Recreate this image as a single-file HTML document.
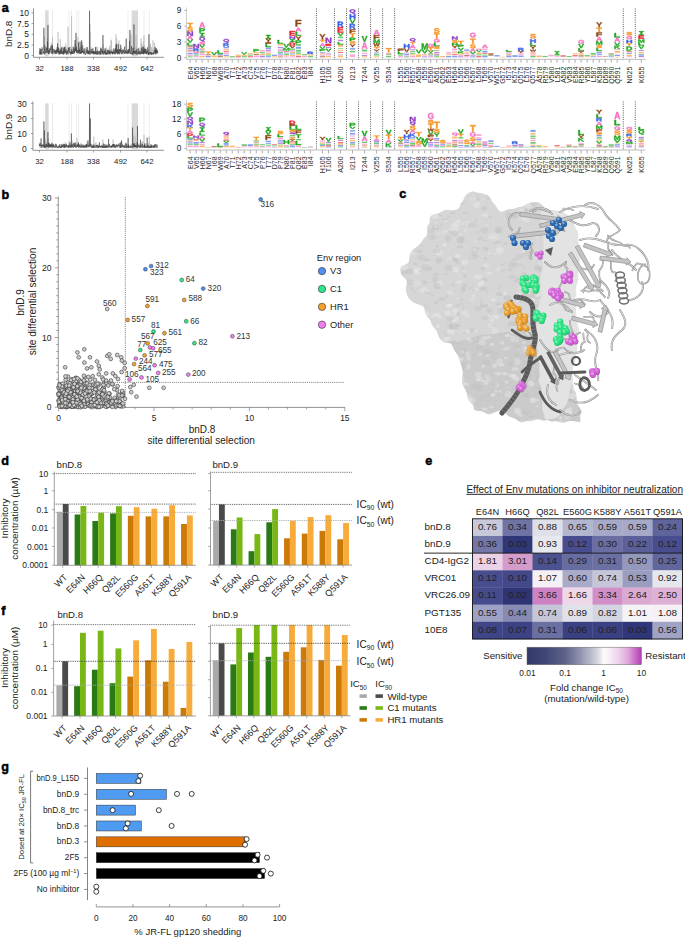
<!DOCTYPE html>
<html><head><meta charset="utf-8"><style>
html,body{margin:0;padding:0;background:#fff;}
body{width:685px;height:937px;overflow:hidden;}
svg{display:block;font-family:"Liberation Sans", sans-serif;}
use{stroke-width:0.45px;}
</style></head><body>
<svg width="685" height="937" viewBox="0 0 685 937" fill="#222">
<defs><path id="gA" d="M79 100 70 74H31L21 100H0L37 0H63L100 100ZM50 15 50 17Q49 20 48 23Q47 26 35 59H65L55 30L52 20Z" vector-effect="non-scaling-stroke"/>
<path id="gC" d="M53 84Q73 84 81 66L100 72Q94 86 82 93Q70 100 53 100Q28 100 14 87Q0 73 0 50Q0 26 13 13Q27 0 52 0Q71 0 82 7Q94 14 99 27L79 32Q77 25 70 20Q62 16 53 16Q38 16 30 25Q22 33 22 50Q22 66 30 75Q38 84 53 84Z" vector-effect="non-scaling-stroke"/>
<path id="gD" d="M100 49Q100 65 93 76Q86 88 74 94Q61 100 45 100H0V0H41Q69 0 84 13Q100 25 100 49ZM76 49Q76 33 67 25Q58 16 40 16H23V84H43Q59 84 67 75Q76 65 76 49Z" vector-effect="non-scaling-stroke"/>
<path id="gE" d="M0 100V0H96V16H26V41H91V57H26V84H100V100Z" vector-effect="non-scaling-stroke"/>
<path id="gF" d="M28 16V47H98V63H28V100H0V0H100V16Z" vector-effect="non-scaling-stroke"/>
<path id="gG" d="M52 84Q61 84 68 82Q76 79 80 76V62H56V47H100V83Q92 91 79 96Q66 100 52 100Q27 100 13 87Q0 74 0 50Q0 26 13 13Q27 0 52 0Q88 0 98 25L78 31Q75 24 68 20Q61 16 52 16Q37 16 29 25Q21 33 21 50Q21 66 30 75Q38 84 52 84Z" vector-effect="non-scaling-stroke"/>
<path id="gH" d="M75 100V57H25V100H0V0H25V40H75V0H100V100Z" vector-effect="non-scaling-stroke"/>
<path id="gI" d="M0 0H100V17H68V83H100V100H0V83H32V17H0Z" vector-effect="non-scaling-stroke"/>
<path id="gK" d="M74 100 35 54 22 64V100H0V0H22V45L70 0H96L51 42L100 100Z" vector-effect="non-scaling-stroke"/>
<path id="gL" d="M0 100V0H28V84H100V100Z" vector-effect="non-scaling-stroke"/>
<path id="gM" d="M82 100V39Q82 37 82 35Q82 33 82 18Q77 37 75 44L57 100H43L25 44L17 18Q18 34 18 39V100H0V0H28L45 56L47 61L50 75L54 59L73 0H100V100Z" vector-effect="non-scaling-stroke"/>
<path id="gN" d="M71 100 20 23Q22 34 22 41V100H0V0H28L80 78Q78 67 78 58V0H100V100Z" vector-effect="non-scaling-stroke"/>
<path id="gP" d="M100 32Q100 41 95 49Q89 56 79 61Q69 65 56 65H25V100H0V0H55Q76 0 88 8Q100 17 100 32ZM74 32Q74 16 52 16H25V49H52Q63 49 69 44Q74 40 74 32Z" vector-effect="non-scaling-stroke"/>
<path id="gQ" d="M100 39Q100 55 90 65Q81 75 63 78Q66 83 70 86Q74 88 82 88Q86 88 90 87L90 98Q81 100 73 100Q62 100 54 95Q47 90 42 79Q22 77 11 67Q0 56 0 39Q0 21 13 10Q26 0 50 0Q74 0 87 10Q100 21 100 39ZM79 39Q79 27 71 20Q64 13 50 13Q36 13 28 20Q21 27 21 39Q21 52 29 59Q36 67 50 67Q64 67 71 59Q79 52 79 39Z" vector-effect="non-scaling-stroke"/>
<path id="gR" d="M74 100 49 62H23V100H0V0H54Q74 0 84 8Q95 15 95 30Q95 40 88 48Q82 56 71 58L100 100ZM72 31Q72 16 52 16H23V46H52Q62 46 67 42Q72 38 72 31Z" vector-effect="non-scaling-stroke"/>
<path id="gS" d="M100 71Q100 85 87 92Q75 100 51 100Q29 100 16 93Q4 87 0 73L23 70Q26 78 32 81Q39 85 51 85Q77 85 77 72Q77 68 74 65Q71 62 66 60Q60 59 45 56Q33 54 27 52Q22 50 18 48Q14 46 11 43Q9 40 7 36Q5 32 5 27Q5 14 17 7Q29 0 51 0Q72 0 83 6Q94 11 97 24L74 27Q72 21 66 18Q61 14 51 14Q29 14 29 26Q29 30 31 32Q33 35 38 36Q43 38 56 41Q73 44 80 46Q87 49 91 52Q96 55 98 60Q100 65 100 71Z" vector-effect="non-scaling-stroke"/>
<path id="gT" d="M62 16V100H38V16H0V0H100V16Z" vector-effect="non-scaling-stroke"/>
<path id="gV" d="M61 100H39L0 0H23L45 64Q47 70 50 83L52 77L56 64L77 0H100Z" vector-effect="non-scaling-stroke"/>
<path id="gW" d="M81 100H63L53 42Q51 32 50 21Q49 30 48 35Q47 40 37 100H19L0 0H16L26 65L28 80Q30 70 31 61Q33 52 42 0H59L68 53Q69 59 72 80L73 72L76 56L84 0H100Z" vector-effect="non-scaling-stroke"/>
<path id="gY" d="M61 59V100H39V59L0 0H24L50 42L76 0H100Z" vector-effect="non-scaling-stroke"/>
<linearGradient id="cbar" x1="0" x2="1" y1="0" y2="0"><stop offset="0" stop-color="#343a68"/><stop offset="0.15" stop-color="#3f4574"/><stop offset="0.33" stop-color="#5d6289"/><stop offset="0.45" stop-color="#8a8daa"/><stop offset="0.55" stop-color="#b5b7c8"/><stop offset="0.62" stop-color="#d6d7df"/><stop offset="0.67" stop-color="#fbfbfb"/><stop offset="0.72" stop-color="#f8eef7"/><stop offset="0.8" stop-color="#eed0ec"/><stop offset="0.88" stop-color="#e0a8dc"/><stop offset="0.95" stop-color="#c86ac6"/><stop offset="1" stop-color="#ad3fb5"/></linearGradient>
<clipPath id="surfclip"><path d="M468.6 193Q472.2 191.1 474.2 191.8Q476.1 192.6 478.2 192.7Q480.3 192.9 483.1 193.6Q485.8 194.3 488.2 195.7Q490.5 197.2 491.2 199.4Q491.9 201.7 493.7 203.3Q495.5 204.8 497.2 208.3Q499 211.9 501.5 211.7Q504 211.5 506.2 210.1Q508.5 208.7 510.9 209Q513.3 209.3 515.3 208.3Q517.3 207.2 519.5 207Q521.7 206.8 523.5 205.9Q525.2 205 528.1 203.6Q531 202.2 534.9 202.2Q538.9 202.1 540.6 203.4Q542.4 204.6 543.7 206.7Q544.9 208.8 545.6 210.8Q546.3 212.7 546.6 214.7Q546.9 216.7 546.3 218.9Q545.7 221.1 547.2 223Q548.6 224.9 548.5 227.4Q548.5 229.9 548.2 232.5Q547.9 235 547.6 237.4Q547.4 239.9 548.3 242.3Q549.1 244.8 548.1 246.8Q547.1 248.9 547.1 251.2Q547.1 253.5 546.9 255.7Q546.8 258 546.1 260Q545.5 262.1 545.6 264.5Q545.7 266.8 544.7 269Q543.7 271.2 544.1 273.6Q544.6 276 543.8 278.2Q543.1 280.5 543.6 282.6Q544.2 284.7 544.3 286.8Q544.5 288.9 543.5 291.1Q542.6 293.3 542.9 295.4Q543.2 297.4 543.6 299.5Q544 301.5 545.4 303.4Q546.8 305.3 546.2 307.5Q545.6 309.7 546.2 311.7Q546.7 313.7 546.5 315.8Q546.2 317.9 547.1 319.8Q548.1 321.7 548.5 323.8Q549 325.9 549.5 327.9Q550.1 329.9 551.1 331.8Q552.1 333.7 552.7 335.7Q553.3 337.7 554.4 339.5Q555.5 341.4 555.8 343.5Q556.1 345.6 557 347.3Q557.9 349 558.8 351.1Q559.7 353.1 560.9 355Q562.1 356.9 562.7 359.2Q563.2 361.4 563.5 363.7Q563.8 366.1 565.8 367.7Q567.8 369.3 568.7 371.1Q569.6 372.9 570.3 374.8Q571 376.7 571.2 378.8Q571.5 380.9 572.5 382.7Q573.4 384.6 573.3 386.8Q573.1 389 574.7 390.7Q576.2 392.5 576.4 394.6Q576.6 396.7 576.8 398.8Q577 401 577.2 403Q577.5 405.1 579.1 406.9Q580.7 408.6 581.2 410.6Q581.8 412.6 580.8 414.8Q579.8 417.1 580.4 419.9Q581 422.8 578.9 422.2Q576.9 421.6 574.8 421.2Q572.7 420.8 570.6 421Q568.6 421.2 566.5 421.9Q564.4 422.7 562.4 422.8Q560.3 423 558.2 421.7Q556.1 420.4 554 421.3Q551.8 422.2 549.8 420.9Q547.9 419.7 545.5 420.3Q543.2 421 541.2 420Q539.2 419.1 537.3 419.5Q535.5 420 533.3 420.6Q531.2 421.3 528.9 421.1Q526.5 420.8 523.9 422.1Q521.2 423.3 519.3 421.5Q517.4 419.7 515.3 418.7Q513.3 417.6 510.7 417Q508.1 416.3 506.4 414.2Q504.7 412.1 502.3 411Q500 409.9 497.3 411.2Q494.7 412.5 491.7 413.8Q488.7 415.1 486.7 413.8Q484.7 412.4 482.6 411.6Q480.5 410.8 477.4 410.8Q474.2 410.9 473.8 408.2Q473.4 405.4 471.4 403.6Q469.3 401.7 468.2 399.3Q467.1 396.9 466.9 394.6Q466.6 392.2 465.5 390.3Q464.4 388.3 463.2 386.1Q462.1 383.9 462.1 381.9Q462 379.9 462.3 377.9Q462.5 375.9 462.8 374Q463 372.2 462.4 369.5Q461.8 366.7 460.9 364.4Q460.1 362.1 459.4 359.7Q458.8 357.2 457.6 355Q456.5 352.8 454.8 350.9Q453.2 349 452.6 346.5Q452 344 450.1 343.3Q448.2 342.5 446 342.7Q443.7 342.8 442 341.1Q440.2 339.5 439.1 337.6Q437.9 335.7 437.6 333.4Q437.2 331.1 435.5 329.5Q433.9 327.9 432.6 326.1Q431.3 324.3 430.9 322Q430.6 319.7 428.8 318.1Q426.9 316.5 425.9 314.5Q424.9 312.6 424.7 310.2Q424.5 307.8 423.1 306.5Q421.8 305.2 418.7 304.4Q415.6 303.6 413.4 302.4Q411.2 301.1 409.4 299.1Q407.6 297 406.9 294.6Q406.2 292.1 406 289.6Q405.8 287.1 406.6 284.4Q407.5 281.6 406.2 279.9Q404.9 278.2 402.8 276.6Q400.6 275.1 400.4 270.6Q400.2 266.1 402.9 265.5Q405.7 264.9 407.5 263.4Q409.3 261.9 409.3 259.2Q409.4 256.4 410.1 253.6Q410.9 250.8 412.8 249.5Q414.8 248.1 416.8 247Q418.8 245.8 420.1 244.1Q421.3 242.4 422.4 240.5Q423.4 238.6 425.1 237.3Q426.8 236 427 233.7Q427.3 231.4 427.1 229.1Q426.8 226.7 428.4 224.7Q429.9 222.6 429.7 219.8Q429.5 217.1 431.2 215.8Q432.9 214.6 435.1 214.2Q437.2 213.8 439.1 212.9Q441 212 443.2 210.8Q445.5 209.5 448 210Q450.5 210.5 452.9 210.2Q455.3 209.9 457.3 209.3Q459.4 208.8 459.8 206.3Q460.3 203.8 462 201.8Q463.7 199.8 464.4 197.4Q465 195 468.6 193Z"/></clipPath>
<radialGradient id="sph" cx="0.38" cy="0.32" r="0.75"><stop offset="0" stop-color="#fff" stop-opacity="0.6"/><stop offset="0.45" stop-color="#fff" stop-opacity="0"/><stop offset="1" stop-color="#000" stop-opacity="0.3"/></radialGradient></defs>
<text x="1.8" y="12" font-size="12.6" font-weight="bold" fill="#000" stroke="#000" stroke-width="0.5">a</text>
<rect x="45.14" y="10.4" width="3.52" height="45.9" fill="#d9d9d9"/>
<rect x="52.01" y="10.4" width="0.7" height="45.9" fill="#e6e6e6"/>
<rect x="52.19" y="10.4" width="0.7" height="45.9" fill="#e6e6e6"/>
<rect x="68.76" y="10.4" width="0.7" height="45.9" fill="#e6e6e6"/>
<rect x="71.05" y="10.4" width="0.7" height="45.9" fill="#e6e6e6"/>
<rect x="76.51" y="10.4" width="0.7" height="45.9" fill="#e6e6e6"/>
<rect x="78.45" y="10.4" width="0.7" height="45.9" fill="#e6e6e6"/>
<rect x="127.62" y="10.4" width="0.7" height="45.9" fill="#e6e6e6"/>
<rect x="131.67" y="10.4" width="6.34" height="45.9" fill="#d9d9d9"/>
<rect x="143.65" y="10.4" width="0.7" height="45.9" fill="#e6e6e6"/>
<rect x="148.94" y="10.4" width="0.7" height="45.9" fill="#e6e6e6"/>
<polyline points="39.32,53.59 39.5,52.74 39.68,53.11 39.85,52.41 40.03,52.79 40.2,52.43 40.38,54.5 40.56,52.54 40.73,50.76 40.91,54.49 41.09,49.68 41.26,52.49 41.44,53.23 41.61,54.61 41.79,50.76 41.97,54.1 42.14,53.59 42.32,52.15 42.5,54.1 42.67,54.21 42.85,54.23 43.02,52.98 43.2,51.75 43.38,52.09 43.55,52.18 43.73,53.26 43.91,52.46 44.08,53.71 44.26,47.16 44.43,36.39 44.61,54.59 44.79,53.94 44.96,48.83 45.14,54.16 45.32,53.12 45.49,51.51 45.67,53.66 45.84,49.06 46.02,46.52 46.2,53.3 46.37,49.04 46.55,53.35 46.73,53.48 46.9,51.44 47.08,51.27 47.25,52.76 47.43,49.26 47.61,37.67 47.78,53.26 47.96,53.47 48.14,49.8 48.31,49.85 48.49,50.49 48.66,53.89 48.84,52.01 49.02,51.48 49.19,54.22 49.37,53.56 49.55,50.83 49.72,50.34 49.9,51.22 50.07,50.73 50.25,51.43 50.43,51.74 50.6,52.29 50.78,53.38 50.95,52.52 51.13,52.84 51.31,42.74 51.48,51.47 51.66,52.24 51.84,52.57 52.01,52.47 52.19,52.66 52.36,51.28 52.54,37.24 52.72,50.57 52.89,53.41 53.07,51.83 53.25,50.18 53.42,53.92 53.6,51.96 53.77,51.89 53.95,53.07 54.13,53.21 54.3,54.47 54.48,49.89 54.66,53.77 54.83,54.04 55.01,50.91 55.18,54.38 55.36,49.58 55.54,50.96 55.71,50.47 55.89,52.21 56.07,53.7 56.24,54.3 56.42,47.35 56.59,52.72 56.77,52.88 56.95,47.59 57.12,53.28 57.3,52.61 57.48,52.51 57.65,52.44 57.83,53.7 58,32.12 58.18,48.65 58.36,50.19 58.53,54.91 58.71,54.43 58.89,51.3 59.06,52.32 59.24,52.73 59.41,49.44 59.59,54.26 59.77,48.9 59.94,51.96 60.12,51.09 60.3,38.95 60.47,50.33 60.65,52.66 60.82,53.14 61,50.58 61.18,51.59 61.35,53.79 61.53,48.32 61.7,48.61 61.88,47.91 62.06,51.88 62.23,51.11 62.41,52.63 62.59,53.57 62.76,52.13 62.94,51.87 63.11,53.38 63.29,47.03 63.47,54.3 63.64,53.57 63.82,53.34 64,48.36 64.17,52.39 64.35,52.55 64.52,53.37 64.7,53.4 64.88,53.98 65.05,50.04 65.23,51.18 65.41,50.03 65.58,53.44 65.76,43.56 65.93,53.87 66.11,54.67 66.29,53.06 66.46,52.34 66.64,51.12 66.82,53.84 66.99,51.1 67.17,47.3 67.34,53.59 67.52,53.54 67.7,54.35 67.87,51.98 68.05,26.56 68.23,50.4 68.4,50.38 68.58,48.19 68.75,51.83 68.93,49.81 69.11,53.53 69.28,53.39 69.46,51.61 69.64,53.36 69.81,50.51 69.99,47.65 70.16,50.9 70.34,52.94 70.52,52.88 70.69,46.82 70.87,53 71.05,51.46 71.22,52.32 71.4,51.82 71.57,16.32 71.75,52.74 71.93,53.68 72.1,46.67 72.28,50.96 72.46,49.44 72.63,51.59 72.81,49.17 72.98,46.99 73.16,46.27 73.34,51.77 73.51,51.76 73.69,49.82 73.86,50.29 74.04,49.41 74.22,52.59 74.39,54.39 74.57,50 74.75,48.52 74.92,48.93 75.1,43.79 75.27,47.94 75.45,51.65 75.63,47.31 75.8,50.92 75.98,45.63 76.16,49.92 76.33,48.98 76.51,49.92 76.68,50.66 76.86,53.47 77.04,50.84 77.21,54.27 77.39,49.61 77.57,47.99 77.74,41.28 77.92,37.24 78.09,52.45 78.27,53.59 78.45,41.54 78.62,53.34 78.8,47.68 78.98,54.2 79.15,51.01 79.33,48.3 79.5,49.59 79.68,50.83 79.86,52.43 80.03,52.67 80.21,47.05 80.39,49.28 80.56,51.02 80.74,50.26 80.91,52.7 81.09,47.46 81.27,46.23 81.44,52.59 81.62,50.57 81.8,47.12 81.97,52.36 82.15,41.98 82.32,45.16 82.5,51.61 82.68,47.93 82.85,44.56 83.03,53.44 83.21,49.57 83.38,51.5 83.56,51.88 83.73,49.19 83.91,52.3 84.09,53.66 84.26,53.72 84.44,51.48 84.61,49.78 84.79,51.36 84.97,51.79 85.14,51.66 85.32,47.62 85.5,50.56 85.67,53.01 85.85,52.4 86.02,48.62 86.2,53.09 86.38,52.69 86.55,52.16 86.73,53.59 86.91,49.47 87.08,54.5 87.26,47.42 87.43,52.81 87.61,53.85 87.79,51.82 87.96,54.33 88.14,51.53 88.32,50.73 88.49,53.38 88.67,52.96 88.84,50.08 89.02,53.28 89.2,52.18 89.37,51.56 89.55,48.54 89.73,53.5 89.9,23.58 90.08,50.25 90.25,32.12 90.43,53.11 90.61,54.69 90.78,54.61 90.96,46.97 91.14,52.25 91.31,49.03 91.49,52.95 91.66,51.62 91.84,53.16 92.02,53.46 92.19,52.9 92.37,52.68 92.55,48.91 92.72,52.85 92.9,51.84 93.07,53 93.25,52.19 93.43,54.19 93.6,50.32 93.78,53.39 93.96,52.81 94.13,53.17 94.31,50.95 94.48,51.79 94.66,52.71 94.84,52.4 95.01,52.06 95.19,51.34 95.36,51.74 95.54,49.62 95.72,48.11 95.89,51.35 96.07,54.18 96.25,48.18 96.42,46.53 96.6,53.25 96.77,53.13 96.95,54.61 97.13,50.8 97.3,53.82 97.48,47.06 97.66,54.82 97.83,52.17 98.01,51.03 98.18,53.17 98.36,53.64 98.54,51.89 98.71,53.09 98.89,52.87 99.07,52.52 99.24,53.29 99.42,52.82 99.59,50.7 99.77,53.09 99.95,52.45 100.12,53.84 100.3,51.03 100.48,54.24 100.65,50.58 100.83,55.05 101,53.84 101.18,54.36 101.36,50.86 101.53,52.51 101.71,54.34 101.89,53.65 102.06,49.7 102.24,52.66 102.41,51.33 102.59,54.25 102.77,54.26 102.94,51.31 103.12,44.55 103.3,53.29 103.47,51.25 103.65,53.7 103.82,48.92 104,53 104.18,52.97 104.35,54.48 104.53,53.09 104.71,52.27 104.88,49.03 105.06,54.01 105.23,50.09 105.41,52.89 105.59,52.81 105.76,53.66 105.94,54.37 106.11,53.94 106.29,47.18 106.47,53.77 106.64,52.97 106.82,49.22 107,54.54 107.17,51.28 107.35,53.03 107.52,51.71 107.7,49.78 107.88,52.26 108.05,52.24 108.23,49.86 108.41,50.24 108.58,52.91 108.76,51.97 108.93,53.67 109.11,47.84 109.29,53.74 109.46,51.56 109.64,45.82 109.82,49.41 109.99,52.24 110.17,52.9 110.34,52.77 110.52,49.04 110.7,50.77 110.87,51.7 111.05,39.64 111.23,53.21 111.4,40.66 111.58,52.34 111.75,51.07 111.93,50.68 112.11,52.07 112.28,49.62 112.46,50.18 112.64,52.3 112.81,54.59 112.99,49.74 113.16,53.41 113.34,53.06 113.52,52.2 113.69,53.78 113.87,53.2 114.05,51.8 114.22,52.57 114.4,50.97 114.57,53.09 114.75,52.18 114.93,53.51 115.1,52.42 115.28,51.42 115.46,52.63 115.63,54.04 115.81,52.49 115.98,34.25 116.16,49.02 116.34,52.03 116.51,52.75 116.69,38.52 116.86,45.72 117.04,53.68 117.22,53.82 117.39,52.64 117.57,54.45 117.75,50.01 117.92,52.16 118.1,51.36 118.27,53.8 118.45,53.25 118.63,50.62 118.8,50.67 118.98,40.53 119.16,49.99 119.33,54.55 119.51,52.34 119.68,53.12 119.86,50.1 120.04,52.61 120.21,51.64 120.39,52.83 120.57,51.02 120.74,48.56 120.92,53.32 121.09,54.55 121.27,53.68 121.45,47.62 121.62,51.85 121.8,52.86 121.98,53.71 122.15,49.9 122.33,51.87 122.5,52.61 122.68,53.12 122.86,52.48 123.03,52.69 123.21,50.87 123.39,48.89 123.56,54.51 123.74,54.14 123.91,52.5 124.09,52.1 124.27,54.23 124.44,53.29 124.62,53.16 124.8,53.28 124.97,53.18 125.15,52.53 125.32,50.47 125.5,50.8 125.68,51.12 125.85,51.89 126.03,53.34 126.21,53.16 126.38,51 126.56,52.15 126.73,50.69 126.91,51.82 127.09,51.99 127.26,51.32 127.44,54.11 127.61,52.55 127.79,53.16 127.97,50.21 128.14,53.21 128.32,51.69 128.5,52.85 128.67,51.02 128.85,50.59 129.02,52.68 129.2,52.17 129.38,52.1 129.55,50.85 129.73,52.91 129.91,52.38 130.08,53.13 130.26,53.85 130.43,52.52 130.61,52.06 130.79,53.61 130.96,48.51 131.14,34.25 131.32,51.04 131.49,51.78 131.67,54.43 131.84,52.45 132.02,54.25 132.2,52.54 132.37,50.99 132.55,47.14 132.73,50.86 132.9,54.29 133.08,53.07 133.25,48.52 133.43,52.08 133.61,47.15 133.78,53.52 133.96,53.33 134.14,54.18 134.31,53.39 134.49,50.03 134.66,53.89 134.84,50.94 135.02,51.89 135.19,51.14 135.37,53.21 135.55,52.86 135.72,47.21 135.9,54.23 136.07,35.1 136.25,48.16 136.43,51.29 136.6,46.87 136.78,54.91 136.96,52.6 137.13,53.8 137.31,52.74 137.48,52.04 137.66,50.45 137.84,53.13 138.01,49.23 138.19,53.86 138.37,48.59 138.54,52.02 138.72,54.11 138.89,54.09 139.07,54.1 139.25,53.21 139.42,51.23 139.6,47.53 139.77,49.38 139.95,53.63 140.13,54.45 140.3,52.24 140.48,53.81 140.66,52 140.83,52.83 141.01,38.31 141.18,53.94 141.36,50.4 141.54,43.18 141.71,52.06 141.89,52.75 142.07,44.76 142.24,54.23 142.42,53.87 142.59,53.32 142.77,49.95 142.95,48.76 143.12,51.45 143.3,41.73 143.48,51.87 143.65,51.52 143.83,52.24 144,35.1 144.18,51.45 144.36,52.17 144.53,45.13 144.71,47.54 144.89,48.85 145.06,53.62 145.24,53.39 145.41,52.22 145.59,52.32 145.77,52.66 145.94,52.22 146.12,50.35 146.3,53.55 146.47,51.44 146.65,52.79 146.82,52.85 147,52.5 147.18,50.04 147.35,51.32 147.53,53.07 147.71,50.93 147.88,51.58 148.06,50.84 148.23,52.46 148.41,49.34 148.59,51.43 148.76,53.78 148.94,53.92 149.12,53.98 149.29,51.11 149.47,53.14 149.64,52.69 149.82,52.08 150,48.69 150.17,43.46 150.35,52.25 150.52,44.63 150.7,50.6 150.88,47.69 151.05,52.08 151.23,53.47 151.41,50.24 151.58,47.02 151.76,53.89 151.93,51.47 152.11,50.78 152.29,50 152.46,53.52 152.64,52.73 152.82,48.92 152.99,40.23 153.17,51.23 153.34,48.27 153.52,50.92 153.7,50.5 153.87,52.21 154.05,51.85 154.23,52.58 154.4,51.48 154.58,42.79 154.75,51.41 154.93,50.32 155.11,53.01 155.28,50.35 155.46,54.96 155.64,53.98 155.81,52.62 155.99,54.36 156.16,50.9 156.34,51.76 156.52,53.58 156.69,52.03 156.87,54.13 157.05,53.59 157.22,52.79 157.4,54.18 157.57,49.36 157.75,53.17" fill="none" stroke="#b5b5b5" stroke-width="0.55" stroke-linejoin="bevel"/>
<polyline points="39.32,50.54 39.5,52.44 39.68,54.42 39.85,48.16 40.03,48.73 40.2,49.18 40.38,54.42 40.56,52.03 40.73,49.01 40.91,53.77 41.09,53.41 41.26,52.61 41.44,54.48 41.61,51.59 41.79,49.43 41.97,50.49 42.14,47.37 42.32,51.81 42.5,51.95 42.67,52.19 42.85,53.12 43.02,53.58 43.2,53.16 43.38,52.16 43.55,52.97 43.73,51.86 43.91,27.85 44.08,50.74 44.26,53 44.43,54.54 44.61,53.55 44.79,45.34 44.96,50.18 45.14,52.67 45.32,52.37 45.49,52.23 45.67,52.96 45.84,51.59 46.02,50.11 46.2,47.6 46.37,52.21 46.55,52.23 46.73,52.39 46.9,51.46 47.08,48.49 47.25,52.86 47.43,41.61 47.61,49.59 47.78,47.35 47.96,24.86 48.14,51.82 48.31,52.18 48.49,50.83 48.66,54.18 48.84,49.99 49.02,53.92 49.19,50.33 49.37,48.18 49.55,51.48 49.72,51.74 49.9,51.8 50.07,51.76 50.25,50.79 50.43,48.82 50.6,49.83 50.78,46.32 50.95,51.39 51.13,52.56 51.31,52.44 51.48,53.5 51.66,52.09 51.84,52.63 52.01,44.83 52.19,50.34 52.36,45.69 52.54,54.26 52.72,50.88 52.89,48.54 53.07,50.64 53.25,52.42 53.42,51.41 53.6,51.49 53.77,51.25 53.95,50.96 54.13,49.21 54.3,51.09 54.48,51.36 54.66,51.91 54.83,50.99 55.01,53.26 55.18,51.03 55.36,52.91 55.54,50.47 55.71,53.5 55.89,52.53 56.07,52.74 56.24,53.75 56.42,49.82 56.59,51.6 56.77,52.22 56.95,49.37 57.12,52.9 57.3,52.48 57.48,49.68 57.65,43.29 57.83,51.95 58,46.94 58.18,51.7 58.36,53.3 58.53,50.76 58.71,48.36 58.89,51.46 59.06,51.03 59.24,53.57 59.41,54.48 59.59,50.86 59.77,53.79 59.94,51.99 60.12,52.91 60.3,51.68 60.47,49.82 60.65,54.13 60.82,52.26 61,52.33 61.18,48.14 61.35,51.92 61.53,53.49 61.7,53.25 61.88,46.83 62.06,53.7 62.23,52.41 62.41,51.78 62.59,53.82 62.76,53.52 62.94,54.4 63.11,53.43 63.29,50.59 63.47,51.73 63.64,54.36 63.82,48.04 64,53.94 64.17,53.49 64.35,46.81 64.52,51.11 64.7,52.06 64.88,46.9 65.05,52.05 65.23,51.19 65.41,52.82 65.58,52.09 65.76,52.04 65.93,49.01 66.11,53.15 66.29,52.42 66.46,54.54 66.64,54.3 66.82,50.94 66.99,52.93 67.17,52.77 67.34,50.69 67.52,52.62 67.7,51.89 67.87,52.56 68.05,54.47 68.23,50.94 68.4,47.92 68.58,49.17 68.75,51.92 68.93,51.37 69.11,51.05 69.28,46.94 69.46,48.3 69.64,52.61 69.81,52.15 69.99,52.41 70.16,53.04 70.34,53.1 70.52,52.42 70.69,54.67 70.87,51.46 71.05,52.89 71.22,53.84 71.4,52.49 71.57,53.36 71.75,49.02 71.93,53.72 72.1,51.99 72.28,51.49 72.46,53.43 72.63,53.87 72.81,51.54 72.98,52.99 73.16,53.6 73.34,54.07 73.51,50.65 73.69,47.04 73.86,52.68 74.04,50.52 74.22,48.65 74.39,49.2 74.57,53.02 74.75,50.54 74.92,50.1 75.1,40.15 75.27,51.21 75.45,48.65 75.63,49.58 75.8,50.22 75.98,32.97 76.16,51.18 76.33,47.07 76.51,52.43 76.68,51.34 76.86,53.08 77.04,51.26 77.21,50.95 77.39,50.04 77.57,52.4 77.74,52.4 77.92,52.61 78.09,50.79 78.27,51.25 78.45,42.65 78.62,52.88 78.8,50.19 78.98,52.71 79.15,52.76 79.33,49.44 79.5,51.05 79.68,50.84 79.86,53.9 80.03,41.5 80.21,44.14 80.39,53.13 80.56,53.87 80.74,53.2 80.91,51.59 81.09,53.41 81.27,51.48 81.44,53.28 81.62,40.29 81.8,52.44 81.97,52.96 82.15,45.64 82.32,51.39 82.5,51.96 82.68,52.08 82.85,50.75 83.03,52.65 83.21,51.59 83.38,52.83 83.56,53.92 83.73,52.8 83.91,52 84.09,48.31 84.26,52.01 84.44,52.82 84.61,52 84.79,51.43 84.97,54.71 85.14,53.25 85.32,54.69 85.5,54.42 85.67,53.61 85.85,53 86.02,52.51 86.2,52.46 86.38,49.57 86.55,51.81 86.73,51.89 86.91,53.07 87.08,47.04 87.26,49.53 87.43,53.49 87.61,53.36 87.79,51.04 87.96,50.52 88.14,53.27 88.32,50.85 88.49,54.18 88.67,52.96 88.84,51.05 89.02,53.67 89.2,52.77 89.37,53.04 89.55,10.77 89.73,54.71 89.9,53.55 90.08,52.98 90.25,52.83 90.43,52 90.61,51.52 90.78,53.48 90.96,53.36 91.14,49.07 91.31,51.3 91.49,53 91.66,53.42 91.84,51.24 92.02,51.08 92.19,53.05 92.37,52.33 92.55,52.92 92.72,53.07 92.9,48.26 93.07,54.08 93.25,51.42 93.43,54.01 93.6,53.72 93.78,51.26 93.96,54.36 94.13,54.13 94.31,54.3 94.48,53.85 94.66,52.72 94.84,51.34 95.01,53.86 95.19,51.86 95.36,54.29 95.54,46.97 95.72,53.41 95.89,53.46 96.07,52.28 96.25,52.47 96.42,52.98 96.6,54.48 96.77,51.06 96.95,51.58 97.13,53.37 97.3,54.16 97.48,52.58 97.66,50.54 97.83,54.49 98.01,54.01 98.18,52.45 98.36,53.67 98.54,53.07 98.71,52.78 98.89,51.06 99.07,51.43 99.24,50.82 99.42,51.03 99.59,53.56 99.77,54.86 99.95,52.43 100.12,52.15 100.3,52.16 100.48,53.65 100.65,47.6 100.83,54.44 101,51.04 101.18,51.31 101.36,50.46 101.53,48.63 101.71,51.43 101.89,51.64 102.06,52.78 102.24,50.76 102.41,51.52 102.59,50.95 102.77,54.1 102.94,35.1 103.12,52.9 103.3,52.24 103.47,54.57 103.65,54.23 103.82,53.45 104,52.69 104.18,52.55 104.35,51.25 104.53,53.27 104.71,52.3 104.88,50.62 105.06,53.6 105.23,48.23 105.41,53.82 105.59,53.21 105.76,54.74 105.94,53.21 106.11,53.72 106.29,53.71 106.47,52.64 106.64,54.26 106.82,52.72 107,54.71 107.17,53.55 107.35,49.9 107.52,52.8 107.7,52.11 107.88,54.05 108.05,54.32 108.23,50.23 108.41,51.26 108.58,51.41 108.76,53.03 108.93,50.83 109.11,53.78 109.29,52.29 109.46,52.34 109.64,54.21 109.82,50.38 109.99,53 110.17,51.91 110.34,54.46 110.52,54.31 110.7,53.52 110.87,52.05 111.05,50.53 111.23,52.32 111.4,53.11 111.58,51.96 111.75,53.18 111.93,52.76 112.11,52.22 112.28,53.69 112.46,51.94 112.64,54.26 112.81,53.72 112.99,51.63 113.16,53.65 113.34,51.95 113.52,52.26 113.69,52.92 113.87,48.35 114.05,51.45 114.22,53.17 114.4,53.17 114.57,52.27 114.75,54.14 114.93,49.72 115.1,52.42 115.28,54.28 115.46,53.67 115.63,48.33 115.81,51.84 115.98,44.72 116.16,52.05 116.34,50.91 116.51,45.02 116.69,43.71 116.86,53.23 117.04,49.39 117.22,53.38 117.39,52.47 117.57,54.03 117.75,49.76 117.92,53.11 118.1,52.81 118.27,44.21 118.45,48.92 118.63,51.66 118.8,53.96 118.98,50.36 119.16,54.28 119.33,52.87 119.51,49.31 119.68,49.11 119.86,50.91 120.04,49.02 120.21,50.86 120.39,52.7 120.57,51.28 120.74,44.69 120.92,51.44 121.09,50.65 121.27,50.27 121.45,53.74 121.62,53.21 121.8,53.89 121.98,50.89 122.15,52.32 122.33,53.62 122.5,53.63 122.68,49.73 122.86,49.49 123.03,50.7 123.21,51.65 123.39,50.43 123.56,51.67 123.74,51.01 123.91,52.52 124.09,53.43 124.27,53.03 124.44,51.22 124.62,46.61 124.8,53.25 124.97,53.64 125.15,50.6 125.32,50.44 125.5,53.28 125.68,53.03 125.85,53.2 126.03,51.63 126.21,38.59 126.38,53.49 126.56,51.92 126.73,53.19 126.91,52.01 127.09,51.44 127.26,51.59 127.44,53.6 127.61,53.63 127.79,49.65 127.97,51.53 128.14,51.51 128.32,50.77 128.5,53.25 128.67,48.93 128.85,53.42 129.02,53.62 129.2,53.41 129.38,52.23 129.55,40.9 129.73,51.93 129.91,29.98 130.08,47.43 130.26,52.72 130.43,54.03 130.61,53.13 130.79,52.74 130.96,54.15 131.14,52.66 131.32,51.99 131.49,46.1 131.67,50.58 131.84,51.98 132.02,53.14 132.2,53.41 132.37,54.28 132.55,52.47 132.73,54.58 132.9,52.69 133.08,47.94 133.25,53.03 133.43,51.51 133.61,53.53 133.78,54.45 133.96,24.43 134.14,52.84 134.31,51.5 134.49,52.38 134.66,51.4 134.84,53.36 135.02,52.09 135.19,51.25 135.37,53.77 135.55,53.42 135.72,50.65 135.9,52.03 136.07,53.04 136.25,54.38 136.43,53.42 136.6,49.52 136.78,53.58 136.96,53.42 137.13,54.17 137.31,53.49 137.48,53.26 137.66,52.69 137.84,54.01 138.01,54.35 138.19,48.4 138.37,52.9 138.54,54.05 138.72,53.17 138.89,52.35 139.07,50.99 139.25,52.67 139.42,53.46 139.6,52.58 139.77,54.51 139.95,54.21 140.13,50.96 140.3,52.82 140.48,53.18 140.66,53.9 140.83,54.25 141.01,52.47 141.18,52.7 141.36,48.21 141.54,53.77 141.71,52.48 141.89,53.07 142.07,53.58 142.24,46.9 142.42,48.27 142.59,51.79 142.77,53.95 142.95,51.44 143.12,50.88 143.3,53.14 143.48,54.19 143.65,46.83 143.83,53.97 144,49.13 144.18,52.91 144.36,52.37 144.53,48.78 144.71,53.57 144.89,52.54 145.06,51.93 145.24,48.65 145.41,49.16 145.59,51.64 145.77,53.71 145.94,48.99 146.12,52.77 146.3,51.49 146.47,54.28 146.65,52.44 146.82,50.97 147,52.7 147.18,50.64 147.35,48.28 147.53,47.35 147.71,53.04 147.88,54.11 148.06,54.72 148.23,53.02 148.41,54.4 148.59,52.07 148.76,54.72 148.94,34.25 149.12,52.89 149.29,54.51 149.47,52.62 149.64,52.27 149.82,52.19 150,53.07 150.17,52.25 150.35,52.42 150.52,53.59 150.7,53.02 150.88,54.39 151.05,52.33 151.23,54.6 151.41,53.87 151.58,54.6 151.76,52.32 151.93,53.36 152.11,54.42 152.29,53.24 152.46,53.8 152.64,52.95 152.82,53.58 152.99,53.56 153.17,53.57 153.34,54.64 153.52,52.73 153.7,52.18 153.87,54.18 154.05,52.49 154.23,51.18 154.4,51.65 154.58,50.47 154.75,51.18 154.93,53.44 155.11,46.97 155.28,52.56 155.46,53.33 155.64,48.38 155.81,53.3 155.99,50.42 156.16,53.37 156.34,49.05 156.52,48.41 156.69,52.76 156.87,50.72 157.05,50.25 157.22,52.19 157.4,50.91 157.57,52.31 157.75,53.2" fill="none" stroke="#3a3a3a" stroke-width="0.5" stroke-linejoin="bevel"/>
<line x1="33.5" y1="8.4" x2="33.5" y2="57.3" stroke="#777" stroke-width="0.8"/>
<line x1="33.5" y1="57.3" x2="164" y2="57.3" stroke="#777" stroke-width="0.8"/>
<line x1="31.5" y1="12.9" x2="33.5" y2="12.9" stroke="#777" stroke-width="0.7"/>
<text x="28.9" y="15.9" font-size="8.5" text-anchor="end">10</text>
<line x1="31.5" y1="23.6" x2="33.5" y2="23.6" stroke="#777" stroke-width="0.7"/>
<text x="28.9" y="26.6" font-size="8.5" text-anchor="end">7.5</text>
<line x1="31.5" y1="34.3" x2="33.5" y2="34.3" stroke="#777" stroke-width="0.7"/>
<text x="28.9" y="37.3" font-size="8.5" text-anchor="end">5</text>
<line x1="31.5" y1="44.95" x2="33.5" y2="44.95" stroke="#777" stroke-width="0.7"/>
<text x="28.9" y="47.95" font-size="8.5" text-anchor="end">2.5</text>
<line x1="31.5" y1="55.6" x2="33.5" y2="55.6" stroke="#777" stroke-width="0.7"/>
<text x="28.9" y="58.6" font-size="8.5" text-anchor="end">0</text>
<line x1="39.5" y1="57.3" x2="39.5" y2="59.5" stroke="#777" stroke-width="0.7"/>
<text x="39.5" y="70.7" font-size="7.8" text-anchor="middle">32</text>
<line x1="66.99" y1="57.3" x2="66.99" y2="59.5" stroke="#777" stroke-width="0.7"/>
<text x="66.99" y="70.7" font-size="7.8" text-anchor="middle">188</text>
<line x1="93.43" y1="57.3" x2="93.43" y2="59.5" stroke="#777" stroke-width="0.7"/>
<text x="93.43" y="70.7" font-size="7.8" text-anchor="middle">338</text>
<line x1="120.57" y1="57.3" x2="120.57" y2="59.5" stroke="#777" stroke-width="0.7"/>
<text x="120.57" y="70.7" font-size="7.8" text-anchor="middle">492</text>
<line x1="147" y1="57.3" x2="147" y2="59.5" stroke="#777" stroke-width="0.7"/>
<text x="147" y="70.7" font-size="7.8" text-anchor="middle">642</text>
<text x="12.4" y="33.85" font-size="9.9" text-anchor="middle" transform="rotate(-90 12.4 33.85)">bnD.8</text>
<rect x="45.14" y="103.4" width="3.52" height="45.9" fill="#d9d9d9"/>
<rect x="52.01" y="103.4" width="0.7" height="45.9" fill="#e6e6e6"/>
<rect x="52.19" y="103.4" width="0.7" height="45.9" fill="#e6e6e6"/>
<rect x="68.76" y="103.4" width="0.7" height="45.9" fill="#e6e6e6"/>
<rect x="71.05" y="103.4" width="0.7" height="45.9" fill="#e6e6e6"/>
<rect x="76.51" y="103.4" width="0.7" height="45.9" fill="#e6e6e6"/>
<rect x="78.45" y="103.4" width="0.7" height="45.9" fill="#e6e6e6"/>
<rect x="127.62" y="103.4" width="0.7" height="45.9" fill="#e6e6e6"/>
<rect x="131.67" y="103.4" width="6.34" height="45.9" fill="#d9d9d9"/>
<rect x="143.65" y="103.4" width="0.7" height="45.9" fill="#e6e6e6"/>
<rect x="148.94" y="103.4" width="0.7" height="45.9" fill="#e6e6e6"/>
<polyline points="39.32,142.23 39.5,145.93 39.68,145.45 39.85,147.09 40.03,147.67 40.2,147.02 40.38,144.64 40.56,147.85 40.73,147.05 40.91,147.86 41.09,146.49 41.26,145.37 41.44,147.52 41.61,146.95 41.79,144.47 41.97,146.65 42.14,147.52 42.32,147.56 42.5,147.86 42.67,145.48 42.85,147.15 43.02,145.2 43.2,145.54 43.38,147.15 43.55,147.14 43.73,145.77 43.91,146.55 44.08,146.46 44.26,147.75 44.43,145.63 44.61,147.36 44.79,147.96 44.96,147.2 45.14,139.5 45.32,142.09 45.49,146.78 45.67,147.46 45.84,141.23 46.02,146.12 46.2,146.77 46.37,147.37 46.55,147.32 46.73,143.8 46.9,146.77 47.08,146.99 47.25,146.92 47.43,143.37 47.61,146.9 47.78,145.42 47.96,145.96 48.14,145.93 48.31,138 48.49,145.37 48.66,143.25 48.84,146.44 49.02,147.22 49.19,147.39 49.37,145.87 49.55,146.5 49.72,146.32 49.9,146.28 50.07,147.5 50.25,144.88 50.43,145.9 50.6,146.36 50.78,145.98 50.95,144.61 51.13,146.03 51.31,146.91 51.48,143.69 51.66,146.47 51.84,146.81 52.01,147.41 52.19,145.88 52.36,147.11 52.54,146.69 52.72,145.4 52.89,146.07 53.07,144.46 53.25,145.65 53.42,146.52 53.6,146.49 53.77,146.69 53.95,145.11 54.13,146.05 54.3,146.53 54.48,144.49 54.66,145.81 54.83,146.54 55.01,147.42 55.18,145.43 55.36,145.8 55.54,146.13 55.71,146.67 55.89,147.07 56.07,146.55 56.24,145.98 56.42,146.6 56.59,146.75 56.77,147.01 56.95,146.19 57.12,146.24 57.3,147.22 57.48,145.66 57.65,145.6 57.83,145.64 58,146.79 58.18,146.94 58.36,147.6 58.53,146.16 58.71,148.02 58.89,147.29 59.06,147.28 59.24,146.17 59.41,147.02 59.59,147.54 59.77,147.8 59.94,147.45 60.12,146.74 60.3,146.71 60.47,147.06 60.65,147.37 60.82,146.91 61,145.6 61.18,147.58 61.35,146.72 61.53,144.42 61.7,146.22 61.88,147.25 62.06,146.31 62.23,147.53 62.41,146.99 62.59,144.93 62.76,143.98 62.94,147.9 63.11,146.17 63.29,143.47 63.47,147.21 63.64,146.49 63.82,144.2 64,147.1 64.17,146.08 64.35,146.68 64.52,147.82 64.7,146.05 64.88,146.69 65.05,145.24 65.23,142.16 65.41,145.54 65.58,146.78 65.76,145.69 65.93,146.09 66.11,144.46 66.29,147.47 66.46,147.38 66.64,147.79 66.82,145.71 66.99,146.41 67.17,147.01 67.34,147.11 67.52,147.09 67.7,147.28 67.87,146.88 68.05,147.15 68.23,144.56 68.4,146.29 68.58,147.35 68.75,147.13 68.93,144.96 69.11,141 69.28,146.31 69.46,145.7 69.64,143.94 69.81,147.53 69.99,147.26 70.16,147.77 70.34,146.05 70.52,147.02 70.69,147.27 70.87,147.26 71.05,145.79 71.22,146.68 71.4,147.05 71.57,144.69 71.75,147.49 71.93,147.61 72.1,140.51 72.28,146.91 72.46,147.08 72.63,147.19 72.81,146.74 72.98,145.64 73.16,145.56 73.34,145.95 73.51,146.82 73.69,147.57 73.86,146.08 74.04,143.55 74.22,144.74 74.39,146.63 74.57,145.32 74.75,146.86 74.92,146.52 75.1,147.43 75.27,146.63 75.45,146.14 75.63,146.49 75.8,145.2 75.98,142.54 76.16,144.22 76.33,146.75 76.51,147.09 76.68,147.02 76.86,138 77.04,146.33 77.21,145.78 77.39,146.11 77.57,146.12 77.74,146.17 77.92,146.47 78.09,147.03 78.27,142.71 78.45,144.82 78.62,147.23 78.8,147.17 78.98,146.88 79.15,146.25 79.33,144.12 79.5,144.65 79.68,144.47 79.86,144.5 80.03,144.32 80.21,145.01 80.39,145.62 80.56,146.38 80.74,147.62 80.91,146.44 81.09,142.76 81.27,146.99 81.44,147.01 81.62,144.89 81.8,146.45 81.97,146.99 82.15,144.04 82.32,145.78 82.5,145.64 82.68,147.06 82.85,146.07 83.03,146.27 83.21,145.64 83.38,144.82 83.56,144.85 83.73,146.26 83.91,145.58 84.09,147.46 84.26,145.64 84.44,145.51 84.61,146.83 84.79,147.06 84.97,146.39 85.14,147.39 85.32,145.98 85.5,146.18 85.67,147.27 85.85,146.34 86.02,144.86 86.2,144.89 86.38,144.82 86.55,146.63 86.73,146.85 86.91,146.95 87.08,145.92 87.26,141.73 87.43,144.5 87.61,144.1 87.79,144.76 87.96,147.73 88.14,146.82 88.32,147.04 88.49,144.55 88.67,143.51 88.84,147.1 89.02,146.38 89.2,145.64 89.37,146.86 89.55,147.01 89.73,147.1 89.9,118.5 90.08,147.19 90.25,144.37 90.43,146.24 90.61,145.26 90.78,143.57 90.96,147.13 91.14,147.2 91.31,145.98 91.49,147.39 91.66,147.3 91.84,146.82 92.02,146.65 92.19,147.58 92.37,147.08 92.55,146.18 92.72,144.87 92.9,147.93 93.07,145.25 93.25,145.88 93.43,147.59 93.6,147.75 93.78,136.5 93.96,146.99 94.13,146.31 94.31,145.16 94.48,146.95 94.66,146.44 94.84,146 95.01,145.49 95.19,144.02 95.36,144.11 95.54,146.53 95.72,146.97 95.89,142.04 96.07,146.05 96.25,146.25 96.42,147.51 96.6,145.84 96.77,147.36 96.95,147.06 97.13,147.65 97.3,147.28 97.48,146.78 97.66,147.8 97.83,147.53 98.01,146.86 98.18,147.61 98.36,147.64 98.54,147.42 98.71,147.7 98.89,145.97 99.07,147.43 99.24,145.61 99.42,145.51 99.59,147.54 99.77,146.59 99.95,147.16 100.12,147.58 100.3,147.04 100.48,146.99 100.65,145.99 100.83,145.67 101,147.59 101.18,147.25 101.36,146.6 101.53,145.8 101.71,148.12 101.89,145.47 102.06,147.13 102.24,144.7 102.41,147.14 102.59,147.37 102.77,146.64 102.94,139.5 103.12,146.77 103.3,148.02 103.47,145.96 103.65,147.8 103.82,147.45 104,147.57 104.18,147.86 104.35,147.61 104.53,147.37 104.71,147.09 104.88,146.55 105.06,146.9 105.23,147.69 105.41,146.8 105.59,145.23 105.76,145.2 105.94,146.43 106.11,145.99 106.29,145.68 106.47,145.09 106.64,144.36 106.82,147.15 107,147.12 107.17,144.6 107.35,144.4 107.52,144.44 107.7,148.03 107.88,147.01 108.05,148.22 108.23,145.98 108.41,146.81 108.58,146.74 108.76,146.88 108.93,144.84 109.11,146.99 109.29,145.35 109.46,146.09 109.64,146.46 109.82,146.43 109.99,146.75 110.17,147.56 110.34,145.91 110.52,145.91 110.7,146.91 110.87,145.74 111.05,145.55 111.23,147.57 111.4,146.91 111.58,147.16 111.75,147.52 111.93,146.67 112.11,147.53 112.28,147.25 112.46,146.64 112.64,146.46 112.81,146.64 112.99,143.13 113.16,139.5 113.34,146.55 113.52,147.62 113.69,146.26 113.87,145.38 114.05,145.13 114.22,147.2 114.4,146.9 114.57,144.71 114.75,146.7 114.93,145.25 115.1,147.35 115.28,144.2 115.46,145.1 115.63,145.99 115.81,147.3 115.98,146.78 116.16,146.35 116.34,146.31 116.51,146.71 116.69,146.88 116.86,146.39 117.04,144.26 117.22,147.86 117.39,147.63 117.57,147.7 117.75,147.25 117.92,147.8 118.1,146.11 118.27,146.68 118.45,147.04 118.63,147.27 118.8,146.48 118.98,146.34 119.16,146.18 119.33,147.23 119.51,145.68 119.68,147.61 119.86,144.74 120.04,148.14 120.21,147.06 120.39,147.44 120.57,145.47 120.74,147.61 120.92,142.9 121.09,147.62 121.27,142.25 121.45,146.03 121.62,146.53 121.8,145.9 121.98,141.65 122.15,145.2 122.33,147.94 122.5,144.96 122.68,146.49 122.86,147.74 123.03,145.63 123.21,147.58 123.39,146.65 123.56,146.59 123.74,147.35 123.91,146.18 124.09,147.56 124.27,146.75 124.44,147.36 124.62,147.13 124.8,143.87 124.97,146.69 125.15,147.56 125.32,146.88 125.5,147.35 125.68,146.7 125.85,146.52 126.03,146.69 126.21,146.81 126.38,147.28 126.56,146.37 126.73,145.47 126.91,147.34 127.09,146.96 127.26,146.8 127.44,145.3 127.61,145.74 127.79,147.39 127.97,146.87 128.14,147.85 128.32,147.59 128.5,146.97 128.67,146.25 128.85,145.8 129.02,147.22 129.2,147.76 129.38,146.57 129.55,147.01 129.73,146.4 129.91,146.64 130.08,146.05 130.26,146.07 130.43,145.88 130.61,147.21 130.79,145.52 130.96,147.14 131.14,146.59 131.32,143.68 131.49,146.43 131.67,147.52 131.84,144.25 132.02,145.3 132.2,145.11 132.37,146.4 132.55,146.2 132.73,146.85 132.9,147.22 133.08,144.14 133.25,146.88 133.43,135 133.61,146.95 133.78,142.73 133.96,145.15 134.14,146.81 134.31,146.46 134.49,145.72 134.66,145.1 134.84,147.59 135.02,144.89 135.19,136.5 135.37,146.83 135.55,146.57 135.72,144.69 135.9,141.82 136.07,145.74 136.25,145.03 136.43,146.86 136.6,145.1 136.78,144.37 136.96,147.34 137.13,146.51 137.31,144.42 137.48,147.5 137.66,146.2 137.84,144.52 138.01,147.38 138.19,146.3 138.37,145.74 138.54,144.26 138.72,147.17 138.89,143.88 139.07,145.49 139.25,143.54 139.42,143.72 139.6,145.42 139.77,145.19 139.95,147.5 140.13,147.28 140.3,147 140.48,146.44 140.66,144.22 140.83,147.54 141.01,146.38 141.18,147.29 141.36,147.44 141.54,142.81 141.71,145.79 141.89,142.03 142.07,143.76 142.24,147.02 142.42,147.63 142.59,141.1 142.77,146.56 142.95,147.28 143.12,145.16 143.3,146.08 143.48,146.95 143.65,146.64 143.83,146.03 144,135 144.18,145.12 144.36,146.65 144.53,146.72 144.71,145.54 144.89,146.03 145.06,144.65 145.24,146.63 145.41,146.46 145.59,147.33 145.77,143.32 145.94,147.44 146.12,145.87 146.3,147.09 146.47,145.78 146.65,145.09 146.82,147.62 147,146.51 147.18,147.68 147.35,143.81 147.53,146.78 147.71,147.55 147.88,146.97 148.06,143.87 148.23,143.17 148.41,144.05 148.59,147.11 148.76,146.57 148.94,143.24 149.12,147.08 149.29,136.5 149.47,147.27 149.64,147.41 149.82,144.4 150,145.59 150.17,145.88 150.35,145.86 150.52,145.09 150.7,144 150.88,146.6 151.05,146.92 151.23,147.48 151.41,145.16 151.58,147.13 151.76,147.67 151.93,146.84 152.11,146.64 152.29,145.69 152.46,145.4 152.64,147.26 152.82,147.3 152.99,147.05 153.17,147.62 153.34,146.88 153.52,146.21 153.7,146.75 153.87,147.81 154.05,147.63 154.23,145.17 154.4,147.58 154.58,146.1 154.75,146.42 154.93,147.26 155.11,147.71 155.28,146.91 155.46,147.7 155.64,147.23 155.81,146.93 155.99,147.43 156.16,147.24 156.34,147.27 156.52,147.74 156.69,147.11 156.87,147.37 157.05,147.91 157.22,147.09 157.4,147.01 157.57,147.24 157.75,147.92" fill="none" stroke="#b5b5b5" stroke-width="0.55" stroke-linejoin="bevel"/>
<polyline points="39.32,145.76 39.5,143.76 39.68,146.29 39.85,145.81 40.03,144.98 40.2,144.69 40.38,144.45 40.56,143.24 40.73,145.19 40.91,146.47 41.09,138.45 41.26,145.83 41.44,145.17 41.61,146.72 41.79,147.74 41.97,146.93 42.14,145.99 42.32,145.07 42.5,146.03 42.67,144.65 42.85,144.2 43.02,144.36 43.2,146.15 43.38,146.06 43.55,146.35 43.73,147.08 43.91,121.5 44.08,147.4 44.26,146.35 44.43,130.5 44.61,147.78 44.79,144.89 44.96,146.48 45.14,145.62 45.32,146.37 45.49,147.38 45.67,145.59 45.84,145.75 46.02,143.97 46.2,145.11 46.37,147.5 46.55,143.78 46.73,144.42 46.9,144.49 47.08,144.98 47.25,146.78 47.43,145.4 47.61,146.53 47.78,136.27 47.96,132 48.14,147.18 48.31,146.52 48.49,143.09 48.66,146.66 48.84,147.85 49.02,142.67 49.19,145.31 49.37,146.56 49.55,144.72 49.72,146.95 49.9,147.14 50.07,144.23 50.25,146.61 50.43,145.01 50.6,145.94 50.78,144.58 50.95,145.86 51.13,147.67 51.31,144.74 51.48,146.55 51.66,144.29 51.84,145.78 52.01,142.78 52.19,146.36 52.36,147.71 52.54,146.54 52.72,145.59 52.89,146.69 53.07,146.77 53.25,143.86 53.42,146.6 53.6,144.87 53.77,146.17 53.95,147.55 54.13,147.24 54.3,146.81 54.48,146.1 54.66,147.17 54.83,147.61 55.01,147.41 55.18,147.05 55.36,147.38 55.54,147.2 55.71,143.79 55.89,146.59 56.07,147.42 56.24,146.88 56.42,144.57 56.59,145.93 56.77,146.89 56.95,147.68 57.12,147.8 57.3,147.03 57.48,146.84 57.65,147.83 57.83,147.7 58,146.84 58.18,147.99 58.36,147.88 58.53,146.9 58.71,146.21 58.89,146.5 59.06,145.71 59.24,145.08 59.41,146.17 59.59,147.32 59.77,144.07 59.94,144.76 60.12,145.93 60.3,147.54 60.47,146.6 60.65,148.01 60.82,147.14 61,148.09 61.18,147.2 61.35,145.69 61.53,146.88 61.7,144.58 61.88,146.81 62.06,146.74 62.23,147.08 62.41,146.33 62.59,146.92 62.76,145.33 62.94,144.48 63.11,146.38 63.29,147.6 63.47,145.94 63.64,144.54 63.82,145.93 64,146.22 64.17,145.18 64.35,144.47 64.52,148.02 64.7,144.06 64.88,145.35 65.05,145.85 65.23,146.99 65.41,146.16 65.58,145.55 65.76,147.59 65.93,145.28 66.11,146.32 66.29,143.66 66.46,145.39 66.64,146.58 66.82,146.33 66.99,145.45 67.17,146.01 67.34,145.45 67.52,146.99 67.7,147.36 67.87,146.79 68.05,147.43 68.23,147.05 68.4,145.71 68.58,147.56 68.75,147.29 68.93,145.1 69.11,146.9 69.28,146.19 69.46,147.38 69.64,147.23 69.81,146.47 69.99,142.63 70.16,145.42 70.34,147.54 70.52,145.3 70.69,144.56 70.87,145.04 71.05,147.21 71.22,146.08 71.4,133.5 71.57,147.01 71.75,145.63 71.93,146.84 72.1,147.3 72.28,146.55 72.46,144.24 72.63,144.25 72.81,147.11 72.98,146.75 73.16,147.05 73.34,147.73 73.51,145.23 73.69,142.82 73.86,142.96 74.04,146.58 74.22,143.5 74.39,144.61 74.57,146.72 74.75,146.34 74.92,146.74 75.1,146.08 75.27,142.55 75.45,147.14 75.63,147.36 75.8,144.89 75.98,146.32 76.16,147.7 76.33,147.19 76.51,147.09 76.68,146.84 76.86,145.65 77.04,144.47 77.21,146.33 77.39,145.92 77.57,146.98 77.74,144.44 77.92,143.69 78.09,146.58 78.27,147.15 78.45,142.46 78.62,145.28 78.8,147.35 78.98,147.72 79.15,146.81 79.33,144.7 79.5,147.11 79.68,146.81 79.86,147.01 80.03,145.83 80.21,144.66 80.39,147.65 80.56,147.1 80.74,146.98 80.91,147.29 81.09,147.65 81.27,145.94 81.44,146.78 81.62,145.95 81.8,144.61 81.97,147.13 82.15,146.2 82.32,147.13 82.5,146.97 82.68,146.55 82.85,147.03 83.03,147.85 83.21,144.83 83.38,146.72 83.56,147.58 83.73,147.98 83.91,146.73 84.09,146.09 84.26,145.47 84.44,145.43 84.61,147.17 84.79,145.9 84.97,147.72 85.14,146.4 85.32,145.23 85.5,147.09 85.67,146.66 85.85,146.37 86.02,146.3 86.2,143.92 86.38,147.41 86.55,144.14 86.73,147.4 86.91,147.04 87.08,147.04 87.26,146.26 87.43,146.64 87.61,145.39 87.79,146.09 87.96,140.36 88.14,145.67 88.32,146.5 88.49,145.64 88.67,145.15 88.84,146.32 89.02,147.18 89.2,146.98 89.37,145.89 89.55,103.5 89.73,145.51 89.9,146.36 90.08,145.37 90.25,118.5 90.43,145.95 90.61,144.08 90.78,144.65 90.96,144.2 91.14,146.9 91.31,146.35 91.49,147.43 91.66,145.39 91.84,146.99 92.02,147.63 92.19,147.14 92.37,146.58 92.55,147.99 92.72,147.67 92.9,145.39 93.07,146.61 93.25,146.84 93.43,147.81 93.6,144.39 93.78,145.49 93.96,146.27 94.13,147.64 94.31,146.38 94.48,145.58 94.66,147.27 94.84,147.19 95.01,147.32 95.19,146.41 95.36,147.07 95.54,147.06 95.72,147.74 95.89,147.82 96.07,145.82 96.25,144.97 96.42,145.89 96.6,145.21 96.77,147.35 96.95,147.06 97.13,146.67 97.3,147.2 97.48,144.76 97.66,147.77 97.83,147.37 98.01,147.3 98.18,147.43 98.36,145.9 98.54,147.93 98.71,145.36 98.89,145.71 99.07,146.5 99.24,144.97 99.42,142.43 99.59,146.63 99.77,145.93 99.95,146.48 100.12,146.37 100.3,147.29 100.48,147.34 100.65,146.11 100.83,147.27 101,145.94 101.18,145.9 101.36,147.27 101.53,146.5 101.71,146.78 101.89,146.94 102.06,145.46 102.24,146.83 102.41,146.66 102.59,147.9 102.77,146.05 102.94,147.73 103.12,147.09 103.3,144.26 103.47,143.63 103.65,147.1 103.82,147.59 104,146.21 104.18,146.93 104.35,146.1 104.53,147.55 104.71,144.93 104.88,143.98 105.06,147.59 105.23,147.16 105.41,147.09 105.59,145.54 105.76,147.83 105.94,146.24 106.11,146.74 106.29,147.22 106.47,145.55 106.64,147.84 106.82,147.6 107,147.26 107.17,145.56 107.35,146.76 107.52,147.19 107.7,145.91 107.88,147 108.05,147.12 108.23,146.76 108.41,146.07 108.58,139.19 108.76,147.41 108.93,146.22 109.11,146.7 109.29,146.69 109.46,143.88 109.64,145.38 109.82,145.86 109.99,147.14 110.17,147.38 110.34,146.48 110.52,146.99 110.7,147.17 110.87,145.96 111.05,147.58 111.23,147.35 111.4,145.76 111.58,146.81 111.75,145.88 111.93,147.32 112.11,145.67 112.28,147.21 112.46,144.67 112.64,145.78 112.81,146.11 112.99,144.11 113.16,146.2 113.34,147.12 113.52,144.02 113.69,145.94 113.87,144.41 114.05,146.21 114.22,144.45 114.4,147.17 114.57,147.49 114.75,147.6 114.93,145.56 115.1,147.86 115.28,147.79 115.46,147.66 115.63,146.3 115.81,145.97 115.98,147.2 116.16,145.29 116.34,145.97 116.51,144.39 116.69,144.9 116.86,147.07 117.04,146 117.22,146.32 117.39,145.4 117.57,145.66 117.75,145.86 117.92,144.72 118.1,145.85 118.27,144.76 118.45,145.91 118.63,146.23 118.8,144.58 118.98,144.3 119.16,143.31 119.33,144.84 119.51,146.29 119.68,145.71 119.86,145.78 120.04,147.53 120.21,147.12 120.39,142.62 120.57,146.18 120.74,147.98 120.92,146.32 121.09,145.94 121.27,147.29 121.45,140.34 121.62,144.31 121.8,145.01 121.98,146.38 122.15,145.45 122.33,144.57 122.5,145.3 122.68,146.77 122.86,145.83 123.03,145.96 123.21,145.7 123.39,147.15 123.56,145.85 123.74,146.37 123.91,146.09 124.09,146.12 124.27,147.59 124.44,145.48 124.62,145.75 124.8,147.67 124.97,146.97 125.15,147.48 125.32,147.06 125.5,145.23 125.68,145.93 125.85,142.8 126.03,146.39 126.21,147.5 126.38,146.63 126.56,148.02 126.73,143.75 126.91,146.44 127.09,146.27 127.26,146.72 127.44,147.46 127.61,146.96 127.79,147.34 127.97,147.19 128.14,138 128.32,147.62 128.5,144.43 128.67,147.59 128.85,146 129.02,147.38 129.2,147.69 129.38,146.39 129.55,146.78 129.73,147.13 129.91,146.9 130.08,147.32 130.26,146.49 130.43,147.25 130.61,146.93 130.79,145.61 130.96,147.68 131.14,147.21 131.32,147.28 131.49,147.27 131.67,147.58 131.84,146.78 132.02,146.34 132.2,146.63 132.37,147.66 132.55,127.5 132.73,145.79 132.9,146.59 133.08,147.47 133.25,147.4 133.43,143.36 133.61,143.94 133.78,146.25 133.96,147.32 134.14,144.45 134.31,146.25 134.49,143.4 134.66,147.08 134.84,145.94 135.02,146.74 135.19,145.35 135.37,147.06 135.55,145.12 135.72,146.77 135.9,147.11 136.07,145.32 136.25,145.8 136.43,147.79 136.6,146.35 136.78,146.18 136.96,146.06 137.13,142.27 137.31,147.1 137.48,126 137.66,147.7 137.84,147.55 138.01,146.96 138.19,146.53 138.37,146.59 138.54,145.59 138.72,145.55 138.89,145.16 139.07,146.77 139.25,146.02 139.42,147.21 139.6,146.12 139.77,145.84 139.95,146.9 140.13,148.14 140.3,147.03 140.48,139.75 140.66,146.44 140.83,147.03 141.01,146.27 141.18,144.77 141.36,146.1 141.54,146.65 141.71,147.42 141.89,146.61 142.07,147.39 142.24,146.06 142.42,144.11 142.59,145.08 142.77,147.21 142.95,147.5 143.12,147.78 143.3,146.49 143.48,146.21 143.65,145.82 143.83,146.34 144,147.59 144.18,147.86 144.36,145.1 144.53,147.32 144.71,143.47 144.89,147.92 145.06,147.56 145.24,147.5 145.41,146.64 145.59,146.23 145.77,147.27 145.94,146.16 146.12,147.67 146.3,147.14 146.47,147.58 146.65,147.23 146.82,147.28 147,146.59 147.18,137.64 147.35,147.76 147.53,147.13 147.71,146.31 147.88,147 148.06,145.17 148.23,147.69 148.41,146.29 148.59,147.63 148.76,146.46 148.94,147.16 149.12,147.12 149.29,147.5 149.47,147.97 149.64,147.66 149.82,146.22 150,147.1 150.17,146.04 150.35,147.68 150.52,146.16 150.7,145.87 150.88,148.09 151.05,146.91 151.23,144.54 151.41,147.61 151.58,146.04 151.76,146.88 151.93,145.77 152.11,147.14 152.29,147.33 152.46,147.01 152.64,146.93 152.82,147.13 152.99,147.35 153.17,145.06 153.34,147.04 153.52,147.46 153.7,147.25 153.87,145.76 154.05,147.9 154.23,145.78 154.4,145.47 154.58,144.35 154.75,146.91 154.93,147.26 155.11,146.34 155.28,146.3 155.46,144.12 155.64,146.38 155.81,146.81 155.99,147.49 156.16,146.64 156.34,146.31 156.52,144.82 156.69,146.48 156.87,144.54 157.05,144.6 157.22,147.16 157.4,147.44 157.57,147.07 157.75,146.7" fill="none" stroke="#3a3a3a" stroke-width="0.5" stroke-linejoin="bevel"/>
<line x1="32.9" y1="101.4" x2="32.9" y2="150.3" stroke="#777" stroke-width="0.8"/>
<line x1="32.9" y1="150.3" x2="164" y2="150.3" stroke="#777" stroke-width="0.8"/>
<line x1="30.9" y1="103.5" x2="32.9" y2="103.5" stroke="#777" stroke-width="0.7"/>
<text x="26.8" y="106.5" font-size="8.5" text-anchor="end">30</text>
<line x1="30.9" y1="118.5" x2="32.9" y2="118.5" stroke="#777" stroke-width="0.7"/>
<text x="26.8" y="121.5" font-size="8.5" text-anchor="end">20</text>
<line x1="30.9" y1="133.5" x2="32.9" y2="133.5" stroke="#777" stroke-width="0.7"/>
<text x="26.8" y="136.5" font-size="8.5" text-anchor="end">10</text>
<line x1="30.9" y1="148.5" x2="32.9" y2="148.5" stroke="#777" stroke-width="0.7"/>
<text x="26.8" y="151.5" font-size="8.5" text-anchor="end">0</text>
<line x1="39.5" y1="150.3" x2="39.5" y2="152.5" stroke="#777" stroke-width="0.7"/>
<text x="39.5" y="163.7" font-size="7.8" text-anchor="middle">32</text>
<line x1="66.99" y1="150.3" x2="66.99" y2="152.5" stroke="#777" stroke-width="0.7"/>
<text x="66.99" y="163.7" font-size="7.8" text-anchor="middle">188</text>
<line x1="93.43" y1="150.3" x2="93.43" y2="152.5" stroke="#777" stroke-width="0.7"/>
<text x="93.43" y="163.7" font-size="7.8" text-anchor="middle">338</text>
<line x1="120.57" y1="150.3" x2="120.57" y2="152.5" stroke="#777" stroke-width="0.7"/>
<text x="120.57" y="163.7" font-size="7.8" text-anchor="middle">492</text>
<line x1="147" y1="150.3" x2="147" y2="152.5" stroke="#777" stroke-width="0.7"/>
<text x="147" y="163.7" font-size="7.8" text-anchor="middle">642</text>
<text x="12.4" y="126.85" font-size="9.9" text-anchor="middle" transform="rotate(-90 12.4 126.85)">bnD.9</text>
<line x1="186.4" y1="7.5" x2="186.4" y2="59.3" stroke="#bbb" stroke-width="0.8"/>
<line x1="184.2" y1="10.5" x2="186.4" y2="10.5" stroke="#999" stroke-width="0.7"/>
<text x="181.2" y="13.4" font-size="8.2" text-anchor="end">9</text>
<line x1="184.2" y1="26.2" x2="186.4" y2="26.2" stroke="#999" stroke-width="0.7"/>
<text x="181.2" y="29.1" font-size="8.2" text-anchor="end">6</text>
<line x1="184.2" y1="42" x2="186.4" y2="42" stroke="#999" stroke-width="0.7"/>
<text x="181.2" y="44.9" font-size="8.2" text-anchor="end">3</text>
<line x1="184.2" y1="57.7" x2="186.4" y2="57.7" stroke="#999" stroke-width="0.7"/>
<text x="181.2" y="60.6" font-size="8.2" text-anchor="end">0</text>
<line x1="186.4" y1="59.3" x2="645.5" y2="59.3" stroke="#aaa" stroke-width="0.8"/>
<line x1="190.1" y1="59.7" x2="190.1" y2="62.7" stroke="#888" stroke-width="0.7"/>
<text x="192.6" y="66.7" font-size="7" text-anchor="end" fill="#2a2a2a" transform="rotate(-90 192.6 66.7)">E64</text>
<use href="#gT" fill="#f7921e" stroke="#f7921e" transform="matrix(0.0560 0 0 0.0390 187.3 23)"/>
<use href="#gS" fill="#f7921e" stroke="#f7921e" transform="matrix(0.0560 0 0 0.0440 187.3 26.9)"/>
<use href="#gN" fill="#8c3cc2" stroke="#8c3cc2" transform="matrix(0.0560 0 0 0.0460 187.3 31.4)"/>
<use href="#gA" fill="#f66fc0" stroke="#f66fc0" transform="matrix(0.0560 0 0 0.0340 187.3 36.1)"/>
<use href="#gV" fill="#1fa81f" stroke="#1fa81f" transform="matrix(0.0560 0 0 0.0300 187.3 39.6)"/>
<use href="#gL" fill="#1fa81f" stroke="#1fa81f" transform="matrix(0.0560 0 0 0.0260 187.3 43)"/>
<rect x="187.5" y="46.15" width="5.2" height="1.2" fill="#e62129" opacity="0.62"/>
<rect x="187.5" y="47.92" width="5.2" height="0.96" fill="#8c3cc2" opacity="0.62"/>
<rect x="187.5" y="49.63" width="5.2" height="1.04" fill="#8c4614" opacity="0.62"/>
<rect x="187.5" y="51.15" width="5.2" height="1.2" fill="#f66fc0" opacity="0.62"/>
<rect x="187.5" y="52.97" width="5.2" height="1.36" fill="#3a63e6" opacity="0.62"/>
<rect x="187.5" y="54.92" width="5.2" height="0.96" fill="#f66fc0" opacity="0.62"/>
<rect x="187.5" y="56.33" width="5.2" height="1.04" fill="#1fa81f" opacity="0.62"/>
<line x1="196.12" y1="59.7" x2="196.12" y2="62.7" stroke="#888" stroke-width="0.7"/>
<text x="198.62" y="66.7" font-size="7" text-anchor="end" fill="#2a2a2a" transform="rotate(-90 198.62 66.7)">V65</text>
<use href="#gN" fill="#8c3cc2" stroke="#8c3cc2" transform="matrix(0.0560 0 0 0.0410 193.32 44)"/>
<use href="#gR" fill="#3a63e6" stroke="#3a63e6" transform="matrix(0.0560 0 0 0.0260 193.32 48.6)"/>
<rect x="193.52" y="51.63" width="5.2" height="1.04" fill="#e62129" opacity="0.62"/>
<rect x="193.52" y="53.15" width="5.2" height="1.2" fill="#3a63e6" opacity="0.62"/>
<rect x="193.52" y="54.81" width="5.2" height="0.88" fill="#1fa81f" opacity="0.62"/>
<rect x="193.52" y="56.15" width="5.2" height="1.2" fill="#f66fc0" opacity="0.62"/>
<line x1="202.13" y1="59.7" x2="202.13" y2="62.7" stroke="#888" stroke-width="0.7"/>
<text x="204.63" y="66.7" font-size="7" text-anchor="end" fill="#2a2a2a" transform="rotate(-90 204.63 66.7)">H66</text>
<use href="#gA" fill="#f66fc0" stroke="#f66fc0" transform="matrix(0.0560 0 0 0.0550 199.33 22.3)"/>
<use href="#gP" fill="#1fa81f" stroke="#1fa81f" transform="matrix(0.0560 0 0 0.0440 199.33 28.2)"/>
<use href="#gI" fill="#1fa81f" stroke="#1fa81f" transform="matrix(0.0460 0 0 0.0360 199.83 33)"/>
<use href="#gQ" fill="#8c3cc2" stroke="#8c3cc2" transform="matrix(0.0560 0 0 0.0460 199.33 37)"/>
<use href="#gS" fill="#f66fc0" stroke="#f66fc0" transform="matrix(0.0560 0 0 0.0250 199.33 42)"/>
<use href="#gV" fill="#1fa81f" stroke="#1fa81f" transform="matrix(0.0560 0 0 0.0270 199.33 44.8)"/>
<rect x="199.53" y="47.92" width="5.2" height="0.96" fill="#f7921e" opacity="0.62"/>
<rect x="199.53" y="49.33" width="5.2" height="1.04" fill="#8c3cc2" opacity="0.62"/>
<rect x="199.53" y="50.92" width="5.2" height="0.96" fill="#1fa81f" opacity="0.62"/>
<rect x="199.53" y="52.33" width="5.2" height="1.04" fill="#8c4614" opacity="0.62"/>
<rect x="199.53" y="53.97" width="5.2" height="1.36" fill="#f66fc0" opacity="0.62"/>
<rect x="199.53" y="55.97" width="5.2" height="1.36" fill="#f7921e" opacity="0.62"/>
<line x1="208.15" y1="59.7" x2="208.15" y2="62.7" stroke="#888" stroke-width="0.7"/>
<text x="210.65" y="66.7" font-size="7" text-anchor="end" fill="#2a2a2a" transform="rotate(-90 210.65 66.7)">N67</text>
<use href="#gT" fill="#f7921e" stroke="#f7921e" transform="matrix(0.0560 0 0 0.0180 205.35 51.8)"/>
<rect x="205.55" y="54.15" width="5.2" height="1.2" fill="#8c4614" opacity="0.62"/>
<rect x="205.55" y="55.97" width="5.2" height="1.36" fill="#3a63e6" opacity="0.62"/>
<line x1="214.16" y1="59.7" x2="214.16" y2="62.7" stroke="#888" stroke-width="0.7"/>
<text x="216.66" y="66.7" font-size="7" text-anchor="end" fill="#2a2a2a" transform="rotate(-90 216.66 66.7)">I68</text>
<use href="#gV" fill="#1fa81f" stroke="#1fa81f" transform="matrix(0.0560 0 0 0.0280 211.36 52.2)"/>
<rect x="211.56" y="55.43" width="5.2" height="1.84" fill="#f7921e" opacity="0.62"/>
<line x1="220.18" y1="59.7" x2="220.18" y2="62.7" stroke="#888" stroke-width="0.7"/>
<text x="222.68" y="66.7" font-size="7" text-anchor="end" fill="#2a2a2a" transform="rotate(-90 222.68 66.7)">W69</text>
<use href="#gL" fill="#1fa81f" stroke="#1fa81f" transform="matrix(0.0560 0 0 0.0300 217.38 50.5)"/>
<rect x="217.58" y="53.92" width="5.2" height="0.96" fill="#3a63e6" opacity="0.62"/>
<rect x="217.58" y="55.43" width="5.2" height="1.84" fill="#8c4614" opacity="0.62"/>
<line x1="226.2" y1="59.7" x2="226.2" y2="62.7" stroke="#888" stroke-width="0.7"/>
<text x="228.7" y="66.7" font-size="7" text-anchor="end" fill="#2a2a2a" transform="rotate(-90 228.7 66.7)">A70</text>
<use href="#gQ" fill="#8c3cc2" stroke="#8c3cc2" transform="matrix(0.0560 0 0 0.0380 223.4 39)"/>
<use href="#gR" fill="#3a63e6" stroke="#3a63e6" transform="matrix(0.0560 0 0 0.0320 223.4 43.3)"/>
<rect x="223.6" y="46.97" width="5.2" height="1.36" fill="#3a63e6" opacity="0.62"/>
<rect x="223.6" y="49.15" width="5.2" height="1.2" fill="#f7921e" opacity="0.62"/>
<rect x="223.6" y="50.92" width="5.2" height="0.96" fill="#e62129" opacity="0.62"/>
<rect x="223.6" y="52.52" width="5.2" height="1.76" fill="#f66fc0" opacity="0.62"/>
<rect x="223.6" y="54.94" width="5.2" height="1.12" fill="#3a63e6" opacity="0.62"/>
<rect x="223.6" y="56.51" width="5.2" height="0.88" fill="#f7921e" opacity="0.62"/>
<line x1="232.21" y1="59.7" x2="232.21" y2="62.7" stroke="#888" stroke-width="0.7"/>
<text x="234.71" y="66.7" font-size="7" text-anchor="end" fill="#2a2a2a" transform="rotate(-90 234.71 66.7)">T71</text>
<rect x="229.61" y="56.15" width="5.2" height="1.2" fill="#1fa81f" opacity="0.62"/>
<line x1="238.23" y1="59.7" x2="238.23" y2="62.7" stroke="#888" stroke-width="0.7"/>
<text x="240.73" y="66.7" font-size="7" text-anchor="end" fill="#2a2a2a" transform="rotate(-90 240.73 66.7)">H72</text>
<rect x="235.63" y="54.65" width="5.2" height="1.2" fill="#f7921e" opacity="0.62"/>
<rect x="235.63" y="56.15" width="5.2" height="1.2" fill="#e62129" opacity="0.62"/>
<line x1="244.24" y1="59.7" x2="244.24" y2="62.7" stroke="#888" stroke-width="0.7"/>
<text x="246.74" y="66.7" font-size="7" text-anchor="end" fill="#2a2a2a" transform="rotate(-90 246.74 66.7)">A73</text>
<use href="#gV" fill="#1fa81f" stroke="#1fa81f" transform="matrix(0.0560 0 0 0.0220 241.44 52.3)"/>
<rect x="241.64" y="54.83" width="5.2" height="1.04" fill="#f7921e" opacity="0.62"/>
<rect x="241.64" y="56.15" width="5.2" height="1.2" fill="#1fa81f" opacity="0.62"/>
<line x1="250.26" y1="59.7" x2="250.26" y2="62.7" stroke="#888" stroke-width="0.7"/>
<text x="252.76" y="66.7" font-size="7" text-anchor="end" fill="#2a2a2a" transform="rotate(-90 252.76 66.7)">C74</text>
<rect x="247.66" y="53.15" width="5.2" height="1.2" fill="#f7921e" opacity="0.62"/>
<rect x="247.66" y="54.72" width="5.2" height="0.96" fill="#1fa81f" opacity="0.62"/>
<rect x="247.66" y="56.15" width="5.2" height="1.2" fill="#e62129" opacity="0.62"/>
<line x1="256.28" y1="59.7" x2="256.28" y2="62.7" stroke="#888" stroke-width="0.7"/>
<text x="258.78" y="66.7" font-size="7" text-anchor="end" fill="#2a2a2a" transform="rotate(-90 258.78 66.7)">V75</text>
<use href="#gP" fill="#1fa81f" stroke="#1fa81f" transform="matrix(0.0560 0 0 0.0260 253.48 49.2)"/>
<rect x="253.68" y="52.15" width="5.2" height="1.2" fill="#f7921e" opacity="0.62"/>
<rect x="253.68" y="53.95" width="5.2" height="1.2" fill="#8c4614" opacity="0.62"/>
<rect x="253.68" y="55.7" width="5.2" height="1.6" fill="#f66fc0" opacity="0.62"/>
<line x1="262.29" y1="59.7" x2="262.29" y2="62.7" stroke="#888" stroke-width="0.7"/>
<text x="264.79" y="66.7" font-size="7" text-anchor="end" fill="#2a2a2a" transform="rotate(-90 264.79 66.7)">P76</text>
<rect x="259.69" y="50.18" width="5.2" height="1.44" fill="#f66fc0" opacity="0.62"/>
<rect x="259.69" y="52.15" width="5.2" height="1.2" fill="#1fa81f" opacity="0.62"/>
<rect x="259.69" y="53.95" width="5.2" height="1.2" fill="#f7921e" opacity="0.62"/>
<rect x="259.69" y="55.7" width="5.2" height="1.6" fill="#8c3cc2" opacity="0.62"/>
<line x1="268.31" y1="59.7" x2="268.31" y2="62.7" stroke="#888" stroke-width="0.7"/>
<text x="270.81" y="66.7" font-size="7" text-anchor="end" fill="#2a2a2a" transform="rotate(-90 270.81 66.7)">T77</text>
<use href="#gI" fill="#1fa81f" stroke="#1fa81f" transform="matrix(0.0460 0 0 0.0370 266.01 35)"/>
<use href="#gY" fill="#8c4614" stroke="#8c4614" transform="matrix(0.0560 0 0 0.0350 265.51 38.7)"/>
<use href="#gF" fill="#8c4614" stroke="#8c4614" transform="matrix(0.0560 0 0 0.0150 265.51 42.5)"/>
<use href="#gL" fill="#1fa81f" stroke="#1fa81f" transform="matrix(0.0560 0 0 0.0260 265.51 44.4)"/>
<rect x="265.71" y="47.58" width="5.2" height="1.44" fill="#3a63e6" opacity="0.62"/>
<rect x="265.71" y="49.65" width="5.2" height="1.2" fill="#8c3cc2" opacity="0.62"/>
<rect x="265.71" y="51.33" width="5.2" height="1.04" fill="#f66fc0" opacity="0.62"/>
<rect x="265.71" y="52.83" width="5.2" height="1.04" fill="#f7921e" opacity="0.62"/>
<rect x="265.71" y="54.36" width="5.2" height="1.28" fill="#1fa81f" opacity="0.62"/>
<rect x="265.71" y="56.15" width="5.2" height="1.2" fill="#3a63e6" opacity="0.62"/>
<line x1="274.32" y1="59.7" x2="274.32" y2="62.7" stroke="#888" stroke-width="0.7"/>
<text x="276.82" y="66.7" font-size="7" text-anchor="end" fill="#2a2a2a" transform="rotate(-90 276.82 66.7)">D78</text>
<rect x="271.72" y="54.67" width="5.2" height="1.36" fill="#3a63e6" opacity="0.62"/>
<rect x="271.72" y="56.42" width="5.2" height="0.96" fill="#f7921e" opacity="0.62"/>
<line x1="280.34" y1="59.7" x2="280.34" y2="62.7" stroke="#888" stroke-width="0.7"/>
<text x="282.84" y="66.7" font-size="7" text-anchor="end" fill="#2a2a2a" transform="rotate(-90 282.84 66.7)">P79</text>
<use href="#gL" fill="#1fa81f" stroke="#1fa81f" transform="matrix(0.0560 0 0 0.0350 277.54 40)"/>
<rect x="277.74" y="44.17" width="5.2" height="1.36" fill="#f7921e" opacity="0.62"/>
<rect x="277.74" y="46.95" width="5.2" height="1.2" fill="#8c3cc2" opacity="0.62"/>
<rect x="277.74" y="48.92" width="5.2" height="0.96" fill="#f66fc0" opacity="0.62"/>
<rect x="277.74" y="50.42" width="5.2" height="0.96" fill="#8c3cc2" opacity="0.62"/>
<rect x="277.74" y="51.94" width="5.2" height="1.12" fill="#1fa81f" opacity="0.62"/>
<rect x="277.74" y="53.54" width="5.2" height="1.12" fill="#3a63e6" opacity="0.62"/>
<rect x="277.74" y="55.12" width="5.2" height="0.96" fill="#f66fc0" opacity="0.62"/>
<rect x="277.74" y="56.42" width="5.2" height="0.96" fill="#8c4614" opacity="0.62"/>
<line x1="286.36" y1="59.7" x2="286.36" y2="62.7" stroke="#888" stroke-width="0.7"/>
<text x="288.86" y="66.7" font-size="7" text-anchor="end" fill="#2a2a2a" transform="rotate(-90 288.86 66.7)">N80</text>
<use href="#gV" fill="#1fa81f" stroke="#1fa81f" transform="matrix(0.0560 0 0 0.0350 283.56 44)"/>
<use href="#gM" fill="#1fa81f" stroke="#1fa81f" transform="matrix(0.0600 0 0 0.0260 283.36 47.9)"/>
<rect x="283.76" y="51.13" width="5.2" height="1.04" fill="#e62129" opacity="0.62"/>
<rect x="283.76" y="52.79" width="5.2" height="0.72" fill="#3a63e6" opacity="0.62"/>
<rect x="283.76" y="53.92" width="5.2" height="0.96" fill="#1fa81f" opacity="0.62"/>
<rect x="283.76" y="55.31" width="5.2" height="0.88" fill="#f7921e" opacity="0.62"/>
<rect x="283.76" y="56.51" width="5.2" height="0.88" fill="#f66fc0" opacity="0.62"/>
<line x1="292.37" y1="59.7" x2="292.37" y2="62.7" stroke="#888" stroke-width="0.7"/>
<text x="294.87" y="66.7" font-size="7" text-anchor="end" fill="#2a2a2a" transform="rotate(-90 294.87 66.7)">P81</text>
<use href="#gE" fill="#e62129" stroke="#e62129" transform="matrix(0.0560 0 0 0.0450 289.57 31.1)"/>
<use href="#gN" fill="#8c3cc2" stroke="#8c3cc2" transform="matrix(0.0560 0 0 0.0220 289.57 36.5)"/>
<use href="#gI" fill="#1fa81f" stroke="#1fa81f" transform="matrix(0.0460 0 0 0.0270 290.07 39.3)"/>
<use href="#gD" fill="#e62129" stroke="#e62129" transform="matrix(0.0560 0 0 0.0260 289.57 42.7)"/>
<use href="#gV" fill="#8c4614" stroke="#8c4614" transform="matrix(0.0560 0 0 0.0220 289.57 45.7)"/>
<rect x="289.77" y="48.47" width="5.2" height="1.36" fill="#1fa81f" opacity="0.62"/>
<rect x="289.77" y="50.42" width="5.2" height="0.96" fill="#8c3cc2" opacity="0.62"/>
<rect x="289.77" y="51.92" width="5.2" height="0.96" fill="#f7921e" opacity="0.62"/>
<rect x="289.77" y="53.33" width="5.2" height="1.04" fill="#3a63e6" opacity="0.62"/>
<rect x="289.77" y="54.92" width="5.2" height="0.96" fill="#f7921e" opacity="0.62"/>
<rect x="289.77" y="56.33" width="5.2" height="1.04" fill="#f66fc0" opacity="0.62"/>
<line x1="298.39" y1="59.7" x2="298.39" y2="62.7" stroke="#888" stroke-width="0.7"/>
<text x="300.89" y="66.7" font-size="7" text-anchor="end" fill="#2a2a2a" transform="rotate(-90 300.89 66.7)">Q82</text>
<use href="#gF" fill="#8c4614" stroke="#8c4614" transform="matrix(0.0560 0 0 0.0660 295.59 19.9)"/>
<use href="#gA" fill="#f66fc0" stroke="#f66fc0" transform="matrix(0.0560 0 0 0.0350 295.59 27.8)"/>
<use href="#gL" fill="#1fa81f" stroke="#1fa81f" transform="matrix(0.0560 0 0 0.0390 295.59 31.7)"/>
<use href="#gY" fill="#8c4614" stroke="#8c4614" transform="matrix(0.0560 0 0 0.0350 295.59 36.5)"/>
<use href="#gP" fill="#1fa81f" stroke="#1fa81f" transform="matrix(0.0560 0 0 0.0300 295.59 40.5)"/>
<rect x="295.79" y="44.02" width="5.2" height="1.76" fill="#1fa81f" opacity="0.62"/>
<rect x="295.79" y="46.75" width="5.2" height="2" fill="#3a63e6" opacity="0.62"/>
<rect x="295.79" y="49.75" width="5.2" height="2" fill="#1fa81f" opacity="0.62"/>
<rect x="295.79" y="52.47" width="5.2" height="1.36" fill="#1fa81f" opacity="0.62"/>
<rect x="295.79" y="54.33" width="5.2" height="1.04" fill="#f7921e" opacity="0.62"/>
<rect x="295.79" y="55.88" width="5.2" height="1.44" fill="#e62129" opacity="0.62"/>
<line x1="304.4" y1="59.7" x2="304.4" y2="62.7" stroke="#888" stroke-width="0.7"/>
<text x="306.9" y="66.7" font-size="7" text-anchor="end" fill="#2a2a2a" transform="rotate(-90 306.9 66.7)">E83</text>
<rect x="301.8" y="54.13" width="5.2" height="1.04" fill="#1fa81f" opacity="0.62"/>
<rect x="301.8" y="55.7" width="5.2" height="1.6" fill="#f66fc0" opacity="0.62"/>
<line x1="310.42" y1="59.7" x2="310.42" y2="62.7" stroke="#888" stroke-width="0.7"/>
<text x="312.92" y="66.7" font-size="7" text-anchor="end" fill="#2a2a2a" transform="rotate(-90 312.92 66.7)">I84</text>
<use href="#gR" fill="#3a63e6" stroke="#3a63e6" transform="matrix(0.0560 0 0 0.0220 307.62 51.8)"/>
<rect x="307.82" y="54.33" width="5.2" height="1.04" fill="#f7921e" opacity="0.62"/>
<rect x="307.82" y="55.88" width="5.2" height="1.44" fill="#1fa81f" opacity="0.62"/>
<line x1="316.44" y1="8.5" x2="316.44" y2="59.3" stroke="#333" stroke-width="0.9" stroke-dasharray="0.9 1.3"/>
<line x1="322.45" y1="59.7" x2="322.45" y2="62.7" stroke="#888" stroke-width="0.7"/>
<text x="324.95" y="66.7" font-size="7" text-anchor="end" fill="#2a2a2a" transform="rotate(-90 324.95 66.7)">H105</text>
<use href="#gY" fill="#8c4614" stroke="#8c4614" transform="matrix(0.0560 0 0 0.0530 319.65 34.3)"/>
<use href="#gT" fill="#f7921e" stroke="#f7921e" transform="matrix(0.0560 0 0 0.0180 319.65 40)"/>
<use href="#gA" fill="#f66fc0" stroke="#f66fc0" transform="matrix(0.0560 0 0 0.0270 319.65 43.5)"/>
<use href="#gV" fill="#1fa81f" stroke="#1fa81f" transform="matrix(0.0560 0 0 0.0220 319.65 46.6)"/>
<use href="#gP" fill="#1fa81f" stroke="#1fa81f" transform="matrix(0.0560 0 0 0.0180 319.65 49.2)"/>
<rect x="319.85" y="51.9" width="5.2" height="0.8" fill="#3a63e6" opacity="0.62"/>
<rect x="319.85" y="53.13" width="5.2" height="1.04" fill="#f7921e" opacity="0.62"/>
<rect x="319.85" y="54.63" width="5.2" height="1.04" fill="#f66fc0" opacity="0.62"/>
<rect x="319.85" y="56.15" width="5.2" height="1.2" fill="#8c4614" opacity="0.62"/>
<line x1="328.47" y1="59.7" x2="328.47" y2="62.7" stroke="#888" stroke-width="0.7"/>
<text x="330.97" y="66.7" font-size="7" text-anchor="end" fill="#2a2a2a" transform="rotate(-90 330.97 66.7)">T106</text>
<use href="#gN" fill="#8c3cc2" stroke="#8c3cc2" transform="matrix(0.0560 0 0 0.0530 325.67 37.8)"/>
<use href="#gE" fill="#e62129" stroke="#e62129" transform="matrix(0.0560 0 0 0.0180 325.67 44)"/>
<rect x="325.87" y="46.95" width="5.2" height="1.2" fill="#8c3cc2" opacity="0.62"/>
<use href="#gV" fill="#1fa81f" stroke="#1fa81f" transform="matrix(0.0560 0 0 0.0260 325.67 48.8)"/>
<rect x="325.87" y="52.79" width="5.2" height="0.72" fill="#3a63e6" opacity="0.62"/>
<rect x="325.87" y="54.15" width="5.2" height="1.2" fill="#f66fc0" opacity="0.62"/>
<rect x="325.87" y="55.88" width="5.2" height="1.44" fill="#f7921e" opacity="0.62"/>
<line x1="334.48" y1="8.5" x2="334.48" y2="59.3" stroke="#333" stroke-width="0.9" stroke-dasharray="0.9 1.3"/>
<line x1="340.5" y1="59.7" x2="340.5" y2="62.7" stroke="#888" stroke-width="0.7"/>
<text x="343" y="66.7" font-size="7" text-anchor="end" fill="#2a2a2a" transform="rotate(-90 343 66.7)">A200</text>
<use href="#gR" fill="#3a63e6" stroke="#3a63e6" transform="matrix(0.0560 0 0 0.0530 337.7 21.6)"/>
<use href="#gE" fill="#e62129" stroke="#e62129" transform="matrix(0.0560 0 0 0.0530 337.7 27.3)"/>
<use href="#gV" fill="#1fa81f" stroke="#1fa81f" transform="matrix(0.0560 0 0 0.0310 337.7 33)"/>
<rect x="337.9" y="36.68" width="5.2" height="1.44" fill="#1fa81f" opacity="0.62"/>
<rect x="337.9" y="39.77" width="5.2" height="1.36" fill="#8c3cc2" opacity="0.62"/>
<use href="#gL" fill="#1fa81f" stroke="#1fa81f" transform="matrix(0.0560 0 0 0.0220 337.7 42.2)"/>
<rect x="337.9" y="45.02" width="5.2" height="1.76" fill="#f7921e" opacity="0.62"/>
<rect x="337.9" y="47.99" width="5.2" height="0.72" fill="#1fa81f" opacity="0.62"/>
<rect x="337.9" y="49.83" width="5.2" height="1.04" fill="#f7921e" opacity="0.62"/>
<rect x="337.9" y="51.94" width="5.2" height="1.12" fill="#e62129" opacity="0.62"/>
<rect x="337.9" y="54.58" width="5.2" height="0.64" fill="#3a63e6" opacity="0.62"/>
<rect x="337.9" y="55.7" width="5.2" height="1.6" fill="#f7921e" opacity="0.62"/>
<line x1="346.52" y1="8.5" x2="346.52" y2="59.3" stroke="#333" stroke-width="0.9" stroke-dasharray="0.9 1.3"/>
<line x1="352.53" y1="59.7" x2="352.53" y2="62.7" stroke="#888" stroke-width="0.7"/>
<text x="355.03" y="66.7" font-size="7" text-anchor="end" fill="#2a2a2a" transform="rotate(-90 355.03 66.7)">I213</text>
<use href="#gQ" fill="#8c3cc2" stroke="#8c3cc2" transform="matrix(0.0560 0 0 0.0440 349.73 9.4)"/>
<use href="#gH" fill="#3a63e6" stroke="#3a63e6" transform="matrix(0.0560 0 0 0.0480 349.73 14.2)"/>
<use href="#gV" fill="#1fa81f" stroke="#1fa81f" transform="matrix(0.0560 0 0 0.0400 349.73 19.4)"/>
<use href="#gR" fill="#3a63e6" stroke="#3a63e6" transform="matrix(0.0560 0 0 0.0520 349.73 23.8)"/>
<use href="#gF" fill="#8c4614" stroke="#8c4614" transform="matrix(0.0560 0 0 0.0350 349.73 29.5)"/>
<use href="#gT" fill="#f7921e" stroke="#f7921e" transform="matrix(0.0560 0 0 0.0390 349.73 33.5)"/>
<use href="#gP" fill="#1fa81f" stroke="#1fa81f" transform="matrix(0.0560 0 0 0.0310 349.73 37.8)"/>
<use href="#gS" fill="#f7921e" stroke="#f7921e" transform="matrix(0.0560 0 0 0.0220 349.73 41.3)"/>
<use href="#gY" fill="#8c4614" stroke="#8c4614" transform="matrix(0.0560 0 0 0.0260 349.73 44.4)"/>
<rect x="349.93" y="48.08" width="5.2" height="1.44" fill="#3a63e6" opacity="0.62"/>
<rect x="349.93" y="50.72" width="5.2" height="1.76" fill="#1fa81f" opacity="0.62"/>
<rect x="349.93" y="54.35" width="5.2" height="2.8" fill="#f66fc0" opacity="0.62"/>
<line x1="358.55" y1="8.5" x2="358.55" y2="59.3" stroke="#333" stroke-width="0.9" stroke-dasharray="0.9 1.3"/>
<line x1="364.56" y1="59.7" x2="364.56" y2="62.7" stroke="#888" stroke-width="0.7"/>
<text x="367.06" y="66.7" font-size="7" text-anchor="end" fill="#2a2a2a" transform="rotate(-90 367.06 66.7)">T244</text>
<use href="#gV" fill="#1fa81f" stroke="#1fa81f" transform="matrix(0.0560 0 0 0.0570 361.76 36.1)"/>
<use href="#gA" fill="#f66fc0" stroke="#f66fc0" transform="matrix(0.0560 0 0 0.0610 361.76 42.7)"/>
<rect x="361.96" y="49.46" width="5.2" height="2.08" fill="#1fa81f" opacity="0.62"/>
<rect x="361.96" y="52.83" width="5.2" height="1.04" fill="#f66fc0" opacity="0.62"/>
<rect x="361.96" y="55.03" width="5.2" height="1.04" fill="#8c3cc2" opacity="0.62"/>
<rect x="361.96" y="56.33" width="5.2" height="1.04" fill="#f7921e" opacity="0.62"/>
<line x1="370.58" y1="8.5" x2="370.58" y2="59.3" stroke="#333" stroke-width="0.9" stroke-dasharray="0.9 1.3"/>
<line x1="376.6" y1="59.7" x2="376.6" y2="62.7" stroke="#888" stroke-width="0.7"/>
<text x="379.1" y="66.7" font-size="7" text-anchor="end" fill="#2a2a2a" transform="rotate(-90 379.1 66.7)">V255</text>
<use href="#gA" fill="#f66fc0" stroke="#f66fc0" transform="matrix(0.0560 0 0 0.0480 373.8 30)"/>
<use href="#gF" fill="#8c4614" stroke="#8c4614" transform="matrix(0.0560 0 0 0.0400 373.8 35.2)"/>
<use href="#gM" fill="#1fa81f" stroke="#1fa81f" transform="matrix(0.0600 0 0 0.0390 373.6 39.6)"/>
<use href="#gW" fill="#8c4614" stroke="#8c4614" transform="matrix(0.0600 0 0 0.0270 373.6 43.5)"/>
<use href="#gT" fill="#f7921e" stroke="#f7921e" transform="matrix(0.0560 0 0 0.0190 373.8 46.9)"/>
<use href="#gY" fill="#8c4614" stroke="#8c4614" transform="matrix(0.0560 0 0 0.0170 373.8 49.7)"/>
<rect x="374" y="52.43" width="5.2" height="1.04" fill="#3a63e6" opacity="0.62"/>
<rect x="374" y="54.18" width="5.2" height="1.44" fill="#1fa81f" opacity="0.62"/>
<rect x="374" y="56.33" width="5.2" height="1.04" fill="#f7921e" opacity="0.62"/>
<line x1="382.61" y1="8.5" x2="382.61" y2="59.3" stroke="#333" stroke-width="0.9" stroke-dasharray="0.9 1.3"/>
<line x1="388.63" y1="59.7" x2="388.63" y2="62.7" stroke="#888" stroke-width="0.7"/>
<text x="391.13" y="66.7" font-size="7" text-anchor="end" fill="#2a2a2a" transform="rotate(-90 391.13 66.7)">S534</text>
<use href="#gT" fill="#f7921e" stroke="#f7921e" transform="matrix(0.0560 0 0 0.0400 385.83 48.3)"/>
<rect x="386.03" y="52.83" width="5.2" height="1.04" fill="#f66fc0" opacity="0.62"/>
<rect x="386.03" y="54.13" width="5.2" height="1.04" fill="#1fa81f" opacity="0.62"/>
<rect x="386.03" y="55.97" width="5.2" height="1.36" fill="#1fa81f" opacity="0.62"/>
<line x1="394.64" y1="8.5" x2="394.64" y2="59.3" stroke="#333" stroke-width="0.9" stroke-dasharray="0.9 1.3"/>
<line x1="400.66" y1="59.7" x2="400.66" y2="62.7" stroke="#888" stroke-width="0.7"/>
<text x="403.16" y="66.7" font-size="7" text-anchor="end" fill="#2a2a2a" transform="rotate(-90 403.16 66.7)">L555</text>
<use href="#gF" fill="#8c4614" stroke="#8c4614" transform="matrix(0.0560 0 0 0.0220 397.86 48.8)"/>
<use href="#gL" fill="#1fa81f" stroke="#1fa81f" transform="matrix(0.0560 0 0 0.0220 397.86 51.8)"/>
<rect x="398.06" y="54.63" width="5.2" height="1.04" fill="#1fa81f" opacity="0.62"/>
<rect x="398.06" y="56.15" width="5.2" height="1.2" fill="#f66fc0" opacity="0.62"/>
<line x1="406.68" y1="59.7" x2="406.68" y2="62.7" stroke="#888" stroke-width="0.7"/>
<text x="409.18" y="66.7" font-size="7" text-anchor="end" fill="#2a2a2a" transform="rotate(-90 409.18 66.7)">L556</text>
<use href="#gH" fill="#3a63e6" stroke="#3a63e6" transform="matrix(0.0560 0 0 0.0430 403.88 44)"/>
<use href="#gV" fill="#8c4614" stroke="#8c4614" transform="matrix(0.0560 0 0 0.0300 403.88 48.8)"/>
<rect x="404.08" y="52.6" width="5.2" height="0.8" fill="#8c3cc2" opacity="0.62"/>
<rect x="404.08" y="53.92" width="5.2" height="0.96" fill="#3a63e6" opacity="0.62"/>
<rect x="404.08" y="55.6" width="5.2" height="0.8" fill="#8c3cc2" opacity="0.62"/>
<rect x="404.08" y="56.6" width="5.2" height="0.8" fill="#1fa81f" opacity="0.62"/>
<line x1="412.69" y1="59.7" x2="412.69" y2="62.7" stroke="#888" stroke-width="0.7"/>
<text x="415.19" y="66.7" font-size="7" text-anchor="end" fill="#2a2a2a" transform="rotate(-90 415.19 66.7)">R557</text>
<use href="#gQ" fill="#8c3cc2" stroke="#8c3cc2" transform="matrix(0.0560 0 0 0.0350 409.89 38.3)"/>
<use href="#gT" fill="#f7921e" stroke="#f7921e" transform="matrix(0.0560 0 0 0.0180 409.89 42.2)"/>
<use href="#gA" fill="#f66fc0" stroke="#f66fc0" transform="matrix(0.0560 0 0 0.0350 409.89 44.8)"/>
<rect x="410.09" y="49.33" width="5.2" height="1.04" fill="#8c3cc2" opacity="0.62"/>
<rect x="410.09" y="51.13" width="5.2" height="1.04" fill="#1fa81f" opacity="0.62"/>
<rect x="410.09" y="52.83" width="5.2" height="1.04" fill="#1fa81f" opacity="0.62"/>
<rect x="410.09" y="54.33" width="5.2" height="1.04" fill="#f7921e" opacity="0.62"/>
<rect x="410.09" y="55.88" width="5.2" height="1.44" fill="#f66fc0" opacity="0.62"/>
<line x1="418.71" y1="59.7" x2="418.71" y2="62.7" stroke="#888" stroke-width="0.7"/>
<text x="421.21" y="66.7" font-size="7" text-anchor="end" fill="#2a2a2a" transform="rotate(-90 421.21 66.7)">A558</text>
<use href="#gV" fill="#1fa81f" stroke="#1fa81f" transform="matrix(0.0560 0 0 0.0350 415.91 49.7)"/>
<rect x="416.11" y="54.35" width="5.2" height="2.8" fill="#f7921e" opacity="0.62"/>
<line x1="424.72" y1="59.7" x2="424.72" y2="62.7" stroke="#888" stroke-width="0.7"/>
<text x="427.22" y="66.7" font-size="7" text-anchor="end" fill="#2a2a2a" transform="rotate(-90 427.22 66.7)">I559</text>
<use href="#gM" fill="#1fa81f" stroke="#1fa81f" transform="matrix(0.0600 0 0 0.0620 421.72 43.5)"/>
<use href="#gV" fill="#1fa81f" stroke="#1fa81f" transform="matrix(0.0560 0 0 0.0320 421.92 50)"/>
<rect x="422.12" y="54.13" width="5.2" height="1.04" fill="#f7921e" opacity="0.62"/>
<rect x="422.12" y="55.6" width="5.2" height="0.8" fill="#f66fc0" opacity="0.62"/>
<rect x="422.12" y="56.6" width="5.2" height="0.8" fill="#3a63e6" opacity="0.62"/>
<line x1="430.74" y1="59.7" x2="430.74" y2="62.7" stroke="#888" stroke-width="0.7"/>
<text x="433.24" y="66.7" font-size="7" text-anchor="end" fill="#2a2a2a" transform="rotate(-90 433.24 66.7)">E560</text>
<use href="#gG" fill="#f66fc0" stroke="#f66fc0" transform="matrix(0.0560 0 0 0.0300 427.94 44)"/>
<use href="#gT" fill="#f7921e" stroke="#f7921e" transform="matrix(0.0560 0 0 0.0300 427.94 47.5)"/>
<use href="#gV" fill="#1fa81f" stroke="#1fa81f" transform="matrix(0.0560 0 0 0.0220 427.94 50.5)"/>
<rect x="428.14" y="53.28" width="5.2" height="0.64" fill="#8c4614" opacity="0.62"/>
<rect x="428.14" y="54.31" width="5.2" height="0.88" fill="#1fa81f" opacity="0.62"/>
<rect x="428.14" y="55.6" width="5.2" height="0.8" fill="#8c3cc2" opacity="0.62"/>
<rect x="428.14" y="56.6" width="5.2" height="0.8" fill="#f66fc0" opacity="0.62"/>
<line x1="436.76" y1="59.7" x2="436.76" y2="62.7" stroke="#888" stroke-width="0.7"/>
<text x="439.26" y="66.7" font-size="7" text-anchor="end" fill="#2a2a2a" transform="rotate(-90 439.26 66.7)">A561</text>
<use href="#gS" fill="#f7921e" stroke="#f7921e" transform="matrix(0.0560 0 0 0.0480 433.96 28.2)"/>
<use href="#gT" fill="#f7921e" stroke="#f7921e" transform="matrix(0.0560 0 0 0.0520 433.96 33.5)"/>
<use href="#gG" fill="#f66fc0" stroke="#f66fc0" transform="matrix(0.0560 0 0 0.0300 433.96 39.2)"/>
<use href="#gL" fill="#1fa81f" stroke="#1fa81f" transform="matrix(0.0560 0 0 0.0350 433.96 42.7)"/>
<use href="#gS" fill="#f7921e" stroke="#f7921e" transform="matrix(0.0560 0 0 0.0220 433.96 46.6)"/>
<rect x="434.16" y="50.19" width="5.2" height="0.72" fill="#8c4614" opacity="0.62"/>
<rect x="434.16" y="51.94" width="5.2" height="1.12" fill="#8c3cc2" opacity="0.62"/>
<rect x="434.16" y="53.73" width="5.2" height="1.04" fill="#8c4614" opacity="0.62"/>
<rect x="434.16" y="55.39" width="5.2" height="0.72" fill="#3a63e6" opacity="0.62"/>
<rect x="434.16" y="56.33" width="5.2" height="1.04" fill="#1fa81f" opacity="0.62"/>
<line x1="442.77" y1="59.7" x2="442.77" y2="62.7" stroke="#888" stroke-width="0.7"/>
<text x="445.27" y="66.7" font-size="7" text-anchor="end" fill="#2a2a2a" transform="rotate(-90 445.27 66.7)">Q562</text>
<rect x="440.17" y="55.97" width="5.2" height="1.36" fill="#f7921e" opacity="0.62"/>
<line x1="448.79" y1="59.7" x2="448.79" y2="62.7" stroke="#888" stroke-width="0.7"/>
<text x="451.29" y="66.7" font-size="7" text-anchor="end" fill="#2a2a2a" transform="rotate(-90 451.29 66.7)">E563</text>
<rect x="446.19" y="51.98" width="5.2" height="1.44" fill="#f66fc0" opacity="0.62"/>
<rect x="446.19" y="54.13" width="5.2" height="1.04" fill="#f7921e" opacity="0.62"/>
<rect x="446.19" y="55.97" width="5.2" height="1.36" fill="#3a63e6" opacity="0.62"/>
<line x1="454.8" y1="59.7" x2="454.8" y2="62.7" stroke="#888" stroke-width="0.7"/>
<text x="457.3" y="66.7" font-size="7" text-anchor="end" fill="#2a2a2a" transform="rotate(-90 457.3 66.7)">H564</text>
<use href="#gN" fill="#8c3cc2" stroke="#8c3cc2" transform="matrix(0.0560 0 0 0.0310 452 36.5)"/>
<use href="#gS" fill="#f7921e" stroke="#f7921e" transform="matrix(0.0560 0 0 0.0270 452 40)"/>
<use href="#gH" fill="#1fa81f" stroke="#1fa81f" transform="matrix(0.0560 0 0 0.0220 452 43.1)"/>
<use href="#gY" fill="#8c4614" stroke="#8c4614" transform="matrix(0.0560 0 0 0.0220 452 45.7)"/>
<rect x="452.2" y="48.48" width="5.2" height="1.44" fill="#f66fc0" opacity="0.62"/>
<rect x="452.2" y="50.63" width="5.2" height="1.04" fill="#f66fc0" opacity="0.62"/>
<rect x="452.2" y="52.33" width="5.2" height="1.04" fill="#f7921e" opacity="0.62"/>
<rect x="452.2" y="53.92" width="5.2" height="0.96" fill="#e62129" opacity="0.62"/>
<rect x="452.2" y="55.7" width="5.2" height="1.6" fill="#3a63e6" opacity="0.62"/>
<line x1="460.82" y1="59.7" x2="460.82" y2="62.7" stroke="#888" stroke-width="0.7"/>
<text x="463.32" y="66.7" font-size="7" text-anchor="end" fill="#2a2a2a" transform="rotate(-90 463.32 66.7)">L565</text>
<use href="#gT" fill="#f7921e" stroke="#f7921e" transform="matrix(0.0560 0 0 0.0310 458.02 40.9)"/>
<use href="#gP" fill="#1fa81f" stroke="#1fa81f" transform="matrix(0.0560 0 0 0.0220 458.02 44.8)"/>
<use href="#gV" fill="#1fa81f" stroke="#1fa81f" transform="matrix(0.0560 0 0 0.0260 458.02 47.9)"/>
<use href="#gK" fill="#1fa81f" stroke="#1fa81f" transform="matrix(0.0560 0 0 0.0180 458.02 51.4)"/>
<rect x="458.22" y="53.63" width="5.2" height="1.04" fill="#f7921e" opacity="0.62"/>
<rect x="458.22" y="55.12" width="5.2" height="0.96" fill="#f66fc0" opacity="0.62"/>
<rect x="458.22" y="56.33" width="5.2" height="1.04" fill="#8c3cc2" opacity="0.62"/>
<line x1="466.84" y1="59.7" x2="466.84" y2="62.7" stroke="#888" stroke-width="0.7"/>
<text x="469.34" y="66.7" font-size="7" text-anchor="end" fill="#2a2a2a" transform="rotate(-90 469.34 66.7)">L566</text>
<rect x="464.24" y="49.38" width="5.2" height="1.44" fill="#3a63e6" opacity="0.62"/>
<rect x="464.24" y="51.53" width="5.2" height="1.04" fill="#f7921e" opacity="0.62"/>
<rect x="464.24" y="53.24" width="5.2" height="1.12" fill="#f66fc0" opacity="0.62"/>
<rect x="464.24" y="54.94" width="5.2" height="1.12" fill="#8c4614" opacity="0.62"/>
<rect x="464.24" y="56.33" width="5.2" height="1.04" fill="#f66fc0" opacity="0.62"/>
<line x1="472.85" y1="59.7" x2="472.85" y2="62.7" stroke="#888" stroke-width="0.7"/>
<text x="475.35" y="66.7" font-size="7" text-anchor="end" fill="#2a2a2a" transform="rotate(-90 475.35 66.7)">K567</text>
<use href="#gG" fill="#f66fc0" stroke="#f66fc0" transform="matrix(0.0560 0 0 0.0460 470.05 32.8)"/>
<use href="#gT" fill="#f7921e" stroke="#f7921e" transform="matrix(0.0560 0 0 0.0480 470.05 38.7)"/>
<use href="#gS" fill="#f7921e" stroke="#f7921e" transform="matrix(0.0560 0 0 0.0390 470.05 44.4)"/>
<use href="#gA" fill="#f66fc0" stroke="#f66fc0" transform="matrix(0.0560 0 0 0.0260 470.05 48.8)"/>
<use href="#gV" fill="#1fa81f" stroke="#1fa81f" transform="matrix(0.0560 0 0 0.0220 470.05 51.8)"/>
<rect x="470.25" y="54.63" width="5.2" height="1.04" fill="#8c3cc2" opacity="0.62"/>
<rect x="470.25" y="56.33" width="5.2" height="1.04" fill="#3a63e6" opacity="0.62"/>
<line x1="478.87" y1="59.7" x2="478.87" y2="62.7" stroke="#888" stroke-width="0.7"/>
<text x="481.37" y="66.7" font-size="7" text-anchor="end" fill="#2a2a2a" transform="rotate(-90 481.37 66.7)">L568</text>
<rect x="476.27" y="48.48" width="5.2" height="1.44" fill="#f66fc0" opacity="0.62"/>
<use href="#gV" fill="#1fa81f" stroke="#1fa81f" transform="matrix(0.0560 0 0 0.0170 476.07 50.1)"/>
<rect x="476.27" y="52.47" width="5.2" height="1.36" fill="#f7921e" opacity="0.62"/>
<rect x="476.27" y="54.33" width="5.2" height="1.04" fill="#1fa81f" opacity="0.62"/>
<rect x="476.27" y="55.88" width="5.2" height="1.44" fill="#e62129" opacity="0.62"/>
<line x1="484.88" y1="59.7" x2="484.88" y2="62.7" stroke="#888" stroke-width="0.7"/>
<text x="487.38" y="66.7" font-size="7" text-anchor="end" fill="#2a2a2a" transform="rotate(-90 487.38 66.7)">T569</text>
<use href="#gA" fill="#f66fc0" stroke="#f66fc0" transform="matrix(0.0560 0 0 0.0310 482.08 44.8)"/>
<rect x="482.28" y="48.48" width="5.2" height="1.44" fill="#f66fc0" opacity="0.62"/>
<rect x="482.28" y="50.72" width="5.2" height="1.76" fill="#3a63e6" opacity="0.62"/>
<rect x="482.28" y="52.83" width="5.2" height="1.04" fill="#e62129" opacity="0.62"/>
<rect x="482.28" y="54.63" width="5.2" height="1.04" fill="#1fa81f" opacity="0.62"/>
<rect x="482.28" y="55.97" width="5.2" height="1.36" fill="#3a63e6" opacity="0.62"/>
<line x1="490.9" y1="59.7" x2="490.9" y2="62.7" stroke="#888" stroke-width="0.7"/>
<text x="493.4" y="66.7" font-size="7" text-anchor="end" fill="#2a2a2a" transform="rotate(-90 493.4 66.7)">V570</text>
<rect x="488.3" y="53.05" width="5.2" height="2.8" fill="#8c4614" opacity="0.62"/>
<line x1="496.92" y1="59.7" x2="496.92" y2="62.7" stroke="#888" stroke-width="0.7"/>
<text x="499.42" y="66.7" font-size="7" text-anchor="end" fill="#2a2a2a" transform="rotate(-90 499.42 66.7)">W571</text>
<rect x="494.32" y="55.08" width="5.2" height="1.44" fill="#3a63e6" opacity="0.62"/>
<line x1="502.93" y1="59.7" x2="502.93" y2="62.7" stroke="#888" stroke-width="0.7"/>
<text x="505.43" y="66.7" font-size="7" text-anchor="end" fill="#2a2a2a" transform="rotate(-90 505.43 66.7)">G572</text>
<rect x="500.33" y="56.78" width="5.2" height="0.64" fill="#f7921e" opacity="0.62"/>
<line x1="508.95" y1="59.7" x2="508.95" y2="62.7" stroke="#888" stroke-width="0.7"/>
<text x="511.45" y="66.7" font-size="7" text-anchor="end" fill="#2a2a2a" transform="rotate(-90 511.45 66.7)">I573</text>
<use href="#gL" fill="#1fa81f" stroke="#1fa81f" transform="matrix(0.0560 0 0 0.0170 506.15 50.1)"/>
<rect x="506.35" y="52.47" width="5.2" height="1.36" fill="#f66fc0" opacity="0.62"/>
<rect x="506.35" y="54.13" width="5.2" height="1.04" fill="#f7921e" opacity="0.62"/>
<rect x="506.35" y="55.52" width="5.2" height="1.76" fill="#3a63e6" opacity="0.62"/>
<line x1="514.96" y1="59.7" x2="514.96" y2="62.7" stroke="#888" stroke-width="0.7"/>
<text x="517.46" y="66.7" font-size="7" text-anchor="end" fill="#2a2a2a" transform="rotate(-90 517.46 66.7)">K574</text>
<rect x="512.36" y="55.13" width="5.2" height="1.84" fill="#3a63e6" opacity="0.62"/>
<line x1="520.98" y1="59.7" x2="520.98" y2="62.7" stroke="#888" stroke-width="0.7"/>
<text x="523.48" y="66.7" font-size="7" text-anchor="end" fill="#2a2a2a" transform="rotate(-90 523.48 66.7)">Q575</text>
<use href="#gR" fill="#3a63e6" stroke="#3a63e6" transform="matrix(0.0560 0 0 0.0310 518.18 47.9)"/>
<use href="#gY" fill="#8c4614" stroke="#8c4614" transform="matrix(0.0560 0 0 0.0170 518.18 51)"/>
<rect x="518.38" y="53.28" width="5.2" height="1.44" fill="#f66fc0" opacity="0.62"/>
<rect x="518.38" y="55.49" width="5.2" height="1.52" fill="#3a63e6" opacity="0.62"/>
<line x1="527" y1="59.7" x2="527" y2="62.7" stroke="#888" stroke-width="0.7"/>
<text x="529.5" y="66.7" font-size="7" text-anchor="end" fill="#2a2a2a" transform="rotate(-90 529.5 66.7)">L576</text>
<line x1="533.01" y1="59.7" x2="533.01" y2="62.7" stroke="#888" stroke-width="0.7"/>
<text x="535.51" y="66.7" font-size="7" text-anchor="end" fill="#2a2a2a" transform="rotate(-90 535.51 66.7)">Q577</text>
<use href="#gS" fill="#f7921e" stroke="#f7921e" transform="matrix(0.0560 0 0 0.0440 530.21 33.9)"/>
<use href="#gH" fill="#3a63e6" stroke="#3a63e6" transform="matrix(0.0560 0 0 0.0350 530.21 39.2)"/>
<use href="#gL" fill="#1fa81f" stroke="#1fa81f" transform="matrix(0.0560 0 0 0.0260 530.21 43.1)"/>
<use href="#gY" fill="#8c4614" stroke="#8c4614" transform="matrix(0.0560 0 0 0.0260 530.21 46.2)"/>
<use href="#gW" fill="#8c4614" stroke="#8c4614" transform="matrix(0.0600 0 0 0.0170 530.01 49.7)"/>
<rect x="530.41" y="51.93" width="5.2" height="1.04" fill="#f66fc0" opacity="0.62"/>
<rect x="530.41" y="53.24" width="5.2" height="1.12" fill="#f7921e" opacity="0.62"/>
<rect x="530.41" y="54.63" width="5.2" height="1.04" fill="#f66fc0" opacity="0.62"/>
<rect x="530.41" y="55.97" width="5.2" height="1.36" fill="#1fa81f" opacity="0.62"/>
<line x1="539.03" y1="59.7" x2="539.03" y2="62.7" stroke="#888" stroke-width="0.7"/>
<text x="541.53" y="66.7" font-size="7" text-anchor="end" fill="#2a2a2a" transform="rotate(-90 541.53 66.7)">A578</text>
<rect x="536.43" y="55.5" width="5.2" height="1.6" fill="#f7921e" opacity="0.62"/>
<line x1="545.04" y1="59.7" x2="545.04" y2="62.7" stroke="#888" stroke-width="0.7"/>
<text x="547.54" y="66.7" font-size="7" text-anchor="end" fill="#2a2a2a" transform="rotate(-90 547.54 66.7)">R579</text>
<rect x="542.44" y="55.94" width="5.2" height="1.12" fill="#1fa81f" opacity="0.62"/>
<line x1="551.06" y1="59.7" x2="551.06" y2="62.7" stroke="#888" stroke-width="0.7"/>
<text x="553.56" y="66.7" font-size="7" text-anchor="end" fill="#2a2a2a" transform="rotate(-90 553.56 66.7)">V580</text>
<rect x="548.46" y="54.72" width="5.2" height="1.76" fill="#f66fc0" opacity="0.62"/>
<line x1="557.08" y1="59.7" x2="557.08" y2="62.7" stroke="#888" stroke-width="0.7"/>
<text x="559.58" y="66.7" font-size="7" text-anchor="end" fill="#2a2a2a" transform="rotate(-90 559.58 66.7)">L581</text>
<use href="#gI" fill="#1fa81f" stroke="#1fa81f" transform="matrix(0.0460 0 0 0.0310 554.78 51.4)"/>
<rect x="554.48" y="54.99" width="5.2" height="0.72" fill="#1fa81f" opacity="0.62"/>
<rect x="554.48" y="56.31" width="5.2" height="0.88" fill="#f66fc0" opacity="0.62"/>
<line x1="563.09" y1="59.7" x2="563.09" y2="62.7" stroke="#888" stroke-width="0.7"/>
<text x="565.59" y="66.7" font-size="7" text-anchor="end" fill="#2a2a2a" transform="rotate(-90 565.59 66.7)">A582</text>
<rect x="560.49" y="55.2" width="5.2" height="1.6" fill="#e62129" opacity="0.62"/>
<line x1="569.11" y1="59.7" x2="569.11" y2="62.7" stroke="#888" stroke-width="0.7"/>
<text x="571.61" y="66.7" font-size="7" text-anchor="end" fill="#2a2a2a" transform="rotate(-90 571.61 66.7)">V583</text>
<rect x="566.51" y="55.94" width="5.2" height="1.12" fill="#1fa81f" opacity="0.62"/>
<line x1="575.12" y1="59.7" x2="575.12" y2="62.7" stroke="#888" stroke-width="0.7"/>
<text x="577.62" y="66.7" font-size="7" text-anchor="end" fill="#2a2a2a" transform="rotate(-90 577.62 66.7)">E584</text>
<rect x="572.52" y="53.33" width="5.2" height="1.04" fill="#f7921e" opacity="0.62"/>
<rect x="572.52" y="55.03" width="5.2" height="1.04" fill="#e62129" opacity="0.62"/>
<rect x="572.52" y="56.3" width="5.2" height="0.8" fill="#f66fc0" opacity="0.62"/>
<line x1="581.14" y1="59.7" x2="581.14" y2="62.7" stroke="#888" stroke-width="0.7"/>
<text x="583.64" y="66.7" font-size="7" text-anchor="end" fill="#2a2a2a" transform="rotate(-90 583.64 66.7)">R585</text>
<use href="#gG" fill="#f66fc0" stroke="#f66fc0" transform="matrix(0.0560 0 0 0.0350 578.34 40)"/>
<use href="#gV" fill="#1fa81f" stroke="#1fa81f" transform="matrix(0.0560 0 0 0.0400 578.34 44)"/>
<use href="#gL" fill="#1fa81f" stroke="#1fa81f" transform="matrix(0.0560 0 0 0.0220 578.34 48.3)"/>
<use href="#gY" fill="#8c4614" stroke="#8c4614" transform="matrix(0.0560 0 0 0.0170 578.34 51)"/>
<rect x="578.54" y="53.37" width="5.2" height="1.36" fill="#f7921e" opacity="0.62"/>
<rect x="578.54" y="54.99" width="5.2" height="0.72" fill="#8c4614" opacity="0.62"/>
<rect x="578.54" y="55.89" width="5.2" height="0.72" fill="#1fa81f" opacity="0.62"/>
<rect x="578.54" y="56.78" width="5.2" height="0.64" fill="#f66fc0" opacity="0.62"/>
<line x1="587.16" y1="59.7" x2="587.16" y2="62.7" stroke="#888" stroke-width="0.7"/>
<text x="589.66" y="66.7" font-size="7" text-anchor="end" fill="#2a2a2a" transform="rotate(-90 589.66 66.7)">Y586</text>
<rect x="584.56" y="55.03" width="5.2" height="1.04" fill="#1fa81f" opacity="0.62"/>
<rect x="584.56" y="56.31" width="5.2" height="0.88" fill="#f7921e" opacity="0.62"/>
<line x1="593.17" y1="59.7" x2="593.17" y2="62.7" stroke="#888" stroke-width="0.7"/>
<text x="595.67" y="66.7" font-size="7" text-anchor="end" fill="#2a2a2a" transform="rotate(-90 595.67 66.7)">L587</text>
<rect x="590.57" y="52.92" width="5.2" height="1.76" fill="#1fa81f" opacity="0.62"/>
<rect x="590.57" y="55.39" width="5.2" height="0.72" fill="#f7921e" opacity="0.62"/>
<rect x="590.57" y="56.31" width="5.2" height="0.88" fill="#3a63e6" opacity="0.62"/>
<line x1="599.19" y1="59.7" x2="599.19" y2="62.7" stroke="#888" stroke-width="0.7"/>
<text x="601.69" y="66.7" font-size="7" text-anchor="end" fill="#2a2a2a" transform="rotate(-90 601.69 66.7)">K588</text>
<use href="#gY" fill="#8c4614" stroke="#8c4614" transform="matrix(0.0560 0 0 0.0480 596.39 22.5)"/>
<use href="#gT" fill="#f7921e" stroke="#f7921e" transform="matrix(0.0560 0 0 0.0430 596.39 27.8)"/>
<use href="#gF" fill="#8c4614" stroke="#8c4614" transform="matrix(0.0560 0 0 0.0390 596.39 32.6)"/>
<use href="#gA" fill="#f66fc0" stroke="#f66fc0" transform="matrix(0.0560 0 0 0.0390 596.39 37)"/>
<use href="#gM" fill="#1fa81f" stroke="#1fa81f" transform="matrix(0.0600 0 0 0.0350 596.19 41.3)"/>
<use href="#gS" fill="#f7921e" stroke="#f7921e" transform="matrix(0.0560 0 0 0.0260 596.39 45.3)"/>
<use href="#gL" fill="#1fa81f" stroke="#1fa81f" transform="matrix(0.0560 0 0 0.0270 596.39 48.3)"/>
<rect x="596.59" y="51.98" width="5.2" height="1.44" fill="#3a63e6" opacity="0.62"/>
<rect x="596.59" y="54.13" width="5.2" height="1.04" fill="#3a63e6" opacity="0.62"/>
<rect x="596.59" y="55.95" width="5.2" height="1.2" fill="#f66fc0" opacity="0.62"/>
<line x1="605.2" y1="59.7" x2="605.2" y2="62.7" stroke="#888" stroke-width="0.7"/>
<text x="607.7" y="66.7" font-size="7" text-anchor="end" fill="#2a2a2a" transform="rotate(-90 607.7 66.7)">D589</text>
<rect x="602.6" y="56.28" width="5.2" height="0.64" fill="#8c4614" opacity="0.62"/>
<line x1="611.22" y1="59.7" x2="611.22" y2="62.7" stroke="#888" stroke-width="0.7"/>
<text x="613.72" y="66.7" font-size="7" text-anchor="end" fill="#2a2a2a" transform="rotate(-90 613.72 66.7)">Q590</text>
<rect x="608.62" y="53.33" width="5.2" height="1.04" fill="#8c4614" opacity="0.62"/>
<rect x="608.62" y="54.63" width="5.2" height="1.04" fill="#1fa81f" opacity="0.62"/>
<rect x="608.62" y="56.31" width="5.2" height="0.88" fill="#3a63e6" opacity="0.62"/>
<line x1="617.24" y1="59.7" x2="617.24" y2="62.7" stroke="#888" stroke-width="0.7"/>
<text x="619.74" y="66.7" font-size="7" text-anchor="end" fill="#2a2a2a" transform="rotate(-90 619.74 66.7)">Q591</text>
<use href="#gL" fill="#1fa81f" stroke="#1fa81f" transform="matrix(0.0560 0 0 0.0440 614.44 33)"/>
<use href="#gA" fill="#f66fc0" stroke="#f66fc0" transform="matrix(0.0560 0 0 0.0400 614.44 37.8)"/>
<use href="#gV" fill="#1fa81f" stroke="#1fa81f" transform="matrix(0.0560 0 0 0.0300 614.44 42.7)"/>
<use href="#gK" fill="#1fa81f" stroke="#1fa81f" transform="matrix(0.0560 0 0 0.0310 614.44 45.7)"/>
<rect x="614.64" y="49.29" width="5.2" height="0.72" fill="#f66fc0" opacity="0.62"/>
<rect x="614.64" y="50.77" width="5.2" height="2.16" fill="#f7921e" opacity="0.62"/>
<rect x="614.64" y="54.67" width="5.2" height="1.36" fill="#3a63e6" opacity="0.62"/>
<rect x="614.64" y="56.78" width="5.2" height="0.64" fill="#f7921e" opacity="0.62"/>
<line x1="623.25" y1="8.5" x2="623.25" y2="59.3" stroke="#333" stroke-width="0.9" stroke-dasharray="0.9 1.3"/>
<line x1="629.27" y1="59.7" x2="629.27" y2="62.7" stroke="#888" stroke-width="0.7"/>
<text x="631.77" y="66.7" font-size="7" text-anchor="end" fill="#2a2a2a" transform="rotate(-90 631.77 66.7)">N625</text>
<use href="#gS" fill="#f7921e" stroke="#f7921e" transform="matrix(0.0560 0 0 0.0310 626.47 32.1)"/>
<use href="#gG" fill="#f66fc0" stroke="#f66fc0" transform="matrix(0.0560 0 0 0.0310 626.47 36.1)"/>
<use href="#gH" fill="#3a63e6" stroke="#3a63e6" transform="matrix(0.0560 0 0 0.0310 626.47 40)"/>
<use href="#gT" fill="#f7921e" stroke="#f7921e" transform="matrix(0.0560 0 0 0.0220 626.47 43.5)"/>
<use href="#gD" fill="#1fa81f" stroke="#1fa81f" transform="matrix(0.0560 0 0 0.0390 626.47 46.6)"/>
<rect x="626.67" y="51.13" width="5.2" height="1.04" fill="#e62129" opacity="0.62"/>
<rect x="626.67" y="52.83" width="5.2" height="1.04" fill="#3a63e6" opacity="0.62"/>
<rect x="626.67" y="54.67" width="5.2" height="1.36" fill="#f7921e" opacity="0.62"/>
<rect x="626.67" y="56.31" width="5.2" height="0.88" fill="#f66fc0" opacity="0.62"/>
<line x1="635.28" y1="8.5" x2="635.28" y2="59.3" stroke="#333" stroke-width="0.9" stroke-dasharray="0.9 1.3"/>
<line x1="641.3" y1="59.7" x2="641.3" y2="62.7" stroke="#888" stroke-width="0.7"/>
<text x="643.8" y="66.7" font-size="7" text-anchor="end" fill="#2a2a2a" transform="rotate(-90 643.8 66.7)">K655</text>
<use href="#gI" fill="#1fa81f" stroke="#1fa81f" transform="matrix(0.0460 0 0 0.0390 639 31.3)"/>
<use href="#gE" fill="#e62129" stroke="#e62129" transform="matrix(0.0560 0 0 0.0310 638.5 35.6)"/>
<use href="#gM" fill="#1fa81f" stroke="#1fa81f" transform="matrix(0.0600 0 0 0.0310 638.3 39.6)"/>
<use href="#gL" fill="#1fa81f" stroke="#1fa81f" transform="matrix(0.0560 0 0 0.0220 638.5 43.1)"/>
<use href="#gV" fill="#1fa81f" stroke="#1fa81f" transform="matrix(0.0560 0 0 0.0310 638.5 45.7)"/>
<rect x="638.7" y="49.83" width="5.2" height="1.04" fill="#8c3cc2" opacity="0.62"/>
<rect x="638.7" y="51.98" width="5.2" height="1.44" fill="#f7921e" opacity="0.62"/>
<rect x="638.7" y="54.18" width="5.2" height="1.44" fill="#3a63e6" opacity="0.62"/>
<rect x="638.7" y="55.95" width="5.2" height="1.2" fill="#8c3cc2" opacity="0.62"/>
<line x1="186.4" y1="100.5" x2="186.4" y2="150" stroke="#bbb" stroke-width="0.8"/>
<line x1="184.2" y1="104.2" x2="186.4" y2="104.2" stroke="#999" stroke-width="0.7"/>
<text x="181.2" y="107.1" font-size="8.2" text-anchor="end">18</text>
<line x1="184.2" y1="119" x2="186.4" y2="119" stroke="#999" stroke-width="0.7"/>
<text x="181.2" y="121.9" font-size="8.2" text-anchor="end">12</text>
<line x1="184.2" y1="133.8" x2="186.4" y2="133.8" stroke="#999" stroke-width="0.7"/>
<text x="181.2" y="136.7" font-size="8.2" text-anchor="end">6</text>
<line x1="184.2" y1="148.4" x2="186.4" y2="148.4" stroke="#999" stroke-width="0.7"/>
<text x="181.2" y="151.3" font-size="8.2" text-anchor="end">0</text>
<line x1="186.4" y1="150" x2="645.5" y2="150" stroke="#aaa" stroke-width="0.8"/>
<line x1="190.1" y1="150.4" x2="190.1" y2="153.4" stroke="#888" stroke-width="0.7"/>
<text x="192.6" y="156.4" font-size="7" text-anchor="end" fill="#2a2a2a" transform="rotate(-90 192.6 156.4)">E64</text>
<use href="#gS" fill="#f7921e" stroke="#f7921e" transform="matrix(0.0560 0 0 0.0440 187.3 102.9)"/>
<use href="#gP" fill="#1fa81f" stroke="#1fa81f" transform="matrix(0.0560 0 0 0.0440 187.3 107.7)"/>
<use href="#gV" fill="#1fa81f" stroke="#1fa81f" transform="matrix(0.0560 0 0 0.0400 187.3 112.5)"/>
<use href="#gQ" fill="#8c3cc2" stroke="#8c3cc2" transform="matrix(0.0560 0 0 0.0350 187.3 116.9)"/>
<use href="#gN" fill="#8c3cc2" stroke="#8c3cc2" transform="matrix(0.0560 0 0 0.0350 187.3 120.8)"/>
<use href="#gK" fill="#3a63e6" stroke="#3a63e6" transform="matrix(0.0560 0 0 0.0260 187.3 124.8)"/>
<use href="#gT" fill="#f7921e" stroke="#f7921e" transform="matrix(0.0560 0 0 0.0180 187.3 127.8)"/>
<use href="#gA" fill="#f66fc0" stroke="#f66fc0" transform="matrix(0.0560 0 0 0.0220 187.3 130.5)"/>
<use href="#gD" fill="#e62129" stroke="#e62129" transform="matrix(0.0560 0 0 0.0220 187.3 133.5)"/>
<use href="#gL" fill="#1fa81f" stroke="#1fa81f" transform="matrix(0.0560 0 0 0.0210 187.3 136.2)"/>
<rect x="187.5" y="138.93" width="5.2" height="1.04" fill="#3a63e6" opacity="0.62"/>
<rect x="187.5" y="140.63" width="5.2" height="1.04" fill="#8c4614" opacity="0.62"/>
<rect x="187.5" y="142.43" width="5.2" height="1.04" fill="#3a63e6" opacity="0.62"/>
<rect x="187.5" y="143.74" width="5.2" height="1.12" fill="#1fa81f" opacity="0.62"/>
<rect x="187.5" y="145.52" width="5.2" height="1.76" fill="#f66fc0" opacity="0.62"/>
<line x1="196.12" y1="150.4" x2="196.12" y2="153.4" stroke="#888" stroke-width="0.7"/>
<text x="198.62" y="156.4" font-size="7" text-anchor="end" fill="#2a2a2a" transform="rotate(-90 198.62 156.4)">V65</text>
<use href="#gN" fill="#8c3cc2" stroke="#8c3cc2" transform="matrix(0.0560 0 0 0.0260 193.32 135.7)"/>
<rect x="193.52" y="138.97" width="5.2" height="1.36" fill="#e62129" opacity="0.62"/>
<rect x="193.52" y="140.59" width="5.2" height="0.72" fill="#f7921e" opacity="0.62"/>
<rect x="193.52" y="142.02" width="5.2" height="1.76" fill="#3a63e6" opacity="0.62"/>
<rect x="193.52" y="144.13" width="5.2" height="1.04" fill="#1fa81f" opacity="0.62"/>
<rect x="193.52" y="145.52" width="5.2" height="1.76" fill="#f66fc0" opacity="0.62"/>
<line x1="202.13" y1="150.4" x2="202.13" y2="153.4" stroke="#888" stroke-width="0.7"/>
<text x="204.63" y="156.4" font-size="7" text-anchor="end" fill="#2a2a2a" transform="rotate(-90 204.63 156.4)">H66</text>
<use href="#gP" fill="#1fa81f" stroke="#1fa81f" transform="matrix(0.0560 0 0 0.0430 199.33 117.8)"/>
<use href="#gQ" fill="#8c3cc2" stroke="#8c3cc2" transform="matrix(0.0560 0 0 0.0400 199.33 123)"/>
<use href="#gI" fill="#1fa81f" stroke="#1fa81f" transform="matrix(0.0460 0 0 0.0440 199.83 127.4)"/>
<use href="#gL" fill="#1fa81f" stroke="#1fa81f" transform="matrix(0.0560 0 0 0.0260 199.33 132.7)"/>
<use href="#gA" fill="#f66fc0" stroke="#f66fc0" transform="matrix(0.0560 0 0 0.0260 199.33 136.2)"/>
<use href="#gV" fill="#1fa81f" stroke="#1fa81f" transform="matrix(0.0560 0 0 0.0260 199.33 138.8)"/>
<rect x="199.53" y="141.94" width="5.2" height="1.12" fill="#8c3cc2" opacity="0.62"/>
<rect x="199.53" y="143.74" width="5.2" height="1.12" fill="#f66fc0" opacity="0.62"/>
<rect x="199.53" y="145.52" width="5.2" height="1.76" fill="#f7921e" opacity="0.62"/>
<line x1="208.15" y1="150.4" x2="208.15" y2="153.4" stroke="#888" stroke-width="0.7"/>
<text x="210.65" y="156.4" font-size="7" text-anchor="end" fill="#2a2a2a" transform="rotate(-90 210.65 156.4)">N67</text>
<rect x="205.55" y="147.07" width="5.2" height="0.56" fill="#f7921e" opacity="0.62"/>
<line x1="214.16" y1="150.4" x2="214.16" y2="153.4" stroke="#888" stroke-width="0.7"/>
<text x="216.66" y="156.4" font-size="7" text-anchor="end" fill="#2a2a2a" transform="rotate(-90 216.66 156.4)">I68</text>
<rect x="211.56" y="145.97" width="5.2" height="1.36" fill="#8c4614" opacity="0.62"/>
<line x1="220.18" y1="150.4" x2="220.18" y2="153.4" stroke="#888" stroke-width="0.7"/>
<text x="222.68" y="156.4" font-size="7" text-anchor="end" fill="#2a2a2a" transform="rotate(-90 222.68 156.4)">W69</text>
<use href="#gL" fill="#1fa81f" stroke="#1fa81f" transform="matrix(0.0560 0 0 0.0310 217.38 143.6)"/>
<rect x="217.58" y="146.78" width="5.2" height="0.64" fill="#8c4614" opacity="0.62"/>
<line x1="226.2" y1="150.4" x2="226.2" y2="153.4" stroke="#888" stroke-width="0.7"/>
<text x="228.7" y="156.4" font-size="7" text-anchor="end" fill="#2a2a2a" transform="rotate(-90 228.7 156.4)">A70</text>
<use href="#gQ" fill="#8c3cc2" stroke="#8c3cc2" transform="matrix(0.0560 0 0 0.0260 223.4 132.2)"/>
<rect x="223.6" y="135.43" width="5.2" height="1.04" fill="#e62129" opacity="0.62"/>
<rect x="223.6" y="137.18" width="5.2" height="1.44" fill="#f7921e" opacity="0.62"/>
<rect x="223.6" y="139.38" width="5.2" height="1.44" fill="#e62129" opacity="0.62"/>
<use href="#gV" fill="#1fa81f" stroke="#1fa81f" transform="matrix(0.0560 0 0 0.0170 223.4 141)"/>
<rect x="223.6" y="142.83" width="5.2" height="1.04" fill="#3a63e6" opacity="0.62"/>
<rect x="223.6" y="144.18" width="5.2" height="1.44" fill="#3a63e6" opacity="0.62"/>
<rect x="223.6" y="145.97" width="5.2" height="1.36" fill="#f7921e" opacity="0.62"/>
<line x1="232.21" y1="150.4" x2="232.21" y2="153.4" stroke="#888" stroke-width="0.7"/>
<text x="234.71" y="156.4" font-size="7" text-anchor="end" fill="#2a2a2a" transform="rotate(-90 234.71 156.4)">T71</text>
<rect x="229.61" y="145.52" width="5.2" height="1.76" fill="#f7921e" opacity="0.62"/>
<line x1="238.23" y1="150.4" x2="238.23" y2="153.4" stroke="#888" stroke-width="0.7"/>
<text x="240.73" y="156.4" font-size="7" text-anchor="end" fill="#2a2a2a" transform="rotate(-90 240.73 156.4)">H72</text>
<rect x="235.63" y="146.96" width="5.2" height="0.48" fill="#e62129" opacity="0.62"/>
<line x1="244.24" y1="150.4" x2="244.24" y2="153.4" stroke="#888" stroke-width="0.7"/>
<text x="246.74" y="156.4" font-size="7" text-anchor="end" fill="#2a2a2a" transform="rotate(-90 246.74 156.4)">A73</text>
<rect x="241.64" y="144.22" width="5.2" height="1.76" fill="#1fa81f" opacity="0.62"/>
<rect x="241.64" y="146.33" width="5.2" height="1.04" fill="#f66fc0" opacity="0.62"/>
<line x1="250.26" y1="150.4" x2="250.26" y2="153.4" stroke="#888" stroke-width="0.7"/>
<text x="252.76" y="156.4" font-size="7" text-anchor="end" fill="#2a2a2a" transform="rotate(-90 252.76 156.4)">C74</text>
<rect x="247.66" y="144.22" width="5.2" height="1.76" fill="#3a63e6" opacity="0.62"/>
<rect x="247.66" y="146.33" width="5.2" height="1.04" fill="#f66fc0" opacity="0.62"/>
<line x1="256.28" y1="150.4" x2="256.28" y2="153.4" stroke="#888" stroke-width="0.7"/>
<text x="258.78" y="156.4" font-size="7" text-anchor="end" fill="#2a2a2a" transform="rotate(-90 258.78 156.4)">V75</text>
<use href="#gT" fill="#f7921e" stroke="#f7921e" transform="matrix(0.0560 0 0 0.0270 253.48 137)"/>
<rect x="253.68" y="140.27" width="5.2" height="1.36" fill="#1fa81f" opacity="0.62"/>
<rect x="253.68" y="142.39" width="5.2" height="0.72" fill="#e62129" opacity="0.62"/>
<rect x="253.68" y="143.73" width="5.2" height="1.04" fill="#1fa81f" opacity="0.62"/>
<rect x="253.68" y="145.03" width="5.2" height="1.04" fill="#f7921e" opacity="0.62"/>
<rect x="253.68" y="146.33" width="5.2" height="1.04" fill="#f66fc0" opacity="0.62"/>
<line x1="262.29" y1="150.4" x2="262.29" y2="153.4" stroke="#888" stroke-width="0.7"/>
<text x="264.79" y="156.4" font-size="7" text-anchor="end" fill="#2a2a2a" transform="rotate(-90 264.79 156.4)">P76</text>
<rect x="259.69" y="144.13" width="5.2" height="1.04" fill="#1fa81f" opacity="0.62"/>
<rect x="259.69" y="145.89" width="5.2" height="0.72" fill="#3a63e6" opacity="0.62"/>
<rect x="259.69" y="146.78" width="5.2" height="0.64" fill="#f7921e" opacity="0.62"/>
<line x1="268.31" y1="150.4" x2="268.31" y2="153.4" stroke="#888" stroke-width="0.7"/>
<text x="270.81" y="156.4" font-size="7" text-anchor="end" fill="#2a2a2a" transform="rotate(-90 270.81 156.4)">T77</text>
<use href="#gI" fill="#1fa81f" stroke="#1fa81f" transform="matrix(0.0460 0 0 0.0350 266.01 127.4)"/>
<use href="#gV" fill="#1fa81f" stroke="#1fa81f" transform="matrix(0.0560 0 0 0.0350 265.51 131.3)"/>
<use href="#gF" fill="#8c4614" stroke="#8c4614" transform="matrix(0.0560 0 0 0.0440 265.51 135.3)"/>
<rect x="265.71" y="140.68" width="5.2" height="1.44" fill="#3a63e6" opacity="0.62"/>
<rect x="265.71" y="142.83" width="5.2" height="1.04" fill="#3a63e6" opacity="0.62"/>
<rect x="265.71" y="144.63" width="5.2" height="1.04" fill="#1fa81f" opacity="0.62"/>
<rect x="265.71" y="146.33" width="5.2" height="1.04" fill="#f66fc0" opacity="0.62"/>
<line x1="274.32" y1="150.4" x2="274.32" y2="153.4" stroke="#888" stroke-width="0.7"/>
<text x="276.82" y="156.4" font-size="7" text-anchor="end" fill="#2a2a2a" transform="rotate(-90 276.82 156.4)">D78</text>
<rect x="271.72" y="144" width="5.2" height="0.8" fill="#e62129" opacity="0.62"/>
<rect x="271.72" y="145.39" width="5.2" height="0.72" fill="#1fa81f" opacity="0.62"/>
<rect x="271.72" y="146.78" width="5.2" height="0.64" fill="#8c3cc2" opacity="0.62"/>
<line x1="280.34" y1="150.4" x2="280.34" y2="153.4" stroke="#888" stroke-width="0.7"/>
<text x="282.84" y="156.4" font-size="7" text-anchor="end" fill="#2a2a2a" transform="rotate(-90 282.84 156.4)">P79</text>
<use href="#gS" fill="#f7921e" stroke="#f7921e" transform="matrix(0.0560 0 0 0.0310 277.54 130.9)"/>
<use href="#gL" fill="#1fa81f" stroke="#1fa81f" transform="matrix(0.0560 0 0 0.0260 277.54 134.4)"/>
<rect x="277.74" y="137.72" width="5.2" height="1.76" fill="#f66fc0" opacity="0.62"/>
<rect x="277.74" y="140.27" width="5.2" height="1.36" fill="#3a63e6" opacity="0.62"/>
<rect x="277.74" y="142.47" width="5.2" height="1.36" fill="#8c3cc2" opacity="0.62"/>
<rect x="277.74" y="144.58" width="5.2" height="0.64" fill="#1fa81f" opacity="0.62"/>
<rect x="277.74" y="145.52" width="5.2" height="1.76" fill="#f7921e" opacity="0.62"/>
<line x1="286.36" y1="150.4" x2="286.36" y2="153.4" stroke="#888" stroke-width="0.7"/>
<text x="288.86" y="156.4" font-size="7" text-anchor="end" fill="#2a2a2a" transform="rotate(-90 288.86 156.4)">N80</text>
<use href="#gH" fill="#1fa81f" stroke="#1fa81f" transform="matrix(0.0560 0 0 0.0390 283.56 140.1)"/>
<rect x="283.76" y="145.08" width="5.2" height="1.44" fill="#f66fc0" opacity="0.62"/>
<rect x="283.76" y="146.78" width="5.2" height="0.64" fill="#1fa81f" opacity="0.62"/>
<line x1="292.37" y1="150.4" x2="292.37" y2="153.4" stroke="#888" stroke-width="0.7"/>
<text x="294.87" y="156.4" font-size="7" text-anchor="end" fill="#2a2a2a" transform="rotate(-90 294.87 156.4)">P81</text>
<use href="#gD" fill="#e62129" stroke="#e62129" transform="matrix(0.0560 0 0 0.0310 289.57 120.8)"/>
<use href="#gF" fill="#8c4614" stroke="#8c4614" transform="matrix(0.0560 0 0 0.0220 289.57 124.3)"/>
<use href="#gL" fill="#1fa81f" stroke="#1fa81f" transform="matrix(0.0560 0 0 0.0260 289.57 127)"/>
<use href="#gS" fill="#f7921e" stroke="#f7921e" transform="matrix(0.0560 0 0 0.0180 289.57 130)"/>
<use href="#gQ" fill="#8c3cc2" stroke="#8c3cc2" transform="matrix(0.0560 0 0 0.0130 289.57 132.7)"/>
<rect x="289.77" y="134.98" width="5.2" height="1.44" fill="#1fa81f" opacity="0.62"/>
<use href="#gT" fill="#f7921e" stroke="#f7921e" transform="matrix(0.0560 0 0 0.0130 289.57 137.5)"/>
<use href="#gY" fill="#8c4614" stroke="#8c4614" transform="matrix(0.0560 0 0 0.0130 289.57 139.2)"/>
<rect x="289.77" y="141.17" width="5.2" height="1.36" fill="#e62129" opacity="0.62"/>
<rect x="289.77" y="143.28" width="5.2" height="0.64" fill="#f7921e" opacity="0.62"/>
<rect x="289.77" y="144.13" width="5.2" height="1.04" fill="#1fa81f" opacity="0.62"/>
<rect x="289.77" y="145.52" width="5.2" height="1.76" fill="#3a63e6" opacity="0.62"/>
<line x1="298.39" y1="150.4" x2="298.39" y2="153.4" stroke="#888" stroke-width="0.7"/>
<text x="300.89" y="156.4" font-size="7" text-anchor="end" fill="#2a2a2a" transform="rotate(-90 300.89 156.4)">Q82</text>
<use href="#gL" fill="#1fa81f" stroke="#1fa81f" transform="matrix(0.0560 0 0 0.0440 295.59 125.2)"/>
<use href="#gF" fill="#8c4614" stroke="#8c4614" transform="matrix(0.0560 0 0 0.0300 295.59 130.5)"/>
<use href="#gT" fill="#1fa81f" stroke="#1fa81f" transform="matrix(0.0560 0 0 0.0350 295.59 134.4)"/>
<rect x="295.79" y="138.97" width="5.2" height="1.36" fill="#1fa81f" opacity="0.62"/>
<use href="#gL" fill="#1fa81f" stroke="#1fa81f" transform="matrix(0.0560 0 0 0.0390 295.59 141)"/>
<rect x="295.79" y="145.52" width="5.2" height="1.76" fill="#f66fc0" opacity="0.62"/>
<line x1="304.4" y1="150.4" x2="304.4" y2="153.4" stroke="#888" stroke-width="0.7"/>
<text x="306.9" y="156.4" font-size="7" text-anchor="end" fill="#2a2a2a" transform="rotate(-90 306.9 156.4)">E83</text>
<rect x="301.8" y="147.07" width="5.2" height="0.56" fill="#1fa81f" opacity="0.62"/>
<line x1="310.42" y1="150.4" x2="310.42" y2="153.4" stroke="#888" stroke-width="0.7"/>
<text x="312.92" y="156.4" font-size="7" text-anchor="end" fill="#2a2a2a" transform="rotate(-90 312.92 156.4)">I84</text>
<rect x="307.82" y="146.08" width="5.2" height="0.64" fill="#f7921e" opacity="0.62"/>
<rect x="307.82" y="146.87" width="5.2" height="0.56" fill="#3a63e6" opacity="0.62"/>
<line x1="316.44" y1="101.5" x2="316.44" y2="150" stroke="#333" stroke-width="0.9" stroke-dasharray="0.9 1.3"/>
<line x1="322.45" y1="150.4" x2="322.45" y2="153.4" stroke="#888" stroke-width="0.7"/>
<text x="324.95" y="156.4" font-size="7" text-anchor="end" fill="#2a2a2a" transform="rotate(-90 324.95 156.4)">H105</text>
<use href="#gY" fill="#8c4614" stroke="#8c4614" transform="matrix(0.0560 0 0 0.0310 319.65 137)"/>
<rect x="319.85" y="140.63" width="5.2" height="1.04" fill="#f66fc0" opacity="0.62"/>
<rect x="319.85" y="142.43" width="5.2" height="1.04" fill="#f7921e" opacity="0.62"/>
<rect x="319.85" y="143.73" width="5.2" height="1.04" fill="#1fa81f" opacity="0.62"/>
<rect x="319.85" y="145.03" width="5.2" height="1.04" fill="#3a63e6" opacity="0.62"/>
<rect x="319.85" y="146.33" width="5.2" height="1.04" fill="#f7921e" opacity="0.62"/>
<line x1="328.47" y1="150.4" x2="328.47" y2="153.4" stroke="#888" stroke-width="0.7"/>
<text x="330.97" y="156.4" font-size="7" text-anchor="end" fill="#2a2a2a" transform="rotate(-90 330.97 156.4)">T106</text>
<use href="#gV" fill="#1fa81f" stroke="#1fa81f" transform="matrix(0.0560 0 0 0.0350 325.67 137.9)"/>
<rect x="325.87" y="141.94" width="5.2" height="1.12" fill="#8c3cc2" opacity="0.62"/>
<rect x="325.87" y="143.73" width="5.2" height="1.04" fill="#1fa81f" opacity="0.62"/>
<rect x="325.87" y="145.08" width="5.2" height="1.44" fill="#e62129" opacity="0.62"/>
<rect x="325.87" y="146.78" width="5.2" height="0.64" fill="#3a63e6" opacity="0.62"/>
<line x1="334.48" y1="101.5" x2="334.48" y2="150" stroke="#333" stroke-width="0.9" stroke-dasharray="0.9 1.3"/>
<line x1="340.5" y1="150.4" x2="340.5" y2="153.4" stroke="#888" stroke-width="0.7"/>
<text x="343" y="156.4" font-size="7" text-anchor="end" fill="#2a2a2a" transform="rotate(-90 343 156.4)">A200</text>
<use href="#gL" fill="#1fa81f" stroke="#1fa81f" transform="matrix(0.0560 0 0 0.0260 337.7 136.2)"/>
<rect x="337.9" y="139.83" width="5.2" height="1.04" fill="#8c3cc2" opacity="0.62"/>
<rect x="337.9" y="141.98" width="5.2" height="1.44" fill="#e62129" opacity="0.62"/>
<rect x="337.9" y="143.73" width="5.2" height="1.04" fill="#f7921e" opacity="0.62"/>
<rect x="337.9" y="145.08" width="5.2" height="1.44" fill="#3a63e6" opacity="0.62"/>
<rect x="337.9" y="146.78" width="5.2" height="0.64" fill="#1fa81f" opacity="0.62"/>
<line x1="346.52" y1="101.5" x2="346.52" y2="150" stroke="#333" stroke-width="0.9" stroke-dasharray="0.9 1.3"/>
<line x1="352.53" y1="150.4" x2="352.53" y2="153.4" stroke="#888" stroke-width="0.7"/>
<text x="355.03" y="156.4" font-size="7" text-anchor="end" fill="#2a2a2a" transform="rotate(-90 355.03 156.4)">I213</text>
<use href="#gP" fill="#1fa81f" stroke="#1fa81f" transform="matrix(0.0560 0 0 0.0350 349.73 123)"/>
<use href="#gV" fill="#1fa81f" stroke="#1fa81f" transform="matrix(0.0560 0 0 0.0170 349.73 127)"/>
<rect x="349.93" y="130.18" width="5.2" height="1.44" fill="#3a63e6" opacity="0.62"/>
<rect x="349.93" y="132.91" width="5.2" height="1.68" fill="#3a63e6" opacity="0.62"/>
<rect x="349.93" y="135.43" width="5.2" height="1.04" fill="#f66fc0" opacity="0.62"/>
<rect x="349.93" y="137.99" width="5.2" height="0.72" fill="#e62129" opacity="0.62"/>
<rect x="349.93" y="139.87" width="5.2" height="1.36" fill="#f7921e" opacity="0.62"/>
<rect x="349.93" y="141.98" width="5.2" height="1.44" fill="#3a63e6" opacity="0.62"/>
<rect x="349.93" y="143.73" width="5.2" height="1.04" fill="#1fa81f" opacity="0.62"/>
<rect x="349.93" y="145.44" width="5.2" height="1.12" fill="#f7921e" opacity="0.62"/>
<rect x="349.93" y="146.78" width="5.2" height="0.64" fill="#f66fc0" opacity="0.62"/>
<line x1="358.55" y1="101.5" x2="358.55" y2="150" stroke="#333" stroke-width="0.9" stroke-dasharray="0.9 1.3"/>
<line x1="364.56" y1="150.4" x2="364.56" y2="153.4" stroke="#888" stroke-width="0.7"/>
<text x="367.06" y="156.4" font-size="7" text-anchor="end" fill="#2a2a2a" transform="rotate(-90 367.06 156.4)">T244</text>
<use href="#gV" fill="#1fa81f" stroke="#1fa81f" transform="matrix(0.0560 0 0 0.0530 361.76 130.9)"/>
<use href="#gA" fill="#f66fc0" stroke="#f66fc0" transform="matrix(0.0560 0 0 0.0440 361.76 136.6)"/>
<rect x="361.96" y="141.58" width="5.2" height="1.44" fill="#1fa81f" opacity="0.62"/>
<rect x="361.96" y="143.73" width="5.2" height="1.04" fill="#f66fc0" opacity="0.62"/>
<rect x="361.96" y="145.03" width="5.2" height="1.04" fill="#f7921e" opacity="0.62"/>
<rect x="361.96" y="146.78" width="5.2" height="0.64" fill="#8c4614" opacity="0.62"/>
<line x1="370.58" y1="101.5" x2="370.58" y2="150" stroke="#333" stroke-width="0.9" stroke-dasharray="0.9 1.3"/>
<line x1="376.6" y1="150.4" x2="376.6" y2="153.4" stroke="#888" stroke-width="0.7"/>
<text x="379.1" y="156.4" font-size="7" text-anchor="end" fill="#2a2a2a" transform="rotate(-90 379.1 156.4)">V255</text>
<use href="#gT" fill="#f7921e" stroke="#f7921e" transform="matrix(0.0560 0 0 0.0260 373.8 135.7)"/>
<use href="#gA" fill="#f66fc0" stroke="#f66fc0" transform="matrix(0.0560 0 0 0.0220 373.8 138.8)"/>
<rect x="374" y="141.17" width="5.2" height="1.36" fill="#3a63e6" opacity="0.62"/>
<rect x="374" y="142.88" width="5.2" height="1.44" fill="#1fa81f" opacity="0.62"/>
<rect x="374" y="145.03" width="5.2" height="1.04" fill="#f66fc0" opacity="0.62"/>
<rect x="374" y="146.33" width="5.2" height="1.04" fill="#f7921e" opacity="0.62"/>
<line x1="382.61" y1="101.5" x2="382.61" y2="150" stroke="#333" stroke-width="0.9" stroke-dasharray="0.9 1.3"/>
<line x1="388.63" y1="150.4" x2="388.63" y2="153.4" stroke="#888" stroke-width="0.7"/>
<text x="391.13" y="156.4" font-size="7" text-anchor="end" fill="#2a2a2a" transform="rotate(-90 391.13 156.4)">S534</text>
<use href="#gV" fill="#1fa81f" stroke="#1fa81f" transform="matrix(0.0560 0 0 0.0440 385.83 130)"/>
<use href="#gT" fill="#f7921e" stroke="#f7921e" transform="matrix(0.0560 0 0 0.0400 385.83 134.8)"/>
<use href="#gA" fill="#f66fc0" stroke="#f66fc0" transform="matrix(0.0560 0 0 0.0300 385.83 139.7)"/>
<use href="#gK" fill="#1fa81f" stroke="#1fa81f" transform="matrix(0.0560 0 0 0.0350 385.83 143.2)"/>
<rect x="386.03" y="146.78" width="5.2" height="0.64" fill="#3a63e6" opacity="0.62"/>
<line x1="394.64" y1="101.5" x2="394.64" y2="150" stroke="#333" stroke-width="0.9" stroke-dasharray="0.9 1.3"/>
<line x1="400.66" y1="150.4" x2="400.66" y2="153.4" stroke="#888" stroke-width="0.7"/>
<text x="403.16" y="156.4" font-size="7" text-anchor="end" fill="#2a2a2a" transform="rotate(-90 403.16 156.4)">L555</text>
<use href="#gT" fill="#f7921e" stroke="#f7921e" transform="matrix(0.0560 0 0 0.0270 397.86 137)"/>
<use href="#gV" fill="#1fa81f" stroke="#1fa81f" transform="matrix(0.0560 0 0 0.0210 397.86 139.7)"/>
<rect x="398.06" y="142.47" width="5.2" height="1.36" fill="#8c4614" opacity="0.62"/>
<rect x="398.06" y="144.63" width="5.2" height="1.04" fill="#8c3cc2" opacity="0.62"/>
<rect x="398.06" y="146.33" width="5.2" height="1.04" fill="#f7921e" opacity="0.62"/>
<line x1="406.68" y1="150.4" x2="406.68" y2="153.4" stroke="#888" stroke-width="0.7"/>
<text x="409.18" y="156.4" font-size="7" text-anchor="end" fill="#2a2a2a" transform="rotate(-90 409.18 156.4)">L556</text>
<use href="#gY" fill="#8c4614" stroke="#8c4614" transform="matrix(0.0560 0 0 0.0400 403.88 130)"/>
<use href="#gH" fill="#3a63e6" stroke="#3a63e6" transform="matrix(0.0560 0 0 0.0400 403.88 134.8)"/>
<rect x="404.08" y="139.38" width="5.2" height="1.44" fill="#8c3cc2" opacity="0.62"/>
<rect x="404.08" y="141.58" width="5.2" height="1.44" fill="#3a63e6" opacity="0.62"/>
<rect x="404.08" y="143.73" width="5.2" height="1.04" fill="#f66fc0" opacity="0.62"/>
<rect x="404.08" y="145.03" width="5.2" height="1.04" fill="#1fa81f" opacity="0.62"/>
<rect x="404.08" y="146.33" width="5.2" height="1.04" fill="#3a63e6" opacity="0.62"/>
<line x1="412.69" y1="150.4" x2="412.69" y2="153.4" stroke="#888" stroke-width="0.7"/>
<text x="415.19" y="156.4" font-size="7" text-anchor="end" fill="#2a2a2a" transform="rotate(-90 415.19 156.4)">R557</text>
<use href="#gN" fill="#8c3cc2" stroke="#8c3cc2" transform="matrix(0.0560 0 0 0.0440 409.89 116.9)"/>
<use href="#gQ" fill="#8c3cc2" stroke="#8c3cc2" transform="matrix(0.0560 0 0 0.0350 409.89 121.7)"/>
<use href="#gS" fill="#f7921e" stroke="#f7921e" transform="matrix(0.0560 0 0 0.0440 409.89 125.6)"/>
<use href="#gA" fill="#f66fc0" stroke="#f66fc0" transform="matrix(0.0560 0 0 0.0270 409.89 130)"/>
<use href="#gK" fill="#3a63e6" stroke="#3a63e6" transform="matrix(0.0560 0 0 0.0310 409.89 133.5)"/>
<rect x="410.09" y="137.18" width="5.2" height="1.44" fill="#3a63e6" opacity="0.62"/>
<rect x="410.09" y="139.33" width="5.2" height="1.04" fill="#f7921e" opacity="0.62"/>
<rect x="410.09" y="141.13" width="5.2" height="1.04" fill="#f66fc0" opacity="0.62"/>
<rect x="410.09" y="142.56" width="5.2" height="2.08" fill="#1fa81f" opacity="0.62"/>
<rect x="410.09" y="145.03" width="5.2" height="1.04" fill="#8c4614" opacity="0.62"/>
<rect x="410.09" y="146.33" width="5.2" height="1.04" fill="#f66fc0" opacity="0.62"/>
<line x1="418.71" y1="150.4" x2="418.71" y2="153.4" stroke="#888" stroke-width="0.7"/>
<text x="421.21" y="156.4" font-size="7" text-anchor="end" fill="#2a2a2a" transform="rotate(-90 421.21 156.4)">A558</text>
<use href="#gT" fill="#f7921e" stroke="#f7921e" transform="matrix(0.0560 0 0 0.0400 415.91 132.2)"/>
<use href="#gV" fill="#1fa81f" stroke="#1fa81f" transform="matrix(0.0560 0 0 0.0350 415.91 137)"/>
<use href="#gS" fill="#f7921e" stroke="#f7921e" transform="matrix(0.0560 0 0 0.0350 415.91 141)"/>
<rect x="416.11" y="145.12" width="5.2" height="1.76" fill="#f66fc0" opacity="0.62"/>
<line x1="424.72" y1="150.4" x2="424.72" y2="153.4" stroke="#888" stroke-width="0.7"/>
<text x="427.22" y="156.4" font-size="7" text-anchor="end" fill="#2a2a2a" transform="rotate(-90 427.22 156.4)">I559</text>
<use href="#gM" fill="#1fa81f" stroke="#1fa81f" transform="matrix(0.0600 0 0 0.0440 421.72 138.3)"/>
<use href="#gV" fill="#1fa81f" stroke="#1fa81f" transform="matrix(0.0560 0 0 0.0400 421.92 142.7)"/>
<line x1="430.74" y1="150.4" x2="430.74" y2="153.4" stroke="#888" stroke-width="0.7"/>
<text x="433.24" y="156.4" font-size="7" text-anchor="end" fill="#2a2a2a" transform="rotate(-90 433.24 156.4)">E560</text>
<use href="#gG" fill="#f66fc0" stroke="#f66fc0" transform="matrix(0.0560 0 0 0.0610 427.94 113)"/>
<use href="#gS" fill="#f7921e" stroke="#f7921e" transform="matrix(0.0560 0 0 0.0350 427.94 120)"/>
<use href="#gT" fill="#f7921e" stroke="#f7921e" transform="matrix(0.0560 0 0 0.0440 427.94 123.9)"/>
<use href="#gW" fill="#8c4614" stroke="#8c4614" transform="matrix(0.0600 0 0 0.0260 427.74 128.7)"/>
<use href="#gV" fill="#1fa81f" stroke="#1fa81f" transform="matrix(0.0560 0 0 0.0260 427.94 131.8)"/>
<use href="#gF" fill="#8c4614" stroke="#8c4614" transform="matrix(0.0560 0 0 0.0220 427.94 134.8)"/>
<rect x="428.14" y="137.63" width="5.2" height="1.04" fill="#e62129" opacity="0.62"/>
<use href="#gY" fill="#8c4614" stroke="#8c4614" transform="matrix(0.0560 0 0 0.0180 427.94 139.2)"/>
<rect x="428.14" y="141.98" width="5.2" height="1.44" fill="#8c3cc2" opacity="0.62"/>
<rect x="428.14" y="144.18" width="5.2" height="1.44" fill="#3a63e6" opacity="0.62"/>
<rect x="428.14" y="145.97" width="5.2" height="1.36" fill="#f66fc0" opacity="0.62"/>
<line x1="436.76" y1="150.4" x2="436.76" y2="153.4" stroke="#888" stroke-width="0.7"/>
<text x="439.26" y="156.4" font-size="7" text-anchor="end" fill="#2a2a2a" transform="rotate(-90 439.26 156.4)">A561</text>
<use href="#gT" fill="#f7921e" stroke="#f7921e" transform="matrix(0.0560 0 0 0.0610 433.96 121.7)"/>
<use href="#gS" fill="#f7921e" stroke="#f7921e" transform="matrix(0.0560 0 0 0.0400 433.96 128.7)"/>
<use href="#gY" fill="#1fa81f" stroke="#1fa81f" transform="matrix(0.0560 0 0 0.0350 433.96 133.1)"/>
<rect x="434.16" y="138.08" width="5.2" height="1.44" fill="#3a63e6" opacity="0.62"/>
<rect x="434.16" y="140.19" width="5.2" height="0.72" fill="#8c4614" opacity="0.62"/>
<rect x="434.16" y="141.94" width="5.2" height="1.12" fill="#8c3cc2" opacity="0.62"/>
<rect x="434.16" y="143.73" width="5.2" height="1.04" fill="#f66fc0" opacity="0.62"/>
<rect x="434.16" y="145.03" width="5.2" height="1.04" fill="#1fa81f" opacity="0.62"/>
<rect x="434.16" y="146.33" width="5.2" height="1.04" fill="#3a63e6" opacity="0.62"/>
<line x1="442.77" y1="150.4" x2="442.77" y2="153.4" stroke="#888" stroke-width="0.7"/>
<text x="445.27" y="156.4" font-size="7" text-anchor="end" fill="#2a2a2a" transform="rotate(-90 445.27 156.4)">Q562</text>
<use href="#gS" fill="#f7921e" stroke="#f7921e" transform="matrix(0.0560 0 0 0.0310 439.97 140.1)"/>
<rect x="440.17" y="143.73" width="5.2" height="1.04" fill="#3a63e6" opacity="0.62"/>
<rect x="440.17" y="145.03" width="5.2" height="1.04" fill="#f66fc0" opacity="0.62"/>
<rect x="440.17" y="146.33" width="5.2" height="1.04" fill="#1fa81f" opacity="0.62"/>
<line x1="448.79" y1="150.4" x2="448.79" y2="153.4" stroke="#888" stroke-width="0.7"/>
<text x="451.29" y="156.4" font-size="7" text-anchor="end" fill="#2a2a2a" transform="rotate(-90 451.29 156.4)">E563</text>
<rect x="446.19" y="142.47" width="5.2" height="1.36" fill="#f66fc0" opacity="0.62"/>
<rect x="446.19" y="144.63" width="5.2" height="1.04" fill="#1fa81f" opacity="0.62"/>
<rect x="446.19" y="145.97" width="5.2" height="1.36" fill="#f7921e" opacity="0.62"/>
<line x1="454.8" y1="150.4" x2="454.8" y2="153.4" stroke="#888" stroke-width="0.7"/>
<text x="457.3" y="156.4" font-size="7" text-anchor="end" fill="#2a2a2a" transform="rotate(-90 457.3 156.4)">H564</text>
<use href="#gQ" fill="#f66fc0" stroke="#f66fc0" transform="matrix(0.0560 0 0 0.0300 452 132.7)"/>
<rect x="452.2" y="136.46" width="5.2" height="2.08" fill="#f7921e" opacity="0.62"/>
<rect x="452.2" y="139.83" width="5.2" height="1.04" fill="#8c3cc2" opacity="0.62"/>
<rect x="452.2" y="141.53" width="5.2" height="1.04" fill="#e62129" opacity="0.62"/>
<rect x="452.2" y="143.28" width="5.2" height="0.64" fill="#f7921e" opacity="0.62"/>
<rect x="452.2" y="144.18" width="5.2" height="1.44" fill="#8c4614" opacity="0.62"/>
<rect x="452.2" y="145.97" width="5.2" height="1.36" fill="#1fa81f" opacity="0.62"/>
<line x1="460.82" y1="150.4" x2="460.82" y2="153.4" stroke="#888" stroke-width="0.7"/>
<text x="463.32" y="156.4" font-size="7" text-anchor="end" fill="#2a2a2a" transform="rotate(-90 463.32 156.4)">L565</text>
<use href="#gV" fill="#1fa81f" stroke="#1fa81f" transform="matrix(0.0560 0 0 0.0390 458.02 129.6)"/>
<use href="#gT" fill="#f7921e" stroke="#f7921e" transform="matrix(0.0560 0 0 0.0260 458.02 134)"/>
<rect x="458.22" y="137.18" width="5.2" height="1.44" fill="#1fa81f" opacity="0.62"/>
<rect x="458.22" y="139.91" width="5.2" height="1.68" fill="#f66fc0" opacity="0.62"/>
<rect x="458.22" y="142.43" width="5.2" height="1.04" fill="#8c4614" opacity="0.62"/>
<rect x="458.22" y="145.03" width="5.2" height="1.04" fill="#3a63e6" opacity="0.62"/>
<rect x="458.22" y="146.78" width="5.2" height="0.64" fill="#8c3cc2" opacity="0.62"/>
<line x1="466.84" y1="150.4" x2="466.84" y2="153.4" stroke="#888" stroke-width="0.7"/>
<text x="469.34" y="156.4" font-size="7" text-anchor="end" fill="#2a2a2a" transform="rotate(-90 469.34 156.4)">L566</text>
<use href="#gS" fill="#f7921e" stroke="#f7921e" transform="matrix(0.0560 0 0 0.0430 464.04 139.7)"/>
<rect x="464.24" y="145.03" width="5.2" height="1.04" fill="#1fa81f" opacity="0.62"/>
<rect x="464.24" y="146.33" width="5.2" height="1.04" fill="#3a63e6" opacity="0.62"/>
<line x1="472.85" y1="150.4" x2="472.85" y2="153.4" stroke="#888" stroke-width="0.7"/>
<text x="475.35" y="156.4" font-size="7" text-anchor="end" fill="#2a2a2a" transform="rotate(-90 475.35 156.4)">K567</text>
<use href="#gT" fill="#f7921e" stroke="#f7921e" transform="matrix(0.0560 0 0 0.0660 470.05 125.2)"/>
<use href="#gG" fill="#f66fc0" stroke="#f66fc0" transform="matrix(0.0560 0 0 0.0440 470.05 132.2)"/>
<use href="#gS" fill="#f7921e" stroke="#f7921e" transform="matrix(0.0560 0 0 0.0350 470.05 137.5)"/>
<use href="#gA" fill="#f66fc0" stroke="#f66fc0" transform="matrix(0.0560 0 0 0.0220 470.05 141.8)"/>
<use href="#gV" fill="#1fa81f" stroke="#1fa81f" transform="matrix(0.0560 0 0 0.0180 470.05 144)"/>
<rect x="470.25" y="146.33" width="5.2" height="1.04" fill="#8c3cc2" opacity="0.62"/>
<line x1="478.87" y1="150.4" x2="478.87" y2="153.4" stroke="#888" stroke-width="0.7"/>
<text x="481.37" y="156.4" font-size="7" text-anchor="end" fill="#2a2a2a" transform="rotate(-90 481.37 156.4)">L568</text>
<rect x="476.27" y="134.22" width="5.2" height="1.76" fill="#f66fc0" opacity="0.62"/>
<rect x="476.27" y="137.18" width="5.2" height="1.44" fill="#f66fc0" opacity="0.62"/>
<rect x="476.27" y="138.97" width="5.2" height="1.36" fill="#3a63e6" opacity="0.62"/>
<rect x="476.27" y="141.17" width="5.2" height="1.36" fill="#f7921e" opacity="0.62"/>
<rect x="476.27" y="143.41" width="5.2" height="1.68" fill="#1fa81f" opacity="0.62"/>
<rect x="476.27" y="145.52" width="5.2" height="1.76" fill="#f7921e" opacity="0.62"/>
<line x1="484.88" y1="150.4" x2="484.88" y2="153.4" stroke="#888" stroke-width="0.7"/>
<text x="487.38" y="156.4" font-size="7" text-anchor="end" fill="#2a2a2a" transform="rotate(-90 487.38 156.4)">T569</text>
<rect x="482.28" y="141.13" width="5.2" height="1.04" fill="#f66fc0" opacity="0.62"/>
<rect x="482.28" y="142.43" width="5.2" height="1.04" fill="#8c3cc2" opacity="0.62"/>
<rect x="482.28" y="143.73" width="5.2" height="1.04" fill="#e62129" opacity="0.62"/>
<rect x="482.28" y="145.03" width="5.2" height="1.04" fill="#3a63e6" opacity="0.62"/>
<rect x="482.28" y="146.78" width="5.2" height="0.64" fill="#8c3cc2" opacity="0.62"/>
<line x1="490.9" y1="150.4" x2="490.9" y2="153.4" stroke="#888" stroke-width="0.7"/>
<text x="493.4" y="156.4" font-size="7" text-anchor="end" fill="#2a2a2a" transform="rotate(-90 493.4 156.4)">V570</text>
<rect x="488.3" y="140.32" width="5.2" height="1.76" fill="#3a63e6" opacity="0.62"/>
<rect x="488.3" y="142.83" width="5.2" height="1.04" fill="#1fa81f" opacity="0.62"/>
<rect x="488.3" y="144.67" width="5.2" height="1.36" fill="#f66fc0" opacity="0.62"/>
<rect x="488.3" y="146.33" width="5.2" height="1.04" fill="#8c4614" opacity="0.62"/>
<line x1="496.92" y1="150.4" x2="496.92" y2="153.4" stroke="#888" stroke-width="0.7"/>
<text x="499.42" y="156.4" font-size="7" text-anchor="end" fill="#2a2a2a" transform="rotate(-90 499.42 156.4)">W571</text>
<rect x="494.32" y="145.93" width="5.2" height="1.04" fill="#3a63e6" opacity="0.62"/>
<line x1="502.93" y1="150.4" x2="502.93" y2="153.4" stroke="#888" stroke-width="0.7"/>
<text x="505.43" y="156.4" font-size="7" text-anchor="end" fill="#2a2a2a" transform="rotate(-90 505.43 156.4)">G572</text>
<rect x="500.33" y="147.15" width="5.2" height="0.4" fill="#8c4614" opacity="0.62"/>
<line x1="508.95" y1="150.4" x2="508.95" y2="153.4" stroke="#888" stroke-width="0.7"/>
<text x="511.45" y="156.4" font-size="7" text-anchor="end" fill="#2a2a2a" transform="rotate(-90 511.45 156.4)">I573</text>
<rect x="506.35" y="145.44" width="5.2" height="1.12" fill="#f66fc0" opacity="0.62"/>
<rect x="506.35" y="146.78" width="5.2" height="0.64" fill="#f7921e" opacity="0.62"/>
<line x1="514.96" y1="150.4" x2="514.96" y2="153.4" stroke="#888" stroke-width="0.7"/>
<text x="517.46" y="156.4" font-size="7" text-anchor="end" fill="#2a2a2a" transform="rotate(-90 517.46 156.4)">K574</text>
<use href="#gR" fill="#3a63e6" stroke="#3a63e6" transform="matrix(0.0560 0 0 0.0260 512.16 141.4)"/>
<rect x="512.36" y="144.72" width="5.2" height="1.76" fill="#8c3cc2" opacity="0.62"/>
<rect x="512.36" y="146.78" width="5.2" height="0.64" fill="#1fa81f" opacity="0.62"/>
<line x1="520.98" y1="150.4" x2="520.98" y2="153.4" stroke="#888" stroke-width="0.7"/>
<text x="523.48" y="156.4" font-size="7" text-anchor="end" fill="#2a2a2a" transform="rotate(-90 523.48 156.4)">Q575</text>
<rect x="518.38" y="144.13" width="5.2" height="1.04" fill="#3a63e6" opacity="0.62"/>
<rect x="518.38" y="145.44" width="5.2" height="1.12" fill="#e62129" opacity="0.62"/>
<rect x="518.38" y="146.78" width="5.2" height="0.64" fill="#3a63e6" opacity="0.62"/>
<line x1="527" y1="150.4" x2="527" y2="153.4" stroke="#888" stroke-width="0.7"/>
<text x="529.5" y="156.4" font-size="7" text-anchor="end" fill="#2a2a2a" transform="rotate(-90 529.5 156.4)">L576</text>
<rect x="524.4" y="146.78" width="5.2" height="0.64" fill="#1fa81f" opacity="0.62"/>
<line x1="533.01" y1="150.4" x2="533.01" y2="153.4" stroke="#888" stroke-width="0.7"/>
<text x="535.51" y="156.4" font-size="7" text-anchor="end" fill="#2a2a2a" transform="rotate(-90 535.51 156.4)">Q577</text>
<rect x="530.41" y="129.86" width="5.2" height="2.08" fill="#3a63e6" opacity="0.62"/>
<rect x="530.41" y="132.91" width="5.2" height="1.68" fill="#f7921e" opacity="0.62"/>
<rect x="530.41" y="135.52" width="5.2" height="1.76" fill="#1fa81f" opacity="0.62"/>
<rect x="530.41" y="137.99" width="5.2" height="0.72" fill="#8c4614" opacity="0.62"/>
<rect x="530.41" y="139.87" width="5.2" height="1.36" fill="#f66fc0" opacity="0.62"/>
<rect x="530.41" y="142.02" width="5.2" height="1.76" fill="#1fa81f" opacity="0.62"/>
<rect x="530.41" y="144.63" width="5.2" height="1.04" fill="#f7921e" opacity="0.62"/>
<rect x="530.41" y="145.93" width="5.2" height="1.04" fill="#3a63e6" opacity="0.62"/>
<rect x="530.41" y="147.17" width="5.2" height="0.56" fill="#f7921e" opacity="0.62"/>
<line x1="539.03" y1="150.4" x2="539.03" y2="153.4" stroke="#888" stroke-width="0.7"/>
<text x="541.53" y="156.4" font-size="7" text-anchor="end" fill="#2a2a2a" transform="rotate(-90 541.53 156.4)">A578</text>
<rect x="536.43" y="145.03" width="5.2" height="1.04" fill="#f7921e" opacity="0.62"/>
<rect x="536.43" y="146.33" width="5.2" height="1.04" fill="#1fa81f" opacity="0.62"/>
<line x1="545.04" y1="150.4" x2="545.04" y2="153.4" stroke="#888" stroke-width="0.7"/>
<text x="547.54" y="156.4" font-size="7" text-anchor="end" fill="#2a2a2a" transform="rotate(-90 547.54 156.4)">R579</text>
<rect x="542.44" y="145.97" width="5.2" height="1.36" fill="#f7921e" opacity="0.62"/>
<line x1="551.06" y1="150.4" x2="551.06" y2="153.4" stroke="#888" stroke-width="0.7"/>
<text x="553.56" y="156.4" font-size="7" text-anchor="end" fill="#2a2a2a" transform="rotate(-90 553.56 156.4)">V580</text>
<line x1="557.08" y1="150.4" x2="557.08" y2="153.4" stroke="#888" stroke-width="0.7"/>
<text x="559.58" y="156.4" font-size="7" text-anchor="end" fill="#2a2a2a" transform="rotate(-90 559.58 156.4)">L581</text>
<rect x="554.48" y="145.03" width="5.2" height="1.04" fill="#e62129" opacity="0.62"/>
<rect x="554.48" y="146.33" width="5.2" height="1.04" fill="#f7921e" opacity="0.62"/>
<line x1="563.09" y1="150.4" x2="563.09" y2="153.4" stroke="#888" stroke-width="0.7"/>
<text x="565.59" y="156.4" font-size="7" text-anchor="end" fill="#2a2a2a" transform="rotate(-90 565.59 156.4)">A582</text>
<rect x="560.49" y="146.78" width="5.2" height="0.64" fill="#e62129" opacity="0.62"/>
<line x1="569.11" y1="150.4" x2="569.11" y2="153.4" stroke="#888" stroke-width="0.7"/>
<text x="571.61" y="156.4" font-size="7" text-anchor="end" fill="#2a2a2a" transform="rotate(-90 571.61 156.4)">V583</text>
<rect x="566.51" y="144.63" width="5.2" height="1.04" fill="#e62129" opacity="0.62"/>
<rect x="566.51" y="145.97" width="5.2" height="1.36" fill="#1fa81f" opacity="0.62"/>
<line x1="575.12" y1="150.4" x2="575.12" y2="153.4" stroke="#888" stroke-width="0.7"/>
<text x="577.62" y="156.4" font-size="7" text-anchor="end" fill="#2a2a2a" transform="rotate(-90 577.62 156.4)">E584</text>
<rect x="572.52" y="146.33" width="5.2" height="1.04" fill="#8c4614" opacity="0.62"/>
<line x1="581.14" y1="150.4" x2="581.14" y2="153.4" stroke="#888" stroke-width="0.7"/>
<text x="583.64" y="156.4" font-size="7" text-anchor="end" fill="#2a2a2a" transform="rotate(-90 583.64 156.4)">R585</text>
<use href="#gL" fill="#1fa81f" stroke="#1fa81f" transform="matrix(0.0560 0 0 0.0480 578.34 130)"/>
<use href="#gY" fill="#8c4614" stroke="#8c4614" transform="matrix(0.0560 0 0 0.0260 578.34 135.3)"/>
<use href="#gK" fill="#1fa81f" stroke="#1fa81f" transform="matrix(0.0560 0 0 0.0350 578.34 137.9)"/>
<rect x="578.54" y="142.83" width="5.2" height="1.04" fill="#f66fc0" opacity="0.62"/>
<rect x="578.54" y="144.13" width="5.2" height="1.04" fill="#8c4614" opacity="0.62"/>
<rect x="578.54" y="145.44" width="5.2" height="1.12" fill="#1fa81f" opacity="0.62"/>
<rect x="578.54" y="146.78" width="5.2" height="0.64" fill="#f66fc0" opacity="0.62"/>
<line x1="587.16" y1="150.4" x2="587.16" y2="153.4" stroke="#888" stroke-width="0.7"/>
<text x="589.66" y="156.4" font-size="7" text-anchor="end" fill="#2a2a2a" transform="rotate(-90 589.66 156.4)">Y586</text>
<rect x="584.56" y="147.15" width="5.2" height="0.4" fill="#f66fc0" opacity="0.62"/>
<line x1="593.17" y1="150.4" x2="593.17" y2="153.4" stroke="#888" stroke-width="0.7"/>
<text x="595.67" y="156.4" font-size="7" text-anchor="end" fill="#2a2a2a" transform="rotate(-90 595.67 156.4)">L587</text>
<rect x="590.57" y="147.15" width="5.2" height="0.4" fill="#1fa81f" opacity="0.62"/>
<line x1="599.19" y1="150.4" x2="599.19" y2="153.4" stroke="#888" stroke-width="0.7"/>
<text x="601.69" y="156.4" font-size="7" text-anchor="end" fill="#2a2a2a" transform="rotate(-90 601.69 156.4)">K588</text>
<use href="#gY" fill="#8c4614" stroke="#8c4614" transform="matrix(0.0560 0 0 0.0390 596.39 109.9)"/>
<use href="#gL" fill="#1fa81f" stroke="#1fa81f" transform="matrix(0.0560 0 0 0.0350 596.39 114.3)"/>
<use href="#gR" fill="#3a63e6" stroke="#3a63e6" transform="matrix(0.0560 0 0 0.0310 596.39 118.2)"/>
<use href="#gA" fill="#f66fc0" stroke="#f66fc0" transform="matrix(0.0560 0 0 0.0310 596.39 122.1)"/>
<use href="#gM" fill="#1fa81f" stroke="#1fa81f" transform="matrix(0.0600 0 0 0.0310 596.19 125.6)"/>
<use href="#gF" fill="#8c4614" stroke="#8c4614" transform="matrix(0.0560 0 0 0.0260 596.39 129.2)"/>
<use href="#gS" fill="#f7921e" stroke="#f7921e" transform="matrix(0.0560 0 0 0.0220 596.39 132.2)"/>
<rect x="596.59" y="134.98" width="5.2" height="1.44" fill="#3a63e6" opacity="0.62"/>
<rect x="596.59" y="137.18" width="5.2" height="1.44" fill="#1fa81f" opacity="0.62"/>
<rect x="596.59" y="139.33" width="5.2" height="1.04" fill="#f7921e" opacity="0.62"/>
<use href="#gV" fill="#1fa81f" stroke="#1fa81f" transform="matrix(0.0560 0 0 0.0260 596.39 141)"/>
<rect x="596.59" y="143.73" width="5.2" height="1.04" fill="#f7921e" opacity="0.62"/>
<rect x="596.59" y="145.03" width="5.2" height="1.04" fill="#8c3cc2" opacity="0.62"/>
<rect x="596.59" y="146.33" width="5.2" height="1.04" fill="#8c4614" opacity="0.62"/>
<line x1="605.2" y1="150.4" x2="605.2" y2="153.4" stroke="#888" stroke-width="0.7"/>
<text x="607.7" y="156.4" font-size="7" text-anchor="end" fill="#2a2a2a" transform="rotate(-90 607.7 156.4)">D589</text>
<rect x="602.6" y="145.89" width="5.2" height="0.72" fill="#1fa81f" opacity="0.62"/>
<rect x="602.6" y="146.78" width="5.2" height="0.64" fill="#8c4614" opacity="0.62"/>
<line x1="611.22" y1="150.4" x2="611.22" y2="153.4" stroke="#888" stroke-width="0.7"/>
<text x="613.72" y="156.4" font-size="7" text-anchor="end" fill="#2a2a2a" transform="rotate(-90 613.72 156.4)">Q590</text>
<rect x="608.62" y="144.27" width="5.2" height="2.16" fill="#1fa81f" opacity="0.62"/>
<rect x="608.62" y="146.78" width="5.2" height="0.64" fill="#8c4614" opacity="0.62"/>
<line x1="617.24" y1="150.4" x2="617.24" y2="153.4" stroke="#888" stroke-width="0.7"/>
<text x="619.74" y="156.4" font-size="7" text-anchor="end" fill="#2a2a2a" transform="rotate(-90 619.74 156.4)">Q591</text>
<use href="#gA" fill="#f66fc0" stroke="#f66fc0" transform="matrix(0.0560 0 0 0.0710 614.44 112)"/>
<use href="#gL" fill="#1fa81f" stroke="#1fa81f" transform="matrix(0.0560 0 0 0.0520 614.44 120)"/>
<use href="#gG" fill="#f66fc0" stroke="#f66fc0" transform="matrix(0.0560 0 0 0.0350 614.44 126.5)"/>
<use href="#gS" fill="#f7921e" stroke="#f7921e" transform="matrix(0.0560 0 0 0.0430 614.44 130.5)"/>
<use href="#gM" fill="#1fa81f" stroke="#1fa81f" transform="matrix(0.0600 0 0 0.0400 614.24 135.7)"/>
<use href="#gV" fill="#1fa81f" stroke="#1fa81f" transform="matrix(0.0560 0 0 0.0300 614.44 139.7)"/>
<rect x="614.64" y="143.06" width="5.2" height="0.48" fill="#f7921e" opacity="0.62"/>
<rect x="614.64" y="144.18" width="5.2" height="1.44" fill="#3a63e6" opacity="0.62"/>
<rect x="614.64" y="146.33" width="5.2" height="1.04" fill="#8c3cc2" opacity="0.62"/>
<line x1="623.25" y1="101.5" x2="623.25" y2="150" stroke="#333" stroke-width="0.9" stroke-dasharray="0.9 1.3"/>
<line x1="629.27" y1="150.4" x2="629.27" y2="153.4" stroke="#888" stroke-width="0.7"/>
<text x="631.77" y="156.4" font-size="7" text-anchor="end" fill="#2a2a2a" transform="rotate(-90 631.77 156.4)">N625</text>
<use href="#gG" fill="#f66fc0" stroke="#f66fc0" transform="matrix(0.0560 0 0 0.0260 626.47 127)"/>
<use href="#gS" fill="#f7921e" stroke="#f7921e" transform="matrix(0.0560 0 0 0.0350 626.47 130)"/>
<use href="#gR" fill="#3a63e6" stroke="#3a63e6" transform="matrix(0.0560 0 0 0.0220 626.47 134)"/>
<use href="#gT" fill="#f7921e" stroke="#f7921e" transform="matrix(0.0560 0 0 0.0180 626.47 137)"/>
<use href="#gQ" fill="#8c3cc2" stroke="#8c3cc2" transform="matrix(0.0560 0 0 0.0170 626.47 139.7)"/>
<use href="#gM" fill="#1fa81f" stroke="#1fa81f" transform="matrix(0.0600 0 0 0.0220 626.27 141.8)"/>
<rect x="626.67" y="144.63" width="5.2" height="1.04" fill="#f66fc0" opacity="0.62"/>
<rect x="626.67" y="145.89" width="5.2" height="0.72" fill="#3a63e6" opacity="0.62"/>
<rect x="626.67" y="146.78" width="5.2" height="0.64" fill="#8c3cc2" opacity="0.62"/>
<line x1="635.28" y1="101.5" x2="635.28" y2="150" stroke="#333" stroke-width="0.9" stroke-dasharray="0.9 1.3"/>
<line x1="641.3" y1="150.4" x2="641.3" y2="153.4" stroke="#888" stroke-width="0.7"/>
<text x="643.8" y="156.4" font-size="7" text-anchor="end" fill="#2a2a2a" transform="rotate(-90 643.8 156.4)">K655</text>
<use href="#gL" fill="#1fa81f" stroke="#1fa81f" transform="matrix(0.0560 0 0 0.0300 638.5 127)"/>
<use href="#gQ" fill="#1fa81f" stroke="#1fa81f" transform="matrix(0.0560 0 0 0.0480 638.5 130)"/>
<rect x="638.7" y="136.82" width="5.2" height="1.76" fill="#8c3cc2" opacity="0.62"/>
<rect x="638.7" y="139.33" width="5.2" height="1.04" fill="#1fa81f" opacity="0.62"/>
<use href="#gT" fill="#f7921e" stroke="#f7921e" transform="matrix(0.0560 0 0 0.0130 638.5 141)"/>
<rect x="638.7" y="142.92" width="5.2" height="1.76" fill="#f66fc0" opacity="0.62"/>
<rect x="638.7" y="145.03" width="5.2" height="1.04" fill="#f7921e" opacity="0.62"/>
<rect x="638.7" y="146.33" width="5.2" height="1.04" fill="#8c3cc2" opacity="0.62"/>
<text x="1.5" y="199" font-size="12.6" font-weight="bold" fill="#000" stroke="#000" stroke-width="0.5">b</text>
<line x1="58.3" y1="196.5" x2="58.3" y2="407.4" stroke="#777" stroke-width="0.8"/>
<line x1="58.3" y1="407.4" x2="345" y2="407.4" stroke="#777" stroke-width="0.8"/>
<line x1="54.7" y1="407.2" x2="58.3" y2="407.2" stroke="#666" stroke-width="0.6"/>
<line x1="56.2" y1="400.23" x2="58.3" y2="400.23" stroke="#666" stroke-width="0.6"/>
<line x1="56.2" y1="393.26" x2="58.3" y2="393.26" stroke="#666" stroke-width="0.6"/>
<line x1="56.2" y1="386.29" x2="58.3" y2="386.29" stroke="#666" stroke-width="0.6"/>
<line x1="56.2" y1="379.32" x2="58.3" y2="379.32" stroke="#666" stroke-width="0.6"/>
<line x1="56.2" y1="372.35" x2="58.3" y2="372.35" stroke="#666" stroke-width="0.6"/>
<line x1="56.2" y1="365.38" x2="58.3" y2="365.38" stroke="#666" stroke-width="0.6"/>
<line x1="56.2" y1="358.41" x2="58.3" y2="358.41" stroke="#666" stroke-width="0.6"/>
<line x1="56.2" y1="351.44" x2="58.3" y2="351.44" stroke="#666" stroke-width="0.6"/>
<line x1="56.2" y1="344.47" x2="58.3" y2="344.47" stroke="#666" stroke-width="0.6"/>
<line x1="54.7" y1="337.5" x2="58.3" y2="337.5" stroke="#666" stroke-width="0.6"/>
<line x1="56.2" y1="330.53" x2="58.3" y2="330.53" stroke="#666" stroke-width="0.6"/>
<line x1="56.2" y1="323.56" x2="58.3" y2="323.56" stroke="#666" stroke-width="0.6"/>
<line x1="56.2" y1="316.59" x2="58.3" y2="316.59" stroke="#666" stroke-width="0.6"/>
<line x1="56.2" y1="309.62" x2="58.3" y2="309.62" stroke="#666" stroke-width="0.6"/>
<line x1="56.2" y1="302.65" x2="58.3" y2="302.65" stroke="#666" stroke-width="0.6"/>
<line x1="56.2" y1="295.68" x2="58.3" y2="295.68" stroke="#666" stroke-width="0.6"/>
<line x1="56.2" y1="288.71" x2="58.3" y2="288.71" stroke="#666" stroke-width="0.6"/>
<line x1="56.2" y1="281.74" x2="58.3" y2="281.74" stroke="#666" stroke-width="0.6"/>
<line x1="56.2" y1="274.77" x2="58.3" y2="274.77" stroke="#666" stroke-width="0.6"/>
<line x1="54.7" y1="267.8" x2="58.3" y2="267.8" stroke="#666" stroke-width="0.6"/>
<line x1="56.2" y1="260.83" x2="58.3" y2="260.83" stroke="#666" stroke-width="0.6"/>
<line x1="56.2" y1="253.86" x2="58.3" y2="253.86" stroke="#666" stroke-width="0.6"/>
<line x1="56.2" y1="246.89" x2="58.3" y2="246.89" stroke="#666" stroke-width="0.6"/>
<line x1="56.2" y1="239.92" x2="58.3" y2="239.92" stroke="#666" stroke-width="0.6"/>
<line x1="56.2" y1="232.95" x2="58.3" y2="232.95" stroke="#666" stroke-width="0.6"/>
<line x1="56.2" y1="225.98" x2="58.3" y2="225.98" stroke="#666" stroke-width="0.6"/>
<line x1="56.2" y1="219.01" x2="58.3" y2="219.01" stroke="#666" stroke-width="0.6"/>
<line x1="56.2" y1="212.04" x2="58.3" y2="212.04" stroke="#666" stroke-width="0.6"/>
<line x1="56.2" y1="205.07" x2="58.3" y2="205.07" stroke="#666" stroke-width="0.6"/>
<line x1="54.7" y1="198.1" x2="58.3" y2="198.1" stroke="#666" stroke-width="0.6"/>
<text x="51.6" y="410.2" font-size="8.6" text-anchor="end">0</text>
<text x="51.6" y="340.5" font-size="8.6" text-anchor="end">10</text>
<text x="51.6" y="270.8" font-size="8.6" text-anchor="end">20</text>
<text x="51.6" y="201.1" font-size="8.6" text-anchor="end">30</text>
<line x1="58.6" y1="407.4" x2="58.6" y2="411.2" stroke="#666" stroke-width="0.6"/>
<line x1="77.68" y1="407.4" x2="77.68" y2="409.5" stroke="#666" stroke-width="0.6"/>
<line x1="96.76" y1="407.4" x2="96.76" y2="409.5" stroke="#666" stroke-width="0.6"/>
<line x1="115.84" y1="407.4" x2="115.84" y2="409.5" stroke="#666" stroke-width="0.6"/>
<line x1="134.92" y1="407.4" x2="134.92" y2="409.5" stroke="#666" stroke-width="0.6"/>
<line x1="154" y1="407.4" x2="154" y2="411.2" stroke="#666" stroke-width="0.6"/>
<line x1="173.08" y1="407.4" x2="173.08" y2="409.5" stroke="#666" stroke-width="0.6"/>
<line x1="192.16" y1="407.4" x2="192.16" y2="409.5" stroke="#666" stroke-width="0.6"/>
<line x1="211.24" y1="407.4" x2="211.24" y2="409.5" stroke="#666" stroke-width="0.6"/>
<line x1="230.32" y1="407.4" x2="230.32" y2="409.5" stroke="#666" stroke-width="0.6"/>
<line x1="249.4" y1="407.4" x2="249.4" y2="411.2" stroke="#666" stroke-width="0.6"/>
<line x1="268.48" y1="407.4" x2="268.48" y2="409.5" stroke="#666" stroke-width="0.6"/>
<line x1="287.56" y1="407.4" x2="287.56" y2="409.5" stroke="#666" stroke-width="0.6"/>
<line x1="306.64" y1="407.4" x2="306.64" y2="409.5" stroke="#666" stroke-width="0.6"/>
<line x1="325.72" y1="407.4" x2="325.72" y2="409.5" stroke="#666" stroke-width="0.6"/>
<line x1="344.8" y1="407.4" x2="344.8" y2="411.2" stroke="#666" stroke-width="0.6"/>
<text x="58.6" y="421" font-size="8.4" text-anchor="middle">0</text>
<text x="154" y="421" font-size="8.4" text-anchor="middle">5</text>
<text x="249.4" y="421" font-size="8.4" text-anchor="middle">10</text>
<text x="344.8" y="421" font-size="8.4" text-anchor="middle">15</text>
<line x1="125.3" y1="197" x2="125.3" y2="407" stroke="#333" stroke-width="0.75" stroke-dasharray="0.8 1.1"/>
<line x1="58.3" y1="382.4" x2="345" y2="382.4" stroke="#333" stroke-width="0.75" stroke-dasharray="0.8 1.1"/>
<text x="202" y="432.6" font-size="10" text-anchor="middle">bnD.8</text>
<text x="201.2" y="443.7" font-size="10.1" text-anchor="middle">site differential selection</text>
<text x="23.6" y="302.5" font-size="10" text-anchor="middle" transform="rotate(-90 23.6 302.5)">bnD.9</text>
<text x="35.8" y="301.5" font-size="10.1" text-anchor="middle" transform="rotate(-90 35.8 301.5)">site differential selection</text>
<circle cx="95.45" cy="401.79" r="1.9" fill="#cdcdcd" stroke="#2e2e2e" stroke-width="0.55"/>
<circle cx="64.8" cy="387.45" r="1.9" fill="#cdcdcd" stroke="#2e2e2e" stroke-width="0.55"/>
<circle cx="121.19" cy="402.59" r="1.9" fill="#cdcdcd" stroke="#2e2e2e" stroke-width="0.55"/>
<circle cx="62.52" cy="395.88" r="1.9" fill="#cdcdcd" stroke="#2e2e2e" stroke-width="0.55"/>
<circle cx="91.5" cy="400.41" r="1.9" fill="#cdcdcd" stroke="#2e2e2e" stroke-width="0.55"/>
<circle cx="104.52" cy="401.6" r="1.9" fill="#cdcdcd" stroke="#2e2e2e" stroke-width="0.55"/>
<circle cx="84.57" cy="398.04" r="1.9" fill="#cdcdcd" stroke="#2e2e2e" stroke-width="0.55"/>
<circle cx="58.64" cy="393.44" r="1.9" fill="#cdcdcd" stroke="#2e2e2e" stroke-width="0.55"/>
<circle cx="63.41" cy="405.07" r="1.9" fill="#cdcdcd" stroke="#2e2e2e" stroke-width="0.55"/>
<circle cx="66.25" cy="405.45" r="1.9" fill="#cdcdcd" stroke="#2e2e2e" stroke-width="0.55"/>
<circle cx="74.92" cy="404.01" r="1.9" fill="#cdcdcd" stroke="#2e2e2e" stroke-width="0.55"/>
<circle cx="72.61" cy="399.99" r="1.9" fill="#cdcdcd" stroke="#2e2e2e" stroke-width="0.55"/>
<circle cx="84.55" cy="400.96" r="1.9" fill="#cdcdcd" stroke="#2e2e2e" stroke-width="0.55"/>
<circle cx="79.94" cy="405.41" r="1.9" fill="#cdcdcd" stroke="#2e2e2e" stroke-width="0.55"/>
<circle cx="83.07" cy="395.74" r="1.9" fill="#cdcdcd" stroke="#2e2e2e" stroke-width="0.55"/>
<circle cx="70.46" cy="385.04" r="1.9" fill="#cdcdcd" stroke="#2e2e2e" stroke-width="0.55"/>
<circle cx="75.42" cy="386.29" r="1.9" fill="#cdcdcd" stroke="#2e2e2e" stroke-width="0.55"/>
<circle cx="61.15" cy="399.68" r="1.9" fill="#cdcdcd" stroke="#2e2e2e" stroke-width="0.55"/>
<circle cx="70.15" cy="401.63" r="1.9" fill="#cdcdcd" stroke="#2e2e2e" stroke-width="0.55"/>
<circle cx="76.06" cy="400.63" r="1.9" fill="#cdcdcd" stroke="#2e2e2e" stroke-width="0.55"/>
<circle cx="69.86" cy="385.47" r="1.9" fill="#cdcdcd" stroke="#2e2e2e" stroke-width="0.55"/>
<circle cx="61.6" cy="386.68" r="1.9" fill="#cdcdcd" stroke="#2e2e2e" stroke-width="0.55"/>
<circle cx="90.34" cy="405" r="1.9" fill="#cdcdcd" stroke="#2e2e2e" stroke-width="0.55"/>
<circle cx="117" cy="390.03" r="1.9" fill="#cdcdcd" stroke="#2e2e2e" stroke-width="0.55"/>
<circle cx="103.7" cy="387.91" r="1.9" fill="#cdcdcd" stroke="#2e2e2e" stroke-width="0.55"/>
<circle cx="83.77" cy="391.6" r="1.9" fill="#cdcdcd" stroke="#2e2e2e" stroke-width="0.55"/>
<circle cx="83.8" cy="394.3" r="1.9" fill="#cdcdcd" stroke="#2e2e2e" stroke-width="0.55"/>
<circle cx="60.56" cy="401.58" r="1.9" fill="#cdcdcd" stroke="#2e2e2e" stroke-width="0.55"/>
<circle cx="59.57" cy="401.27" r="1.9" fill="#cdcdcd" stroke="#2e2e2e" stroke-width="0.55"/>
<circle cx="101.41" cy="397.63" r="1.9" fill="#cdcdcd" stroke="#2e2e2e" stroke-width="0.55"/>
<circle cx="86.96" cy="398.09" r="1.9" fill="#cdcdcd" stroke="#2e2e2e" stroke-width="0.55"/>
<circle cx="67.56" cy="390.35" r="1.9" fill="#cdcdcd" stroke="#2e2e2e" stroke-width="0.55"/>
<circle cx="69.73" cy="397.1" r="1.9" fill="#cdcdcd" stroke="#2e2e2e" stroke-width="0.55"/>
<circle cx="97.32" cy="406.43" r="1.9" fill="#cdcdcd" stroke="#2e2e2e" stroke-width="0.55"/>
<circle cx="95.61" cy="406.64" r="1.9" fill="#cdcdcd" stroke="#2e2e2e" stroke-width="0.55"/>
<circle cx="60.23" cy="406.05" r="1.9" fill="#cdcdcd" stroke="#2e2e2e" stroke-width="0.55"/>
<circle cx="101.72" cy="402.34" r="1.9" fill="#cdcdcd" stroke="#2e2e2e" stroke-width="0.55"/>
<circle cx="73.93" cy="398.77" r="1.9" fill="#cdcdcd" stroke="#2e2e2e" stroke-width="0.55"/>
<circle cx="84.5" cy="405.13" r="1.9" fill="#cdcdcd" stroke="#2e2e2e" stroke-width="0.55"/>
<circle cx="67.03" cy="391.94" r="1.9" fill="#cdcdcd" stroke="#2e2e2e" stroke-width="0.55"/>
<circle cx="111.05" cy="401.2" r="1.9" fill="#cdcdcd" stroke="#2e2e2e" stroke-width="0.55"/>
<circle cx="100.22" cy="402" r="1.9" fill="#cdcdcd" stroke="#2e2e2e" stroke-width="0.55"/>
<circle cx="93.43" cy="399.61" r="1.9" fill="#cdcdcd" stroke="#2e2e2e" stroke-width="0.55"/>
<circle cx="81.21" cy="396.44" r="1.9" fill="#cdcdcd" stroke="#2e2e2e" stroke-width="0.55"/>
<circle cx="60.47" cy="403.1" r="1.9" fill="#cdcdcd" stroke="#2e2e2e" stroke-width="0.55"/>
<circle cx="67.71" cy="394.6" r="1.9" fill="#cdcdcd" stroke="#2e2e2e" stroke-width="0.55"/>
<circle cx="91.02" cy="401.8" r="1.9" fill="#cdcdcd" stroke="#2e2e2e" stroke-width="0.55"/>
<circle cx="100.04" cy="390.81" r="1.9" fill="#cdcdcd" stroke="#2e2e2e" stroke-width="0.55"/>
<circle cx="76.42" cy="384.25" r="1.9" fill="#cdcdcd" stroke="#2e2e2e" stroke-width="0.55"/>
<circle cx="71.83" cy="406.52" r="1.9" fill="#cdcdcd" stroke="#2e2e2e" stroke-width="0.55"/>
<circle cx="95.65" cy="405.59" r="1.9" fill="#cdcdcd" stroke="#2e2e2e" stroke-width="0.55"/>
<circle cx="118.5" cy="403.48" r="1.9" fill="#cdcdcd" stroke="#2e2e2e" stroke-width="0.55"/>
<circle cx="117.02" cy="401.6" r="1.9" fill="#cdcdcd" stroke="#2e2e2e" stroke-width="0.55"/>
<circle cx="67" cy="406.66" r="1.9" fill="#cdcdcd" stroke="#2e2e2e" stroke-width="0.55"/>
<circle cx="79.8" cy="404.64" r="1.9" fill="#cdcdcd" stroke="#2e2e2e" stroke-width="0.55"/>
<circle cx="71.62" cy="398.03" r="1.9" fill="#cdcdcd" stroke="#2e2e2e" stroke-width="0.55"/>
<circle cx="72.05" cy="389.29" r="1.9" fill="#cdcdcd" stroke="#2e2e2e" stroke-width="0.55"/>
<circle cx="107.36" cy="399.52" r="1.9" fill="#cdcdcd" stroke="#2e2e2e" stroke-width="0.55"/>
<circle cx="116.18" cy="401.36" r="1.9" fill="#cdcdcd" stroke="#2e2e2e" stroke-width="0.55"/>
<circle cx="86.35" cy="382.66" r="1.9" fill="#cdcdcd" stroke="#2e2e2e" stroke-width="0.55"/>
<circle cx="68.48" cy="392.48" r="1.9" fill="#cdcdcd" stroke="#2e2e2e" stroke-width="0.55"/>
<circle cx="61.8" cy="394.64" r="1.9" fill="#cdcdcd" stroke="#2e2e2e" stroke-width="0.55"/>
<circle cx="72.02" cy="404.94" r="1.9" fill="#cdcdcd" stroke="#2e2e2e" stroke-width="0.55"/>
<circle cx="88.58" cy="399.45" r="1.9" fill="#cdcdcd" stroke="#2e2e2e" stroke-width="0.55"/>
<circle cx="59.73" cy="401.89" r="1.9" fill="#cdcdcd" stroke="#2e2e2e" stroke-width="0.55"/>
<circle cx="84.89" cy="377.35" r="1.9" fill="#cdcdcd" stroke="#2e2e2e" stroke-width="0.55"/>
<circle cx="104.31" cy="392.28" r="1.9" fill="#cdcdcd" stroke="#2e2e2e" stroke-width="0.55"/>
<circle cx="91.8" cy="385.41" r="1.9" fill="#cdcdcd" stroke="#2e2e2e" stroke-width="0.55"/>
<circle cx="84.91" cy="386.35" r="1.9" fill="#cdcdcd" stroke="#2e2e2e" stroke-width="0.55"/>
<circle cx="108.24" cy="405.13" r="1.9" fill="#cdcdcd" stroke="#2e2e2e" stroke-width="0.55"/>
<circle cx="59.3" cy="401.54" r="1.9" fill="#cdcdcd" stroke="#2e2e2e" stroke-width="0.55"/>
<circle cx="96.09" cy="388.4" r="1.9" fill="#cdcdcd" stroke="#2e2e2e" stroke-width="0.55"/>
<circle cx="122.18" cy="392.19" r="1.9" fill="#cdcdcd" stroke="#2e2e2e" stroke-width="0.55"/>
<circle cx="61.92" cy="401.08" r="1.9" fill="#cdcdcd" stroke="#2e2e2e" stroke-width="0.55"/>
<circle cx="95.99" cy="404.97" r="1.9" fill="#cdcdcd" stroke="#2e2e2e" stroke-width="0.55"/>
<circle cx="61.53" cy="403.41" r="1.9" fill="#cdcdcd" stroke="#2e2e2e" stroke-width="0.55"/>
<circle cx="63.61" cy="397.23" r="1.9" fill="#cdcdcd" stroke="#2e2e2e" stroke-width="0.55"/>
<circle cx="77.41" cy="400.28" r="1.9" fill="#cdcdcd" stroke="#2e2e2e" stroke-width="0.55"/>
<circle cx="61.42" cy="397.96" r="1.9" fill="#cdcdcd" stroke="#2e2e2e" stroke-width="0.55"/>
<circle cx="61.85" cy="384.82" r="1.9" fill="#cdcdcd" stroke="#2e2e2e" stroke-width="0.55"/>
<circle cx="86.46" cy="400.07" r="1.9" fill="#cdcdcd" stroke="#2e2e2e" stroke-width="0.55"/>
<circle cx="105.49" cy="383.32" r="1.9" fill="#cdcdcd" stroke="#2e2e2e" stroke-width="0.55"/>
<circle cx="76.03" cy="403.56" r="1.9" fill="#cdcdcd" stroke="#2e2e2e" stroke-width="0.55"/>
<circle cx="75.85" cy="391.66" r="1.9" fill="#cdcdcd" stroke="#2e2e2e" stroke-width="0.55"/>
<circle cx="106.23" cy="404.42" r="1.9" fill="#cdcdcd" stroke="#2e2e2e" stroke-width="0.55"/>
<circle cx="76.47" cy="392.77" r="1.9" fill="#cdcdcd" stroke="#2e2e2e" stroke-width="0.55"/>
<circle cx="74.99" cy="406.26" r="1.9" fill="#cdcdcd" stroke="#2e2e2e" stroke-width="0.55"/>
<circle cx="67.37" cy="405.43" r="1.9" fill="#cdcdcd" stroke="#2e2e2e" stroke-width="0.55"/>
<circle cx="83.17" cy="398.82" r="1.9" fill="#cdcdcd" stroke="#2e2e2e" stroke-width="0.55"/>
<circle cx="66.49" cy="402.15" r="1.9" fill="#cdcdcd" stroke="#2e2e2e" stroke-width="0.55"/>
<circle cx="82.89" cy="399.49" r="1.9" fill="#cdcdcd" stroke="#2e2e2e" stroke-width="0.55"/>
<circle cx="118.34" cy="404.36" r="1.9" fill="#cdcdcd" stroke="#2e2e2e" stroke-width="0.55"/>
<circle cx="64.06" cy="399.91" r="1.9" fill="#cdcdcd" stroke="#2e2e2e" stroke-width="0.55"/>
<circle cx="63.98" cy="398.92" r="1.9" fill="#cdcdcd" stroke="#2e2e2e" stroke-width="0.55"/>
<circle cx="68.64" cy="393.31" r="1.9" fill="#cdcdcd" stroke="#2e2e2e" stroke-width="0.55"/>
<circle cx="87.01" cy="399.98" r="1.9" fill="#cdcdcd" stroke="#2e2e2e" stroke-width="0.55"/>
<circle cx="79.85" cy="398.28" r="1.9" fill="#cdcdcd" stroke="#2e2e2e" stroke-width="0.55"/>
<circle cx="71.43" cy="390.73" r="1.9" fill="#cdcdcd" stroke="#2e2e2e" stroke-width="0.55"/>
<circle cx="115.75" cy="406.66" r="1.9" fill="#cdcdcd" stroke="#2e2e2e" stroke-width="0.55"/>
<circle cx="101.47" cy="393.86" r="1.9" fill="#cdcdcd" stroke="#2e2e2e" stroke-width="0.55"/>
<circle cx="65.85" cy="403.69" r="1.9" fill="#cdcdcd" stroke="#2e2e2e" stroke-width="0.55"/>
<circle cx="73.11" cy="397.85" r="1.9" fill="#cdcdcd" stroke="#2e2e2e" stroke-width="0.55"/>
<circle cx="102.22" cy="394.09" r="1.9" fill="#cdcdcd" stroke="#2e2e2e" stroke-width="0.55"/>
<circle cx="85.24" cy="391.4" r="1.9" fill="#cdcdcd" stroke="#2e2e2e" stroke-width="0.55"/>
<circle cx="112.69" cy="384.5" r="1.9" fill="#cdcdcd" stroke="#2e2e2e" stroke-width="0.55"/>
<circle cx="94.68" cy="403.63" r="1.9" fill="#cdcdcd" stroke="#2e2e2e" stroke-width="0.55"/>
<circle cx="69.64" cy="405.47" r="1.9" fill="#cdcdcd" stroke="#2e2e2e" stroke-width="0.55"/>
<circle cx="73.95" cy="396.01" r="1.9" fill="#cdcdcd" stroke="#2e2e2e" stroke-width="0.55"/>
<circle cx="65.75" cy="389.79" r="1.9" fill="#cdcdcd" stroke="#2e2e2e" stroke-width="0.55"/>
<circle cx="69.96" cy="393.83" r="1.9" fill="#cdcdcd" stroke="#2e2e2e" stroke-width="0.55"/>
<circle cx="87.87" cy="393.07" r="1.9" fill="#cdcdcd" stroke="#2e2e2e" stroke-width="0.55"/>
<circle cx="91.54" cy="399.16" r="1.9" fill="#cdcdcd" stroke="#2e2e2e" stroke-width="0.55"/>
<circle cx="59.32" cy="387.76" r="1.9" fill="#cdcdcd" stroke="#2e2e2e" stroke-width="0.55"/>
<circle cx="68.93" cy="394.97" r="1.9" fill="#cdcdcd" stroke="#2e2e2e" stroke-width="0.55"/>
<circle cx="75.89" cy="377.9" r="1.9" fill="#cdcdcd" stroke="#2e2e2e" stroke-width="0.55"/>
<circle cx="111.93" cy="400.62" r="1.9" fill="#cdcdcd" stroke="#2e2e2e" stroke-width="0.55"/>
<circle cx="89.45" cy="400.01" r="1.9" fill="#cdcdcd" stroke="#2e2e2e" stroke-width="0.55"/>
<circle cx="64.59" cy="393.94" r="1.9" fill="#cdcdcd" stroke="#2e2e2e" stroke-width="0.55"/>
<circle cx="78.8" cy="405.35" r="1.9" fill="#cdcdcd" stroke="#2e2e2e" stroke-width="0.55"/>
<circle cx="81.94" cy="404.62" r="1.9" fill="#cdcdcd" stroke="#2e2e2e" stroke-width="0.55"/>
<circle cx="112.43" cy="406.9" r="1.9" fill="#cdcdcd" stroke="#2e2e2e" stroke-width="0.55"/>
<circle cx="59.5" cy="388.25" r="1.9" fill="#cdcdcd" stroke="#2e2e2e" stroke-width="0.55"/>
<circle cx="77.72" cy="398.97" r="1.9" fill="#cdcdcd" stroke="#2e2e2e" stroke-width="0.55"/>
<circle cx="71.76" cy="393.86" r="1.9" fill="#cdcdcd" stroke="#2e2e2e" stroke-width="0.55"/>
<circle cx="64.67" cy="390.67" r="1.9" fill="#cdcdcd" stroke="#2e2e2e" stroke-width="0.55"/>
<circle cx="66.31" cy="403.57" r="1.9" fill="#cdcdcd" stroke="#2e2e2e" stroke-width="0.55"/>
<circle cx="86.71" cy="388.49" r="1.9" fill="#cdcdcd" stroke="#2e2e2e" stroke-width="0.55"/>
<circle cx="59.62" cy="384.08" r="1.9" fill="#cdcdcd" stroke="#2e2e2e" stroke-width="0.55"/>
<circle cx="59.82" cy="404.61" r="1.9" fill="#cdcdcd" stroke="#2e2e2e" stroke-width="0.55"/>
<circle cx="112.13" cy="403.34" r="1.9" fill="#cdcdcd" stroke="#2e2e2e" stroke-width="0.55"/>
<circle cx="70.73" cy="392.09" r="1.9" fill="#cdcdcd" stroke="#2e2e2e" stroke-width="0.55"/>
<circle cx="71.39" cy="392.34" r="1.9" fill="#cdcdcd" stroke="#2e2e2e" stroke-width="0.55"/>
<circle cx="74.7" cy="396.63" r="1.9" fill="#cdcdcd" stroke="#2e2e2e" stroke-width="0.55"/>
<circle cx="67.53" cy="393.52" r="1.9" fill="#cdcdcd" stroke="#2e2e2e" stroke-width="0.55"/>
<circle cx="122.96" cy="392.95" r="1.9" fill="#cdcdcd" stroke="#2e2e2e" stroke-width="0.55"/>
<circle cx="77.32" cy="401.49" r="1.9" fill="#cdcdcd" stroke="#2e2e2e" stroke-width="0.55"/>
<circle cx="70.64" cy="406.26" r="1.9" fill="#cdcdcd" stroke="#2e2e2e" stroke-width="0.55"/>
<circle cx="119.54" cy="399.69" r="1.9" fill="#cdcdcd" stroke="#2e2e2e" stroke-width="0.55"/>
<circle cx="60" cy="403.01" r="1.9" fill="#cdcdcd" stroke="#2e2e2e" stroke-width="0.55"/>
<circle cx="70.03" cy="399.1" r="1.9" fill="#cdcdcd" stroke="#2e2e2e" stroke-width="0.55"/>
<circle cx="68.13" cy="397.16" r="1.9" fill="#cdcdcd" stroke="#2e2e2e" stroke-width="0.55"/>
<circle cx="107.37" cy="382.94" r="1.9" fill="#cdcdcd" stroke="#2e2e2e" stroke-width="0.55"/>
<circle cx="87.17" cy="394.55" r="1.9" fill="#cdcdcd" stroke="#2e2e2e" stroke-width="0.55"/>
<circle cx="62.2" cy="392.62" r="1.9" fill="#cdcdcd" stroke="#2e2e2e" stroke-width="0.55"/>
<circle cx="63.19" cy="405.68" r="1.9" fill="#cdcdcd" stroke="#2e2e2e" stroke-width="0.55"/>
<circle cx="74.34" cy="405.53" r="1.9" fill="#cdcdcd" stroke="#2e2e2e" stroke-width="0.55"/>
<circle cx="86.34" cy="390.61" r="1.9" fill="#cdcdcd" stroke="#2e2e2e" stroke-width="0.55"/>
<circle cx="66.75" cy="407.19" r="1.9" fill="#cdcdcd" stroke="#2e2e2e" stroke-width="0.55"/>
<circle cx="62.72" cy="397.79" r="1.9" fill="#cdcdcd" stroke="#2e2e2e" stroke-width="0.55"/>
<circle cx="60.65" cy="395.04" r="1.9" fill="#cdcdcd" stroke="#2e2e2e" stroke-width="0.55"/>
<circle cx="72.19" cy="402.57" r="1.9" fill="#cdcdcd" stroke="#2e2e2e" stroke-width="0.55"/>
<circle cx="69.91" cy="402.41" r="1.9" fill="#cdcdcd" stroke="#2e2e2e" stroke-width="0.55"/>
<circle cx="61.89" cy="399.56" r="1.9" fill="#cdcdcd" stroke="#2e2e2e" stroke-width="0.55"/>
<circle cx="67.35" cy="394.17" r="1.9" fill="#cdcdcd" stroke="#2e2e2e" stroke-width="0.55"/>
<circle cx="75.41" cy="401.46" r="1.9" fill="#cdcdcd" stroke="#2e2e2e" stroke-width="0.55"/>
<circle cx="102.18" cy="399.86" r="1.9" fill="#cdcdcd" stroke="#2e2e2e" stroke-width="0.55"/>
<circle cx="64.52" cy="394.31" r="1.9" fill="#cdcdcd" stroke="#2e2e2e" stroke-width="0.55"/>
<circle cx="75.12" cy="400.24" r="1.9" fill="#cdcdcd" stroke="#2e2e2e" stroke-width="0.55"/>
<circle cx="70.87" cy="406.4" r="1.9" fill="#cdcdcd" stroke="#2e2e2e" stroke-width="0.55"/>
<circle cx="83.56" cy="395.35" r="1.9" fill="#cdcdcd" stroke="#2e2e2e" stroke-width="0.55"/>
<circle cx="82.27" cy="394.95" r="1.9" fill="#cdcdcd" stroke="#2e2e2e" stroke-width="0.55"/>
<circle cx="102.99" cy="402.11" r="1.9" fill="#cdcdcd" stroke="#2e2e2e" stroke-width="0.55"/>
<circle cx="74.09" cy="388.56" r="1.9" fill="#cdcdcd" stroke="#2e2e2e" stroke-width="0.55"/>
<circle cx="73.16" cy="406.34" r="1.9" fill="#cdcdcd" stroke="#2e2e2e" stroke-width="0.55"/>
<circle cx="70.45" cy="395.1" r="1.9" fill="#cdcdcd" stroke="#2e2e2e" stroke-width="0.55"/>
<circle cx="63.37" cy="393.95" r="1.9" fill="#cdcdcd" stroke="#2e2e2e" stroke-width="0.55"/>
<circle cx="61.39" cy="399.45" r="1.9" fill="#cdcdcd" stroke="#2e2e2e" stroke-width="0.55"/>
<circle cx="69.9" cy="390.35" r="1.9" fill="#cdcdcd" stroke="#2e2e2e" stroke-width="0.55"/>
<circle cx="77.11" cy="406.2" r="1.9" fill="#cdcdcd" stroke="#2e2e2e" stroke-width="0.55"/>
<circle cx="122.58" cy="396.09" r="1.9" fill="#cdcdcd" stroke="#2e2e2e" stroke-width="0.55"/>
<circle cx="67.92" cy="376.56" r="1.9" fill="#cdcdcd" stroke="#2e2e2e" stroke-width="0.55"/>
<circle cx="106.22" cy="401.02" r="1.9" fill="#cdcdcd" stroke="#2e2e2e" stroke-width="0.55"/>
<circle cx="82.56" cy="392.72" r="1.9" fill="#cdcdcd" stroke="#2e2e2e" stroke-width="0.55"/>
<circle cx="62.45" cy="389.91" r="1.9" fill="#cdcdcd" stroke="#2e2e2e" stroke-width="0.55"/>
<circle cx="84.47" cy="402.1" r="1.9" fill="#cdcdcd" stroke="#2e2e2e" stroke-width="0.55"/>
<circle cx="69.39" cy="398.17" r="1.9" fill="#cdcdcd" stroke="#2e2e2e" stroke-width="0.55"/>
<circle cx="102.66" cy="402.35" r="1.9" fill="#cdcdcd" stroke="#2e2e2e" stroke-width="0.55"/>
<circle cx="82.09" cy="402.76" r="1.9" fill="#cdcdcd" stroke="#2e2e2e" stroke-width="0.55"/>
<circle cx="105" cy="402.71" r="1.9" fill="#cdcdcd" stroke="#2e2e2e" stroke-width="0.55"/>
<circle cx="106.22" cy="399.34" r="1.9" fill="#cdcdcd" stroke="#2e2e2e" stroke-width="0.55"/>
<circle cx="79.7" cy="394.89" r="1.9" fill="#cdcdcd" stroke="#2e2e2e" stroke-width="0.55"/>
<circle cx="61.29" cy="406.42" r="1.9" fill="#cdcdcd" stroke="#2e2e2e" stroke-width="0.55"/>
<circle cx="67.55" cy="402.89" r="1.9" fill="#cdcdcd" stroke="#2e2e2e" stroke-width="0.55"/>
<circle cx="85.28" cy="401.84" r="1.9" fill="#cdcdcd" stroke="#2e2e2e" stroke-width="0.55"/>
<circle cx="60.7" cy="393.39" r="1.9" fill="#cdcdcd" stroke="#2e2e2e" stroke-width="0.55"/>
<circle cx="77.1" cy="390.94" r="1.9" fill="#cdcdcd" stroke="#2e2e2e" stroke-width="0.55"/>
<circle cx="64.52" cy="405.73" r="1.9" fill="#cdcdcd" stroke="#2e2e2e" stroke-width="0.55"/>
<circle cx="69.04" cy="403.13" r="1.9" fill="#cdcdcd" stroke="#2e2e2e" stroke-width="0.55"/>
<circle cx="71.5" cy="391.01" r="1.9" fill="#cdcdcd" stroke="#2e2e2e" stroke-width="0.55"/>
<circle cx="63.99" cy="405.87" r="1.9" fill="#cdcdcd" stroke="#2e2e2e" stroke-width="0.55"/>
<circle cx="60.61" cy="390.64" r="1.9" fill="#cdcdcd" stroke="#2e2e2e" stroke-width="0.55"/>
<circle cx="70.84" cy="398.61" r="1.9" fill="#cdcdcd" stroke="#2e2e2e" stroke-width="0.55"/>
<circle cx="108.65" cy="395.17" r="1.9" fill="#cdcdcd" stroke="#2e2e2e" stroke-width="0.55"/>
<circle cx="91.28" cy="406.3" r="1.9" fill="#cdcdcd" stroke="#2e2e2e" stroke-width="0.55"/>
<circle cx="78.91" cy="402.51" r="1.9" fill="#cdcdcd" stroke="#2e2e2e" stroke-width="0.55"/>
<circle cx="58.66" cy="395.16" r="1.9" fill="#cdcdcd" stroke="#2e2e2e" stroke-width="0.55"/>
<circle cx="95.51" cy="398.74" r="1.9" fill="#cdcdcd" stroke="#2e2e2e" stroke-width="0.55"/>
<circle cx="103.71" cy="383.69" r="1.9" fill="#cdcdcd" stroke="#2e2e2e" stroke-width="0.55"/>
<circle cx="90.22" cy="391.57" r="1.9" fill="#cdcdcd" stroke="#2e2e2e" stroke-width="0.55"/>
<circle cx="70.3" cy="405.66" r="1.9" fill="#cdcdcd" stroke="#2e2e2e" stroke-width="0.55"/>
<circle cx="65.92" cy="393.13" r="1.9" fill="#cdcdcd" stroke="#2e2e2e" stroke-width="0.55"/>
<circle cx="115.03" cy="401.01" r="1.9" fill="#cdcdcd" stroke="#2e2e2e" stroke-width="0.55"/>
<circle cx="75.18" cy="399.06" r="1.9" fill="#cdcdcd" stroke="#2e2e2e" stroke-width="0.55"/>
<circle cx="95.41" cy="389.95" r="1.9" fill="#cdcdcd" stroke="#2e2e2e" stroke-width="0.55"/>
<circle cx="66.72" cy="400.44" r="1.9" fill="#cdcdcd" stroke="#2e2e2e" stroke-width="0.55"/>
<circle cx="97.14" cy="394.93" r="1.9" fill="#cdcdcd" stroke="#2e2e2e" stroke-width="0.55"/>
<circle cx="62.77" cy="405.96" r="1.9" fill="#cdcdcd" stroke="#2e2e2e" stroke-width="0.55"/>
<circle cx="123.06" cy="406.42" r="1.9" fill="#cdcdcd" stroke="#2e2e2e" stroke-width="0.55"/>
<circle cx="78.95" cy="400.48" r="1.9" fill="#cdcdcd" stroke="#2e2e2e" stroke-width="0.55"/>
<circle cx="91.92" cy="393.88" r="1.9" fill="#cdcdcd" stroke="#2e2e2e" stroke-width="0.55"/>
<circle cx="65.65" cy="379.86" r="1.9" fill="#cdcdcd" stroke="#2e2e2e" stroke-width="0.55"/>
<circle cx="76.64" cy="399.6" r="1.9" fill="#cdcdcd" stroke="#2e2e2e" stroke-width="0.55"/>
<circle cx="65.31" cy="395.41" r="1.9" fill="#cdcdcd" stroke="#2e2e2e" stroke-width="0.55"/>
<circle cx="90.01" cy="395.61" r="1.9" fill="#cdcdcd" stroke="#2e2e2e" stroke-width="0.55"/>
<circle cx="82.31" cy="386.71" r="1.9" fill="#cdcdcd" stroke="#2e2e2e" stroke-width="0.55"/>
<circle cx="73.65" cy="403.72" r="1.9" fill="#cdcdcd" stroke="#2e2e2e" stroke-width="0.55"/>
<circle cx="79.01" cy="380.16" r="1.9" fill="#cdcdcd" stroke="#2e2e2e" stroke-width="0.55"/>
<circle cx="110" cy="397.46" r="1.9" fill="#cdcdcd" stroke="#2e2e2e" stroke-width="0.55"/>
<circle cx="122.56" cy="395.42" r="1.9" fill="#cdcdcd" stroke="#2e2e2e" stroke-width="0.55"/>
<circle cx="60.15" cy="397.72" r="1.9" fill="#cdcdcd" stroke="#2e2e2e" stroke-width="0.55"/>
<circle cx="82.26" cy="399.03" r="1.9" fill="#cdcdcd" stroke="#2e2e2e" stroke-width="0.55"/>
<circle cx="64.8" cy="391.21" r="1.9" fill="#cdcdcd" stroke="#2e2e2e" stroke-width="0.55"/>
<circle cx="65.57" cy="406.97" r="1.9" fill="#cdcdcd" stroke="#2e2e2e" stroke-width="0.55"/>
<circle cx="76.12" cy="399.6" r="1.9" fill="#cdcdcd" stroke="#2e2e2e" stroke-width="0.55"/>
<circle cx="86.91" cy="397.24" r="1.9" fill="#cdcdcd" stroke="#2e2e2e" stroke-width="0.55"/>
<circle cx="86.17" cy="398.49" r="1.9" fill="#cdcdcd" stroke="#2e2e2e" stroke-width="0.55"/>
<circle cx="76.77" cy="385.55" r="1.9" fill="#cdcdcd" stroke="#2e2e2e" stroke-width="0.55"/>
<circle cx="66.11" cy="396.14" r="1.9" fill="#cdcdcd" stroke="#2e2e2e" stroke-width="0.55"/>
<circle cx="73.74" cy="406.41" r="1.9" fill="#cdcdcd" stroke="#2e2e2e" stroke-width="0.55"/>
<circle cx="71.6" cy="385.6" r="1.9" fill="#cdcdcd" stroke="#2e2e2e" stroke-width="0.55"/>
<circle cx="122.79" cy="403.49" r="1.9" fill="#cdcdcd" stroke="#2e2e2e" stroke-width="0.55"/>
<circle cx="74.01" cy="387.55" r="1.9" fill="#cdcdcd" stroke="#2e2e2e" stroke-width="0.55"/>
<circle cx="62.87" cy="401.08" r="1.9" fill="#cdcdcd" stroke="#2e2e2e" stroke-width="0.55"/>
<circle cx="71.5" cy="405.41" r="1.9" fill="#cdcdcd" stroke="#2e2e2e" stroke-width="0.55"/>
<circle cx="74.52" cy="394.18" r="1.9" fill="#cdcdcd" stroke="#2e2e2e" stroke-width="0.55"/>
<circle cx="68.45" cy="406.12" r="1.9" fill="#cdcdcd" stroke="#2e2e2e" stroke-width="0.55"/>
<circle cx="112.7" cy="402.77" r="1.9" fill="#cdcdcd" stroke="#2e2e2e" stroke-width="0.55"/>
<circle cx="63.33" cy="391.85" r="1.9" fill="#cdcdcd" stroke="#2e2e2e" stroke-width="0.55"/>
<circle cx="59.92" cy="399.51" r="1.9" fill="#cdcdcd" stroke="#2e2e2e" stroke-width="0.55"/>
<circle cx="69.56" cy="403.42" r="1.9" fill="#cdcdcd" stroke="#2e2e2e" stroke-width="0.55"/>
<circle cx="98.17" cy="402.41" r="1.9" fill="#cdcdcd" stroke="#2e2e2e" stroke-width="0.55"/>
<circle cx="81.97" cy="402.92" r="1.9" fill="#cdcdcd" stroke="#2e2e2e" stroke-width="0.55"/>
<circle cx="85.52" cy="397.06" r="1.9" fill="#cdcdcd" stroke="#2e2e2e" stroke-width="0.55"/>
<circle cx="77.35" cy="387.39" r="1.9" fill="#cdcdcd" stroke="#2e2e2e" stroke-width="0.55"/>
<circle cx="83.75" cy="394.07" r="1.9" fill="#cdcdcd" stroke="#2e2e2e" stroke-width="0.55"/>
<circle cx="77.12" cy="390.25" r="1.9" fill="#cdcdcd" stroke="#2e2e2e" stroke-width="0.55"/>
<circle cx="67.3" cy="398.87" r="1.9" fill="#cdcdcd" stroke="#2e2e2e" stroke-width="0.55"/>
<circle cx="65.14" cy="398.33" r="1.9" fill="#cdcdcd" stroke="#2e2e2e" stroke-width="0.55"/>
<circle cx="81.24" cy="393.46" r="1.9" fill="#cdcdcd" stroke="#2e2e2e" stroke-width="0.55"/>
<circle cx="79.4" cy="384.06" r="1.9" fill="#cdcdcd" stroke="#2e2e2e" stroke-width="0.55"/>
<circle cx="101.38" cy="405.62" r="1.9" fill="#cdcdcd" stroke="#2e2e2e" stroke-width="0.55"/>
<circle cx="72.95" cy="403.01" r="1.9" fill="#cdcdcd" stroke="#2e2e2e" stroke-width="0.55"/>
<circle cx="64.02" cy="391.37" r="1.9" fill="#cdcdcd" stroke="#2e2e2e" stroke-width="0.55"/>
<circle cx="106.71" cy="406.74" r="1.9" fill="#cdcdcd" stroke="#2e2e2e" stroke-width="0.55"/>
<circle cx="116.71" cy="398.63" r="1.9" fill="#cdcdcd" stroke="#2e2e2e" stroke-width="0.55"/>
<circle cx="78.45" cy="403.4" r="1.9" fill="#cdcdcd" stroke="#2e2e2e" stroke-width="0.55"/>
<circle cx="77.95" cy="405.88" r="1.9" fill="#cdcdcd" stroke="#2e2e2e" stroke-width="0.55"/>
<circle cx="67.53" cy="403.53" r="1.9" fill="#cdcdcd" stroke="#2e2e2e" stroke-width="0.55"/>
<circle cx="85.35" cy="383.02" r="1.9" fill="#cdcdcd" stroke="#2e2e2e" stroke-width="0.55"/>
<circle cx="106.24" cy="383.35" r="1.9" fill="#cdcdcd" stroke="#2e2e2e" stroke-width="0.55"/>
<circle cx="100.93" cy="404.91" r="1.9" fill="#cdcdcd" stroke="#2e2e2e" stroke-width="0.55"/>
<circle cx="80.24" cy="385.57" r="1.9" fill="#cdcdcd" stroke="#2e2e2e" stroke-width="0.55"/>
<circle cx="84.22" cy="400.9" r="1.9" fill="#cdcdcd" stroke="#2e2e2e" stroke-width="0.55"/>
<circle cx="82.2" cy="405.39" r="1.9" fill="#cdcdcd" stroke="#2e2e2e" stroke-width="0.55"/>
<circle cx="67.09" cy="399.53" r="1.9" fill="#cdcdcd" stroke="#2e2e2e" stroke-width="0.55"/>
<circle cx="90.22" cy="379.65" r="1.9" fill="#cdcdcd" stroke="#2e2e2e" stroke-width="0.55"/>
<circle cx="82.32" cy="398.38" r="1.9" fill="#cdcdcd" stroke="#2e2e2e" stroke-width="0.55"/>
<circle cx="79.34" cy="405.94" r="1.9" fill="#cdcdcd" stroke="#2e2e2e" stroke-width="0.55"/>
<circle cx="76.38" cy="397.67" r="1.9" fill="#cdcdcd" stroke="#2e2e2e" stroke-width="0.55"/>
<circle cx="64.23" cy="399.46" r="1.9" fill="#cdcdcd" stroke="#2e2e2e" stroke-width="0.55"/>
<circle cx="62.33" cy="393.73" r="1.9" fill="#cdcdcd" stroke="#2e2e2e" stroke-width="0.55"/>
<circle cx="108.15" cy="394.95" r="1.9" fill="#cdcdcd" stroke="#2e2e2e" stroke-width="0.55"/>
<circle cx="118.07" cy="394.3" r="1.9" fill="#cdcdcd" stroke="#2e2e2e" stroke-width="0.55"/>
<circle cx="68.7" cy="405.11" r="1.9" fill="#cdcdcd" stroke="#2e2e2e" stroke-width="0.55"/>
<circle cx="101.82" cy="404.44" r="1.9" fill="#cdcdcd" stroke="#2e2e2e" stroke-width="0.55"/>
<circle cx="94.94" cy="402.2" r="1.9" fill="#cdcdcd" stroke="#2e2e2e" stroke-width="0.55"/>
<circle cx="66.72" cy="406.43" r="1.9" fill="#cdcdcd" stroke="#2e2e2e" stroke-width="0.55"/>
<circle cx="91.09" cy="404.12" r="1.9" fill="#cdcdcd" stroke="#2e2e2e" stroke-width="0.55"/>
<circle cx="71.91" cy="398.67" r="1.9" fill="#cdcdcd" stroke="#2e2e2e" stroke-width="0.55"/>
<circle cx="89.26" cy="395.48" r="1.9" fill="#cdcdcd" stroke="#2e2e2e" stroke-width="0.55"/>
<circle cx="73.98" cy="405.32" r="1.9" fill="#cdcdcd" stroke="#2e2e2e" stroke-width="0.55"/>
<circle cx="87.08" cy="383.4" r="1.9" fill="#cdcdcd" stroke="#2e2e2e" stroke-width="0.55"/>
<circle cx="67.35" cy="406.17" r="1.9" fill="#cdcdcd" stroke="#2e2e2e" stroke-width="0.55"/>
<circle cx="71.57" cy="389.08" r="1.9" fill="#cdcdcd" stroke="#2e2e2e" stroke-width="0.55"/>
<circle cx="72.98" cy="403.66" r="1.9" fill="#cdcdcd" stroke="#2e2e2e" stroke-width="0.55"/>
<circle cx="117.58" cy="386.16" r="1.9" fill="#cdcdcd" stroke="#2e2e2e" stroke-width="0.55"/>
<circle cx="105.75" cy="406.6" r="1.9" fill="#cdcdcd" stroke="#2e2e2e" stroke-width="0.55"/>
<circle cx="69.86" cy="400.55" r="1.9" fill="#cdcdcd" stroke="#2e2e2e" stroke-width="0.55"/>
<circle cx="69.14" cy="392.76" r="1.9" fill="#cdcdcd" stroke="#2e2e2e" stroke-width="0.55"/>
<circle cx="93.28" cy="384.77" r="1.9" fill="#cdcdcd" stroke="#2e2e2e" stroke-width="0.55"/>
<circle cx="82.47" cy="396.35" r="1.9" fill="#cdcdcd" stroke="#2e2e2e" stroke-width="0.55"/>
<circle cx="91.4" cy="400.4" r="1.9" fill="#cdcdcd" stroke="#2e2e2e" stroke-width="0.55"/>
<circle cx="64.74" cy="404.78" r="1.9" fill="#cdcdcd" stroke="#2e2e2e" stroke-width="0.55"/>
<circle cx="78.96" cy="379.82" r="1.9" fill="#cdcdcd" stroke="#2e2e2e" stroke-width="0.55"/>
<circle cx="103.05" cy="388.6" r="1.9" fill="#cdcdcd" stroke="#2e2e2e" stroke-width="0.55"/>
<circle cx="70.75" cy="401.42" r="1.9" fill="#cdcdcd" stroke="#2e2e2e" stroke-width="0.55"/>
<circle cx="63.78" cy="390.76" r="1.9" fill="#cdcdcd" stroke="#2e2e2e" stroke-width="0.55"/>
<circle cx="80.69" cy="384.69" r="1.9" fill="#cdcdcd" stroke="#2e2e2e" stroke-width="0.55"/>
<circle cx="119.25" cy="395.25" r="1.9" fill="#cdcdcd" stroke="#2e2e2e" stroke-width="0.55"/>
<circle cx="65.99" cy="406.27" r="1.9" fill="#cdcdcd" stroke="#2e2e2e" stroke-width="0.55"/>
<circle cx="120.69" cy="406.42" r="1.9" fill="#cdcdcd" stroke="#2e2e2e" stroke-width="0.55"/>
<circle cx="96.78" cy="405.54" r="1.9" fill="#cdcdcd" stroke="#2e2e2e" stroke-width="0.55"/>
<circle cx="85.04" cy="406.76" r="1.9" fill="#cdcdcd" stroke="#2e2e2e" stroke-width="0.55"/>
<circle cx="87.3" cy="400.34" r="1.9" fill="#cdcdcd" stroke="#2e2e2e" stroke-width="0.55"/>
<circle cx="68.47" cy="399.31" r="1.9" fill="#cdcdcd" stroke="#2e2e2e" stroke-width="0.55"/>
<circle cx="75.73" cy="402.83" r="1.9" fill="#cdcdcd" stroke="#2e2e2e" stroke-width="0.55"/>
<circle cx="80.3" cy="394.4" r="1.9" fill="#cdcdcd" stroke="#2e2e2e" stroke-width="0.55"/>
<circle cx="74.46" cy="397.09" r="1.9" fill="#cdcdcd" stroke="#2e2e2e" stroke-width="0.55"/>
<circle cx="91.73" cy="387.94" r="1.9" fill="#cdcdcd" stroke="#2e2e2e" stroke-width="0.55"/>
<circle cx="83.22" cy="392.73" r="1.9" fill="#cdcdcd" stroke="#2e2e2e" stroke-width="0.55"/>
<circle cx="59.5" cy="405.29" r="1.9" fill="#cdcdcd" stroke="#2e2e2e" stroke-width="0.55"/>
<circle cx="72.13" cy="399.1" r="1.9" fill="#cdcdcd" stroke="#2e2e2e" stroke-width="0.55"/>
<circle cx="75.09" cy="390.66" r="1.9" fill="#cdcdcd" stroke="#2e2e2e" stroke-width="0.55"/>
<circle cx="88.04" cy="404.27" r="1.9" fill="#cdcdcd" stroke="#2e2e2e" stroke-width="0.55"/>
<circle cx="62.81" cy="403.61" r="1.9" fill="#cdcdcd" stroke="#2e2e2e" stroke-width="0.55"/>
<circle cx="95.97" cy="405.27" r="1.9" fill="#cdcdcd" stroke="#2e2e2e" stroke-width="0.55"/>
<circle cx="78.97" cy="403.29" r="1.9" fill="#cdcdcd" stroke="#2e2e2e" stroke-width="0.55"/>
<circle cx="97.94" cy="393.59" r="1.9" fill="#cdcdcd" stroke="#2e2e2e" stroke-width="0.55"/>
<circle cx="122.04" cy="395.47" r="1.9" fill="#cdcdcd" stroke="#2e2e2e" stroke-width="0.55"/>
<circle cx="69.99" cy="401.84" r="1.9" fill="#cdcdcd" stroke="#2e2e2e" stroke-width="0.55"/>
<circle cx="59.9" cy="406.19" r="1.9" fill="#cdcdcd" stroke="#2e2e2e" stroke-width="0.55"/>
<circle cx="85.74" cy="390.19" r="1.9" fill="#cdcdcd" stroke="#2e2e2e" stroke-width="0.55"/>
<circle cx="80.48" cy="384.37" r="1.9" fill="#cdcdcd" stroke="#2e2e2e" stroke-width="0.55"/>
<circle cx="83.3" cy="400.32" r="1.9" fill="#cdcdcd" stroke="#2e2e2e" stroke-width="0.55"/>
<circle cx="66.9" cy="398.73" r="1.9" fill="#cdcdcd" stroke="#2e2e2e" stroke-width="0.55"/>
<circle cx="91.96" cy="407.16" r="1.9" fill="#cdcdcd" stroke="#2e2e2e" stroke-width="0.55"/>
<circle cx="66.3" cy="395.45" r="1.9" fill="#cdcdcd" stroke="#2e2e2e" stroke-width="0.55"/>
<circle cx="64.17" cy="386.98" r="1.9" fill="#cdcdcd" stroke="#2e2e2e" stroke-width="0.55"/>
<circle cx="91.29" cy="393.66" r="1.9" fill="#cdcdcd" stroke="#2e2e2e" stroke-width="0.55"/>
<circle cx="77.73" cy="402.41" r="1.9" fill="#cdcdcd" stroke="#2e2e2e" stroke-width="0.55"/>
<circle cx="122.09" cy="390.96" r="1.9" fill="#cdcdcd" stroke="#2e2e2e" stroke-width="0.55"/>
<circle cx="111.12" cy="403.02" r="1.9" fill="#cdcdcd" stroke="#2e2e2e" stroke-width="0.55"/>
<circle cx="60.56" cy="398.83" r="1.9" fill="#cdcdcd" stroke="#2e2e2e" stroke-width="0.55"/>
<circle cx="119.09" cy="405.63" r="1.9" fill="#cdcdcd" stroke="#2e2e2e" stroke-width="0.55"/>
<circle cx="115.13" cy="402.66" r="1.9" fill="#cdcdcd" stroke="#2e2e2e" stroke-width="0.55"/>
<circle cx="99.01" cy="405.49" r="1.9" fill="#cdcdcd" stroke="#2e2e2e" stroke-width="0.55"/>
<circle cx="109.55" cy="393.71" r="1.9" fill="#cdcdcd" stroke="#2e2e2e" stroke-width="0.55"/>
<circle cx="83.91" cy="403.27" r="1.9" fill="#cdcdcd" stroke="#2e2e2e" stroke-width="0.55"/>
<circle cx="102.74" cy="401.72" r="1.9" fill="#cdcdcd" stroke="#2e2e2e" stroke-width="0.55"/>
<circle cx="80.36" cy="400.31" r="1.9" fill="#cdcdcd" stroke="#2e2e2e" stroke-width="0.55"/>
<circle cx="87.12" cy="394.45" r="1.9" fill="#cdcdcd" stroke="#2e2e2e" stroke-width="0.55"/>
<circle cx="93.34" cy="399.89" r="1.9" fill="#cdcdcd" stroke="#2e2e2e" stroke-width="0.55"/>
<circle cx="64.59" cy="398.53" r="1.9" fill="#cdcdcd" stroke="#2e2e2e" stroke-width="0.55"/>
<circle cx="78.74" cy="403.63" r="1.9" fill="#cdcdcd" stroke="#2e2e2e" stroke-width="0.55"/>
<circle cx="95.14" cy="385.81" r="1.9" fill="#cdcdcd" stroke="#2e2e2e" stroke-width="0.55"/>
<circle cx="74.81" cy="405.85" r="1.9" fill="#cdcdcd" stroke="#2e2e2e" stroke-width="0.55"/>
<circle cx="76.54" cy="388.49" r="1.9" fill="#cdcdcd" stroke="#2e2e2e" stroke-width="0.55"/>
<circle cx="65.62" cy="386.15" r="1.9" fill="#cdcdcd" stroke="#2e2e2e" stroke-width="0.55"/>
<circle cx="76.33" cy="396.82" r="1.9" fill="#cdcdcd" stroke="#2e2e2e" stroke-width="0.55"/>
<circle cx="101.36" cy="403.44" r="1.9" fill="#cdcdcd" stroke="#2e2e2e" stroke-width="0.55"/>
<circle cx="59.71" cy="404.62" r="1.9" fill="#cdcdcd" stroke="#2e2e2e" stroke-width="0.55"/>
<circle cx="79.37" cy="400.73" r="1.9" fill="#cdcdcd" stroke="#2e2e2e" stroke-width="0.55"/>
<circle cx="84.85" cy="387.9" r="1.9" fill="#cdcdcd" stroke="#2e2e2e" stroke-width="0.55"/>
<circle cx="85.6" cy="398.31" r="1.9" fill="#cdcdcd" stroke="#2e2e2e" stroke-width="0.55"/>
<circle cx="89.77" cy="385.29" r="1.9" fill="#cdcdcd" stroke="#2e2e2e" stroke-width="0.55"/>
<circle cx="83.95" cy="388" r="1.9" fill="#cdcdcd" stroke="#2e2e2e" stroke-width="0.55"/>
<circle cx="73.48" cy="397.2" r="1.9" fill="#cdcdcd" stroke="#2e2e2e" stroke-width="0.55"/>
<circle cx="80.8" cy="401.81" r="1.9" fill="#cdcdcd" stroke="#2e2e2e" stroke-width="0.55"/>
<circle cx="62.54" cy="387.36" r="1.9" fill="#cdcdcd" stroke="#2e2e2e" stroke-width="0.55"/>
<circle cx="105.48" cy="401.06" r="1.9" fill="#cdcdcd" stroke="#2e2e2e" stroke-width="0.55"/>
<circle cx="67.58" cy="389.48" r="1.9" fill="#cdcdcd" stroke="#2e2e2e" stroke-width="0.55"/>
<circle cx="72.9" cy="387.78" r="1.9" fill="#cdcdcd" stroke="#2e2e2e" stroke-width="0.55"/>
<circle cx="85.85" cy="393.72" r="1.9" fill="#cdcdcd" stroke="#2e2e2e" stroke-width="0.55"/>
<circle cx="95.54" cy="398.84" r="1.9" fill="#cdcdcd" stroke="#2e2e2e" stroke-width="0.55"/>
<circle cx="78.37" cy="398.19" r="1.9" fill="#cdcdcd" stroke="#2e2e2e" stroke-width="0.55"/>
<circle cx="60.19" cy="403.57" r="1.9" fill="#cdcdcd" stroke="#2e2e2e" stroke-width="0.55"/>
<circle cx="74.8" cy="404.69" r="1.9" fill="#cdcdcd" stroke="#2e2e2e" stroke-width="0.55"/>
<circle cx="75.75" cy="406.38" r="1.9" fill="#cdcdcd" stroke="#2e2e2e" stroke-width="0.55"/>
<circle cx="72.31" cy="397.33" r="1.9" fill="#cdcdcd" stroke="#2e2e2e" stroke-width="0.55"/>
<circle cx="79.25" cy="393.69" r="1.9" fill="#cdcdcd" stroke="#2e2e2e" stroke-width="0.55"/>
<circle cx="73.09" cy="402.8" r="1.9" fill="#cdcdcd" stroke="#2e2e2e" stroke-width="0.55"/>
<circle cx="86.98" cy="391.16" r="1.9" fill="#cdcdcd" stroke="#2e2e2e" stroke-width="0.55"/>
<circle cx="72.82" cy="401.83" r="1.9" fill="#cdcdcd" stroke="#2e2e2e" stroke-width="0.55"/>
<circle cx="61.7" cy="391.3" r="1.9" fill="#cdcdcd" stroke="#2e2e2e" stroke-width="0.55"/>
<circle cx="61.51" cy="405.37" r="1.9" fill="#cdcdcd" stroke="#2e2e2e" stroke-width="0.55"/>
<circle cx="70.21" cy="397.76" r="1.9" fill="#cdcdcd" stroke="#2e2e2e" stroke-width="0.55"/>
<circle cx="82.03" cy="381.82" r="1.9" fill="#cdcdcd" stroke="#2e2e2e" stroke-width="0.55"/>
<circle cx="66.04" cy="398.07" r="1.9" fill="#cdcdcd" stroke="#2e2e2e" stroke-width="0.55"/>
<circle cx="98.99" cy="392.55" r="1.9" fill="#cdcdcd" stroke="#2e2e2e" stroke-width="0.55"/>
<circle cx="89.45" cy="387.96" r="1.9" fill="#cdcdcd" stroke="#2e2e2e" stroke-width="0.55"/>
<circle cx="60.7" cy="401.6" r="1.9" fill="#cdcdcd" stroke="#2e2e2e" stroke-width="0.55"/>
<circle cx="102.95" cy="393.89" r="1.9" fill="#cdcdcd" stroke="#2e2e2e" stroke-width="0.55"/>
<circle cx="116.56" cy="405.44" r="1.9" fill="#cdcdcd" stroke="#2e2e2e" stroke-width="0.55"/>
<circle cx="93.86" cy="399.64" r="1.9" fill="#cdcdcd" stroke="#2e2e2e" stroke-width="0.55"/>
<circle cx="63.5" cy="406.88" r="1.9" fill="#cdcdcd" stroke="#2e2e2e" stroke-width="0.55"/>
<circle cx="65.88" cy="396.88" r="1.9" fill="#cdcdcd" stroke="#2e2e2e" stroke-width="0.55"/>
<circle cx="70" cy="391.22" r="1.9" fill="#cdcdcd" stroke="#2e2e2e" stroke-width="0.55"/>
<circle cx="80.77" cy="406.76" r="1.9" fill="#cdcdcd" stroke="#2e2e2e" stroke-width="0.55"/>
<circle cx="63.39" cy="393.96" r="1.9" fill="#cdcdcd" stroke="#2e2e2e" stroke-width="0.55"/>
<circle cx="75.86" cy="378.08" r="1.9" fill="#cdcdcd" stroke="#2e2e2e" stroke-width="0.55"/>
<circle cx="60.57" cy="397.79" r="1.9" fill="#cdcdcd" stroke="#2e2e2e" stroke-width="0.55"/>
<circle cx="70.56" cy="392.19" r="1.9" fill="#cdcdcd" stroke="#2e2e2e" stroke-width="0.55"/>
<circle cx="80.19" cy="402.68" r="1.9" fill="#cdcdcd" stroke="#2e2e2e" stroke-width="0.55"/>
<circle cx="76.96" cy="402.65" r="1.9" fill="#cdcdcd" stroke="#2e2e2e" stroke-width="0.55"/>
<circle cx="104.04" cy="391.33" r="1.9" fill="#cdcdcd" stroke="#2e2e2e" stroke-width="0.55"/>
<circle cx="63.64" cy="397.83" r="1.9" fill="#cdcdcd" stroke="#2e2e2e" stroke-width="0.55"/>
<circle cx="83.04" cy="392.75" r="1.9" fill="#cdcdcd" stroke="#2e2e2e" stroke-width="0.55"/>
<circle cx="91.49" cy="402.57" r="1.9" fill="#cdcdcd" stroke="#2e2e2e" stroke-width="0.55"/>
<circle cx="60.77" cy="395.79" r="1.9" fill="#cdcdcd" stroke="#2e2e2e" stroke-width="0.55"/>
<circle cx="107.97" cy="405.94" r="1.9" fill="#cdcdcd" stroke="#2e2e2e" stroke-width="0.55"/>
<circle cx="60.47" cy="405.83" r="1.9" fill="#cdcdcd" stroke="#2e2e2e" stroke-width="0.55"/>
<circle cx="61.06" cy="403.92" r="1.9" fill="#cdcdcd" stroke="#2e2e2e" stroke-width="0.55"/>
<circle cx="69.67" cy="403.55" r="1.9" fill="#cdcdcd" stroke="#2e2e2e" stroke-width="0.55"/>
<circle cx="61.22" cy="406.93" r="1.9" fill="#cdcdcd" stroke="#2e2e2e" stroke-width="0.55"/>
<circle cx="84.42" cy="397.85" r="1.9" fill="#cdcdcd" stroke="#2e2e2e" stroke-width="0.55"/>
<circle cx="117.52" cy="400.26" r="1.9" fill="#cdcdcd" stroke="#2e2e2e" stroke-width="0.55"/>
<circle cx="103.98" cy="402.8" r="1.9" fill="#cdcdcd" stroke="#2e2e2e" stroke-width="0.55"/>
<circle cx="108.26" cy="385.52" r="1.9" fill="#cdcdcd" stroke="#2e2e2e" stroke-width="0.55"/>
<circle cx="98.45" cy="385.49" r="1.9" fill="#cdcdcd" stroke="#2e2e2e" stroke-width="0.55"/>
<circle cx="68.06" cy="403.99" r="1.9" fill="#cdcdcd" stroke="#2e2e2e" stroke-width="0.55"/>
<circle cx="77.01" cy="396.28" r="1.9" fill="#cdcdcd" stroke="#2e2e2e" stroke-width="0.55"/>
<circle cx="74.84" cy="402.49" r="1.9" fill="#cdcdcd" stroke="#2e2e2e" stroke-width="0.55"/>
<circle cx="58.67" cy="400.49" r="1.9" fill="#cdcdcd" stroke="#2e2e2e" stroke-width="0.55"/>
<circle cx="73.9" cy="386.3" r="1.9" fill="#cdcdcd" stroke="#2e2e2e" stroke-width="0.55"/>
<circle cx="79.19" cy="402.75" r="1.9" fill="#cdcdcd" stroke="#2e2e2e" stroke-width="0.55"/>
<circle cx="71.77" cy="406.17" r="1.9" fill="#cdcdcd" stroke="#2e2e2e" stroke-width="0.55"/>
<circle cx="96.27" cy="405.82" r="1.9" fill="#cdcdcd" stroke="#2e2e2e" stroke-width="0.55"/>
<circle cx="88.84" cy="396.31" r="1.9" fill="#cdcdcd" stroke="#2e2e2e" stroke-width="0.55"/>
<circle cx="60.29" cy="405.64" r="1.9" fill="#cdcdcd" stroke="#2e2e2e" stroke-width="0.55"/>
<circle cx="68.9" cy="389.43" r="1.9" fill="#cdcdcd" stroke="#2e2e2e" stroke-width="0.55"/>
<circle cx="103.18" cy="388.67" r="1.9" fill="#cdcdcd" stroke="#2e2e2e" stroke-width="0.55"/>
<circle cx="75.94" cy="405.48" r="1.9" fill="#cdcdcd" stroke="#2e2e2e" stroke-width="0.55"/>
<circle cx="103.5" cy="396.08" r="1.9" fill="#cdcdcd" stroke="#2e2e2e" stroke-width="0.55"/>
<circle cx="90.46" cy="398.48" r="1.9" fill="#cdcdcd" stroke="#2e2e2e" stroke-width="0.55"/>
<circle cx="63.83" cy="396.87" r="1.9" fill="#cdcdcd" stroke="#2e2e2e" stroke-width="0.55"/>
<circle cx="78.03" cy="406.92" r="1.9" fill="#cdcdcd" stroke="#2e2e2e" stroke-width="0.55"/>
<circle cx="67.55" cy="400.94" r="1.9" fill="#cdcdcd" stroke="#2e2e2e" stroke-width="0.55"/>
<circle cx="61.95" cy="404.01" r="1.9" fill="#cdcdcd" stroke="#2e2e2e" stroke-width="0.55"/>
<circle cx="89.54" cy="406.1" r="1.9" fill="#cdcdcd" stroke="#2e2e2e" stroke-width="0.55"/>
<circle cx="72.32" cy="384.67" r="1.9" fill="#cdcdcd" stroke="#2e2e2e" stroke-width="0.55"/>
<circle cx="106.26" cy="403.1" r="1.9" fill="#cdcdcd" stroke="#2e2e2e" stroke-width="0.55"/>
<circle cx="114.71" cy="397.91" r="1.9" fill="#cdcdcd" stroke="#2e2e2e" stroke-width="0.55"/>
<circle cx="107.86" cy="396.95" r="1.9" fill="#cdcdcd" stroke="#2e2e2e" stroke-width="0.55"/>
<circle cx="64.9" cy="395.44" r="1.9" fill="#cdcdcd" stroke="#2e2e2e" stroke-width="0.55"/>
<circle cx="70.19" cy="404.06" r="1.9" fill="#cdcdcd" stroke="#2e2e2e" stroke-width="0.55"/>
<circle cx="98.65" cy="397.56" r="1.9" fill="#cdcdcd" stroke="#2e2e2e" stroke-width="0.55"/>
<circle cx="82.7" cy="398.61" r="1.9" fill="#cdcdcd" stroke="#2e2e2e" stroke-width="0.55"/>
<circle cx="84.01" cy="404.25" r="1.9" fill="#cdcdcd" stroke="#2e2e2e" stroke-width="0.55"/>
<circle cx="78.24" cy="404.34" r="1.9" fill="#cdcdcd" stroke="#2e2e2e" stroke-width="0.55"/>
<circle cx="64.05" cy="400.59" r="1.9" fill="#cdcdcd" stroke="#2e2e2e" stroke-width="0.55"/>
<circle cx="71.87" cy="379.3" r="1.9" fill="#cdcdcd" stroke="#2e2e2e" stroke-width="0.55"/>
<circle cx="79.76" cy="404.93" r="1.9" fill="#cdcdcd" stroke="#2e2e2e" stroke-width="0.55"/>
<circle cx="59.6" cy="406.35" r="1.9" fill="#cdcdcd" stroke="#2e2e2e" stroke-width="0.55"/>
<circle cx="81.94" cy="386.63" r="1.9" fill="#cdcdcd" stroke="#2e2e2e" stroke-width="0.55"/>
<circle cx="64.53" cy="404.94" r="1.9" fill="#cdcdcd" stroke="#2e2e2e" stroke-width="0.55"/>
<circle cx="96.09" cy="384.53" r="1.9" fill="#cdcdcd" stroke="#2e2e2e" stroke-width="0.55"/>
<circle cx="89.73" cy="395.09" r="1.9" fill="#cdcdcd" stroke="#2e2e2e" stroke-width="0.55"/>
<circle cx="103.3" cy="387.96" r="1.9" fill="#cdcdcd" stroke="#2e2e2e" stroke-width="0.55"/>
<circle cx="61.71" cy="396.49" r="1.9" fill="#cdcdcd" stroke="#2e2e2e" stroke-width="0.55"/>
<circle cx="80.43" cy="407.17" r="1.9" fill="#cdcdcd" stroke="#2e2e2e" stroke-width="0.55"/>
<circle cx="63.17" cy="393.2" r="1.9" fill="#cdcdcd" stroke="#2e2e2e" stroke-width="0.55"/>
<circle cx="71.98" cy="404.08" r="1.9" fill="#cdcdcd" stroke="#2e2e2e" stroke-width="0.55"/>
<circle cx="58.86" cy="387.4" r="1.9" fill="#cdcdcd" stroke="#2e2e2e" stroke-width="0.55"/>
<circle cx="73.84" cy="387.82" r="1.9" fill="#cdcdcd" stroke="#2e2e2e" stroke-width="0.55"/>
<circle cx="66.53" cy="385.64" r="1.9" fill="#cdcdcd" stroke="#2e2e2e" stroke-width="0.55"/>
<circle cx="74.47" cy="394.41" r="1.9" fill="#cdcdcd" stroke="#2e2e2e" stroke-width="0.55"/>
<circle cx="82.97" cy="399.24" r="1.9" fill="#cdcdcd" stroke="#2e2e2e" stroke-width="0.55"/>
<circle cx="61.38" cy="396.81" r="1.9" fill="#cdcdcd" stroke="#2e2e2e" stroke-width="0.55"/>
<circle cx="79.45" cy="392.8" r="1.9" fill="#cdcdcd" stroke="#2e2e2e" stroke-width="0.55"/>
<circle cx="59.6" cy="389.54" r="1.9" fill="#cdcdcd" stroke="#2e2e2e" stroke-width="0.55"/>
<circle cx="79.36" cy="396.81" r="1.9" fill="#cdcdcd" stroke="#2e2e2e" stroke-width="0.55"/>
<circle cx="75.58" cy="385.4" r="1.9" fill="#cdcdcd" stroke="#2e2e2e" stroke-width="0.55"/>
<circle cx="119.45" cy="401.33" r="1.9" fill="#cdcdcd" stroke="#2e2e2e" stroke-width="0.55"/>
<circle cx="78.52" cy="402.23" r="1.9" fill="#cdcdcd" stroke="#2e2e2e" stroke-width="0.55"/>
<circle cx="61.93" cy="389.78" r="1.9" fill="#cdcdcd" stroke="#2e2e2e" stroke-width="0.55"/>
<circle cx="74.76" cy="405.71" r="1.9" fill="#cdcdcd" stroke="#2e2e2e" stroke-width="0.55"/>
<circle cx="83.49" cy="397.37" r="1.9" fill="#cdcdcd" stroke="#2e2e2e" stroke-width="0.55"/>
<circle cx="62.01" cy="406.34" r="1.9" fill="#cdcdcd" stroke="#2e2e2e" stroke-width="0.55"/>
<circle cx="82.32" cy="406.61" r="1.9" fill="#cdcdcd" stroke="#2e2e2e" stroke-width="0.55"/>
<circle cx="81.23" cy="387.87" r="1.9" fill="#cdcdcd" stroke="#2e2e2e" stroke-width="0.55"/>
<circle cx="102.32" cy="394.19" r="1.9" fill="#cdcdcd" stroke="#2e2e2e" stroke-width="0.55"/>
<circle cx="114.27" cy="389.16" r="1.9" fill="#cdcdcd" stroke="#2e2e2e" stroke-width="0.55"/>
<circle cx="61.82" cy="398.04" r="1.9" fill="#cdcdcd" stroke="#2e2e2e" stroke-width="0.55"/>
<circle cx="68.1" cy="382.48" r="1.9" fill="#cdcdcd" stroke="#2e2e2e" stroke-width="0.55"/>
<circle cx="115.61" cy="400.68" r="1.9" fill="#cdcdcd" stroke="#2e2e2e" stroke-width="0.55"/>
<circle cx="106.05" cy="380.52" r="1.9" fill="#cdcdcd" stroke="#2e2e2e" stroke-width="0.55"/>
<circle cx="65.47" cy="399.2" r="1.9" fill="#cdcdcd" stroke="#2e2e2e" stroke-width="0.55"/>
<circle cx="80.55" cy="392.66" r="1.9" fill="#cdcdcd" stroke="#2e2e2e" stroke-width="0.55"/>
<circle cx="112.38" cy="401.24" r="1.9" fill="#cdcdcd" stroke="#2e2e2e" stroke-width="0.55"/>
<circle cx="81.61" cy="404.99" r="1.9" fill="#cdcdcd" stroke="#2e2e2e" stroke-width="0.55"/>
<circle cx="61.31" cy="401.29" r="1.9" fill="#cdcdcd" stroke="#2e2e2e" stroke-width="0.55"/>
<circle cx="65.34" cy="395.67" r="1.9" fill="#cdcdcd" stroke="#2e2e2e" stroke-width="0.55"/>
<circle cx="76.46" cy="402.9" r="1.9" fill="#cdcdcd" stroke="#2e2e2e" stroke-width="0.55"/>
<circle cx="73.5" cy="387.27" r="1.9" fill="#cdcdcd" stroke="#2e2e2e" stroke-width="0.55"/>
<circle cx="95.36" cy="389.35" r="1.9" fill="#cdcdcd" stroke="#2e2e2e" stroke-width="0.55"/>
<circle cx="62.64" cy="383.72" r="1.9" fill="#cdcdcd" stroke="#2e2e2e" stroke-width="0.55"/>
<circle cx="90.06" cy="405.55" r="1.9" fill="#cdcdcd" stroke="#2e2e2e" stroke-width="0.55"/>
<circle cx="88.59" cy="396.19" r="1.9" fill="#cdcdcd" stroke="#2e2e2e" stroke-width="0.55"/>
<circle cx="58.85" cy="401.8" r="1.9" fill="#cdcdcd" stroke="#2e2e2e" stroke-width="0.55"/>
<circle cx="102.5" cy="389.37" r="1.9" fill="#cdcdcd" stroke="#2e2e2e" stroke-width="0.55"/>
<circle cx="64.71" cy="405.88" r="1.9" fill="#cdcdcd" stroke="#2e2e2e" stroke-width="0.55"/>
<circle cx="98.5" cy="383.74" r="1.9" fill="#cdcdcd" stroke="#2e2e2e" stroke-width="0.55"/>
<circle cx="99.04" cy="407.06" r="1.9" fill="#cdcdcd" stroke="#2e2e2e" stroke-width="0.55"/>
<circle cx="97.66" cy="383.72" r="1.9" fill="#cdcdcd" stroke="#2e2e2e" stroke-width="0.55"/>
<circle cx="84.34" cy="399.25" r="1.9" fill="#cdcdcd" stroke="#2e2e2e" stroke-width="0.55"/>
<circle cx="66.92" cy="403.56" r="1.9" fill="#cdcdcd" stroke="#2e2e2e" stroke-width="0.55"/>
<circle cx="80.95" cy="381.89" r="1.9" fill="#cdcdcd" stroke="#2e2e2e" stroke-width="0.55"/>
<circle cx="77.51" cy="399.41" r="1.9" fill="#cdcdcd" stroke="#2e2e2e" stroke-width="0.55"/>
<circle cx="77.33" cy="390.59" r="1.9" fill="#cdcdcd" stroke="#2e2e2e" stroke-width="0.55"/>
<circle cx="106.67" cy="404.02" r="1.9" fill="#cdcdcd" stroke="#2e2e2e" stroke-width="0.55"/>
<circle cx="108.89" cy="393.36" r="1.9" fill="#cdcdcd" stroke="#2e2e2e" stroke-width="0.55"/>
<circle cx="81.6" cy="398.08" r="1.9" fill="#cdcdcd" stroke="#2e2e2e" stroke-width="0.55"/>
<circle cx="72.96" cy="399.4" r="1.9" fill="#cdcdcd" stroke="#2e2e2e" stroke-width="0.55"/>
<circle cx="116.27" cy="401.2" r="1.9" fill="#cdcdcd" stroke="#2e2e2e" stroke-width="0.55"/>
<circle cx="63.57" cy="404.19" r="1.9" fill="#cdcdcd" stroke="#2e2e2e" stroke-width="0.55"/>
<circle cx="58.68" cy="387.8" r="1.9" fill="#cdcdcd" stroke="#2e2e2e" stroke-width="0.55"/>
<circle cx="60.43" cy="387.35" r="1.9" fill="#cdcdcd" stroke="#2e2e2e" stroke-width="0.55"/>
<circle cx="104.12" cy="390.26" r="1.9" fill="#cdcdcd" stroke="#2e2e2e" stroke-width="0.55"/>
<circle cx="76.75" cy="396.46" r="1.9" fill="#cdcdcd" stroke="#2e2e2e" stroke-width="0.55"/>
<circle cx="108.08" cy="405.68" r="1.9" fill="#cdcdcd" stroke="#2e2e2e" stroke-width="0.55"/>
<circle cx="83.93" cy="380.41" r="1.9" fill="#cdcdcd" stroke="#2e2e2e" stroke-width="0.55"/>
<circle cx="82.83" cy="394.58" r="1.9" fill="#cdcdcd" stroke="#2e2e2e" stroke-width="0.55"/>
<circle cx="62.9" cy="401.53" r="1.9" fill="#cdcdcd" stroke="#2e2e2e" stroke-width="0.55"/>
<circle cx="74.47" cy="383.61" r="1.9" fill="#cdcdcd" stroke="#2e2e2e" stroke-width="0.55"/>
<circle cx="61.98" cy="405.96" r="1.9" fill="#cdcdcd" stroke="#2e2e2e" stroke-width="0.55"/>
<circle cx="64.01" cy="392.17" r="1.9" fill="#cdcdcd" stroke="#2e2e2e" stroke-width="0.55"/>
<circle cx="62.29" cy="400.06" r="1.9" fill="#cdcdcd" stroke="#2e2e2e" stroke-width="0.55"/>
<circle cx="58.83" cy="394.11" r="1.9" fill="#cdcdcd" stroke="#2e2e2e" stroke-width="0.55"/>
<circle cx="71.7" cy="404.58" r="1.9" fill="#cdcdcd" stroke="#2e2e2e" stroke-width="0.55"/>
<circle cx="61.89" cy="386.32" r="1.9" fill="#cdcdcd" stroke="#2e2e2e" stroke-width="0.55"/>
<circle cx="69.63" cy="383.23" r="1.9" fill="#cdcdcd" stroke="#2e2e2e" stroke-width="0.55"/>
<circle cx="98.5" cy="403.19" r="1.9" fill="#cdcdcd" stroke="#2e2e2e" stroke-width="0.55"/>
<circle cx="100.96" cy="402.99" r="1.9" fill="#cdcdcd" stroke="#2e2e2e" stroke-width="0.55"/>
<circle cx="103.47" cy="384.95" r="1.9" fill="#cdcdcd" stroke="#2e2e2e" stroke-width="0.55"/>
<circle cx="72.61" cy="405.83" r="1.9" fill="#cdcdcd" stroke="#2e2e2e" stroke-width="0.55"/>
<circle cx="77.38" cy="386.06" r="1.9" fill="#cdcdcd" stroke="#2e2e2e" stroke-width="0.55"/>
<circle cx="118.52" cy="405.34" r="1.9" fill="#cdcdcd" stroke="#2e2e2e" stroke-width="0.55"/>
<circle cx="91.41" cy="405.28" r="1.9" fill="#cdcdcd" stroke="#2e2e2e" stroke-width="0.55"/>
<circle cx="86.08" cy="396.36" r="1.9" fill="#cdcdcd" stroke="#2e2e2e" stroke-width="0.55"/>
<circle cx="93.51" cy="405.36" r="1.9" fill="#cdcdcd" stroke="#2e2e2e" stroke-width="0.55"/>
<circle cx="67.63" cy="391" r="1.9" fill="#cdcdcd" stroke="#2e2e2e" stroke-width="0.55"/>
<circle cx="97.1" cy="406.03" r="1.9" fill="#cdcdcd" stroke="#2e2e2e" stroke-width="0.55"/>
<circle cx="119.8" cy="405.84" r="1.9" fill="#cdcdcd" stroke="#2e2e2e" stroke-width="0.55"/>
<circle cx="72.2" cy="406.5" r="1.9" fill="#cdcdcd" stroke="#2e2e2e" stroke-width="0.55"/>
<circle cx="59.61" cy="385.33" r="1.9" fill="#cdcdcd" stroke="#2e2e2e" stroke-width="0.55"/>
<circle cx="77.66" cy="391.12" r="1.9" fill="#cdcdcd" stroke="#2e2e2e" stroke-width="0.55"/>
<circle cx="80.62" cy="403.88" r="1.9" fill="#cdcdcd" stroke="#2e2e2e" stroke-width="0.55"/>
<circle cx="65.19" cy="399.21" r="1.9" fill="#cdcdcd" stroke="#2e2e2e" stroke-width="0.55"/>
<circle cx="112.35" cy="383.97" r="1.9" fill="#cdcdcd" stroke="#2e2e2e" stroke-width="0.55"/>
<circle cx="98.98" cy="399.3" r="1.9" fill="#cdcdcd" stroke="#2e2e2e" stroke-width="0.55"/>
<circle cx="100.86" cy="406.52" r="1.9" fill="#cdcdcd" stroke="#2e2e2e" stroke-width="0.55"/>
<circle cx="94.09" cy="392.42" r="1.9" fill="#cdcdcd" stroke="#2e2e2e" stroke-width="0.55"/>
<circle cx="69.17" cy="385.57" r="1.9" fill="#cdcdcd" stroke="#2e2e2e" stroke-width="0.55"/>
<circle cx="73.85" cy="405.18" r="1.9" fill="#cdcdcd" stroke="#2e2e2e" stroke-width="0.55"/>
<circle cx="65.43" cy="403" r="1.9" fill="#cdcdcd" stroke="#2e2e2e" stroke-width="0.55"/>
<circle cx="83.9" cy="400.9" r="1.9" fill="#cdcdcd" stroke="#2e2e2e" stroke-width="0.55"/>
<circle cx="99.17" cy="400.37" r="1.9" fill="#cdcdcd" stroke="#2e2e2e" stroke-width="0.55"/>
<circle cx="74.45" cy="383.93" r="1.9" fill="#cdcdcd" stroke="#2e2e2e" stroke-width="0.55"/>
<circle cx="98.9" cy="406.69" r="1.9" fill="#cdcdcd" stroke="#2e2e2e" stroke-width="0.55"/>
<circle cx="98.55" cy="396.86" r="1.9" fill="#cdcdcd" stroke="#2e2e2e" stroke-width="0.55"/>
<circle cx="94.7" cy="404.99" r="1.9" fill="#cdcdcd" stroke="#2e2e2e" stroke-width="0.55"/>
<circle cx="72.83" cy="402.36" r="1.9" fill="#cdcdcd" stroke="#2e2e2e" stroke-width="0.55"/>
<circle cx="69.8" cy="405.1" r="1.9" fill="#cdcdcd" stroke="#2e2e2e" stroke-width="0.55"/>
<circle cx="96.97" cy="402.41" r="1.9" fill="#cdcdcd" stroke="#2e2e2e" stroke-width="0.55"/>
<circle cx="66.11" cy="393.71" r="1.9" fill="#cdcdcd" stroke="#2e2e2e" stroke-width="0.55"/>
<circle cx="81.81" cy="405.84" r="1.9" fill="#cdcdcd" stroke="#2e2e2e" stroke-width="0.55"/>
<circle cx="69.09" cy="396.91" r="1.9" fill="#cdcdcd" stroke="#2e2e2e" stroke-width="0.55"/>
<circle cx="89.76" cy="391.2" r="1.9" fill="#cdcdcd" stroke="#2e2e2e" stroke-width="0.55"/>
<circle cx="87.35" cy="399.46" r="1.9" fill="#cdcdcd" stroke="#2e2e2e" stroke-width="0.55"/>
<circle cx="85" cy="393.52" r="1.9" fill="#cdcdcd" stroke="#2e2e2e" stroke-width="0.55"/>
<circle cx="84.3" cy="349.3" r="1.9" fill="#cdcdcd" stroke="#2e2e2e" stroke-width="0.55"/>
<circle cx="77.4" cy="352.4" r="1.9" fill="#cdcdcd" stroke="#2e2e2e" stroke-width="0.55"/>
<circle cx="78.7" cy="357.3" r="1.9" fill="#cdcdcd" stroke="#2e2e2e" stroke-width="0.55"/>
<circle cx="90" cy="357.3" r="1.9" fill="#cdcdcd" stroke="#2e2e2e" stroke-width="0.55"/>
<circle cx="84.4" cy="362.6" r="1.9" fill="#cdcdcd" stroke="#2e2e2e" stroke-width="0.55"/>
<circle cx="87" cy="368.5" r="1.9" fill="#cdcdcd" stroke="#2e2e2e" stroke-width="0.55"/>
<circle cx="91.3" cy="367.3" r="1.9" fill="#cdcdcd" stroke="#2e2e2e" stroke-width="0.55"/>
<circle cx="97" cy="361.5" r="1.9" fill="#cdcdcd" stroke="#2e2e2e" stroke-width="0.55"/>
<circle cx="98.8" cy="365.9" r="1.9" fill="#cdcdcd" stroke="#2e2e2e" stroke-width="0.55"/>
<circle cx="99.7" cy="369.4" r="1.9" fill="#cdcdcd" stroke="#2e2e2e" stroke-width="0.55"/>
<circle cx="65.2" cy="367.3" r="1.9" fill="#cdcdcd" stroke="#2e2e2e" stroke-width="0.55"/>
<circle cx="65.5" cy="376.4" r="1.9" fill="#cdcdcd" stroke="#2e2e2e" stroke-width="0.55"/>
<circle cx="107.2" cy="355.9" r="1.9" fill="#cdcdcd" stroke="#2e2e2e" stroke-width="0.55"/>
<circle cx="109.3" cy="354.3" r="1.9" fill="#cdcdcd" stroke="#2e2e2e" stroke-width="0.55"/>
<circle cx="110.7" cy="358.9" r="1.9" fill="#cdcdcd" stroke="#2e2e2e" stroke-width="0.55"/>
<circle cx="117.2" cy="355" r="1.9" fill="#cdcdcd" stroke="#2e2e2e" stroke-width="0.55"/>
<circle cx="121.2" cy="357.3" r="1.9" fill="#cdcdcd" stroke="#2e2e2e" stroke-width="0.55"/>
<circle cx="121.9" cy="360.6" r="1.9" fill="#cdcdcd" stroke="#2e2e2e" stroke-width="0.55"/>
<circle cx="124.7" cy="362.9" r="1.9" fill="#cdcdcd" stroke="#2e2e2e" stroke-width="0.55"/>
<circle cx="124.7" cy="368.2" r="1.9" fill="#cdcdcd" stroke="#2e2e2e" stroke-width="0.55"/>
<circle cx="121.6" cy="372" r="1.9" fill="#cdcdcd" stroke="#2e2e2e" stroke-width="0.55"/>
<circle cx="112.8" cy="373.4" r="1.9" fill="#cdcdcd" stroke="#2e2e2e" stroke-width="0.55"/>
<circle cx="115.4" cy="376.1" r="1.9" fill="#cdcdcd" stroke="#2e2e2e" stroke-width="0.55"/>
<circle cx="106.2" cy="373.4" r="1.9" fill="#cdcdcd" stroke="#2e2e2e" stroke-width="0.55"/>
<circle cx="77.4" cy="378.3" r="1.9" fill="#cdcdcd" stroke="#2e2e2e" stroke-width="0.55"/>
<circle cx="83.9" cy="375.7" r="1.9" fill="#cdcdcd" stroke="#2e2e2e" stroke-width="0.55"/>
<circle cx="88.3" cy="376.9" r="1.9" fill="#cdcdcd" stroke="#2e2e2e" stroke-width="0.55"/>
<circle cx="92.7" cy="376.1" r="1.9" fill="#cdcdcd" stroke="#2e2e2e" stroke-width="0.55"/>
<circle cx="98.8" cy="374.3" r="1.9" fill="#cdcdcd" stroke="#2e2e2e" stroke-width="0.55"/>
<circle cx="102.3" cy="377.5" r="1.9" fill="#cdcdcd" stroke="#2e2e2e" stroke-width="0.55"/>
<circle cx="130.3" cy="387.1" r="1.9" fill="#cdcdcd" stroke="#2e2e2e" stroke-width="0.55"/>
<circle cx="133.8" cy="384.8" r="1.9" fill="#cdcdcd" stroke="#2e2e2e" stroke-width="0.55"/>
<circle cx="131.2" cy="392.2" r="1.9" fill="#cdcdcd" stroke="#2e2e2e" stroke-width="0.55"/>
<circle cx="136.5" cy="396.6" r="1.9" fill="#cdcdcd" stroke="#2e2e2e" stroke-width="0.55"/>
<circle cx="149.3" cy="387.8" r="1.9" fill="#cdcdcd" stroke="#2e2e2e" stroke-width="0.55"/>
<circle cx="163.6" cy="387.8" r="1.9" fill="#cdcdcd" stroke="#2e2e2e" stroke-width="0.55"/>
<circle cx="125" cy="398.8" r="1.9" fill="#cdcdcd" stroke="#2e2e2e" stroke-width="0.55"/>
<circle cx="107.2" cy="309" r="1.9" fill="#cdcdcd" stroke="#2e2e2e" stroke-width="0.55"/>
<circle cx="71" cy="380" r="1.9" fill="#cdcdcd" stroke="#2e2e2e" stroke-width="0.55"/>
<circle cx="74" cy="379" r="1.9" fill="#cdcdcd" stroke="#2e2e2e" stroke-width="0.55"/>
<circle cx="95" cy="380" r="1.9" fill="#cdcdcd" stroke="#2e2e2e" stroke-width="0.55"/>
<circle cx="103" cy="379.5" r="1.9" fill="#cdcdcd" stroke="#2e2e2e" stroke-width="0.55"/>
<circle cx="118" cy="379" r="1.9" fill="#cdcdcd" stroke="#2e2e2e" stroke-width="0.55"/>
<circle cx="111" cy="380.5" r="1.9" fill="#cdcdcd" stroke="#2e2e2e" stroke-width="0.55"/>
<text x="103" y="306.3" font-size="8.2" fill="#333">560</text>
<circle cx="260.7" cy="199.4" r="1.95" fill="#4e8ff0" stroke="#333" stroke-width="0.45"/>
<circle cx="151.1" cy="266.1" r="1.95" fill="#4e8ff0" stroke="#333" stroke-width="0.45"/>
<circle cx="145.4" cy="269.2" r="1.95" fill="#4e8ff0" stroke="#333" stroke-width="0.45"/>
<circle cx="181.7" cy="280" r="1.95" fill="#2de68e" stroke="#333" stroke-width="0.45"/>
<circle cx="203.2" cy="288.6" r="1.95" fill="#4e8ff0" stroke="#333" stroke-width="0.45"/>
<circle cx="184.2" cy="299.9" r="1.95" fill="#f4a12c" stroke="#333" stroke-width="0.45"/>
<circle cx="147.4" cy="306" r="1.95" fill="#f4a12c" stroke="#333" stroke-width="0.45"/>
<circle cx="127.6" cy="319.9" r="1.95" fill="#f4a12c" stroke="#333" stroke-width="0.45"/>
<circle cx="186.2" cy="321.3" r="1.95" fill="#2de68e" stroke="#333" stroke-width="0.45"/>
<circle cx="153.5" cy="331.5" r="1.95" fill="#2de68e" stroke="#333" stroke-width="0.45"/>
<circle cx="164.4" cy="333.2" r="1.95" fill="#f4a12c" stroke="#333" stroke-width="0.45"/>
<circle cx="232.4" cy="336.2" r="1.95" fill="#f07ef0" stroke="#333" stroke-width="0.45"/>
<circle cx="194.4" cy="343.2" r="1.95" fill="#2de68e" stroke="#333" stroke-width="0.45"/>
<circle cx="147.6" cy="343.4" r="1.95" fill="#f4a12c" stroke="#333" stroke-width="0.45"/>
<circle cx="150" cy="347.5" r="1.95" fill="#f07ef0" stroke="#333" stroke-width="0.45"/>
<circle cx="153.1" cy="348.3" r="1.95" fill="#f07ef0" stroke="#333" stroke-width="0.45"/>
<circle cx="140.3" cy="350" r="1.95" fill="#2de68e" stroke="#333" stroke-width="0.45"/>
<circle cx="144.6" cy="355.4" r="1.95" fill="#f4a12c" stroke="#333" stroke-width="0.45"/>
<circle cx="135.8" cy="358.6" r="1.95" fill="#f07ef0" stroke="#333" stroke-width="0.45"/>
<circle cx="134.1" cy="364.1" r="1.95" fill="#f4a12c" stroke="#333" stroke-width="0.45"/>
<circle cx="154.6" cy="365.2" r="1.95" fill="#f07ef0" stroke="#333" stroke-width="0.45"/>
<circle cx="158.2" cy="372.9" r="1.95" fill="#f07ef0" stroke="#333" stroke-width="0.45"/>
<circle cx="188.3" cy="374.6" r="1.95" fill="#f07ef0" stroke="#333" stroke-width="0.45"/>
<circle cx="129.6" cy="379.5" r="1.95" fill="#f07ef0" stroke="#333" stroke-width="0.45"/>
<circle cx="141.5" cy="377.4" r="1.95" fill="#f07ef0" stroke="#333" stroke-width="0.45"/>
<text x="260.5" y="206.6" font-size="8.2" fill="#333">316</text>
<text x="155.2" y="268" font-size="8.2" fill="#333">312</text>
<text x="150" y="274.8" font-size="8.2" fill="#333">323</text>
<text x="185.8" y="282" font-size="8.2" fill="#333">64</text>
<text x="207.6" y="290.6" font-size="8.2" fill="#333">320</text>
<text x="188.4" y="301" font-size="8.2" fill="#333">588</text>
<text x="145.4" y="301.8" font-size="8.2" fill="#333">591</text>
<text x="131.6" y="322" font-size="8.2" fill="#333">557</text>
<text x="190.2" y="324.2" font-size="8.2" fill="#333">66</text>
<text x="151" y="328" font-size="8.2" fill="#333">81</text>
<text x="168.4" y="335.1" font-size="8.2" fill="#333">561</text>
<text x="236.4" y="338.6" font-size="8.2" fill="#333">213</text>
<text x="198.4" y="345.3" font-size="8.2" fill="#333">82</text>
<text x="141" y="339" font-size="8.2" fill="#333">567</text>
<text x="153.2" y="344.7" font-size="8.2" fill="#333">625</text>
<text x="158" y="353.3" font-size="8.2" fill="#333">655</text>
<text x="137.2" y="346.8" font-size="8.2" fill="#333">77</text>
<text x="149" y="357.4" font-size="8.2" fill="#333">577</text>
<text x="139" y="363.5" font-size="8.2" fill="#333">244</text>
<text x="138" y="370.8" font-size="8.2" fill="#333">564</text>
<text x="159" y="367" font-size="8.2" fill="#333">475</text>
<text x="162" y="375" font-size="8.2" fill="#333">255</text>
<text x="192" y="376.1" font-size="8.2" fill="#333">200</text>
<text x="125" y="376.5" font-size="8.2" fill="#333">106</text>
<text x="145.5" y="382" font-size="8.2" fill="#333">105</text>
<text x="316.8" y="261" font-size="9.3">Env region</text>
<circle cx="322" cy="271.1" r="3.7" fill="#4e8ff0" stroke="#333" stroke-width="0.6"/>
<text x="330" y="274.4" font-size="9.3">V3</text>
<circle cx="322" cy="288.97" r="3.7" fill="#2de68e" stroke="#333" stroke-width="0.6"/>
<text x="330" y="292.27" font-size="9.3">C1</text>
<circle cx="322" cy="306.84" r="3.7" fill="#f4a12c" stroke="#333" stroke-width="0.6"/>
<text x="330" y="310.14" font-size="9.3">HR1</text>
<circle cx="322" cy="324.71" r="3.7" fill="#f07ef0" stroke="#333" stroke-width="0.6"/>
<text x="330" y="328.01" font-size="9.3">Other</text>
<text x="1.2" y="465.3" font-size="12.6" font-weight="bold" fill="#000" stroke="#000" stroke-width="0.5">d</text>
<text x="56.6" y="468.4" font-size="9.6">bnD.8</text>
<text x="212.4" y="468.4" font-size="9.6">bnD.9</text>
<rect x="56.9" y="511.8" width="5.85" height="53.5" fill="#aaaaaa"/>
<rect x="62.75" y="504" width="5.85" height="61.3" fill="#4a4a4a"/>
<line x1="62.75" y1="565.3" x2="62.75" y2="567.7" stroke="#777" stroke-width="0.6"/>
<text x="67.95" y="577.9" font-size="9" text-anchor="end" transform="rotate(-45 67.95 577.9)">WT</text>
<rect x="74.64" y="514.5" width="5.85" height="50.8" fill="#2a7a16"/>
<rect x="80.49" y="506" width="5.85" height="59.3" fill="#79b714"/>
<line x1="80.49" y1="565.3" x2="80.49" y2="567.7" stroke="#777" stroke-width="0.6"/>
<text x="85.69" y="577.9" font-size="9" text-anchor="end" transform="rotate(-45 85.69 577.9)">E64N</text>
<rect x="92.38" y="521" width="5.85" height="44.3" fill="#2a7a16"/>
<rect x="98.23" y="512.7" width="5.85" height="52.6" fill="#79b714"/>
<line x1="98.23" y1="565.3" x2="98.23" y2="567.7" stroke="#777" stroke-width="0.6"/>
<text x="103.43" y="577.9" font-size="9" text-anchor="end" transform="rotate(-45 103.43 577.9)">H66Q</text>
<rect x="110.12" y="513.4" width="5.85" height="51.9" fill="#2a7a16"/>
<rect x="115.97" y="506.2" width="5.85" height="59.1" fill="#79b714"/>
<line x1="115.97" y1="565.3" x2="115.97" y2="567.7" stroke="#777" stroke-width="0.6"/>
<text x="121.17" y="577.9" font-size="9" text-anchor="end" transform="rotate(-45 121.17 577.9)">Q82L</text>
<rect x="127.86" y="515.8" width="5.85" height="49.5" fill="#cc7a07"/>
<rect x="133.71" y="507.2" width="5.85" height="58.1" fill="#f7ab3a"/>
<line x1="133.71" y1="565.3" x2="133.71" y2="567.7" stroke="#777" stroke-width="0.6"/>
<text x="138.91" y="577.9" font-size="9" text-anchor="end" transform="rotate(-45 138.91 577.9)">E560G</text>
<rect x="145.6" y="516.4" width="5.85" height="48.9" fill="#cc7a07"/>
<rect x="151.45" y="508.7" width="5.85" height="56.6" fill="#f7ab3a"/>
<line x1="151.45" y1="565.3" x2="151.45" y2="567.7" stroke="#777" stroke-width="0.6"/>
<text x="156.65" y="577.9" font-size="9" text-anchor="end" transform="rotate(-45 156.65 577.9)">A561T</text>
<rect x="163.34" y="516.4" width="5.85" height="48.9" fill="#cc7a07"/>
<rect x="169.19" y="505.2" width="5.85" height="60.1" fill="#f7ab3a"/>
<line x1="169.19" y1="565.3" x2="169.19" y2="567.7" stroke="#777" stroke-width="0.6"/>
<text x="174.39" y="577.9" font-size="9" text-anchor="end" transform="rotate(-45 174.39 577.9)">K588Y</text>
<rect x="181.08" y="524" width="5.85" height="41.3" fill="#cc7a07"/>
<rect x="186.93" y="515.4" width="5.85" height="49.9" fill="#f7ab3a"/>
<line x1="186.93" y1="565.3" x2="186.93" y2="567.7" stroke="#777" stroke-width="0.6"/>
<text x="192.13" y="577.9" font-size="9" text-anchor="end" transform="rotate(-45 192.13 577.9)">Q591A</text>
<line x1="54.3" y1="473.6" x2="196" y2="473.6" stroke="#666" stroke-width="1" stroke-dasharray="0.9 0.9"/>
<line x1="54.3" y1="504.1" x2="196" y2="504.1" stroke="#555" stroke-width="1" stroke-dasharray="0.9 0.9"/>
<line x1="54.3" y1="512.4" x2="196" y2="512.4" stroke="#aaa" stroke-width="1" stroke-dasharray="0.9 0.9"/>
<line x1="54.3" y1="471.5" x2="54.3" y2="565.3" stroke="#888" stroke-width="0.8"/>
<line x1="54.3" y1="565.3" x2="196" y2="565.3" stroke="#888" stroke-width="0.8"/>
<line x1="51.9" y1="473.8" x2="54.3" y2="473.8" stroke="#888" stroke-width="0.7"/>
<text x="48.3" y="476.8" font-size="8.5" text-anchor="end">10</text>
<line x1="51.9" y1="490.8" x2="54.3" y2="490.8" stroke="#888" stroke-width="0.7"/>
<text x="48.3" y="493.8" font-size="8.5" text-anchor="end">1</text>
<line x1="51.9" y1="509.6" x2="54.3" y2="509.6" stroke="#888" stroke-width="0.7"/>
<text x="48.3" y="512.6" font-size="8.5" text-anchor="end">0.1</text>
<line x1="51.9" y1="528" x2="54.3" y2="528" stroke="#888" stroke-width="0.7"/>
<text x="48.3" y="531" font-size="8.5" text-anchor="end">0.01</text>
<line x1="51.9" y1="546.5" x2="54.3" y2="546.5" stroke="#888" stroke-width="0.7"/>
<text x="48.3" y="549.5" font-size="8.5" text-anchor="end">0.001</text>
<line x1="51.9" y1="565.3" x2="54.3" y2="565.3" stroke="#888" stroke-width="0.7"/>
<text x="48.3" y="568.3" font-size="8.5" text-anchor="end">0.0001</text>
<rect x="213.1" y="520.9" width="5.85" height="44.2" fill="#aaaaaa"/>
<rect x="218.95" y="504.4" width="5.85" height="60.7" fill="#4a4a4a"/>
<line x1="218.95" y1="565.1" x2="218.95" y2="567.5" stroke="#777" stroke-width="0.6"/>
<text x="224.15" y="577.7" font-size="9" text-anchor="end" transform="rotate(-45 224.15 577.7)">WT</text>
<rect x="230.84" y="529.3" width="5.85" height="35.8" fill="#2a7a16"/>
<rect x="236.69" y="517.5" width="5.85" height="47.6" fill="#79b714"/>
<line x1="236.69" y1="565.1" x2="236.69" y2="567.5" stroke="#777" stroke-width="0.6"/>
<text x="241.89" y="577.7" font-size="9" text-anchor="end" transform="rotate(-45 241.89 577.7)">E64N</text>
<rect x="248.58" y="551.2" width="5.85" height="13.9" fill="#2a7a16"/>
<rect x="254.43" y="534.1" width="5.85" height="31" fill="#79b714"/>
<line x1="254.43" y1="565.1" x2="254.43" y2="567.5" stroke="#777" stroke-width="0.6"/>
<text x="259.63" y="577.7" font-size="9" text-anchor="end" transform="rotate(-45 259.63 577.7)">H66Q</text>
<rect x="266.32" y="522.3" width="5.85" height="42.8" fill="#2a7a16"/>
<rect x="272.17" y="509.1" width="5.85" height="56" fill="#79b714"/>
<line x1="272.17" y1="565.1" x2="272.17" y2="567.5" stroke="#777" stroke-width="0.6"/>
<text x="277.37" y="577.7" font-size="9" text-anchor="end" transform="rotate(-45 277.37 577.7)">Q82L</text>
<rect x="284.06" y="538.3" width="5.85" height="26.8" fill="#cc7a07"/>
<rect x="289.91" y="520.9" width="5.85" height="44.2" fill="#f7ab3a"/>
<line x1="289.91" y1="565.1" x2="289.91" y2="567.5" stroke="#777" stroke-width="0.6"/>
<text x="295.11" y="577.7" font-size="9" text-anchor="end" transform="rotate(-45 295.11 577.7)">E560G</text>
<rect x="301.8" y="533.6" width="5.85" height="31.5" fill="#cc7a07"/>
<rect x="307.65" y="517" width="5.85" height="48.1" fill="#f7ab3a"/>
<line x1="307.65" y1="565.1" x2="307.65" y2="567.5" stroke="#777" stroke-width="0.6"/>
<text x="312.85" y="577.7" font-size="9" text-anchor="end" transform="rotate(-45 312.85 577.7)">A561T</text>
<rect x="319.54" y="530.9" width="5.85" height="34.2" fill="#cc7a07"/>
<rect x="325.39" y="515.2" width="5.85" height="49.9" fill="#f7ab3a"/>
<line x1="325.39" y1="565.1" x2="325.39" y2="567.5" stroke="#777" stroke-width="0.6"/>
<text x="330.59" y="577.7" font-size="9" text-anchor="end" transform="rotate(-45 330.59 577.7)">K588Y</text>
<rect x="337.28" y="539.3" width="5.85" height="25.8" fill="#cc7a07"/>
<rect x="343.13" y="523" width="5.85" height="42.1" fill="#f7ab3a"/>
<line x1="343.13" y1="565.1" x2="343.13" y2="567.5" stroke="#777" stroke-width="0.6"/>
<text x="348.33" y="577.7" font-size="9" text-anchor="end" transform="rotate(-45 348.33 577.7)">Q591A</text>
<line x1="210.5" y1="472.3" x2="352" y2="472.3" stroke="#666" stroke-width="1" stroke-dasharray="0.9 0.9"/>
<line x1="210.5" y1="504.4" x2="352" y2="504.4" stroke="#555" stroke-width="1" stroke-dasharray="0.9 0.9"/>
<line x1="210.5" y1="520.5" x2="352" y2="520.5" stroke="#aaa" stroke-width="1" stroke-dasharray="0.9 0.9"/>
<line x1="210.5" y1="471.5" x2="210.5" y2="565.1" stroke="#888" stroke-width="0.8"/>
<line x1="210.5" y1="565.1" x2="352" y2="565.1" stroke="#888" stroke-width="0.8"/>
<line x1="208.1" y1="473.6" x2="210.5" y2="473.6" stroke="#888" stroke-width="0.7"/>
<line x1="208.1" y1="490.7" x2="210.5" y2="490.7" stroke="#888" stroke-width="0.7"/>
<line x1="208.1" y1="509.1" x2="210.5" y2="509.1" stroke="#888" stroke-width="0.7"/>
<line x1="208.1" y1="528" x2="210.5" y2="528" stroke="#888" stroke-width="0.7"/>
<line x1="208.1" y1="546.4" x2="210.5" y2="546.4" stroke="#888" stroke-width="0.7"/>
<line x1="208.1" y1="565" x2="210.5" y2="565" stroke="#888" stroke-width="0.7"/>
<text x="356.6" y="507.8" font-size="10.1">IC<tspan font-size="6.8" dy="2.4">90</tspan><tspan dy="-2.4"> (wt)</tspan></text>
<text x="356.6" y="524.4" font-size="10.1">IC<tspan font-size="6.8" dy="2.4">50</tspan><tspan dy="-2.4"> (wt)</tspan></text>
<text x="7.9" y="518.5" font-size="9.9" text-anchor="middle" transform="rotate(-90 7.9 518.5)">Inhibitory</text>
<text x="18.2" y="518.5" font-size="9.9" text-anchor="middle" transform="rotate(-90 18.2 518.5)">concentration (µM)</text>
<text x="1.2" y="614.5" font-size="12.6" font-weight="bold" fill="#000" stroke="#000" stroke-width="0.5">f</text>
<text x="57.4" y="618.2" font-size="9.6">bnD.8</text>
<text x="212.6" y="618.2" font-size="9.6">bnD.9</text>
<rect x="56.4" y="685.3" width="5.85" height="30.7" fill="#aaaaaa"/>
<rect x="62.25" y="661.3" width="5.85" height="54.7" fill="#4a4a4a"/>
<line x1="62.25" y1="716" x2="62.25" y2="718.4" stroke="#777" stroke-width="0.6"/>
<text x="67.45" y="728.6" font-size="9" text-anchor="end" transform="rotate(-45 67.45 728.6)">WT</text>
<rect x="74.14" y="686.2" width="5.85" height="29.8" fill="#2a7a16"/>
<rect x="79.99" y="632.8" width="5.85" height="83.2" fill="#79b714"/>
<line x1="79.99" y1="716" x2="79.99" y2="718.4" stroke="#777" stroke-width="0.6"/>
<text x="85.19" y="728.6" font-size="9" text-anchor="end" transform="rotate(-45 85.19 728.6)">E64N</text>
<rect x="91.88" y="669.7" width="5.85" height="46.3" fill="#2a7a16"/>
<rect x="97.73" y="630.7" width="5.85" height="85.3" fill="#79b714"/>
<line x1="97.73" y1="716" x2="97.73" y2="718.4" stroke="#777" stroke-width="0.6"/>
<text x="102.93" y="728.6" font-size="9" text-anchor="end" transform="rotate(-45 102.93 728.6)">H66Q</text>
<rect x="109.62" y="683.2" width="5.85" height="32.8" fill="#2a7a16"/>
<rect x="115.47" y="648.4" width="5.85" height="67.6" fill="#79b714"/>
<line x1="115.47" y1="716" x2="115.47" y2="718.4" stroke="#777" stroke-width="0.6"/>
<text x="120.67" y="728.6" font-size="9" text-anchor="end" transform="rotate(-45 120.67 728.6)">Q82L</text>
<rect x="127.36" y="676.6" width="5.85" height="39.4" fill="#cc7a07"/>
<rect x="133.21" y="640.3" width="5.85" height="75.7" fill="#f7ab3a"/>
<line x1="133.21" y1="716" x2="133.21" y2="718.4" stroke="#777" stroke-width="0.6"/>
<text x="138.41" y="728.6" font-size="9" text-anchor="end" transform="rotate(-45 138.41 728.6)">E560G</text>
<rect x="145.1" y="660.3" width="5.85" height="55.7" fill="#cc7a07"/>
<rect x="150.95" y="629" width="5.85" height="87" fill="#f7ab3a"/>
<line x1="150.95" y1="716" x2="150.95" y2="718.4" stroke="#777" stroke-width="0.6"/>
<text x="156.15" y="728.6" font-size="9" text-anchor="end" transform="rotate(-45 156.15 728.6)">A561T</text>
<rect x="162.84" y="681.7" width="5.85" height="34.3" fill="#cc7a07"/>
<rect x="168.69" y="649" width="5.85" height="67" fill="#f7ab3a"/>
<line x1="168.69" y1="716" x2="168.69" y2="718.4" stroke="#777" stroke-width="0.6"/>
<text x="173.89" y="728.6" font-size="9" text-anchor="end" transform="rotate(-45 173.89 728.6)">K588Y</text>
<rect x="180.58" y="707.9" width="5.85" height="8.1" fill="#cc7a07"/>
<rect x="186.43" y="641.9" width="5.85" height="74.1" fill="#f7ab3a"/>
<line x1="186.43" y1="716" x2="186.43" y2="718.4" stroke="#777" stroke-width="0.6"/>
<text x="191.63" y="728.6" font-size="9" text-anchor="end" transform="rotate(-45 191.63 728.6)">Q591A</text>
<line x1="53.6" y1="624.6" x2="196" y2="624.6" stroke="#666" stroke-width="1" stroke-dasharray="0.9 0.9"/>
<line x1="53.6" y1="661.3" x2="196" y2="661.3" stroke="#444" stroke-width="1" stroke-dasharray="0.9 0.9"/>
<line x1="53.6" y1="685.2" x2="196" y2="685.2" stroke="#aaa" stroke-width="1" stroke-dasharray="0.9 0.9"/>
<line x1="53.6" y1="620.7" x2="53.6" y2="716" stroke="#888" stroke-width="0.8"/>
<line x1="53.6" y1="716" x2="196" y2="716" stroke="#888" stroke-width="0.8"/>
<line x1="51.2" y1="625" x2="53.6" y2="625" stroke="#888" stroke-width="0.7"/>
<text x="47.6" y="628" font-size="8.5" text-anchor="end">10</text>
<line x1="51.2" y1="644.4" x2="53.6" y2="644.4" stroke="#888" stroke-width="0.7"/>
<text x="47.6" y="647.4" font-size="8.5" text-anchor="end">1</text>
<line x1="51.2" y1="668.4" x2="53.6" y2="668.4" stroke="#888" stroke-width="0.7"/>
<text x="47.6" y="671.4" font-size="8.5" text-anchor="end">0.1</text>
<line x1="51.2" y1="692.3" x2="53.6" y2="692.3" stroke="#888" stroke-width="0.7"/>
<text x="47.6" y="695.3" font-size="8.5" text-anchor="end">0.01</text>
<line x1="51.2" y1="716" x2="53.6" y2="716" stroke="#888" stroke-width="0.7"/>
<text x="47.6" y="719" font-size="8.5" text-anchor="end">0.001</text>
<rect x="212.8" y="660.4" width="5.85" height="55.4" fill="#aaaaaa"/>
<rect x="218.65" y="643.4" width="5.85" height="72.4" fill="#4a4a4a"/>
<line x1="218.65" y1="715.8" x2="218.65" y2="718.2" stroke="#777" stroke-width="0.6"/>
<text x="223.85" y="728.4" font-size="9" text-anchor="end" transform="rotate(-45 223.85 728.4)">WT</text>
<rect x="230.4" y="664.4" width="5.85" height="51.4" fill="#2a7a16"/>
<rect x="236.25" y="628.1" width="5.85" height="87.7" fill="#79b714"/>
<line x1="236.25" y1="715.8" x2="236.25" y2="718.2" stroke="#777" stroke-width="0.6"/>
<text x="241.45" y="728.4" font-size="9" text-anchor="end" transform="rotate(-45 241.45 728.4)">E64N</text>
<rect x="248" y="652.5" width="5.85" height="63.3" fill="#2a7a16"/>
<rect x="253.85" y="625" width="5.85" height="90.8" fill="#79b714"/>
<line x1="253.85" y1="715.8" x2="253.85" y2="718.2" stroke="#777" stroke-width="0.6"/>
<text x="259.05" y="728.4" font-size="9" text-anchor="end" transform="rotate(-45 259.05 728.4)">H66Q</text>
<rect x="265.6" y="656.8" width="5.85" height="59" fill="#2a7a16"/>
<rect x="271.45" y="625" width="5.85" height="90.8" fill="#79b714"/>
<line x1="271.45" y1="715.8" x2="271.45" y2="718.2" stroke="#777" stroke-width="0.6"/>
<text x="276.65" y="728.4" font-size="9" text-anchor="end" transform="rotate(-45 276.65 728.4)">Q82L</text>
<rect x="283.2" y="651.8" width="5.85" height="64" fill="#cc7a07"/>
<rect x="289.05" y="625" width="5.85" height="90.8" fill="#f7ab3a"/>
<line x1="289.05" y1="715.8" x2="289.05" y2="718.2" stroke="#777" stroke-width="0.6"/>
<text x="294.25" y="728.4" font-size="9" text-anchor="end" transform="rotate(-45 294.25 728.4)">E560G</text>
<rect x="300.8" y="647.3" width="5.85" height="68.5" fill="#cc7a07"/>
<rect x="306.65" y="625" width="5.85" height="90.8" fill="#f7ab3a"/>
<line x1="306.65" y1="715.8" x2="306.65" y2="718.2" stroke="#777" stroke-width="0.6"/>
<text x="311.85" y="728.4" font-size="9" text-anchor="end" transform="rotate(-45 311.85 728.4)">A561T</text>
<rect x="318.4" y="659.9" width="5.85" height="55.9" fill="#cc7a07"/>
<rect x="324.25" y="625" width="5.85" height="90.8" fill="#f7ab3a"/>
<line x1="324.25" y1="715.8" x2="324.25" y2="718.2" stroke="#777" stroke-width="0.6"/>
<text x="329.45" y="728.4" font-size="9" text-anchor="end" transform="rotate(-45 329.45 728.4)">K588Y</text>
<rect x="336" y="665.7" width="5.85" height="50.1" fill="#cc7a07"/>
<rect x="341.85" y="635" width="5.85" height="80.8" fill="#f7ab3a"/>
<line x1="341.85" y1="715.8" x2="341.85" y2="718.2" stroke="#777" stroke-width="0.6"/>
<text x="347.05" y="728.4" font-size="9" text-anchor="end" transform="rotate(-45 347.05 728.4)">Q591A</text>
<line x1="210.4" y1="625.2" x2="350.3" y2="625.2" stroke="#666" stroke-width="1" stroke-dasharray="0.9 0.9"/>
<line x1="210.4" y1="643.3" x2="350.3" y2="643.3" stroke="#444" stroke-width="1" stroke-dasharray="0.9 0.9"/>
<line x1="210.4" y1="660.7" x2="350.3" y2="660.7" stroke="#aaa" stroke-width="1" stroke-dasharray="0.9 0.9"/>
<line x1="210.4" y1="625.5" x2="210.4" y2="715.8" stroke="#888" stroke-width="0.8"/>
<line x1="210.4" y1="715.8" x2="350.3" y2="715.8" stroke="#888" stroke-width="0.8"/>
<line x1="208" y1="626.6" x2="210.4" y2="626.6" stroke="#888" stroke-width="0.7"/>
<line x1="208" y1="643.3" x2="210.4" y2="643.3" stroke="#888" stroke-width="0.7"/>
<line x1="208" y1="661.3" x2="210.4" y2="661.3" stroke="#888" stroke-width="0.7"/>
<line x1="208" y1="679.7" x2="210.4" y2="679.7" stroke="#888" stroke-width="0.7"/>
<line x1="208" y1="697.7" x2="210.4" y2="697.7" stroke="#888" stroke-width="0.7"/>
<line x1="208" y1="715.9" x2="210.4" y2="715.9" stroke="#888" stroke-width="0.7"/>
<text x="356.6" y="647.6" font-size="10.1">IC<tspan font-size="6.8" dy="2.4">90</tspan><tspan dy="-2.4"> (wt)</tspan></text>
<text x="356.6" y="665.2" font-size="10.1">IC<tspan font-size="6.8" dy="2.4">50</tspan><tspan dy="-2.4"> (wt)</tspan></text>
<text x="7.9" y="668" font-size="9.9" text-anchor="middle" transform="rotate(-90 7.9 668)">Inhibitory</text>
<text x="18.2" y="668" font-size="9.9" text-anchor="middle" transform="rotate(-90 18.2 668)">concentration (µM)</text>
<text x="350.2" y="687.4" font-size="9.6">IC<tspan font-size="6.4" dy="2.2">50</tspan></text>
<text x="375.3" y="687.4" font-size="9.6">IC<tspan font-size="6.4" dy="2.2">90</tspan></text>
<rect x="359.5" y="694.3" width="7.4" height="3.6" fill="#aaaaaa"/>
<rect x="375.5" y="694.3" width="7.4" height="3.6" fill="#4a4a4a"/>
<text x="387.4" y="699.5" font-size="9.6">Wild-type</text>
<rect x="359.5" y="706.2" width="7.4" height="3.6" fill="#2a7a16"/>
<rect x="375.5" y="706.2" width="7.4" height="3.6" fill="#79b714"/>
<text x="387.4" y="711.4" font-size="9.6">C1 mutants</text>
<rect x="359.5" y="718.1" width="7.4" height="3.6" fill="#cc7a07"/>
<rect x="375.5" y="718.1" width="7.4" height="3.6" fill="#f7ab3a"/>
<text x="387.4" y="723.3" font-size="9.6">HR1 mutants</text>
<text x="425.2" y="465.2" font-size="12.6" font-weight="bold" fill="#000" stroke="#000" stroke-width="0.5">e</text>
<text x="466.4" y="492.8" font-size="10" text-decoration="underline">Effect of Env mutations on inhibitor neutralization</text>
<text x="487.5" y="515" font-size="9.3" text-anchor="middle">E64N</text>
<text x="517.5" y="515" font-size="9.3" text-anchor="middle">H66Q</text>
<text x="547.5" y="515" font-size="9.3" text-anchor="middle">Q82L</text>
<text x="577.5" y="515" font-size="9.3" text-anchor="middle">E560G</text>
<text x="607.5" y="515" font-size="9.3" text-anchor="middle">K588Y</text>
<text x="637.5" y="515" font-size="9.3" text-anchor="middle">A561T</text>
<text x="667.5" y="515" font-size="9.3" text-anchor="middle">Q591A</text>
<text x="424.5" y="529.68" font-size="9.9">bnD.8</text>
<rect x="472.5" y="518.8" width="30.3" height="17.47" fill="#c8cadb"/>
<text x="487.5" y="529.68" font-size="9.9" text-anchor="middle">0.76</text>
<rect x="502.5" y="518.8" width="30.3" height="17.47" fill="#7074a5"/>
<text x="517.5" y="529.68" font-size="9.9" text-anchor="middle">0.34</text>
<rect x="532.5" y="518.8" width="30.3" height="17.47" fill="#dfdfe9"/>
<text x="547.5" y="529.68" font-size="9.9" text-anchor="middle">0.88</text>
<rect x="562.5" y="518.8" width="30.3" height="17.47" fill="#b3b6cf"/>
<text x="577.5" y="529.68" font-size="9.9" text-anchor="middle">0.65</text>
<rect x="592.5" y="518.8" width="30.3" height="17.47" fill="#a6a9c8"/>
<text x="607.5" y="529.68" font-size="9.9" text-anchor="middle">0.59</text>
<rect x="622.5" y="518.8" width="30.3" height="17.47" fill="#a6a9c8"/>
<text x="637.5" y="529.68" font-size="9.9" text-anchor="middle">0.59</text>
<rect x="652.5" y="518.8" width="30.3" height="17.47" fill="#5f649c"/>
<text x="667.5" y="529.68" font-size="9.9" text-anchor="middle">0.24</text>
<text x="424.5" y="546.85" font-size="9.9">bnD.9</text>
<rect x="472.5" y="535.97" width="30.3" height="17.47" fill="#7377a7"/>
<text x="487.5" y="546.85" font-size="9.9" text-anchor="middle">0.36</text>
<rect x="502.5" y="535.97" width="30.3" height="17.47" fill="#303778"/>
<text x="517.5" y="546.85" font-size="9.9" text-anchor="middle">0.03</text>
<rect x="532.5" y="535.97" width="30.3" height="17.47" fill="#e7e7ee"/>
<text x="547.5" y="546.85" font-size="9.9" text-anchor="middle">0.93</text>
<rect x="562.5" y="535.97" width="30.3" height="17.47" fill="#474d8e"/>
<text x="577.5" y="546.85" font-size="9.9" text-anchor="middle">0.12</text>
<rect x="592.5" y="535.97" width="30.3" height="17.47" fill="#6a6ea2"/>
<text x="607.5" y="546.85" font-size="9.9" text-anchor="middle">0.30</text>
<rect x="622.5" y="535.97" width="30.3" height="17.47" fill="#5b609a"/>
<text x="637.5" y="546.85" font-size="9.9" text-anchor="middle">0.22</text>
<rect x="652.5" y="535.97" width="30.3" height="17.47" fill="#474d8e"/>
<text x="667.5" y="546.85" font-size="9.9" text-anchor="middle">0.12</text>
<text x="424.5" y="564.02" font-size="9.9">CD4-IgG2</text>
<rect x="472.5" y="553.14" width="30.3" height="17.47" fill="#ecd2e6"/>
<text x="487.5" y="564.02" font-size="9.9" text-anchor="middle">1.81</text>
<rect x="502.5" y="553.14" width="30.3" height="17.47" fill="#d49ccb"/>
<text x="517.5" y="564.02" font-size="9.9" text-anchor="middle">3.01</text>
<rect x="532.5" y="553.14" width="30.3" height="17.47" fill="#4c5191"/>
<text x="547.5" y="564.02" font-size="9.9" text-anchor="middle">0.14</text>
<rect x="562.5" y="553.14" width="30.3" height="17.47" fill="#686da1"/>
<text x="577.5" y="564.02" font-size="9.9" text-anchor="middle">0.29</text>
<rect x="592.5" y="553.14" width="30.3" height="17.47" fill="#6b70a3"/>
<text x="607.5" y="564.02" font-size="9.9" text-anchor="middle">0.31</text>
<rect x="622.5" y="553.14" width="30.3" height="17.47" fill="#9498bc"/>
<text x="637.5" y="564.02" font-size="9.9" text-anchor="middle">0.50</text>
<rect x="652.5" y="553.14" width="30.3" height="17.47" fill="#61669d"/>
<text x="667.5" y="564.02" font-size="9.9" text-anchor="middle">0.25</text>
<text x="424.5" y="581.19" font-size="9.9">VRC01</text>
<rect x="472.5" y="570.31" width="30.3" height="17.47" fill="#474d8e"/>
<text x="487.5" y="581.19" font-size="9.9" text-anchor="middle">0.12</text>
<rect x="502.5" y="570.31" width="30.3" height="17.47" fill="#42488a"/>
<text x="517.5" y="581.19" font-size="9.9" text-anchor="middle">0.10</text>
<rect x="532.5" y="570.31" width="30.3" height="17.47" fill="#f4f0f5"/>
<text x="547.5" y="581.19" font-size="9.9" text-anchor="middle">1.07</text>
<rect x="562.5" y="570.31" width="30.3" height="17.47" fill="#a9abc9"/>
<text x="577.5" y="581.19" font-size="9.9" text-anchor="middle">0.60</text>
<rect x="592.5" y="570.31" width="30.3" height="17.47" fill="#c5c7d9"/>
<text x="607.5" y="581.19" font-size="9.9" text-anchor="middle">0.74</text>
<rect x="622.5" y="570.31" width="30.3" height="17.47" fill="#9a9dc0"/>
<text x="637.5" y="581.19" font-size="9.9" text-anchor="middle">0.53</text>
<rect x="652.5" y="570.31" width="30.3" height="17.47" fill="#e6e6ed"/>
<text x="667.5" y="581.19" font-size="9.9" text-anchor="middle">0.92</text>
<text x="424.5" y="598.37" font-size="9.9">VRC26.09</text>
<rect x="472.5" y="587.48" width="30.3" height="17.47" fill="#454b8c"/>
<text x="487.5" y="598.37" font-size="9.9" text-anchor="middle">0.11</text>
<rect x="502.5" y="587.48" width="30.3" height="17.47" fill="#2e3474"/>
<text x="517.5" y="598.37" font-size="9.9" text-anchor="middle">0.02</text>
<rect x="532.5" y="587.48" width="30.3" height="17.47" fill="#cd83c3"/>
<text x="547.5" y="598.37" font-size="9.9" text-anchor="middle">3.66</text>
<rect x="562.5" y="587.48" width="30.3" height="17.47" fill="#eed7e9"/>
<text x="577.5" y="598.37" font-size="9.9" text-anchor="middle">1.66</text>
<rect x="592.5" y="587.48" width="30.3" height="17.47" fill="#d08fc7"/>
<text x="607.5" y="598.37" font-size="9.9" text-anchor="middle">3.34</text>
<rect x="622.5" y="587.48" width="30.3" height="17.47" fill="#daaad2"/>
<text x="637.5" y="598.37" font-size="9.9" text-anchor="middle">2.64</text>
<rect x="652.5" y="587.48" width="30.3" height="17.47" fill="#ddb0d5"/>
<text x="667.5" y="598.37" font-size="9.9" text-anchor="middle">2.50</text>
<text x="424.5" y="615.53" font-size="9.9">PGT135</text>
<rect x="472.5" y="604.65" width="30.3" height="17.47" fill="#9ea1c3"/>
<text x="487.5" y="615.53" font-size="9.9" text-anchor="middle">0.55</text>
<rect x="502.5" y="604.65" width="30.3" height="17.47" fill="#878bb4"/>
<text x="517.5" y="615.53" font-size="9.9" text-anchor="middle">0.44</text>
<rect x="532.5" y="604.65" width="30.3" height="17.47" fill="#c5c7d9"/>
<text x="547.5" y="615.53" font-size="9.9" text-anchor="middle">0.74</text>
<rect x="562.5" y="604.65" width="30.3" height="17.47" fill="#e1e1ea"/>
<text x="577.5" y="615.53" font-size="9.9" text-anchor="middle">0.89</text>
<rect x="592.5" y="604.65" width="30.3" height="17.47" fill="#d4d5e2"/>
<text x="607.5" y="615.53" font-size="9.9" text-anchor="middle">0.82</text>
<rect x="622.5" y="604.65" width="30.3" height="17.47" fill="#f4f3f6"/>
<text x="637.5" y="615.53" font-size="9.9" text-anchor="middle">1.01</text>
<rect x="652.5" y="604.65" width="30.3" height="17.47" fill="#f4f0f5"/>
<text x="667.5" y="615.53" font-size="9.9" text-anchor="middle">1.08</text>
<text x="424.5" y="632.7" font-size="9.9">10E8</text>
<rect x="472.5" y="621.82" width="30.3" height="17.47" fill="#3f4587"/>
<text x="487.5" y="632.7" font-size="9.9" text-anchor="middle">0.08</text>
<rect x="502.5" y="621.82" width="30.3" height="17.47" fill="#3c4385"/>
<text x="517.5" y="632.7" font-size="9.9" text-anchor="middle">0.07</text>
<rect x="532.5" y="621.82" width="30.3" height="17.47" fill="#6b70a3"/>
<text x="547.5" y="632.7" font-size="9.9" text-anchor="middle">0.31</text>
<rect x="562.5" y="621.82" width="30.3" height="17.47" fill="#3a4082"/>
<text x="577.5" y="632.7" font-size="9.9" text-anchor="middle">0.06</text>
<rect x="592.5" y="621.82" width="30.3" height="17.47" fill="#3a4082"/>
<text x="607.5" y="632.7" font-size="9.9" text-anchor="middle">0.06</text>
<rect x="622.5" y="621.82" width="30.3" height="17.47" fill="#303778"/>
<text x="637.5" y="632.7" font-size="9.9" text-anchor="middle">0.03</text>
<rect x="652.5" y="621.82" width="30.3" height="17.47" fill="#a0a3c4"/>
<text x="667.5" y="632.7" font-size="9.9" text-anchor="middle">0.56</text>
<rect x="472.5" y="518.8" width="210" height="120.19" fill="none" stroke="#111" stroke-width="0.9"/>
<line x1="424" y1="553.14" x2="682.5" y2="553.14" stroke="#111" stroke-width="0.9"/>
<rect x="527" y="647.2" width="114.4" height="17.5" fill="url(#cbar)" stroke="#666" stroke-width="0.5"/>
<text x="483.2" y="659.2" font-size="9.7">Sensitive</text>
<text x="645.3" y="659.2" font-size="9.7">Resistant</text>
<text x="527.4" y="675.6" font-size="8.4" text-anchor="middle">0.01</text>
<text x="565.2" y="675.6" font-size="8.4" text-anchor="middle">0.1</text>
<text x="603.5" y="675.6" font-size="8.4" text-anchor="middle">1</text>
<text x="641.4" y="675.6" font-size="8.4" text-anchor="middle">10</text>
<text x="586.5" y="690.5" font-size="9.7" text-anchor="middle">Fold change IC<tspan font-size="6.5" dy="2.2">50</tspan></text>
<text x="586.6" y="701.6" font-size="9.7" text-anchor="middle">(mutation/wild-type)</text>
<text x="1.2" y="770.6" font-size="12.6" font-weight="bold" fill="#000" stroke="#000" stroke-width="0.5">g</text>
<line x1="87.5" y1="767.5" x2="87.5" y2="900.2" stroke="#666" stroke-width="0.8"/>
<line x1="96.3" y1="906.9" x2="279.6" y2="906.9" stroke="#777" stroke-width="0.8"/>
<line x1="96.3" y1="903.9" x2="96.3" y2="906.9" stroke="#777" stroke-width="0.7"/>
<text x="96.3" y="920.6" font-size="8.2" text-anchor="middle">0</text>
<line x1="132.96" y1="903.9" x2="132.96" y2="906.9" stroke="#777" stroke-width="0.7"/>
<text x="132.96" y="920.6" font-size="8.2" text-anchor="middle">20</text>
<line x1="169.62" y1="903.9" x2="169.62" y2="906.9" stroke="#777" stroke-width="0.7"/>
<text x="169.62" y="920.6" font-size="8.2" text-anchor="middle">40</text>
<line x1="206.28" y1="903.9" x2="206.28" y2="906.9" stroke="#777" stroke-width="0.7"/>
<text x="206.28" y="920.6" font-size="8.2" text-anchor="middle">60</text>
<line x1="242.94" y1="903.9" x2="242.94" y2="906.9" stroke="#777" stroke-width="0.7"/>
<text x="242.94" y="920.6" font-size="8.2" text-anchor="middle">80</text>
<line x1="279.6" y1="903.9" x2="279.6" y2="906.9" stroke="#777" stroke-width="0.7"/>
<text x="279.6" y="920.6" font-size="8.2" text-anchor="middle">100</text>
<text x="187.8" y="934.6" font-size="9.5" text-anchor="middle">% JR-FL gp120 shedding</text>
<line x1="84" y1="778.4" x2="87.5" y2="778.4" stroke="#666" stroke-width="0.7"/>
<rect x="96.3" y="773.4" width="44.54" height="10" fill="#4f9bf2" stroke="#333" stroke-width="0.5"/>
<text x="79.2" y="781" font-size="8.4" text-anchor="end" textLength="42.7" lengthAdjust="spacingAndGlyphs">bnD.9_L15D</text>
<line x1="84" y1="794.26" x2="87.5" y2="794.26" stroke="#666" stroke-width="0.7"/>
<rect x="96.3" y="789.26" width="70.2" height="10" fill="#4f9bf2" stroke="#333" stroke-width="0.5"/>
<text x="79.2" y="796.86" font-size="8.4" text-anchor="end">bnD.9</text>
<line x1="84" y1="810.12" x2="87.5" y2="810.12" stroke="#666" stroke-width="0.7"/>
<rect x="96.3" y="805.12" width="39.23" height="10" fill="#4f9bf2" stroke="#333" stroke-width="0.5"/>
<text x="79.2" y="812.72" font-size="8.4" text-anchor="end">bnD.8_trc</text>
<line x1="84" y1="825.98" x2="87.5" y2="825.98" stroke="#666" stroke-width="0.7"/>
<rect x="96.3" y="820.98" width="45.09" height="10" fill="#4f9bf2" stroke="#333" stroke-width="0.5"/>
<text x="79.2" y="828.58" font-size="8.4" text-anchor="end">bnD.8</text>
<line x1="84" y1="841.84" x2="87.5" y2="841.84" stroke="#666" stroke-width="0.7"/>
<rect x="96.3" y="836.84" width="149.39" height="10" fill="#df6f00" stroke="#333" stroke-width="0.5"/>
<text x="79.2" y="844.44" font-size="8.4" text-anchor="end">bnD.3</text>
<line x1="84" y1="857.7" x2="87.5" y2="857.7" stroke="#666" stroke-width="0.7"/>
<rect x="96.3" y="852.7" width="163.14" height="10" fill="#000" stroke="#333" stroke-width="0.5"/>
<text x="79.2" y="860.3" font-size="8.4" text-anchor="end">2F5</text>
<line x1="84" y1="873.56" x2="87.5" y2="873.56" stroke="#666" stroke-width="0.7"/>
<rect x="96.3" y="868.56" width="168.27" height="10" fill="#000" stroke="#333" stroke-width="0.5"/>
<line x1="84" y1="889.42" x2="87.5" y2="889.42" stroke="#666" stroke-width="0.7"/>
<text x="79.2" y="892.02" font-size="8.4" text-anchor="end">No inhibitor</text>
<text x="79.2" y="876.16" font-size="8.4" text-anchor="end">2F5 (100 µg ml<tspan font-size="5.6" dy="-3">−1</tspan><tspan dy="3">)</tspan></text>
<circle cx="140.2" cy="775.7" r="2.5" fill="#fff" stroke="#111" stroke-width="0.8"/>
<circle cx="138.4" cy="781" r="2.5" fill="#fff" stroke="#111" stroke-width="0.8"/>
<circle cx="131.1" cy="793.9" r="2.5" fill="#fff" stroke="#111" stroke-width="0.8"/>
<circle cx="177" cy="793.9" r="2.5" fill="#fff" stroke="#111" stroke-width="0.8"/>
<circle cx="191.7" cy="793.9" r="2.5" fill="#fff" stroke="#111" stroke-width="0.8"/>
<circle cx="112.6" cy="810.2" r="2.5" fill="#fff" stroke="#111" stroke-width="0.8"/>
<circle cx="158.8" cy="810.2" r="2.5" fill="#fff" stroke="#111" stroke-width="0.8"/>
<circle cx="127.7" cy="823.4" r="2.5" fill="#fff" stroke="#111" stroke-width="0.8"/>
<circle cx="125.8" cy="828.4" r="2.5" fill="#fff" stroke="#111" stroke-width="0.8"/>
<circle cx="171.6" cy="825.9" r="2.5" fill="#fff" stroke="#111" stroke-width="0.8"/>
<circle cx="246.6" cy="839.1" r="2.5" fill="#fff" stroke="#111" stroke-width="0.8"/>
<circle cx="245.1" cy="844.7" r="2.5" fill="#fff" stroke="#111" stroke-width="0.8"/>
<circle cx="257.6" cy="854.8" r="2.5" fill="#fff" stroke="#111" stroke-width="0.8"/>
<circle cx="254.5" cy="860.4" r="2.5" fill="#fff" stroke="#111" stroke-width="0.8"/>
<circle cx="267" cy="857.6" r="2.5" fill="#fff" stroke="#111" stroke-width="0.8"/>
<circle cx="263.3" cy="870.8" r="2.5" fill="#fff" stroke="#111" stroke-width="0.8"/>
<circle cx="259.5" cy="876.1" r="2.5" fill="#fff" stroke="#111" stroke-width="0.8"/>
<circle cx="270.8" cy="873.6" r="2.5" fill="#fff" stroke="#111" stroke-width="0.8"/>
<circle cx="96.3" cy="886.7" r="2.5" fill="#fff" stroke="#111" stroke-width="0.8"/>
<circle cx="96.3" cy="891.7" r="2.5" fill="#fff" stroke="#111" stroke-width="0.8"/>
<path d="M33.2 771.2H30.6V862.9H33.2" fill="none" stroke="#555" stroke-width="0.8"/>
<text x="24.4" y="816.8" font-size="7.8" text-anchor="middle" transform="rotate(-90 24.4 816.8)">Dosed at 20× IC<tspan font-size="5.4" dy="1.6">50</tspan><tspan dy="-1.6"> JR-FL</tspan></text>
<text x="399.2" y="198.2" font-size="12.6" font-weight="bold" fill="#000" stroke="#000" stroke-width="0.5">c</text>
<path d="M468.6 193Q472.2 191.1 474.2 191.8Q476.1 192.6 478.2 192.7Q480.3 192.9 483.1 193.6Q485.8 194.3 488.2 195.7Q490.5 197.2 491.2 199.4Q491.9 201.7 493.7 203.3Q495.5 204.8 497.2 208.3Q499 211.9 501.5 211.7Q504 211.5 506.2 210.1Q508.5 208.7 510.9 209Q513.3 209.3 515.3 208.3Q517.3 207.2 519.5 207Q521.7 206.8 523.5 205.9Q525.2 205 528.1 203.6Q531 202.2 534.9 202.2Q538.9 202.1 540.6 203.4Q542.4 204.6 543.7 206.7Q544.9 208.8 545.6 210.8Q546.3 212.7 546.6 214.7Q546.9 216.7 546.3 218.9Q545.7 221.1 547.2 223Q548.6 224.9 548.5 227.4Q548.5 229.9 548.2 232.5Q547.9 235 547.6 237.4Q547.4 239.9 548.3 242.3Q549.1 244.8 548.1 246.8Q547.1 248.9 547.1 251.2Q547.1 253.5 546.9 255.7Q546.8 258 546.1 260Q545.5 262.1 545.6 264.5Q545.7 266.8 544.7 269Q543.7 271.2 544.1 273.6Q544.6 276 543.8 278.2Q543.1 280.5 543.6 282.6Q544.2 284.7 544.3 286.8Q544.5 288.9 543.5 291.1Q542.6 293.3 542.9 295.4Q543.2 297.4 543.6 299.5Q544 301.5 545.4 303.4Q546.8 305.3 546.2 307.5Q545.6 309.7 546.2 311.7Q546.7 313.7 546.5 315.8Q546.2 317.9 547.1 319.8Q548.1 321.7 548.5 323.8Q549 325.9 549.5 327.9Q550.1 329.9 551.1 331.8Q552.1 333.7 552.7 335.7Q553.3 337.7 554.4 339.5Q555.5 341.4 555.8 343.5Q556.1 345.6 557 347.3Q557.9 349 558.8 351.1Q559.7 353.1 560.9 355Q562.1 356.9 562.7 359.2Q563.2 361.4 563.5 363.7Q563.8 366.1 565.8 367.7Q567.8 369.3 568.7 371.1Q569.6 372.9 570.3 374.8Q571 376.7 571.2 378.8Q571.5 380.9 572.5 382.7Q573.4 384.6 573.3 386.8Q573.1 389 574.7 390.7Q576.2 392.5 576.4 394.6Q576.6 396.7 576.8 398.8Q577 401 577.2 403Q577.5 405.1 579.1 406.9Q580.7 408.6 581.2 410.6Q581.8 412.6 580.8 414.8Q579.8 417.1 580.4 419.9Q581 422.8 578.9 422.2Q576.9 421.6 574.8 421.2Q572.7 420.8 570.6 421Q568.6 421.2 566.5 421.9Q564.4 422.7 562.4 422.8Q560.3 423 558.2 421.7Q556.1 420.4 554 421.3Q551.8 422.2 549.8 420.9Q547.9 419.7 545.5 420.3Q543.2 421 541.2 420Q539.2 419.1 537.3 419.5Q535.5 420 533.3 420.6Q531.2 421.3 528.9 421.1Q526.5 420.8 523.9 422.1Q521.2 423.3 519.3 421.5Q517.4 419.7 515.3 418.7Q513.3 417.6 510.7 417Q508.1 416.3 506.4 414.2Q504.7 412.1 502.3 411Q500 409.9 497.3 411.2Q494.7 412.5 491.7 413.8Q488.7 415.1 486.7 413.8Q484.7 412.4 482.6 411.6Q480.5 410.8 477.4 410.8Q474.2 410.9 473.8 408.2Q473.4 405.4 471.4 403.6Q469.3 401.7 468.2 399.3Q467.1 396.9 466.9 394.6Q466.6 392.2 465.5 390.3Q464.4 388.3 463.2 386.1Q462.1 383.9 462.1 381.9Q462 379.9 462.3 377.9Q462.5 375.9 462.8 374Q463 372.2 462.4 369.5Q461.8 366.7 460.9 364.4Q460.1 362.1 459.4 359.7Q458.8 357.2 457.6 355Q456.5 352.8 454.8 350.9Q453.2 349 452.6 346.5Q452 344 450.1 343.3Q448.2 342.5 446 342.7Q443.7 342.8 442 341.1Q440.2 339.5 439.1 337.6Q437.9 335.7 437.6 333.4Q437.2 331.1 435.5 329.5Q433.9 327.9 432.6 326.1Q431.3 324.3 430.9 322Q430.6 319.7 428.8 318.1Q426.9 316.5 425.9 314.5Q424.9 312.6 424.7 310.2Q424.5 307.8 423.1 306.5Q421.8 305.2 418.7 304.4Q415.6 303.6 413.4 302.4Q411.2 301.1 409.4 299.1Q407.6 297 406.9 294.6Q406.2 292.1 406 289.6Q405.8 287.1 406.6 284.4Q407.5 281.6 406.2 279.9Q404.9 278.2 402.8 276.6Q400.6 275.1 400.4 270.6Q400.2 266.1 402.9 265.5Q405.7 264.9 407.5 263.4Q409.3 261.9 409.3 259.2Q409.4 256.4 410.1 253.6Q410.9 250.8 412.8 249.5Q414.8 248.1 416.8 247Q418.8 245.8 420.1 244.1Q421.3 242.4 422.4 240.5Q423.4 238.6 425.1 237.3Q426.8 236 427 233.7Q427.3 231.4 427.1 229.1Q426.8 226.7 428.4 224.7Q429.9 222.6 429.7 219.8Q429.5 217.1 431.2 215.8Q432.9 214.6 435.1 214.2Q437.2 213.8 439.1 212.9Q441 212 443.2 210.8Q445.5 209.5 448 210Q450.5 210.5 452.9 210.2Q455.3 209.9 457.3 209.3Q459.4 208.8 459.8 206.3Q460.3 203.8 462 201.8Q463.7 199.8 464.4 197.4Q465 195 468.6 193Z" fill="#d6d6d6"/>
<g clip-path="url(#surfclip)">
<path d="M454.3 343.4Q456.6 342.7 458.7 341.7Q460.9 340.7 463.2 340.2Q465.5 339.6 467.8 339Q470.1 338.3 472.1 337.6Q474.2 337 476.3 336.1Q478.4 335.2 480.5 335Q482.7 334.8 484.8 334.4Q487 334.1 489.2 334.3Q491.4 334.4 493.5 333.8Q495.6 333.1 497.8 333Q500 332.9 502.1 332.7Q504.3 332.4 506.5 332.1Q508.6 331.8 510.7 331.3Q512.9 330.9 514.9 329.8Q516.9 328.8 519.1 328.5Q521.2 328.3 523.4 327.9Q525.5 327.6 527.8 327.3Q530.1 326.9 532.3 327.7Q534.5 328.6 536.8 328.7Q539 328.8 541.3 328.8Q543.6 328.7 546.2 329.2Q548.9 329.6 549.8 331.6Q550.7 333.5 551.6 335.5Q552.4 337.5 552.5 339.8Q552.5 342.1 553.8 343.9Q555.1 345.7 555.9 347.7Q556.8 349.7 557.3 351.7Q557.8 353.7 558.2 355.8Q558.6 357.8 559.5 359.7Q560.4 361.5 560.8 363.6Q561.1 365.6 562.5 367.3Q564 369 564.6 371Q565.2 372.9 565.5 375Q565.9 377 566.4 379Q566.8 381.1 568 382.7Q569.2 384.4 569.9 386.6Q570.6 388.7 571.9 390.6Q573.1 392.4 574.1 394.4Q575.1 396.5 575.8 398.6Q576.5 400.8 577.4 402.8Q578.4 404.9 578.9 406.9Q579.5 408.9 579.7 410.9Q579.9 412.9 580 415Q580.1 417 580.6 419.1Q581 421.1 578.9 421.6Q576.9 422.1 574.8 421.4Q572.7 420.6 570.6 420.6Q568.6 420.6 566.5 421.2Q564.4 421.8 562.4 421.4Q560.3 421.1 558.2 421.3Q556.1 421.6 554 421.5Q551.9 421.5 549.8 421Q547.7 420.5 545.5 420.7Q543.2 421 541.3 419.8Q539.3 418.7 537.2 418.5Q535.1 418.3 532.9 418.6Q530.7 418.9 528.6 419.9Q526.5 420.8 524.2 420.9Q522 421.1 519.7 420.4Q517.4 419.7 514.9 419.3Q512.5 418.9 510.5 417.2Q508.6 415.5 506.3 414.3Q504 413.2 502.2 412.2Q500.4 411.2 497.4 411.5Q494.4 411.8 491.8 412.7Q489.1 413.7 486.9 413.2Q484.7 412.7 482.3 412.5Q480 412.3 477.7 411.3Q475.3 410.3 474.5 407.8Q473.7 405.3 472.4 403Q471.2 400.8 470.1 398.4Q469.1 396 467.8 394.1Q466.6 392.2 466 390Q465.3 387.8 463.7 385.9Q462.1 383.9 462.1 381.9Q462 379.9 462.2 377.9Q462.3 375.9 462.6 374Q463 372.2 462.3 369.5Q461.6 366.8 462 363.8Q462.4 360.8 460.9 358.8Q459.4 356.8 457.6 355Q455.8 353.2 454.7 351Q453.6 348.8 452.8 346.4Q452 344 454.3 343.4Z" fill="#cbcbcb"/>
<ellipse cx="513.4" cy="362.6" rx="3.5" ry="1.8" fill="#c2c2c2" opacity="0.5"/>
<ellipse cx="484.7" cy="409" rx="3.1" ry="1.7" fill="#eaeaea" opacity="0.5"/>
<ellipse cx="485.4" cy="248.7" rx="2.9" ry="1.8" fill="#c2c2c2" opacity="0.5"/>
<ellipse cx="533.1" cy="285.9" rx="2" ry="1.1" fill="#c6c6c6" opacity="0.5"/>
<ellipse cx="545.1" cy="223.9" rx="3" ry="1.7" fill="#eaeaea" opacity="0.5"/>
<ellipse cx="577" cy="193.2" rx="3.4" ry="3.2" fill="#eaeaea" opacity="0.5"/>
<ellipse cx="452.7" cy="413.1" rx="2.8" ry="1.7" fill="#eaeaea" opacity="0.5"/>
<ellipse cx="576.3" cy="237.3" rx="3.9" ry="2.5" fill="#c6c6c6" opacity="0.5"/>
<ellipse cx="465.7" cy="230.2" rx="1.9" ry="1.2" fill="#e6e6e6" opacity="0.5"/>
<ellipse cx="548.8" cy="326.8" rx="3" ry="1.6" fill="#e2e2e2" opacity="0.5"/>
<ellipse cx="464.7" cy="262.4" rx="3.2" ry="2.4" fill="#eaeaea" opacity="0.5"/>
<ellipse cx="528.2" cy="205.1" rx="3.9" ry="3.8" fill="#e6e6e6" opacity="0.5"/>
<ellipse cx="465.1" cy="285" rx="2.9" ry="2" fill="#c6c6c6" opacity="0.5"/>
<ellipse cx="505.3" cy="194.1" rx="1.6" ry="1.3" fill="#eaeaea" opacity="0.5"/>
<ellipse cx="573.7" cy="219.4" rx="2.1" ry="1.4" fill="#c6c6c6" opacity="0.5"/>
<ellipse cx="464.6" cy="312.7" rx="3.4" ry="2.7" fill="#e6e6e6" opacity="0.5"/>
<ellipse cx="542.1" cy="276.5" rx="2.2" ry="2.2" fill="#c6c6c6" opacity="0.5"/>
<ellipse cx="416.6" cy="270.4" rx="3" ry="2" fill="#eaeaea" opacity="0.5"/>
<ellipse cx="568.2" cy="317.4" rx="2.3" ry="1.5" fill="#e2e2e2" opacity="0.5"/>
<ellipse cx="545.4" cy="336.2" rx="3.3" ry="3.3" fill="#e2e2e2" opacity="0.5"/>
<ellipse cx="429.4" cy="203.2" rx="4" ry="3.8" fill="#c2c2c2" opacity="0.5"/>
<ellipse cx="405.8" cy="362.3" rx="2.4" ry="1.7" fill="#e2e2e2" opacity="0.5"/>
<ellipse cx="476.8" cy="204.8" rx="3.8" ry="3.4" fill="#e6e6e6" opacity="0.5"/>
<ellipse cx="460.8" cy="239.6" rx="4" ry="3.9" fill="#c2c2c2" opacity="0.5"/>
<ellipse cx="514.7" cy="373.2" rx="1.8" ry="1.2" fill="#c6c6c6" opacity="0.5"/>
<ellipse cx="410.7" cy="288.7" rx="1.9" ry="1.7" fill="#c2c2c2" opacity="0.5"/>
<ellipse cx="577.6" cy="296.3" rx="2.7" ry="2" fill="#e2e2e2" opacity="0.5"/>
<ellipse cx="453" cy="284.9" rx="1.9" ry="1.7" fill="#c6c6c6" opacity="0.5"/>
<ellipse cx="496.8" cy="233.3" rx="3.8" ry="2.3" fill="#e2e2e2" opacity="0.5"/>
<ellipse cx="489.5" cy="310.5" rx="2.9" ry="2" fill="#c2c2c2" opacity="0.5"/>
<ellipse cx="543.1" cy="370.2" rx="3.2" ry="2.8" fill="#e6e6e6" opacity="0.5"/>
<ellipse cx="466.1" cy="354" rx="2.2" ry="1.4" fill="#c6c6c6" opacity="0.5"/>
<ellipse cx="578.5" cy="356.7" rx="3.9" ry="3.2" fill="#e2e2e2" opacity="0.5"/>
<ellipse cx="505.7" cy="194.7" rx="2.9" ry="1.9" fill="#e2e2e2" opacity="0.5"/>
<ellipse cx="449.8" cy="258.4" rx="2.8" ry="1.9" fill="#e2e2e2" opacity="0.5"/>
<ellipse cx="517.2" cy="361.7" rx="3.6" ry="3.4" fill="#e2e2e2" opacity="0.5"/>
<ellipse cx="431.4" cy="391.4" rx="2.6" ry="2.6" fill="#e2e2e2" opacity="0.5"/>
<ellipse cx="494.3" cy="313.7" rx="1.9" ry="1.9" fill="#e2e2e2" opacity="0.5"/>
<ellipse cx="486.9" cy="351" rx="3.3" ry="1.9" fill="#c6c6c6" opacity="0.5"/>
<ellipse cx="542" cy="325.6" rx="3.2" ry="2.1" fill="#c6c6c6" opacity="0.5"/>
<ellipse cx="500.7" cy="391.4" rx="2.2" ry="1.3" fill="#e6e6e6" opacity="0.5"/>
<ellipse cx="506.7" cy="335.5" rx="2" ry="1.6" fill="#eaeaea" opacity="0.5"/>
<ellipse cx="407.6" cy="300.5" rx="2.1" ry="2" fill="#e6e6e6" opacity="0.5"/>
<ellipse cx="420.2" cy="414.6" rx="2.7" ry="1.4" fill="#c2c2c2" opacity="0.5"/>
<ellipse cx="484.7" cy="279.5" rx="3" ry="1.8" fill="#c2c2c2" opacity="0.5"/>
<ellipse cx="530.7" cy="278" rx="2.4" ry="2.2" fill="#e2e2e2" opacity="0.5"/>
<ellipse cx="557.7" cy="350.4" rx="2.9" ry="2.2" fill="#e6e6e6" opacity="0.5"/>
<ellipse cx="454.9" cy="259.9" rx="2.8" ry="1.8" fill="#c2c2c2" opacity="0.5"/>
<ellipse cx="464" cy="221.7" rx="2.5" ry="2.1" fill="#c2c2c2" opacity="0.5"/>
<ellipse cx="467.2" cy="224.7" rx="3" ry="2.2" fill="#c2c2c2" opacity="0.5"/>
<ellipse cx="436.2" cy="222.6" rx="1.7" ry="1.2" fill="#e6e6e6" opacity="0.5"/>
<ellipse cx="459.3" cy="402.8" rx="2.8" ry="2.3" fill="#e2e2e2" opacity="0.5"/>
<ellipse cx="562.2" cy="278.4" rx="2.6" ry="1.9" fill="#eaeaea" opacity="0.5"/>
<ellipse cx="487.3" cy="354.9" rx="2.5" ry="2" fill="#eaeaea" opacity="0.5"/>
<ellipse cx="447.3" cy="417.6" rx="2.7" ry="1.4" fill="#c6c6c6" opacity="0.5"/>
<ellipse cx="572" cy="262.7" rx="3.8" ry="2.8" fill="#eaeaea" opacity="0.5"/>
<ellipse cx="422.2" cy="335" rx="2.6" ry="1.4" fill="#e2e2e2" opacity="0.5"/>
<ellipse cx="424.8" cy="282.2" rx="2.7" ry="1.7" fill="#c2c2c2" opacity="0.5"/>
<ellipse cx="570.2" cy="371.8" rx="2.1" ry="1.9" fill="#e2e2e2" opacity="0.5"/>
<ellipse cx="531.3" cy="257.7" rx="2.7" ry="2.1" fill="#c6c6c6" opacity="0.5"/>
<ellipse cx="557.2" cy="394.6" rx="3.7" ry="3.3" fill="#e6e6e6" opacity="0.5"/>
<ellipse cx="454.7" cy="314.7" rx="2.3" ry="2" fill="#e2e2e2" opacity="0.5"/>
<ellipse cx="404.8" cy="272.4" rx="3.2" ry="1.8" fill="#c2c2c2" opacity="0.5"/>
<ellipse cx="400.5" cy="319.2" rx="3.2" ry="3" fill="#e6e6e6" opacity="0.5"/>
<ellipse cx="499.3" cy="195.3" rx="3.4" ry="2.7" fill="#c6c6c6" opacity="0.5"/>
<ellipse cx="525.4" cy="411.3" rx="3.1" ry="2.3" fill="#c6c6c6" opacity="0.5"/>
<ellipse cx="524.2" cy="357.5" rx="3.7" ry="3.4" fill="#c6c6c6" opacity="0.5"/>
<ellipse cx="412" cy="384.3" rx="3.2" ry="2.6" fill="#c6c6c6" opacity="0.5"/>
<ellipse cx="518" cy="300.7" rx="2.3" ry="1.7" fill="#eaeaea" opacity="0.5"/>
<ellipse cx="499.9" cy="306.5" rx="2.3" ry="1.7" fill="#eaeaea" opacity="0.5"/>
<ellipse cx="498.5" cy="203.2" rx="3.3" ry="3" fill="#e2e2e2" opacity="0.5"/>
<ellipse cx="544.1" cy="344.6" rx="1.6" ry="1.5" fill="#c6c6c6" opacity="0.5"/>
<ellipse cx="581.7" cy="353.3" rx="1.6" ry="1" fill="#e6e6e6" opacity="0.5"/>
<ellipse cx="517.5" cy="411" rx="3.3" ry="3.3" fill="#eaeaea" opacity="0.5"/>
<ellipse cx="528.5" cy="292.7" rx="2" ry="1.4" fill="#eaeaea" opacity="0.5"/>
<ellipse cx="429.3" cy="335.2" rx="1.6" ry="1.3" fill="#e6e6e6" opacity="0.5"/>
<ellipse cx="535.7" cy="256.4" rx="2.9" ry="2.6" fill="#e6e6e6" opacity="0.5"/>
<ellipse cx="559.9" cy="222.9" rx="2.6" ry="2.2" fill="#e2e2e2" opacity="0.5"/>
<ellipse cx="489.1" cy="273.3" rx="3.1" ry="1.8" fill="#e6e6e6" opacity="0.5"/>
<ellipse cx="453.6" cy="322.8" rx="3.2" ry="3.1" fill="#e2e2e2" opacity="0.5"/>
<ellipse cx="501" cy="334.8" rx="2.2" ry="1.3" fill="#c2c2c2" opacity="0.5"/>
<ellipse cx="551.5" cy="257.2" rx="3.9" ry="3.7" fill="#eaeaea" opacity="0.5"/>
<ellipse cx="482.5" cy="281.4" rx="1.8" ry="1.5" fill="#e6e6e6" opacity="0.5"/>
<ellipse cx="415.5" cy="345.6" rx="1.7" ry="1.3" fill="#e6e6e6" opacity="0.5"/>
<ellipse cx="482.5" cy="281.7" rx="2.7" ry="1.5" fill="#e2e2e2" opacity="0.5"/>
<ellipse cx="496.6" cy="316.7" rx="2.5" ry="2.4" fill="#eaeaea" opacity="0.5"/>
<ellipse cx="478.1" cy="374.7" rx="3.4" ry="3.3" fill="#e6e6e6" opacity="0.5"/>
<ellipse cx="521" cy="380.7" rx="1.8" ry="1.3" fill="#c2c2c2" opacity="0.5"/>
<ellipse cx="552.1" cy="258.7" rx="3.8" ry="3.4" fill="#e2e2e2" opacity="0.5"/>
<ellipse cx="468.8" cy="358.2" rx="2.4" ry="2.2" fill="#e2e2e2" opacity="0.5"/>
<ellipse cx="478.9" cy="387.9" rx="2.8" ry="2.8" fill="#c2c2c2" opacity="0.5"/>
<ellipse cx="439.1" cy="233.5" rx="1.7" ry="0.9" fill="#e6e6e6" opacity="0.5"/>
<ellipse cx="436.8" cy="201.1" rx="3.7" ry="3.1" fill="#c6c6c6" opacity="0.5"/>
<ellipse cx="463.4" cy="290.2" rx="2.3" ry="2.2" fill="#c2c2c2" opacity="0.5"/>
<ellipse cx="458.8" cy="298.2" rx="2" ry="1.1" fill="#eaeaea" opacity="0.5"/>
<ellipse cx="558.2" cy="391.9" rx="2.7" ry="1.7" fill="#c2c2c2" opacity="0.5"/>
<ellipse cx="450.5" cy="229.2" rx="2.2" ry="1.1" fill="#eaeaea" opacity="0.5"/>
<ellipse cx="563.1" cy="271.2" rx="3.4" ry="3.3" fill="#e2e2e2" opacity="0.5"/>
<ellipse cx="525.2" cy="347" rx="2.7" ry="1.5" fill="#eaeaea" opacity="0.5"/>
<ellipse cx="521.7" cy="259" rx="3.2" ry="1.6" fill="#eaeaea" opacity="0.5"/>
<ellipse cx="530.1" cy="324.2" rx="3.1" ry="2.2" fill="#c2c2c2" opacity="0.5"/>
<ellipse cx="577.2" cy="275.8" rx="2.3" ry="1.6" fill="#c6c6c6" opacity="0.5"/>
<ellipse cx="412.2" cy="420.5" rx="2.7" ry="1.6" fill="#eaeaea" opacity="0.5"/>
<ellipse cx="438" cy="202.1" rx="3" ry="1.5" fill="#e2e2e2" opacity="0.5"/>
<ellipse cx="411.1" cy="371.2" rx="2.5" ry="1.3" fill="#e6e6e6" opacity="0.5"/>
<ellipse cx="552.1" cy="384.6" rx="2.9" ry="2.5" fill="#e6e6e6" opacity="0.5"/>
<ellipse cx="443.1" cy="376.7" rx="1.7" ry="0.9" fill="#c6c6c6" opacity="0.5"/>
<ellipse cx="444.3" cy="203.6" rx="2.5" ry="1.3" fill="#e6e6e6" opacity="0.5"/>
<ellipse cx="551.7" cy="294.6" rx="3.1" ry="3" fill="#e6e6e6" opacity="0.5"/>
<ellipse cx="435.4" cy="352" rx="3.1" ry="2.4" fill="#eaeaea" opacity="0.5"/>
<ellipse cx="415.4" cy="264.2" rx="1.8" ry="1.8" fill="#c2c2c2" opacity="0.5"/>
<ellipse cx="429.5" cy="209.3" rx="3.3" ry="1.7" fill="#c2c2c2" opacity="0.5"/>
<ellipse cx="498.2" cy="303.9" rx="2.9" ry="2.2" fill="#c6c6c6" opacity="0.5"/>
<ellipse cx="424.2" cy="194.8" rx="3.4" ry="3.2" fill="#c6c6c6" opacity="0.5"/>
<ellipse cx="581.9" cy="319.5" rx="1.8" ry="1" fill="#c6c6c6" opacity="0.5"/>
<ellipse cx="540.6" cy="380.5" rx="2.3" ry="1.8" fill="#eaeaea" opacity="0.5"/>
<ellipse cx="485.8" cy="352.4" rx="3.5" ry="2.9" fill="#c2c2c2" opacity="0.5"/>
<ellipse cx="450.2" cy="305.3" rx="2.1" ry="1.9" fill="#eaeaea" opacity="0.5"/>
<ellipse cx="560.6" cy="395.7" rx="1.7" ry="1.2" fill="#e2e2e2" opacity="0.5"/>
<ellipse cx="540" cy="192" rx="2.2" ry="1.7" fill="#eaeaea" opacity="0.5"/>
<ellipse cx="480.5" cy="379.9" rx="3.1" ry="2.7" fill="#e6e6e6" opacity="0.5"/>
<ellipse cx="527.6" cy="253.6" rx="3.5" ry="2.8" fill="#c6c6c6" opacity="0.5"/>
<ellipse cx="458.5" cy="262.5" rx="1.8" ry="1.5" fill="#c6c6c6" opacity="0.5"/>
<ellipse cx="452" cy="206.6" rx="3.4" ry="1.8" fill="#c2c2c2" opacity="0.5"/>
<ellipse cx="422.1" cy="415" rx="3.6" ry="3.3" fill="#c6c6c6" opacity="0.5"/>
<ellipse cx="572.8" cy="332.8" rx="2.1" ry="1.2" fill="#c6c6c6" opacity="0.5"/>
<ellipse cx="436.6" cy="274.4" rx="1.9" ry="1.7" fill="#c2c2c2" opacity="0.5"/>
<ellipse cx="532.3" cy="213.9" rx="2.8" ry="2.3" fill="#eaeaea" opacity="0.5"/>
<ellipse cx="426.2" cy="367.9" rx="2.6" ry="1.4" fill="#c6c6c6" opacity="0.5"/>
<ellipse cx="457.7" cy="402.4" rx="2.7" ry="1.6" fill="#c6c6c6" opacity="0.5"/>
<ellipse cx="408.8" cy="345.6" rx="1.9" ry="1.9" fill="#c6c6c6" opacity="0.5"/>
<ellipse cx="508.5" cy="215.8" rx="3.5" ry="3" fill="#c6c6c6" opacity="0.5"/>
<ellipse cx="437.8" cy="192.2" rx="3.8" ry="2.8" fill="#eaeaea" opacity="0.5"/>
<ellipse cx="560.5" cy="282.3" rx="2" ry="1.9" fill="#e2e2e2" opacity="0.5"/>
<ellipse cx="455.2" cy="310.6" rx="3.4" ry="2.3" fill="#eaeaea" opacity="0.5"/>
<ellipse cx="547.2" cy="379.3" rx="3.2" ry="2.6" fill="#e6e6e6" opacity="0.5"/>
<ellipse cx="473" cy="224.9" rx="3.6" ry="2.5" fill="#c6c6c6" opacity="0.5"/>
<ellipse cx="417.1" cy="283.3" rx="3.4" ry="3.2" fill="#e2e2e2" opacity="0.5"/>
<ellipse cx="436.3" cy="375.3" rx="2.3" ry="2.2" fill="#c6c6c6" opacity="0.5"/>
<ellipse cx="513.4" cy="376.1" rx="2.4" ry="1.3" fill="#e6e6e6" opacity="0.5"/>
<ellipse cx="510.2" cy="334.8" rx="3.5" ry="2.3" fill="#e6e6e6" opacity="0.5"/>
<ellipse cx="404.9" cy="263.8" rx="2.5" ry="1.9" fill="#c6c6c6" opacity="0.5"/>
<ellipse cx="525.7" cy="295.4" rx="3.5" ry="3.3" fill="#c2c2c2" opacity="0.5"/>
<ellipse cx="526.1" cy="346.1" rx="2.8" ry="1.9" fill="#c6c6c6" opacity="0.5"/>
<ellipse cx="508" cy="348.3" rx="2.8" ry="1.8" fill="#e2e2e2" opacity="0.5"/>
<ellipse cx="405" cy="370" rx="3" ry="2" fill="#c6c6c6" opacity="0.5"/>
<ellipse cx="569.1" cy="255.2" rx="3.3" ry="1.7" fill="#e6e6e6" opacity="0.5"/>
<ellipse cx="416.1" cy="413.2" rx="2.3" ry="1.9" fill="#e2e2e2" opacity="0.5"/>
<ellipse cx="552.6" cy="361.9" rx="3" ry="2.2" fill="#eaeaea" opacity="0.5"/>
<ellipse cx="416.7" cy="219.8" rx="2.4" ry="1.7" fill="#c2c2c2" opacity="0.5"/>
<ellipse cx="576.4" cy="346.4" rx="2.4" ry="2.3" fill="#c2c2c2" opacity="0.5"/>
<ellipse cx="565.7" cy="333.1" rx="2.5" ry="2.3" fill="#e6e6e6" opacity="0.5"/>
<ellipse cx="561.8" cy="350.3" rx="4" ry="3.7" fill="#eaeaea" opacity="0.5"/>
<ellipse cx="438.7" cy="262.3" rx="2.2" ry="1.2" fill="#c2c2c2" opacity="0.5"/>
<ellipse cx="573" cy="209.6" rx="2.5" ry="1.6" fill="#eaeaea" opacity="0.5"/>
<ellipse cx="411.4" cy="322.2" rx="3.6" ry="3.1" fill="#c2c2c2" opacity="0.5"/>
<ellipse cx="475.9" cy="289.8" rx="2.8" ry="1.8" fill="#eaeaea" opacity="0.5"/>
<ellipse cx="451.1" cy="331.2" rx="3.9" ry="2.8" fill="#eaeaea" opacity="0.5"/>
<ellipse cx="427.1" cy="260" rx="2.9" ry="1.7" fill="#c2c2c2" opacity="0.5"/>
<ellipse cx="434.6" cy="328.7" rx="3.1" ry="2.7" fill="#e2e2e2" opacity="0.5"/>
<ellipse cx="411.2" cy="303.5" rx="3.6" ry="2.4" fill="#e6e6e6" opacity="0.5"/>
<ellipse cx="554.8" cy="340.4" rx="3.8" ry="3.6" fill="#eaeaea" opacity="0.5"/>
<ellipse cx="512" cy="375.5" rx="3.6" ry="2.1" fill="#e6e6e6" opacity="0.5"/>
<ellipse cx="428.5" cy="213.4" rx="1.9" ry="1.7" fill="#c2c2c2" opacity="0.5"/>
<ellipse cx="504.6" cy="293.5" rx="2.3" ry="2" fill="#eaeaea" opacity="0.5"/>
<ellipse cx="568.2" cy="412.1" rx="3.1" ry="2.1" fill="#e6e6e6" opacity="0.5"/>
<ellipse cx="548.2" cy="237" rx="2.3" ry="1.7" fill="#eaeaea" opacity="0.5"/>
<ellipse cx="523.9" cy="362.9" rx="1.7" ry="1.7" fill="#c6c6c6" opacity="0.5"/>
<ellipse cx="484.8" cy="193.3" rx="4" ry="2.2" fill="#e2e2e2" opacity="0.5"/>
<ellipse cx="400.6" cy="279.6" rx="2.4" ry="1.8" fill="#e6e6e6" opacity="0.5"/>
<ellipse cx="570.6" cy="355.8" rx="1.5" ry="1.5" fill="#c6c6c6" opacity="0.5"/>
<ellipse cx="536.7" cy="236.9" rx="2.4" ry="1.5" fill="#eaeaea" opacity="0.5"/>
<ellipse cx="490.8" cy="352.3" rx="3.5" ry="1.9" fill="#c2c2c2" opacity="0.5"/>
<ellipse cx="474.3" cy="408.9" rx="1.7" ry="0.9" fill="#c6c6c6" opacity="0.5"/>
<ellipse cx="476.6" cy="246.7" rx="3.2" ry="1.8" fill="#e6e6e6" opacity="0.5"/>
<ellipse cx="576.1" cy="319.3" rx="2.6" ry="2" fill="#eaeaea" opacity="0.5"/>
<ellipse cx="470.3" cy="406.8" rx="1.7" ry="1" fill="#e2e2e2" opacity="0.5"/>
<ellipse cx="415.2" cy="380.1" rx="1.9" ry="0.9" fill="#e6e6e6" opacity="0.5"/>
<ellipse cx="502.3" cy="412.1" rx="3.7" ry="1.9" fill="#e6e6e6" opacity="0.5"/>
<ellipse cx="439.8" cy="416.1" rx="2.6" ry="2" fill="#c6c6c6" opacity="0.5"/>
<ellipse cx="574" cy="329.6" rx="3.6" ry="2.7" fill="#c6c6c6" opacity="0.5"/>
<ellipse cx="409.6" cy="282.3" rx="3.4" ry="3.2" fill="#c6c6c6" opacity="0.5"/>
<ellipse cx="571" cy="344" rx="3" ry="1.6" fill="#c2c2c2" opacity="0.5"/>
<ellipse cx="404.3" cy="369" rx="2.5" ry="2.4" fill="#c6c6c6" opacity="0.5"/>
<ellipse cx="468.9" cy="421.8" rx="3.4" ry="1.9" fill="#e2e2e2" opacity="0.5"/>
<ellipse cx="542.1" cy="289.1" rx="3.9" ry="2.4" fill="#e2e2e2" opacity="0.5"/>
<ellipse cx="476.7" cy="254.3" rx="2.7" ry="1.3" fill="#e2e2e2" opacity="0.5"/>
<ellipse cx="515.3" cy="368.9" rx="3.4" ry="1.8" fill="#e6e6e6" opacity="0.5"/>
<ellipse cx="469.4" cy="398.4" rx="3.7" ry="3.1" fill="#eaeaea" opacity="0.5"/>
<ellipse cx="536" cy="305.6" rx="2.3" ry="1.3" fill="#c6c6c6" opacity="0.5"/>
<ellipse cx="443.1" cy="403.6" rx="3.8" ry="1.9" fill="#e6e6e6" opacity="0.5"/>
<ellipse cx="547.9" cy="211.7" rx="1.8" ry="1.2" fill="#e2e2e2" opacity="0.5"/>
<ellipse cx="439.1" cy="259.6" rx="3.7" ry="2" fill="#c2c2c2" opacity="0.5"/>
<ellipse cx="420.2" cy="340" rx="2.4" ry="2.3" fill="#e2e2e2" opacity="0.5"/>
<ellipse cx="499.7" cy="294" rx="3.7" ry="2.1" fill="#c2c2c2" opacity="0.5"/>
<ellipse cx="403.2" cy="194.9" rx="2.5" ry="1.8" fill="#eaeaea" opacity="0.5"/>
<ellipse cx="528.4" cy="193.9" rx="3.4" ry="2.1" fill="#c6c6c6" opacity="0.5"/>
<ellipse cx="530.3" cy="246.3" rx="2.3" ry="1.4" fill="#c2c2c2" opacity="0.5"/>
<ellipse cx="526" cy="395.3" rx="3.4" ry="2.2" fill="#c2c2c2" opacity="0.5"/>
<ellipse cx="481.9" cy="342.6" rx="3.8" ry="3" fill="#e2e2e2" opacity="0.5"/>
<ellipse cx="450.2" cy="326.1" rx="3" ry="3" fill="#c6c6c6" opacity="0.5"/>
<ellipse cx="454.9" cy="230.3" rx="3.8" ry="3.1" fill="#e6e6e6" opacity="0.5"/>
<ellipse cx="410" cy="240.8" rx="3" ry="2.9" fill="#e6e6e6" opacity="0.5"/>
<ellipse cx="454.5" cy="318.9" rx="3.6" ry="2.6" fill="#eaeaea" opacity="0.5"/>
<ellipse cx="411.5" cy="192.9" rx="2.9" ry="2.1" fill="#c2c2c2" opacity="0.5"/>
<ellipse cx="410.9" cy="212.2" rx="2.4" ry="1.6" fill="#eaeaea" opacity="0.5"/>
<ellipse cx="462" cy="379.5" rx="2.7" ry="2.4" fill="#eaeaea" opacity="0.5"/>
<ellipse cx="447.7" cy="382.7" rx="3.1" ry="1.8" fill="#c6c6c6" opacity="0.5"/>
<ellipse cx="543.6" cy="353.5" rx="3" ry="2.9" fill="#c6c6c6" opacity="0.5"/>
<ellipse cx="552.2" cy="328.6" rx="2.9" ry="2.3" fill="#e2e2e2" opacity="0.5"/>
<ellipse cx="401.8" cy="202" rx="3.6" ry="3" fill="#c6c6c6" opacity="0.5"/>
<ellipse cx="518.2" cy="198" rx="2.5" ry="2.2" fill="#c6c6c6" opacity="0.5"/>
<ellipse cx="511.3" cy="332.8" rx="2.1" ry="1.8" fill="#e6e6e6" opacity="0.5"/>
<ellipse cx="530.9" cy="328.1" rx="1.6" ry="1" fill="#c6c6c6" opacity="0.5"/>
<ellipse cx="495.5" cy="316.5" rx="3.6" ry="2" fill="#e2e2e2" opacity="0.5"/>
<ellipse cx="537.3" cy="251.5" rx="2.2" ry="2.1" fill="#e6e6e6" opacity="0.5"/>
<ellipse cx="458.7" cy="343.2" rx="2.7" ry="1.6" fill="#c6c6c6" opacity="0.5"/>
<ellipse cx="439.4" cy="252.6" rx="3.9" ry="2.8" fill="#eaeaea" opacity="0.5"/>
<ellipse cx="427.3" cy="420.6" rx="3.1" ry="2.5" fill="#c6c6c6" opacity="0.5"/>
<ellipse cx="518.4" cy="232.2" rx="1.8" ry="1.1" fill="#c6c6c6" opacity="0.5"/>
<ellipse cx="491.4" cy="407.1" rx="2.4" ry="1.4" fill="#e6e6e6" opacity="0.5"/>
<ellipse cx="448.7" cy="305.6" rx="2.8" ry="2.2" fill="#eaeaea" opacity="0.5"/>
<ellipse cx="520.6" cy="288.5" rx="3.5" ry="2.2" fill="#e2e2e2" opacity="0.5"/>
<ellipse cx="419.6" cy="251.6" rx="2.4" ry="1.5" fill="#c2c2c2" opacity="0.5"/>
<ellipse cx="514.5" cy="339.3" rx="3.9" ry="3.3" fill="#e6e6e6" opacity="0.5"/>
<ellipse cx="420.1" cy="214.1" rx="3.7" ry="3.4" fill="#e2e2e2" opacity="0.5"/>
<ellipse cx="506" cy="203.5" rx="3.9" ry="2.3" fill="#c6c6c6" opacity="0.5"/>
<ellipse cx="460.9" cy="368.1" rx="1.7" ry="1.6" fill="#e2e2e2" opacity="0.5"/>
<ellipse cx="456.8" cy="259.3" rx="2.3" ry="1.2" fill="#c6c6c6" opacity="0.5"/>
<ellipse cx="454.9" cy="233.4" rx="3.9" ry="2.7" fill="#c2c2c2" opacity="0.5"/>
<ellipse cx="484" cy="208.5" rx="2.6" ry="2" fill="#c2c2c2" opacity="0.5"/>
<ellipse cx="518.6" cy="348.8" rx="2.3" ry="2.2" fill="#e2e2e2" opacity="0.5"/>
<ellipse cx="484.8" cy="215.6" rx="3.4" ry="2.8" fill="#e6e6e6" opacity="0.5"/>
<ellipse cx="417.3" cy="342.6" rx="3.2" ry="2.3" fill="#c6c6c6" opacity="0.5"/>
<ellipse cx="449.5" cy="318.7" rx="3.9" ry="2" fill="#c6c6c6" opacity="0.5"/>
<ellipse cx="560.5" cy="417.7" rx="1.8" ry="1.8" fill="#eaeaea" opacity="0.5"/>
<ellipse cx="459.3" cy="378.5" rx="2.8" ry="1.8" fill="#eaeaea" opacity="0.5"/>
<ellipse cx="555.8" cy="339.5" rx="2.3" ry="2.2" fill="#c2c2c2" opacity="0.5"/>
<ellipse cx="504.5" cy="307" rx="2.2" ry="1.6" fill="#e2e2e2" opacity="0.5"/>
<ellipse cx="473.5" cy="355.3" rx="1.7" ry="1" fill="#c2c2c2" opacity="0.5"/>
<ellipse cx="526.5" cy="359.7" rx="1.8" ry="1" fill="#eaeaea" opacity="0.5"/>
<ellipse cx="430.5" cy="212.6" rx="2.6" ry="1.9" fill="#c2c2c2" opacity="0.5"/>
<ellipse cx="523.2" cy="376.4" rx="2.7" ry="2.1" fill="#e2e2e2" opacity="0.5"/>
<ellipse cx="445.8" cy="273.9" rx="1.6" ry="0.9" fill="#c2c2c2" opacity="0.5"/>
<ellipse cx="539.1" cy="269.4" rx="3" ry="2.8" fill="#c6c6c6" opacity="0.5"/>
<ellipse cx="494.9" cy="330.9" rx="3" ry="2.8" fill="#e6e6e6" opacity="0.5"/>
<ellipse cx="424.2" cy="288.6" rx="2.5" ry="1.6" fill="#eaeaea" opacity="0.5"/>
<ellipse cx="435.4" cy="410.9" rx="1.6" ry="1.5" fill="#c6c6c6" opacity="0.5"/>
<ellipse cx="456.9" cy="388.2" rx="3.2" ry="2.9" fill="#c6c6c6" opacity="0.5"/>
<ellipse cx="507.6" cy="298" rx="3.8" ry="2.8" fill="#c2c2c2" opacity="0.5"/>
<ellipse cx="529.5" cy="333.3" rx="3.5" ry="2.8" fill="#eaeaea" opacity="0.5"/>
<ellipse cx="518.7" cy="316" rx="2.7" ry="2.5" fill="#c6c6c6" opacity="0.5"/>
<ellipse cx="407.9" cy="315.1" rx="2.7" ry="2.3" fill="#e6e6e6" opacity="0.5"/>
<ellipse cx="430.8" cy="231.3" rx="2.8" ry="2.3" fill="#c6c6c6" opacity="0.5"/>
<ellipse cx="470.1" cy="340.3" rx="2.1" ry="2" fill="#e2e2e2" opacity="0.5"/>
<ellipse cx="437.3" cy="246.3" rx="1.7" ry="1.1" fill="#c2c2c2" opacity="0.5"/>
<ellipse cx="506" cy="243.3" rx="1.7" ry="1.4" fill="#c2c2c2" opacity="0.5"/>
<ellipse cx="537.9" cy="294.2" rx="3.2" ry="3" fill="#e6e6e6" opacity="0.5"/>
<ellipse cx="496.6" cy="192.6" rx="2.6" ry="1.3" fill="#c6c6c6" opacity="0.5"/>
<ellipse cx="539.4" cy="216.4" rx="2.6" ry="2.5" fill="#c6c6c6" opacity="0.5"/>
<ellipse cx="485.4" cy="258.5" rx="1.7" ry="1.4" fill="#c2c2c2" opacity="0.5"/>
<ellipse cx="551.9" cy="333.2" rx="3.3" ry="2" fill="#c2c2c2" opacity="0.5"/>
<ellipse cx="518.6" cy="294.1" rx="2.8" ry="2.3" fill="#e6e6e6" opacity="0.5"/>
<ellipse cx="436.6" cy="314.8" rx="3.7" ry="2.3" fill="#eaeaea" opacity="0.5"/>
<ellipse cx="400.6" cy="290.6" rx="2.3" ry="1.6" fill="#c6c6c6" opacity="0.5"/>
<ellipse cx="540.5" cy="218.3" rx="2.5" ry="1.5" fill="#eaeaea" opacity="0.5"/>
<ellipse cx="473.3" cy="295.7" rx="2.5" ry="1.6" fill="#e6e6e6" opacity="0.5"/>
<ellipse cx="495.5" cy="238.3" rx="3.2" ry="2.8" fill="#e2e2e2" opacity="0.5"/>
<ellipse cx="558.5" cy="402.9" rx="3.5" ry="3.2" fill="#c6c6c6" opacity="0.5"/>
<ellipse cx="563.8" cy="321" rx="3.6" ry="3.1" fill="#c6c6c6" opacity="0.5"/>
<ellipse cx="436.9" cy="325.9" rx="3.3" ry="2" fill="#e6e6e6" opacity="0.5"/>
<ellipse cx="497.1" cy="385.3" rx="2.4" ry="2.1" fill="#e6e6e6" opacity="0.5"/>
<ellipse cx="478.8" cy="379.5" rx="3.1" ry="1.5" fill="#eaeaea" opacity="0.5"/>
<ellipse cx="427.1" cy="289.8" rx="1.8" ry="1.5" fill="#e6e6e6" opacity="0.5"/>
<ellipse cx="484.9" cy="382.6" rx="3.7" ry="2.8" fill="#e6e6e6" opacity="0.5"/>
<ellipse cx="466.9" cy="419.3" rx="3.3" ry="2.9" fill="#e2e2e2" opacity="0.5"/>
<ellipse cx="486.9" cy="376.8" rx="2.6" ry="2.1" fill="#e2e2e2" opacity="0.5"/>
<ellipse cx="497.7" cy="231.3" rx="2.6" ry="2.5" fill="#c6c6c6" opacity="0.5"/>
<ellipse cx="403" cy="302.5" rx="1.8" ry="0.9" fill="#c2c2c2" opacity="0.5"/>
<ellipse cx="497.7" cy="242.5" rx="3.2" ry="2.1" fill="#c2c2c2" opacity="0.5"/>
<ellipse cx="414.7" cy="266.8" rx="1.9" ry="1.8" fill="#e2e2e2" opacity="0.5"/>
<ellipse cx="541.7" cy="263.2" rx="3.2" ry="3.1" fill="#e6e6e6" opacity="0.5"/>
<ellipse cx="562" cy="367.8" rx="3.7" ry="1.9" fill="#e6e6e6" opacity="0.5"/>
<ellipse cx="493.4" cy="300" rx="2.6" ry="1.9" fill="#eaeaea" opacity="0.5"/>
<ellipse cx="512.1" cy="323.7" rx="3.9" ry="2.4" fill="#c2c2c2" opacity="0.5"/>
<ellipse cx="452.8" cy="212.9" rx="2.3" ry="1.5" fill="#c6c6c6" opacity="0.5"/>
<ellipse cx="417.5" cy="271.5" rx="3.9" ry="3.8" fill="#e6e6e6" opacity="0.5"/>
<ellipse cx="558.5" cy="273.9" rx="1.8" ry="1" fill="#e2e2e2" opacity="0.5"/>
<ellipse cx="556.9" cy="267.5" rx="3.2" ry="2.7" fill="#c6c6c6" opacity="0.5"/>
<ellipse cx="569.4" cy="328.8" rx="3.7" ry="2.4" fill="#e2e2e2" opacity="0.5"/>
<ellipse cx="549.6" cy="307.6" rx="2.4" ry="1.3" fill="#c2c2c2" opacity="0.5"/>
<ellipse cx="492.9" cy="395" rx="2.5" ry="2" fill="#eaeaea" opacity="0.5"/>
<ellipse cx="473.8" cy="290.1" rx="1.8" ry="1.2" fill="#c6c6c6" opacity="0.5"/>
<ellipse cx="406.9" cy="372.8" rx="2.6" ry="1.4" fill="#c2c2c2" opacity="0.5"/>
<ellipse cx="401.7" cy="224.9" rx="2.3" ry="1.3" fill="#c2c2c2" opacity="0.5"/>
<ellipse cx="537.5" cy="400.2" rx="1.7" ry="1.1" fill="#e6e6e6" opacity="0.5"/>
<ellipse cx="453.2" cy="291.3" rx="2.1" ry="1.5" fill="#c6c6c6" opacity="0.5"/>
<ellipse cx="429.4" cy="268.4" rx="3.2" ry="2.5" fill="#c2c2c2" opacity="0.5"/>
<ellipse cx="472" cy="299.2" rx="2.7" ry="1.6" fill="#e6e6e6" opacity="0.5"/>
<ellipse cx="486.4" cy="265.5" rx="3.1" ry="2.2" fill="#e6e6e6" opacity="0.5"/>
<ellipse cx="449.8" cy="403.7" rx="2.3" ry="1.6" fill="#e6e6e6" opacity="0.5"/>
<ellipse cx="556" cy="421.3" rx="1.8" ry="1.3" fill="#c2c2c2" opacity="0.5"/>
<ellipse cx="450.6" cy="231.9" rx="2.5" ry="1.7" fill="#c6c6c6" opacity="0.5"/>
<ellipse cx="435.5" cy="227.8" rx="3.8" ry="2.7" fill="#c2c2c2" opacity="0.5"/>
<ellipse cx="452.1" cy="200.2" rx="3.5" ry="2.2" fill="#c6c6c6" opacity="0.5"/>
<ellipse cx="490.9" cy="325.6" rx="2.8" ry="2.5" fill="#e6e6e6" opacity="0.5"/>
<ellipse cx="455.8" cy="269.9" rx="3" ry="2.8" fill="#eaeaea" opacity="0.5"/>
<ellipse cx="402.3" cy="237.1" rx="1.6" ry="1.2" fill="#c6c6c6" opacity="0.5"/>
<ellipse cx="408.3" cy="243.6" rx="4" ry="2.4" fill="#e2e2e2" opacity="0.5"/>
<ellipse cx="483" cy="199.5" rx="1.8" ry="1" fill="#eaeaea" opacity="0.5"/>
<ellipse cx="526.2" cy="219.5" rx="3.7" ry="3.3" fill="#e6e6e6" opacity="0.5"/>
<ellipse cx="562.9" cy="326.4" rx="3.8" ry="3.4" fill="#e2e2e2" opacity="0.5"/>
<ellipse cx="446.4" cy="230.9" rx="2.2" ry="1.5" fill="#e6e6e6" opacity="0.5"/>
<ellipse cx="443.9" cy="413.5" rx="3.6" ry="2.6" fill="#e2e2e2" opacity="0.5"/>
<ellipse cx="442.3" cy="204.7" rx="3.4" ry="2.1" fill="#c2c2c2" opacity="0.5"/>
<ellipse cx="521.1" cy="214.3" rx="2.7" ry="1.4" fill="#e2e2e2" opacity="0.5"/>
<ellipse cx="426.8" cy="362.5" rx="3.8" ry="2.6" fill="#e2e2e2" opacity="0.5"/>
<ellipse cx="574.2" cy="304" rx="3.6" ry="2.9" fill="#e6e6e6" opacity="0.5"/>
<ellipse cx="458.6" cy="282.3" rx="2.3" ry="2.1" fill="#eaeaea" opacity="0.5"/>
<ellipse cx="543.9" cy="259.9" rx="1.9" ry="1.5" fill="#e6e6e6" opacity="0.5"/>
<ellipse cx="436.2" cy="401.3" rx="2.9" ry="1.8" fill="#e6e6e6" opacity="0.5"/>
<ellipse cx="437.4" cy="344.8" rx="3" ry="2.7" fill="#e2e2e2" opacity="0.5"/>
<ellipse cx="425.2" cy="366.7" rx="1.9" ry="1.5" fill="#c2c2c2" opacity="0.5"/>
<ellipse cx="528.3" cy="360.5" rx="2.7" ry="2.2" fill="#c6c6c6" opacity="0.5"/>
<ellipse cx="525.7" cy="210.2" rx="2" ry="1.8" fill="#c6c6c6" opacity="0.5"/>
<ellipse cx="518.3" cy="347.5" rx="3.1" ry="2.3" fill="#c2c2c2" opacity="0.5"/>
<ellipse cx="495" cy="384.9" rx="2.3" ry="1.3" fill="#c2c2c2" opacity="0.5"/>
<ellipse cx="429.1" cy="372.9" rx="2.4" ry="2.3" fill="#c6c6c6" opacity="0.5"/>
<ellipse cx="510.2" cy="269.6" rx="2" ry="1.5" fill="#c2c2c2" opacity="0.5"/>
<ellipse cx="435.4" cy="215.5" rx="3.8" ry="3.7" fill="#e6e6e6" opacity="0.5"/>
<ellipse cx="432.9" cy="317.6" rx="2" ry="1.3" fill="#eaeaea" opacity="0.5"/>
<ellipse cx="550.5" cy="254.2" rx="3.1" ry="2.6" fill="#e2e2e2" opacity="0.5"/>
<ellipse cx="513.7" cy="196.8" rx="2.1" ry="1.9" fill="#e2e2e2" opacity="0.5"/>
<ellipse cx="468.9" cy="377.9" rx="1.7" ry="1.2" fill="#c6c6c6" opacity="0.5"/>
<ellipse cx="427.2" cy="345.4" rx="3.3" ry="3.2" fill="#c6c6c6" opacity="0.5"/>
<ellipse cx="411.2" cy="419.3" rx="2.5" ry="1.3" fill="#c2c2c2" opacity="0.5"/>
<ellipse cx="491.9" cy="344.3" rx="2.3" ry="1.6" fill="#eaeaea" opacity="0.5"/>
<ellipse cx="512.2" cy="333.3" rx="3.2" ry="2.7" fill="#c6c6c6" opacity="0.5"/>
<ellipse cx="529.1" cy="354" rx="2.1" ry="1.9" fill="#c2c2c2" opacity="0.5"/>
<ellipse cx="520.2" cy="257.1" rx="4" ry="2.9" fill="#c6c6c6" opacity="0.5"/>
<ellipse cx="495.3" cy="358.1" rx="3.4" ry="2.5" fill="#c6c6c6" opacity="0.5"/>
<ellipse cx="489.3" cy="337.2" rx="2.1" ry="1.4" fill="#eaeaea" opacity="0.5"/>
<ellipse cx="530" cy="412" rx="1.7" ry="1.4" fill="#c6c6c6" opacity="0.5"/>
<ellipse cx="498.2" cy="373.6" rx="3.6" ry="1.8" fill="#eaeaea" opacity="0.5"/>
<ellipse cx="527" cy="348.3" rx="1.9" ry="1.7" fill="#e6e6e6" opacity="0.5"/>
<ellipse cx="550.8" cy="206.9" rx="2.6" ry="2.5" fill="#eaeaea" opacity="0.5"/>
<ellipse cx="537.6" cy="268.7" rx="3.4" ry="3.4" fill="#c2c2c2" opacity="0.5"/>
<ellipse cx="494.6" cy="365.8" rx="2.3" ry="2.3" fill="#eaeaea" opacity="0.5"/>
<ellipse cx="489.8" cy="305.5" rx="3.1" ry="2.1" fill="#c2c2c2" opacity="0.5"/>
<ellipse cx="540.1" cy="327.1" rx="1.5" ry="0.9" fill="#e6e6e6" opacity="0.5"/>
<ellipse cx="499.8" cy="250.3" rx="3.9" ry="3.6" fill="#eaeaea" opacity="0.5"/>
<ellipse cx="443.9" cy="345.5" rx="2.9" ry="1.8" fill="#c6c6c6" opacity="0.5"/>
<ellipse cx="475.4" cy="241.7" rx="2.6" ry="1.5" fill="#e2e2e2" opacity="0.5"/>
<ellipse cx="427.1" cy="264.4" rx="3.4" ry="3" fill="#e2e2e2" opacity="0.5"/>
<ellipse cx="580.7" cy="216" rx="2.9" ry="1.6" fill="#e2e2e2" opacity="0.5"/>
<ellipse cx="495.3" cy="253.9" rx="1.9" ry="1" fill="#e6e6e6" opacity="0.5"/>
<ellipse cx="454.7" cy="225.4" rx="3.8" ry="2.5" fill="#eaeaea" opacity="0.5"/>
<ellipse cx="572.2" cy="202" rx="3.7" ry="2.6" fill="#c6c6c6" opacity="0.5"/>
<ellipse cx="420.8" cy="383.9" rx="2.8" ry="2.4" fill="#c6c6c6" opacity="0.5"/>
<ellipse cx="547.6" cy="193.5" rx="2.3" ry="1.3" fill="#c6c6c6" opacity="0.5"/>
<ellipse cx="531" cy="336.4" rx="2.4" ry="2.2" fill="#c2c2c2" opacity="0.5"/>
<ellipse cx="450.6" cy="292.5" rx="3.9" ry="2.8" fill="#e6e6e6" opacity="0.5"/>
<ellipse cx="456.5" cy="410" rx="2.7" ry="2" fill="#e2e2e2" opacity="0.5"/>
<ellipse cx="413.6" cy="420.1" rx="1.8" ry="1.1" fill="#c2c2c2" opacity="0.5"/>
<ellipse cx="581.5" cy="334.9" rx="2.8" ry="2.1" fill="#c6c6c6" opacity="0.5"/>
<ellipse cx="466.7" cy="225.9" rx="1.6" ry="1.3" fill="#e6e6e6" opacity="0.5"/>
<ellipse cx="475.2" cy="412.9" rx="2.7" ry="1.6" fill="#c2c2c2" opacity="0.5"/>
<ellipse cx="457.1" cy="305.3" rx="2" ry="1.5" fill="#c6c6c6" opacity="0.5"/>
<ellipse cx="412.5" cy="211.6" rx="3.7" ry="2.9" fill="#c2c2c2" opacity="0.5"/>
<ellipse cx="579.7" cy="291.5" rx="3.2" ry="3.1" fill="#c6c6c6" opacity="0.5"/>
<ellipse cx="520.9" cy="203.6" rx="2.6" ry="1.5" fill="#c2c2c2" opacity="0.5"/>
<ellipse cx="463.9" cy="349.8" rx="3.4" ry="2" fill="#c6c6c6" opacity="0.5"/>
<ellipse cx="481.1" cy="398" rx="3.8" ry="3" fill="#c6c6c6" opacity="0.5"/>
<ellipse cx="557.2" cy="294.3" rx="1.9" ry="1.4" fill="#e2e2e2" opacity="0.5"/>
<ellipse cx="561.3" cy="260.4" rx="4" ry="3.3" fill="#e2e2e2" opacity="0.5"/>
<ellipse cx="465.5" cy="331.7" rx="4" ry="2.1" fill="#eaeaea" opacity="0.5"/>
<ellipse cx="450.9" cy="342.8" rx="3.8" ry="2" fill="#c2c2c2" opacity="0.5"/>
<ellipse cx="463.3" cy="271.4" rx="1.9" ry="1.3" fill="#eaeaea" opacity="0.5"/>
<ellipse cx="474.8" cy="330.9" rx="2.6" ry="2" fill="#eaeaea" opacity="0.5"/>
<ellipse cx="536.8" cy="406.5" rx="1.6" ry="0.9" fill="#e6e6e6" opacity="0.5"/>
<ellipse cx="435.7" cy="362.1" rx="3.4" ry="3.2" fill="#c2c2c2" opacity="0.5"/>
<ellipse cx="522.3" cy="218.2" rx="4" ry="2.4" fill="#e2e2e2" opacity="0.5"/>
<ellipse cx="420.5" cy="200.4" rx="3.9" ry="2.6" fill="#eaeaea" opacity="0.5"/>
<ellipse cx="475.1" cy="256.1" rx="3.5" ry="2.3" fill="#c6c6c6" opacity="0.5"/>
<ellipse cx="442" cy="397.7" rx="3.7" ry="2.5" fill="#c6c6c6" opacity="0.5"/>
<ellipse cx="415.9" cy="306.3" rx="3.9" ry="2.5" fill="#e6e6e6" opacity="0.5"/>
<ellipse cx="510.5" cy="307.7" rx="2.7" ry="2" fill="#eaeaea" opacity="0.5"/>
<ellipse cx="572.3" cy="292.9" rx="3.5" ry="3.3" fill="#c2c2c2" opacity="0.5"/>
<ellipse cx="404.7" cy="375.9" rx="3" ry="2.1" fill="#e6e6e6" opacity="0.5"/>
<ellipse cx="428.6" cy="196.8" rx="3.2" ry="2.7" fill="#e2e2e2" opacity="0.5"/>
<ellipse cx="540.2" cy="386.9" rx="3.7" ry="2.5" fill="#c2c2c2" opacity="0.5"/>
<ellipse cx="479.4" cy="347.5" rx="3.8" ry="2.3" fill="#c2c2c2" opacity="0.5"/>
<ellipse cx="580" cy="234.2" rx="3" ry="1.9" fill="#e2e2e2" opacity="0.5"/>
<ellipse cx="561.8" cy="332.3" rx="3.3" ry="2.6" fill="#eaeaea" opacity="0.5"/>
<ellipse cx="488.1" cy="421.1" rx="2.5" ry="1.6" fill="#c6c6c6" opacity="0.5"/>
<ellipse cx="448.3" cy="268" rx="3.9" ry="2.9" fill="#c6c6c6" opacity="0.5"/>
<ellipse cx="502.3" cy="342.8" rx="2.2" ry="1.9" fill="#e6e6e6" opacity="0.5"/>
<ellipse cx="415.2" cy="215.9" rx="2.5" ry="1.4" fill="#c2c2c2" opacity="0.5"/>
<ellipse cx="465.5" cy="222.8" rx="3.7" ry="2.7" fill="#e6e6e6" opacity="0.5"/>
<ellipse cx="467.6" cy="366.8" rx="2.9" ry="2.7" fill="#e6e6e6" opacity="0.5"/>
<ellipse cx="580.2" cy="373.3" rx="3.1" ry="2.4" fill="#eaeaea" opacity="0.5"/>
<ellipse cx="504.9" cy="218.4" rx="1.8" ry="1.2" fill="#e6e6e6" opacity="0.5"/>
<ellipse cx="423.4" cy="379.6" rx="3.4" ry="2.3" fill="#e6e6e6" opacity="0.5"/>
<ellipse cx="424" cy="366.7" rx="2" ry="1.7" fill="#c6c6c6" opacity="0.5"/>
<ellipse cx="449.7" cy="192.5" rx="3" ry="2.4" fill="#eaeaea" opacity="0.5"/>
<ellipse cx="579.2" cy="244.5" rx="3.3" ry="2.5" fill="#c6c6c6" opacity="0.5"/>
<ellipse cx="490.4" cy="217.2" rx="1.8" ry="1.5" fill="#c6c6c6" opacity="0.5"/>
<ellipse cx="565.5" cy="330.9" rx="2.7" ry="2.2" fill="#eaeaea" opacity="0.5"/>
<ellipse cx="474.2" cy="253.3" rx="3.2" ry="2.8" fill="#c6c6c6" opacity="0.5"/>
<ellipse cx="475.6" cy="419.4" rx="3" ry="2.5" fill="#c6c6c6" opacity="0.5"/>
<ellipse cx="489.2" cy="379.8" rx="2.3" ry="1.7" fill="#e2e2e2" opacity="0.5"/>
<ellipse cx="570.9" cy="413.4" rx="1.8" ry="1.7" fill="#e6e6e6" opacity="0.5"/>
<ellipse cx="534.6" cy="350.8" rx="1.6" ry="1.1" fill="#c2c2c2" opacity="0.5"/>
<ellipse cx="425.3" cy="267.1" rx="3.7" ry="3.7" fill="#c6c6c6" opacity="0.5"/>
<ellipse cx="461.7" cy="281.6" rx="1.8" ry="1" fill="#e6e6e6" opacity="0.5"/>
<ellipse cx="554.6" cy="225.6" rx="2" ry="1.4" fill="#c6c6c6" opacity="0.5"/>
<ellipse cx="552.1" cy="279.9" rx="3" ry="3" fill="#eaeaea" opacity="0.5"/>
<ellipse cx="434.9" cy="400.1" rx="3.7" ry="2.3" fill="#e2e2e2" opacity="0.5"/>
<ellipse cx="532.9" cy="400.2" rx="3" ry="2.8" fill="#eaeaea" opacity="0.5"/>
<ellipse cx="458.4" cy="221.2" rx="3" ry="1.8" fill="#e6e6e6" opacity="0.5"/>
<ellipse cx="514.7" cy="203" rx="1.5" ry="1.3" fill="#e2e2e2" opacity="0.5"/>
<ellipse cx="490.2" cy="305.4" rx="2.6" ry="2.2" fill="#e6e6e6" opacity="0.5"/>
<ellipse cx="457.7" cy="325.8" rx="2.8" ry="1.5" fill="#c2c2c2" opacity="0.5"/>
<ellipse cx="404" cy="267" rx="4" ry="2.9" fill="#e6e6e6" opacity="0.5"/>
<ellipse cx="563.4" cy="387.1" rx="2.8" ry="2.3" fill="#eaeaea" opacity="0.5"/>
<ellipse cx="555.8" cy="353.3" rx="2.4" ry="1.3" fill="#e6e6e6" opacity="0.5"/>
<ellipse cx="420.3" cy="237" rx="2.3" ry="1.6" fill="#eaeaea" opacity="0.5"/>
<ellipse cx="570.3" cy="298.5" rx="2" ry="2" fill="#eaeaea" opacity="0.5"/>
<ellipse cx="432.2" cy="237.3" rx="3.3" ry="2.7" fill="#c6c6c6" opacity="0.5"/>
<ellipse cx="402.9" cy="393.9" rx="3.8" ry="2.3" fill="#c6c6c6" opacity="0.5"/>
<ellipse cx="440.3" cy="317.5" rx="2.6" ry="1.5" fill="#eaeaea" opacity="0.5"/>
<ellipse cx="566.8" cy="252.2" rx="2.4" ry="2" fill="#e6e6e6" opacity="0.5"/>
<ellipse cx="447.8" cy="238.3" rx="3.1" ry="3.1" fill="#c2c2c2" opacity="0.5"/>
<ellipse cx="526.6" cy="234.4" rx="2.6" ry="1.9" fill="#eaeaea" opacity="0.5"/>
<ellipse cx="546.7" cy="204.6" rx="3.9" ry="3" fill="#c2c2c2" opacity="0.5"/>
<ellipse cx="581.2" cy="376" rx="3.9" ry="3.9" fill="#c6c6c6" opacity="0.5"/>
<ellipse cx="422.2" cy="220.9" rx="3.3" ry="2.1" fill="#e2e2e2" opacity="0.5"/>
<ellipse cx="555.8" cy="409.4" rx="3.8" ry="3.2" fill="#eaeaea" opacity="0.5"/>
<ellipse cx="557.7" cy="371.4" rx="2.1" ry="1.6" fill="#eaeaea" opacity="0.5"/>
<ellipse cx="447.1" cy="366.2" rx="2.4" ry="2.1" fill="#eaeaea" opacity="0.5"/>
<ellipse cx="478.1" cy="199.2" rx="2.2" ry="1.3" fill="#c6c6c6" opacity="0.5"/>
<ellipse cx="420.2" cy="395.8" rx="3.3" ry="3.2" fill="#c2c2c2" opacity="0.5"/>
<ellipse cx="525.3" cy="349.9" rx="3" ry="2.7" fill="#e2e2e2" opacity="0.5"/>
<ellipse cx="483.8" cy="306" rx="3.8" ry="2.1" fill="#c2c2c2" opacity="0.5"/>
<ellipse cx="531.2" cy="383.4" rx="3" ry="3" fill="#eaeaea" opacity="0.5"/>
<ellipse cx="581.3" cy="410.7" rx="1.6" ry="1.1" fill="#e6e6e6" opacity="0.5"/>
<ellipse cx="478" cy="276.9" rx="4" ry="2.2" fill="#eaeaea" opacity="0.5"/>
<ellipse cx="445.5" cy="221.3" rx="1.9" ry="1.1" fill="#e6e6e6" opacity="0.5"/>
<ellipse cx="430.4" cy="334.6" rx="1.8" ry="1.5" fill="#c2c2c2" opacity="0.5"/>
<ellipse cx="559.8" cy="359" rx="3.3" ry="2.7" fill="#e2e2e2" opacity="0.5"/>
<ellipse cx="421.5" cy="257.5" rx="4" ry="2.9" fill="#c6c6c6" opacity="0.5"/>
<ellipse cx="545.5" cy="337.1" rx="1.7" ry="1.7" fill="#eaeaea" opacity="0.5"/>
<ellipse cx="467" cy="384.1" rx="2.8" ry="1.9" fill="#e2e2e2" opacity="0.5"/>
<ellipse cx="483.5" cy="288.6" rx="3.8" ry="2.2" fill="#c2c2c2" opacity="0.5"/>
<ellipse cx="526.2" cy="210.3" rx="2.3" ry="2.1" fill="#c6c6c6" opacity="0.5"/>
<ellipse cx="525.1" cy="337.4" rx="3" ry="2.4" fill="#c2c2c2" opacity="0.5"/>
<ellipse cx="420.7" cy="394.9" rx="2.2" ry="1.7" fill="#e6e6e6" opacity="0.5"/>
<ellipse cx="490.5" cy="237.4" rx="2.6" ry="2.1" fill="#e6e6e6" opacity="0.5"/>
<ellipse cx="459.9" cy="246.9" rx="3.1" ry="1.6" fill="#c2c2c2" opacity="0.5"/>
<ellipse cx="428.7" cy="214.9" rx="3.4" ry="3.2" fill="#e2e2e2" opacity="0.5"/>
<ellipse cx="467.8" cy="315.7" rx="2.9" ry="1.8" fill="#e2e2e2" opacity="0.5"/>
<ellipse cx="444.9" cy="404.2" rx="1.9" ry="1.2" fill="#eaeaea" opacity="0.5"/>
<ellipse cx="489.4" cy="295.8" rx="2.1" ry="1.5" fill="#eaeaea" opacity="0.5"/>
<ellipse cx="495.9" cy="391.3" rx="1.9" ry="1.5" fill="#e2e2e2" opacity="0.5"/>
<ellipse cx="400.2" cy="259.8" rx="3.8" ry="3.1" fill="#c6c6c6" opacity="0.5"/>
<ellipse cx="578" cy="333.6" rx="3.4" ry="1.9" fill="#e6e6e6" opacity="0.5"/>
<ellipse cx="480.4" cy="354.2" rx="1.9" ry="1.6" fill="#e6e6e6" opacity="0.5"/>
<ellipse cx="482.8" cy="268.7" rx="1.9" ry="1.6" fill="#c2c2c2" opacity="0.5"/>
<ellipse cx="580" cy="372" rx="3.3" ry="2" fill="#c6c6c6" opacity="0.5"/>
<ellipse cx="524.3" cy="274" rx="2.6" ry="1.5" fill="#c2c2c2" opacity="0.5"/>
<ellipse cx="573.3" cy="355.2" rx="3.8" ry="2.1" fill="#eaeaea" opacity="0.5"/>
<ellipse cx="414.9" cy="251.8" rx="3.7" ry="2.3" fill="#eaeaea" opacity="0.5"/>
<ellipse cx="538.9" cy="371.7" rx="3.3" ry="3" fill="#c6c6c6" opacity="0.5"/>
<ellipse cx="412.6" cy="387.6" rx="2.3" ry="1.7" fill="#eaeaea" opacity="0.5"/>
<ellipse cx="575.1" cy="376.4" rx="1.8" ry="1.2" fill="#e2e2e2" opacity="0.5"/>
<ellipse cx="561.8" cy="408.3" rx="1.7" ry="1.2" fill="#c2c2c2" opacity="0.5"/>
<ellipse cx="484.9" cy="318.1" rx="3.6" ry="2.3" fill="#c6c6c6" opacity="0.5"/>
<ellipse cx="545" cy="282.1" rx="2" ry="1.5" fill="#e2e2e2" opacity="0.5"/>
<ellipse cx="441" cy="397.5" rx="2.7" ry="2.7" fill="#e6e6e6" opacity="0.5"/>
<ellipse cx="459.5" cy="317.1" rx="2.9" ry="1.6" fill="#e2e2e2" opacity="0.5"/>
<ellipse cx="448.3" cy="359.8" rx="2.4" ry="2" fill="#e2e2e2" opacity="0.5"/>
<ellipse cx="512" cy="276.8" rx="3.2" ry="1.8" fill="#c6c6c6" opacity="0.5"/>
<ellipse cx="521.5" cy="324.9" rx="3.7" ry="1.9" fill="#eaeaea" opacity="0.5"/>
<ellipse cx="456.9" cy="224.1" rx="3.9" ry="2.8" fill="#e2e2e2" opacity="0.5"/>
<ellipse cx="443.7" cy="394.8" rx="3.6" ry="2.8" fill="#eaeaea" opacity="0.5"/>
<ellipse cx="572.2" cy="419.3" rx="2.8" ry="2.4" fill="#c6c6c6" opacity="0.5"/>
<ellipse cx="547.6" cy="355.6" rx="2.8" ry="2.7" fill="#c6c6c6" opacity="0.5"/>
<ellipse cx="575" cy="346.1" rx="2.2" ry="1.5" fill="#c2c2c2" opacity="0.5"/>
<ellipse cx="558.3" cy="289.5" rx="3.2" ry="2.7" fill="#e6e6e6" opacity="0.5"/>
<ellipse cx="537" cy="270.7" rx="1.9" ry="1.3" fill="#e2e2e2" opacity="0.5"/>
<ellipse cx="558.6" cy="231.1" rx="3.9" ry="2.1" fill="#c6c6c6" opacity="0.5"/>
<ellipse cx="404.4" cy="325.2" rx="1.7" ry="1.1" fill="#e6e6e6" opacity="0.5"/>
<ellipse cx="532.2" cy="296.1" rx="3.1" ry="2.5" fill="#c2c2c2" opacity="0.5"/>
<ellipse cx="472.5" cy="400.7" rx="3.5" ry="3.1" fill="#e2e2e2" opacity="0.5"/>
<ellipse cx="417.8" cy="238.7" rx="3.5" ry="2.3" fill="#c2c2c2" opacity="0.5"/>
<ellipse cx="403.5" cy="240" rx="2.9" ry="1.8" fill="#e6e6e6" opacity="0.5"/>
<ellipse cx="425.2" cy="363.9" rx="3.5" ry="3.3" fill="#e2e2e2" opacity="0.5"/>
<ellipse cx="570.7" cy="408.1" rx="1.7" ry="0.9" fill="#eaeaea" opacity="0.5"/>
<ellipse cx="571.7" cy="396.1" rx="4" ry="3.1" fill="#eaeaea" opacity="0.5"/>
<ellipse cx="532.6" cy="354.1" rx="2.1" ry="1.7" fill="#c2c2c2" opacity="0.5"/>
<ellipse cx="505" cy="373.7" rx="2.8" ry="1.7" fill="#eaeaea" opacity="0.5"/>
<ellipse cx="568.6" cy="411.5" rx="3.5" ry="3.5" fill="#eaeaea" opacity="0.5"/>
<ellipse cx="540.5" cy="332.3" rx="3.4" ry="2.5" fill="#c2c2c2" opacity="0.5"/>
<ellipse cx="563.3" cy="315.7" rx="2.6" ry="1.3" fill="#eaeaea" opacity="0.5"/>
<ellipse cx="516.8" cy="420.5" rx="3.1" ry="2.8" fill="#c6c6c6" opacity="0.5"/>
<ellipse cx="410.5" cy="253.8" rx="2.2" ry="2.1" fill="#e2e2e2" opacity="0.5"/>
<ellipse cx="561.4" cy="371.9" rx="3.3" ry="2" fill="#eaeaea" opacity="0.5"/>
<ellipse cx="489.3" cy="253.3" rx="2" ry="1.2" fill="#eaeaea" opacity="0.5"/>
<ellipse cx="460.3" cy="234.8" rx="2.7" ry="1.6" fill="#e2e2e2" opacity="0.5"/>
<ellipse cx="517.5" cy="355.1" rx="2.4" ry="1.7" fill="#c2c2c2" opacity="0.5"/>
<ellipse cx="475.9" cy="248.2" rx="3.1" ry="2.3" fill="#c2c2c2" opacity="0.5"/>
<ellipse cx="575.7" cy="297.6" rx="2.1" ry="1.9" fill="#e6e6e6" opacity="0.5"/>
<ellipse cx="425.9" cy="329.8" rx="3.2" ry="2.7" fill="#eaeaea" opacity="0.5"/>
<ellipse cx="558.1" cy="338" rx="2.6" ry="1.8" fill="#c6c6c6" opacity="0.5"/>
<ellipse cx="541.9" cy="298.5" rx="2" ry="1.6" fill="#c6c6c6" opacity="0.5"/>
<ellipse cx="462.5" cy="351.7" rx="2.2" ry="1.7" fill="#e2e2e2" opacity="0.5"/>
<ellipse cx="506.5" cy="205" rx="3.8" ry="3.3" fill="#c2c2c2" opacity="0.5"/>
<ellipse cx="453.4" cy="358.2" rx="1.8" ry="1.8" fill="#c2c2c2" opacity="0.5"/>
<ellipse cx="578.4" cy="404" rx="2" ry="1.5" fill="#e6e6e6" opacity="0.5"/>
<ellipse cx="443.2" cy="232.3" rx="2.3" ry="1.2" fill="#e6e6e6" opacity="0.5"/>
<ellipse cx="414.8" cy="350.8" rx="2.4" ry="1.7" fill="#e2e2e2" opacity="0.5"/>
<ellipse cx="421.9" cy="290.7" rx="2.8" ry="2.2" fill="#e6e6e6" opacity="0.5"/>
<ellipse cx="517.9" cy="198.7" rx="2.4" ry="2.3" fill="#eaeaea" opacity="0.5"/>
<ellipse cx="464.5" cy="332.4" rx="2.4" ry="1.5" fill="#c2c2c2" opacity="0.5"/>
<ellipse cx="557.5" cy="271.3" rx="3.2" ry="2.6" fill="#eaeaea" opacity="0.5"/>
<ellipse cx="435.9" cy="302.6" rx="2.3" ry="1.9" fill="#c6c6c6" opacity="0.5"/>
<ellipse cx="474.9" cy="249.7" rx="2.1" ry="1.9" fill="#e2e2e2" opacity="0.5"/>
<ellipse cx="492.3" cy="236.4" rx="3.2" ry="3.1" fill="#e2e2e2" opacity="0.5"/>
<ellipse cx="546.9" cy="236.3" rx="3.1" ry="2.1" fill="#e2e2e2" opacity="0.5"/>
<ellipse cx="574.9" cy="309.3" rx="2.4" ry="1.9" fill="#c6c6c6" opacity="0.5"/>
<ellipse cx="567.6" cy="417" rx="3.5" ry="2.7" fill="#e2e2e2" opacity="0.5"/>
<ellipse cx="492.3" cy="319.8" rx="2.2" ry="1.9" fill="#eaeaea" opacity="0.5"/>
<ellipse cx="519.9" cy="277" rx="1.6" ry="1.2" fill="#e2e2e2" opacity="0.5"/>
<ellipse cx="539.3" cy="378.6" rx="3.6" ry="3.5" fill="#c2c2c2" opacity="0.5"/>
<ellipse cx="435.6" cy="226.7" rx="1.8" ry="1.2" fill="#eaeaea" opacity="0.5"/>
<ellipse cx="532.5" cy="299.5" rx="2.5" ry="1.7" fill="#eaeaea" opacity="0.5"/>
<ellipse cx="516.5" cy="378.9" rx="2.9" ry="2.2" fill="#e6e6e6" opacity="0.5"/>
<ellipse cx="500.9" cy="310.6" rx="3.5" ry="3.3" fill="#c6c6c6" opacity="0.5"/>
<ellipse cx="460.2" cy="201.6" rx="2.7" ry="1.6" fill="#e6e6e6" opacity="0.5"/>
<ellipse cx="570.5" cy="209.3" rx="3.1" ry="2.6" fill="#e2e2e2" opacity="0.5"/>
<ellipse cx="460.6" cy="359" rx="3.1" ry="1.7" fill="#eaeaea" opacity="0.5"/>
<ellipse cx="499" cy="229.9" rx="3.8" ry="3.5" fill="#c2c2c2" opacity="0.5"/>
<ellipse cx="486.2" cy="362.7" rx="3.6" ry="3.2" fill="#c2c2c2" opacity="0.5"/>
<ellipse cx="533.2" cy="308.4" rx="2.4" ry="1.2" fill="#e6e6e6" opacity="0.5"/>
<ellipse cx="406" cy="300.1" rx="1.7" ry="1" fill="#c6c6c6" opacity="0.5"/>
<ellipse cx="504.9" cy="349.2" rx="2" ry="1.9" fill="#e2e2e2" opacity="0.5"/>
<ellipse cx="435.4" cy="279.5" rx="3" ry="3" fill="#c6c6c6" opacity="0.5"/>
<ellipse cx="483.5" cy="366.1" rx="2" ry="1.9" fill="#e6e6e6" opacity="0.5"/>
<ellipse cx="478" cy="308.4" rx="3.6" ry="2.5" fill="#c6c6c6" opacity="0.5"/>
<ellipse cx="434.3" cy="360.3" rx="2.2" ry="1.7" fill="#e2e2e2" opacity="0.5"/>
<ellipse cx="457.5" cy="363" rx="3.2" ry="2.5" fill="#c2c2c2" opacity="0.5"/>
<ellipse cx="488" cy="395.4" rx="1.8" ry="1.4" fill="#c2c2c2" opacity="0.5"/>
<ellipse cx="508.2" cy="218.5" rx="2.9" ry="1.5" fill="#c2c2c2" opacity="0.5"/>
<ellipse cx="533.3" cy="286.9" rx="3.6" ry="3.1" fill="#e6e6e6" opacity="0.5"/>
<ellipse cx="419.4" cy="322.2" rx="4" ry="3.9" fill="#e2e2e2" opacity="0.5"/>
<ellipse cx="531.3" cy="251.7" rx="3.3" ry="1.8" fill="#c6c6c6" opacity="0.5"/>
<ellipse cx="424.4" cy="399.8" rx="2.2" ry="1.6" fill="#c2c2c2" opacity="0.5"/>
<ellipse cx="527.2" cy="198.4" rx="1.8" ry="1" fill="#c6c6c6" opacity="0.5"/>
<ellipse cx="467.6" cy="353.9" rx="2.9" ry="2.6" fill="#e2e2e2" opacity="0.5"/>
<ellipse cx="538.4" cy="316.8" rx="3.8" ry="2.6" fill="#eaeaea" opacity="0.5"/>
<ellipse cx="484.9" cy="230.6" rx="3.3" ry="3.1" fill="#c6c6c6" opacity="0.5"/>
<ellipse cx="562.2" cy="211.9" rx="2.3" ry="2" fill="#e6e6e6" opacity="0.5"/>
<ellipse cx="409.6" cy="271.4" rx="3.7" ry="2.8" fill="#c2c2c2" opacity="0.5"/>
<ellipse cx="414.3" cy="236.8" rx="2.4" ry="2.3" fill="#eaeaea" opacity="0.5"/>
<ellipse cx="520.6" cy="414.8" rx="2.5" ry="2.2" fill="#e6e6e6" opacity="0.5"/>
<ellipse cx="572" cy="200.2" rx="2.4" ry="2.3" fill="#e6e6e6" opacity="0.5"/>
<ellipse cx="563" cy="222.6" rx="1.7" ry="1.5" fill="#eaeaea" opacity="0.5"/>
<ellipse cx="481.1" cy="379.8" rx="1.6" ry="1" fill="#c6c6c6" opacity="0.5"/>
<ellipse cx="560.5" cy="359.2" rx="2.9" ry="2.6" fill="#c2c2c2" opacity="0.5"/>
<ellipse cx="564.6" cy="393.2" rx="2.8" ry="2.8" fill="#eaeaea" opacity="0.5"/>
<ellipse cx="556.3" cy="339.6" rx="1.9" ry="1.8" fill="#e2e2e2" opacity="0.5"/>
<ellipse cx="437.7" cy="351.5" rx="2" ry="1.2" fill="#c6c6c6" opacity="0.5"/>
<ellipse cx="545" cy="280.6" rx="2.7" ry="1.8" fill="#c2c2c2" opacity="0.5"/>
<ellipse cx="511.9" cy="237.6" rx="2.8" ry="2.7" fill="#eaeaea" opacity="0.5"/>
<ellipse cx="528.6" cy="318" rx="2.8" ry="1.8" fill="#e6e6e6" opacity="0.5"/>
<ellipse cx="498.5" cy="244.5" rx="1.8" ry="1.2" fill="#e6e6e6" opacity="0.5"/>
<ellipse cx="439.3" cy="283.8" rx="3.6" ry="3.4" fill="#e6e6e6" opacity="0.5"/>
<ellipse cx="499.3" cy="269" rx="2.8" ry="2.7" fill="#e6e6e6" opacity="0.5"/>
<ellipse cx="474.4" cy="386.4" rx="3.4" ry="2.8" fill="#c2c2c2" opacity="0.5"/>
<ellipse cx="546.4" cy="259" rx="2.9" ry="2.4" fill="#eaeaea" opacity="0.5"/>
<ellipse cx="535.5" cy="350.9" rx="2" ry="1.3" fill="#c2c2c2" opacity="0.5"/>
<ellipse cx="580.6" cy="298.5" rx="3.9" ry="3.7" fill="#e2e2e2" opacity="0.5"/>
<ellipse cx="457.5" cy="255.9" rx="2.9" ry="2.1" fill="#eaeaea" opacity="0.5"/>
<ellipse cx="444.7" cy="245.1" rx="2.4" ry="2.2" fill="#eaeaea" opacity="0.5"/>
<ellipse cx="447.8" cy="203.7" rx="1.5" ry="1" fill="#c2c2c2" opacity="0.5"/>
<ellipse cx="486.7" cy="224.9" rx="2" ry="1.3" fill="#e2e2e2" opacity="0.5"/>
<ellipse cx="426.9" cy="364.8" rx="2.2" ry="1.6" fill="#e6e6e6" opacity="0.5"/>
<ellipse cx="563.6" cy="200.7" rx="3.8" ry="2.7" fill="#c6c6c6" opacity="0.5"/>
<ellipse cx="506.9" cy="381.9" rx="2.1" ry="2" fill="#eaeaea" opacity="0.5"/>
<ellipse cx="444" cy="378.7" rx="3.7" ry="2.7" fill="#c2c2c2" opacity="0.5"/>
<ellipse cx="552.7" cy="203.2" rx="1.8" ry="1.5" fill="#c6c6c6" opacity="0.5"/>
<ellipse cx="403" cy="350.5" rx="2.1" ry="1.1" fill="#e2e2e2" opacity="0.5"/>
<ellipse cx="463.8" cy="198.1" rx="1.9" ry="1.2" fill="#e2e2e2" opacity="0.5"/>
<ellipse cx="530.2" cy="241.1" rx="1.5" ry="1.5" fill="#e6e6e6" opacity="0.5"/>
<ellipse cx="432.3" cy="315.5" rx="2.4" ry="1.3" fill="#e2e2e2" opacity="0.5"/>
<ellipse cx="516.8" cy="264.7" rx="2" ry="1.9" fill="#c6c6c6" opacity="0.5"/>
<ellipse cx="522" cy="210.7" rx="2.7" ry="2.1" fill="#eaeaea" opacity="0.5"/>
<ellipse cx="407.7" cy="404.2" rx="3.8" ry="2.2" fill="#c2c2c2" opacity="0.5"/>
<ellipse cx="453.3" cy="327" rx="3.7" ry="3.1" fill="#c2c2c2" opacity="0.5"/>
<ellipse cx="480.7" cy="284" rx="3.3" ry="2.6" fill="#eaeaea" opacity="0.5"/>
<ellipse cx="441.8" cy="299.1" rx="3.4" ry="2.2" fill="#c6c6c6" opacity="0.5"/>
<ellipse cx="534.1" cy="203.2" rx="3.8" ry="3.2" fill="#c6c6c6" opacity="0.5"/>
<ellipse cx="508" cy="394.3" rx="3.5" ry="3.4" fill="#e2e2e2" opacity="0.5"/>
<ellipse cx="484.8" cy="337.9" rx="3.6" ry="1.9" fill="#e6e6e6" opacity="0.5"/>
<ellipse cx="459" cy="402.6" rx="2.2" ry="1.6" fill="#e6e6e6" opacity="0.5"/>
<ellipse cx="514.8" cy="215.2" rx="3.6" ry="3.3" fill="#c2c2c2" opacity="0.5"/>
<ellipse cx="434.4" cy="359.9" rx="3.8" ry="2.9" fill="#c2c2c2" opacity="0.5"/>
<ellipse cx="471.7" cy="417.3" rx="4" ry="3" fill="#eaeaea" opacity="0.5"/>
<ellipse cx="562.5" cy="393.1" rx="2.8" ry="2.3" fill="#eaeaea" opacity="0.5"/>
<ellipse cx="523.1" cy="341.2" rx="1.5" ry="1.3" fill="#c2c2c2" opacity="0.5"/>
<ellipse cx="580.8" cy="408.9" rx="3.4" ry="2.3" fill="#c2c2c2" opacity="0.5"/>
<ellipse cx="463.4" cy="365.9" rx="3.9" ry="3.7" fill="#c2c2c2" opacity="0.5"/>
<ellipse cx="437.4" cy="286.2" rx="3.3" ry="3.2" fill="#c2c2c2" opacity="0.5"/>
<ellipse cx="403.7" cy="220.6" rx="3.7" ry="2.9" fill="#c2c2c2" opacity="0.5"/>
<ellipse cx="556.8" cy="194.3" rx="1.6" ry="1.1" fill="#e6e6e6" opacity="0.5"/>
<ellipse cx="538.4" cy="339.6" rx="2.7" ry="2.4" fill="#e6e6e6" opacity="0.5"/>
<ellipse cx="409.1" cy="320.5" rx="3.2" ry="3.1" fill="#e6e6e6" opacity="0.5"/>
<ellipse cx="525.2" cy="279.9" rx="3.4" ry="2.3" fill="#c2c2c2" opacity="0.5"/>
<ellipse cx="416.4" cy="346.3" rx="3.7" ry="2" fill="#c2c2c2" opacity="0.5"/>
<ellipse cx="417.3" cy="336.8" rx="1.6" ry="0.8" fill="#eaeaea" opacity="0.5"/>
<ellipse cx="432.1" cy="327.6" rx="1.8" ry="1.1" fill="#e6e6e6" opacity="0.5"/>
<ellipse cx="499" cy="415.8" rx="1.9" ry="1.6" fill="#eaeaea" opacity="0.5"/>
<ellipse cx="547.5" cy="303.3" rx="2.2" ry="1.2" fill="#e6e6e6" opacity="0.5"/>
<ellipse cx="551.6" cy="325.2" rx="2" ry="1.5" fill="#e6e6e6" opacity="0.5"/>
<ellipse cx="574.5" cy="292.6" rx="3.2" ry="1.9" fill="#eaeaea" opacity="0.5"/>
<ellipse cx="514.8" cy="259.6" rx="3" ry="1.6" fill="#c6c6c6" opacity="0.5"/>
<ellipse cx="532" cy="417.2" rx="2.5" ry="1.3" fill="#c2c2c2" opacity="0.5"/>
<ellipse cx="555" cy="353.1" rx="3.3" ry="3.1" fill="#c2c2c2" opacity="0.5"/>
<ellipse cx="420.6" cy="271.3" rx="1.5" ry="1.3" fill="#c2c2c2" opacity="0.5"/>
<ellipse cx="524.1" cy="342.7" rx="2" ry="1.9" fill="#e2e2e2" opacity="0.5"/>
<ellipse cx="446.7" cy="296.3" rx="1.6" ry="1.6" fill="#c6c6c6" opacity="0.5"/>
<ellipse cx="508.5" cy="417" rx="2.7" ry="2.6" fill="#c6c6c6" opacity="0.5"/>
<ellipse cx="483.6" cy="309" rx="1.6" ry="0.9" fill="#e2e2e2" opacity="0.5"/>
<ellipse cx="505.8" cy="330.6" rx="1.9" ry="1.8" fill="#e2e2e2" opacity="0.5"/>
<ellipse cx="532.6" cy="399.6" rx="2.8" ry="1.4" fill="#e2e2e2" opacity="0.5"/>
<ellipse cx="448" cy="313.2" rx="3.6" ry="2.4" fill="#eaeaea" opacity="0.5"/>
<ellipse cx="511.8" cy="264.4" rx="3.8" ry="3" fill="#c6c6c6" opacity="0.5"/>
<ellipse cx="549.5" cy="400.7" rx="3.6" ry="3.6" fill="#eaeaea" opacity="0.5"/>
<ellipse cx="462.1" cy="383.7" rx="4" ry="2.2" fill="#e6e6e6" opacity="0.5"/>
<ellipse cx="454" cy="341.9" rx="2.2" ry="2" fill="#c2c2c2" opacity="0.5"/>
<ellipse cx="520.2" cy="301.3" rx="1.9" ry="1" fill="#c2c2c2" opacity="0.5"/>
<ellipse cx="529.4" cy="375.2" rx="2.3" ry="1.4" fill="#c2c2c2" opacity="0.5"/>
<ellipse cx="513.1" cy="329.6" rx="3.8" ry="3.6" fill="#e2e2e2" opacity="0.5"/>
<ellipse cx="409.9" cy="288.9" rx="1.9" ry="1" fill="#e2e2e2" opacity="0.5"/>
<ellipse cx="550.8" cy="333.6" rx="3.1" ry="2.9" fill="#e2e2e2" opacity="0.5"/>
<ellipse cx="533.2" cy="336.4" rx="2.9" ry="2.8" fill="#c2c2c2" opacity="0.5"/>
<ellipse cx="572.4" cy="218.2" rx="1.7" ry="1.2" fill="#eaeaea" opacity="0.5"/>
<ellipse cx="554" cy="280.8" rx="3.3" ry="3.2" fill="#eaeaea" opacity="0.5"/>
<ellipse cx="491.9" cy="371.3" rx="1.6" ry="0.9" fill="#c6c6c6" opacity="0.5"/>
<ellipse cx="444.7" cy="372.4" rx="3.5" ry="2.8" fill="#c6c6c6" opacity="0.5"/>
<ellipse cx="445.2" cy="201.7" rx="3.7" ry="3.1" fill="#e2e2e2" opacity="0.5"/>
<ellipse cx="509.5" cy="364.5" rx="2.1" ry="1.5" fill="#c2c2c2" opacity="0.5"/>
<ellipse cx="516.5" cy="330.7" rx="3" ry="1.7" fill="#c6c6c6" opacity="0.5"/>
<ellipse cx="556.6" cy="251.8" rx="1.7" ry="0.9" fill="#e2e2e2" opacity="0.5"/>
<ellipse cx="501.8" cy="364.9" rx="2.9" ry="1.7" fill="#eaeaea" opacity="0.5"/>
<ellipse cx="547.4" cy="253.8" rx="2.6" ry="1.9" fill="#e6e6e6" opacity="0.5"/>
<ellipse cx="418.3" cy="371.9" rx="3.5" ry="3.1" fill="#e6e6e6" opacity="0.5"/>
<ellipse cx="505.8" cy="358" rx="1.9" ry="1.2" fill="#e6e6e6" opacity="0.5"/>
<ellipse cx="416.3" cy="251.3" rx="3.1" ry="1.6" fill="#c2c2c2" opacity="0.5"/>
<ellipse cx="479.3" cy="238.8" rx="2.1" ry="1.1" fill="#c2c2c2" opacity="0.5"/>
<ellipse cx="434.1" cy="217.5" rx="1.9" ry="1.6" fill="#e6e6e6" opacity="0.5"/>
<ellipse cx="576" cy="363.8" rx="3" ry="2.3" fill="#e6e6e6" opacity="0.5"/>
<ellipse cx="445.8" cy="409.2" rx="2" ry="1.8" fill="#e2e2e2" opacity="0.5"/>
<ellipse cx="557.2" cy="214.4" rx="4" ry="3.1" fill="#c2c2c2" opacity="0.5"/>
<ellipse cx="514.4" cy="376.9" rx="3" ry="2.9" fill="#e6e6e6" opacity="0.5"/>
<ellipse cx="425.7" cy="313.9" rx="3.3" ry="2.5" fill="#eaeaea" opacity="0.5"/>
<ellipse cx="562.3" cy="192.4" rx="2.6" ry="2.2" fill="#eaeaea" opacity="0.5"/>
<ellipse cx="560.4" cy="421.6" rx="2.2" ry="1.7" fill="#e2e2e2" opacity="0.5"/>
<ellipse cx="465.9" cy="247.3" rx="1.8" ry="0.9" fill="#e6e6e6" opacity="0.5"/>
<ellipse cx="509.3" cy="386.7" rx="2.2" ry="1.3" fill="#e2e2e2" opacity="0.5"/>
<ellipse cx="436.7" cy="250.9" rx="3.9" ry="2" fill="#c6c6c6" opacity="0.5"/>
<ellipse cx="465.2" cy="275.8" rx="1.8" ry="1.6" fill="#c2c2c2" opacity="0.5"/>
<ellipse cx="559.4" cy="268.4" rx="3" ry="2.1" fill="#e2e2e2" opacity="0.5"/>
<ellipse cx="536.5" cy="394" rx="1.8" ry="1.2" fill="#c2c2c2" opacity="0.5"/>
<ellipse cx="535.1" cy="323.5" rx="2" ry="1.4" fill="#eaeaea" opacity="0.5"/>
<ellipse cx="516.5" cy="280.4" rx="3.7" ry="2.1" fill="#c6c6c6" opacity="0.5"/>
<ellipse cx="480.9" cy="384.5" rx="4" ry="3.1" fill="#c6c6c6" opacity="0.5"/>
<ellipse cx="504.8" cy="308.5" rx="3" ry="2.6" fill="#c2c2c2" opacity="0.5"/>
<ellipse cx="557.2" cy="310.2" rx="3.1" ry="2.6" fill="#eaeaea" opacity="0.5"/>
<ellipse cx="577.6" cy="250.1" rx="3.7" ry="1.9" fill="#c2c2c2" opacity="0.5"/>
<ellipse cx="567.8" cy="275.4" rx="1.8" ry="1.7" fill="#c2c2c2" opacity="0.5"/>
<ellipse cx="472.5" cy="330.4" rx="2.6" ry="2.3" fill="#c2c2c2" opacity="0.5"/>
<ellipse cx="468.1" cy="338.9" rx="2" ry="1.3" fill="#eaeaea" opacity="0.5"/>
<ellipse cx="472.7" cy="199" rx="3.4" ry="2" fill="#e2e2e2" opacity="0.5"/>
<ellipse cx="523.5" cy="251.8" rx="1.8" ry="1.7" fill="#eaeaea" opacity="0.5"/>
<ellipse cx="562.3" cy="346.8" rx="3.1" ry="2.1" fill="#eaeaea" opacity="0.5"/>
<ellipse cx="499.4" cy="361.9" rx="3.7" ry="3.6" fill="#e2e2e2" opacity="0.5"/>
<ellipse cx="572.2" cy="198" rx="3.3" ry="1.7" fill="#e6e6e6" opacity="0.5"/>
<ellipse cx="517.6" cy="273.6" rx="1.8" ry="1" fill="#e2e2e2" opacity="0.5"/>
<ellipse cx="463.3" cy="287.8" rx="2.5" ry="1.5" fill="#c2c2c2" opacity="0.5"/>
<ellipse cx="559.8" cy="343.5" rx="3.2" ry="1.9" fill="#e6e6e6" opacity="0.5"/>
<ellipse cx="446.9" cy="339" rx="3.5" ry="2" fill="#eaeaea" opacity="0.5"/>
<ellipse cx="567.3" cy="327.1" rx="2.7" ry="1.6" fill="#c2c2c2" opacity="0.5"/>
<ellipse cx="401.3" cy="204.9" rx="3.1" ry="1.6" fill="#e2e2e2" opacity="0.5"/>
<ellipse cx="400" cy="200.1" rx="3.3" ry="2.2" fill="#e6e6e6" opacity="0.5"/>
<ellipse cx="430.1" cy="346.7" rx="2.6" ry="2.6" fill="#c6c6c6" opacity="0.5"/>
<ellipse cx="537.4" cy="315.6" rx="3.9" ry="2.4" fill="#eaeaea" opacity="0.5"/>
<ellipse cx="425.5" cy="225.5" rx="1.8" ry="1.5" fill="#c6c6c6" opacity="0.5"/>
<ellipse cx="490.9" cy="315.2" rx="3.3" ry="2.4" fill="#e6e6e6" opacity="0.5"/>
<ellipse cx="560.1" cy="397" rx="3.6" ry="1.9" fill="#e2e2e2" opacity="0.5"/>
<path d="M455.2 414.2q3.6 -1.1 2.9 -5.7" fill="none" stroke="#bcbcbc" stroke-width="0.8" opacity="0.55"/>
<path d="M413.1 413.6q0.3 -3.4 -3.7 -4.4" fill="none" stroke="#bcbcbc" stroke-width="0.8" opacity="0.55"/>
<path d="M487.1 247.5q-1.2 2.2 1.2 4.1" fill="none" stroke="#bcbcbc" stroke-width="0.8" opacity="0.55"/>
<path d="M501.6 270.8q2.4 0.8 3.8 -1.9" fill="none" stroke="#bcbcbc" stroke-width="0.8" opacity="0.55"/>
<path d="M550.7 384.1q5.1 -0.9 4.9 -7.1" fill="none" stroke="#bcbcbc" stroke-width="0.8" opacity="0.55"/>
<path d="M508.3 384.6q1.1 -3.9 -3.3 -5.8" fill="none" stroke="#bcbcbc" stroke-width="0.8" opacity="0.55"/>
<path d="M563.8 361.2q-2.9 -3.1 -7.1 -0.1" fill="none" stroke="#bcbcbc" stroke-width="0.8" opacity="0.55"/>
<path d="M497.7 314.9q-3 -3.5 -7.6 -0.5" fill="none" stroke="#bcbcbc" stroke-width="0.8" opacity="0.55"/>
<path d="M499.7 266.8q-0.9 2.9 2.3 4.5" fill="none" stroke="#bcbcbc" stroke-width="0.8" opacity="0.55"/>
<path d="M504 332.2q1.6 2.3 4.7 0.7" fill="none" stroke="#bcbcbc" stroke-width="0.8" opacity="0.55"/>
<path d="M510.8 218.4q1.1 -5 -4.7 -7.1" fill="none" stroke="#bcbcbc" stroke-width="0.8" opacity="0.55"/>
<path d="M543.3 372.9q-1.1 -2.8 -4.6 -2" fill="none" stroke="#bcbcbc" stroke-width="0.8" opacity="0.55"/>
<path d="M540.3 254.8q4.7 2.4 8.3 -2.9" fill="none" stroke="#bcbcbc" stroke-width="0.8" opacity="0.55"/>
<path d="M508.6 323.4q-1.2 3.3 2.5 5.3" fill="none" stroke="#bcbcbc" stroke-width="0.8" opacity="0.55"/>
<path d="M435.8 210.4q0.1 4.7 5.7 5.3" fill="none" stroke="#bcbcbc" stroke-width="0.8" opacity="0.55"/>
<path d="M494.4 194.6q4 2.9 8.1 -1.4" fill="none" stroke="#bcbcbc" stroke-width="0.8" opacity="0.55"/>
<path d="M403.5 346.3q-2.8 3.3 0.8 7.2" fill="none" stroke="#bcbcbc" stroke-width="0.8" opacity="0.55"/>
<path d="M474.7 399.8q-2.3 -4.4 -7.9 -2.4" fill="none" stroke="#bcbcbc" stroke-width="0.8" opacity="0.55"/>
<path d="M486.9 205.2q-2.4 1.5 -1 4.6" fill="none" stroke="#bcbcbc" stroke-width="0.8" opacity="0.55"/>
<path d="M568.9 243.9q3.4 -1.4 2.3 -5.6" fill="none" stroke="#bcbcbc" stroke-width="0.8" opacity="0.55"/>
<path d="M525.5 199q0.3 2.6 3.5 2.7" fill="none" stroke="#bcbcbc" stroke-width="0.8" opacity="0.55"/>
<path d="M533.8 289.1q-0.3 3.3 3.6 4.1" fill="none" stroke="#bcbcbc" stroke-width="0.8" opacity="0.55"/>
<path d="M534.5 321.4q0.5 -4.4 -4.7 -5.8" fill="none" stroke="#bcbcbc" stroke-width="0.8" opacity="0.55"/>
<path d="M416.3 407.4q3 4.4 8.7 1.5" fill="none" stroke="#bcbcbc" stroke-width="0.8" opacity="0.55"/>
<path d="M476.4 232.2q4.3 0.9 6.1 -4.1" fill="none" stroke="#bcbcbc" stroke-width="0.8" opacity="0.55"/>
<path d="M518.8 232.5q0.5 4.7 6.2 4.9" fill="none" stroke="#bcbcbc" stroke-width="0.8" opacity="0.55"/>
<path d="M444.1 208.7q-3.7 0 -4.3 4.5" fill="none" stroke="#bcbcbc" stroke-width="0.8" opacity="0.55"/>
<path d="M510.2 305.6q-1.5 -2.7 -4.9 -1.3" fill="none" stroke="#bcbcbc" stroke-width="0.8" opacity="0.55"/>
<path d="M445.1 406.1q2.2 -4.2 -2.4 -7.4" fill="none" stroke="#bcbcbc" stroke-width="0.8" opacity="0.55"/>
<path d="M545.4 257.8q-0.7 2.3 1.9 3.6" fill="none" stroke="#bcbcbc" stroke-width="0.8" opacity="0.55"/>
<path d="M442.1 219.3q4.6 1.8 7.5 -3.5" fill="none" stroke="#bcbcbc" stroke-width="0.8" opacity="0.55"/>
<path d="M460.5 355.5q4.8 -0.2 5.2 -6" fill="none" stroke="#bcbcbc" stroke-width="0.8" opacity="0.55"/>
<path d="M413.1 207.5q-2 -2.2 -4.9 -0.2" fill="none" stroke="#bcbcbc" stroke-width="0.8" opacity="0.55"/>
<path d="M579.5 219.2q4 1.1 6 -3.6" fill="none" stroke="#bcbcbc" stroke-width="0.8" opacity="0.55"/>
<path d="M459.8 204q3.3 1.4 5.5 -2.3" fill="none" stroke="#bcbcbc" stroke-width="0.8" opacity="0.55"/>
<path d="M515.5 236.5q2.2 -2.2 -0.1 -5.2" fill="none" stroke="#bcbcbc" stroke-width="0.8" opacity="0.55"/>
<path d="M516.2 201.8q3.1 -2.9 0.1 -7.1" fill="none" stroke="#bcbcbc" stroke-width="0.8" opacity="0.55"/>
<path d="M480.2 235.9q0.5 4.8 6.3 5" fill="none" stroke="#bcbcbc" stroke-width="0.8" opacity="0.55"/>
<path d="M401.2 215.3q0.8 -3.5 -3.3 -5" fill="none" stroke="#bcbcbc" stroke-width="0.8" opacity="0.55"/>
<path d="M456.1 323.5q-4.5 -0 -5.3 5.4" fill="none" stroke="#bcbcbc" stroke-width="0.8" opacity="0.55"/>
<path d="M560.6 211.7q-0.4 -3.5 -4.7 -3.7" fill="none" stroke="#bcbcbc" stroke-width="0.8" opacity="0.55"/>
<path d="M490.2 393.7q2.9 -1.7 1.3 -5.4" fill="none" stroke="#bcbcbc" stroke-width="0.8" opacity="0.55"/>
<path d="M468.8 214.9q-2.4 -3.6 -7.1 -1.2" fill="none" stroke="#bcbcbc" stroke-width="0.8" opacity="0.55"/>
<path d="M516.1 261.7q-3.9 2.2 -1.9 7.2" fill="none" stroke="#bcbcbc" stroke-width="0.8" opacity="0.55"/>
<path d="M423 245.3q-4.8 -1.7 -7.6 3.7" fill="none" stroke="#bcbcbc" stroke-width="0.8" opacity="0.55"/>
<path d="M522.1 253.7q2.5 1 4.1 -1.8" fill="none" stroke="#bcbcbc" stroke-width="0.8" opacity="0.55"/>
<path d="M435.8 285.1q1.4 -3.6 -2.7 -5.9" fill="none" stroke="#bcbcbc" stroke-width="0.8" opacity="0.55"/>
<path d="M565.4 327.1q4.3 -2.4 2.1 -7.9" fill="none" stroke="#bcbcbc" stroke-width="0.8" opacity="0.55"/>
<path d="M561.2 264.8q5.1 0.3 6.3 -5.8" fill="none" stroke="#bcbcbc" stroke-width="0.8" opacity="0.55"/>
<path d="M407.4 400.4q-3.3 -2.5 -6.8 0.9" fill="none" stroke="#bcbcbc" stroke-width="0.8" opacity="0.55"/>
<path d="M460.5 295.5q-0.6 3.7 3.7 4.9" fill="none" stroke="#bcbcbc" stroke-width="0.8" opacity="0.55"/>
<path d="M430.7 377.6q2.7 -1.4 1.5 -4.8" fill="none" stroke="#bcbcbc" stroke-width="0.8" opacity="0.55"/>
<path d="M529.9 378.5q1.6 4.1 6.7 2.8" fill="none" stroke="#bcbcbc" stroke-width="0.8" opacity="0.55"/>
<path d="M426.1 399.7q0.3 3.3 4.2 3.5" fill="none" stroke="#bcbcbc" stroke-width="0.8" opacity="0.55"/>
<path d="M487.9 290.2q-1.9 3.4 1.9 6.3" fill="none" stroke="#bcbcbc" stroke-width="0.8" opacity="0.55"/>
<path d="M427.3 317.3q3.4 3.8 8.4 0.4" fill="none" stroke="#bcbcbc" stroke-width="0.8" opacity="0.55"/>
<path d="M477.7 406.2q0.1 -4 -4.6 -4.7" fill="none" stroke="#bcbcbc" stroke-width="0.8" opacity="0.55"/>
<path d="M478.9 341.6q-4.8 -1.1 -6.9 4.5" fill="none" stroke="#bcbcbc" stroke-width="0.8" opacity="0.55"/>
<path d="M488 200q1.6 -2.4 -1 -4.7" fill="none" stroke="#bcbcbc" stroke-width="0.8" opacity="0.55"/>
<path d="M429 201.8q-2.2 -0.9 -3.7 1.6" fill="none" stroke="#bcbcbc" stroke-width="0.8" opacity="0.55"/>
<path d="M456.4 263.8q0.6 -4.2 -4.4 -5.6" fill="none" stroke="#bcbcbc" stroke-width="0.8" opacity="0.55"/>
<path d="M406.3 405.6q-3.3 2.2 -1.2 6.5" fill="none" stroke="#bcbcbc" stroke-width="0.8" opacity="0.55"/>
<path d="M514.3 305.6q-3 2.2 -0.8 6.1" fill="none" stroke="#bcbcbc" stroke-width="0.8" opacity="0.55"/>
<path d="M499 353.7q-3.9 -2.1 -7.1 2.2" fill="none" stroke="#bcbcbc" stroke-width="0.8" opacity="0.55"/>
<path d="M403.3 394.5q3.9 0.1 4.6 -4.6" fill="none" stroke="#bcbcbc" stroke-width="0.8" opacity="0.55"/>
<path d="M431.5 361.9q5.1 0.9 7 -5.1" fill="none" stroke="#bcbcbc" stroke-width="0.8" opacity="0.55"/>
<path d="M422.4 329.6q-3.3 -3.3 -7.8 0.2" fill="none" stroke="#bcbcbc" stroke-width="0.8" opacity="0.55"/>
<path d="M533.3 274.3q0.9 4.6 6.6 4.3" fill="none" stroke="#bcbcbc" stroke-width="0.8" opacity="0.55"/>
<path d="M449.7 353.5q-1.6 2.1 0.6 4.4" fill="none" stroke="#bcbcbc" stroke-width="0.8" opacity="0.55"/>
<path d="M500.8 393q-2.5 0.8 -2 3.9" fill="none" stroke="#bcbcbc" stroke-width="0.8" opacity="0.55"/>
<path d="M503.4 384q-1.7 -2.1 -4.4 -0.4" fill="none" stroke="#bcbcbc" stroke-width="0.8" opacity="0.55"/>
<path d="M486.1 219.9q-0.3 -2.7 -3.6 -2.9" fill="none" stroke="#bcbcbc" stroke-width="0.8" opacity="0.55"/>
<path d="M433.6 296.6q-2.1 -4.7 -8 -3" fill="none" stroke="#bcbcbc" stroke-width="0.8" opacity="0.55"/>
<path d="M507.5 206.2q2.5 1.3 4.4 -1.5" fill="none" stroke="#bcbcbc" stroke-width="0.8" opacity="0.55"/>
<path d="M547.9 392.3q-3.2 1.2 -2.3 5.2" fill="none" stroke="#bcbcbc" stroke-width="0.8" opacity="0.55"/>
<path d="M515.1 328.2q4 -0.1 4.5 -5" fill="none" stroke="#bcbcbc" stroke-width="0.8" opacity="0.55"/>
<path d="M564.6 307.7q3 3.6 7.7 0.6" fill="none" stroke="#bcbcbc" stroke-width="0.8" opacity="0.55"/>
<path d="M527.8 280.8q1 -4.1 -3.8 -5.9" fill="none" stroke="#bcbcbc" stroke-width="0.8" opacity="0.55"/>
<path d="M464 266.7q-3.9 3.6 -0.2 8.9" fill="none" stroke="#bcbcbc" stroke-width="0.8" opacity="0.55"/>
<path d="M575.7 264.7q-1.6 4 2.9 6.6" fill="none" stroke="#bcbcbc" stroke-width="0.8" opacity="0.55"/>
<path d="M579.4 348.6q3.8 -1.3 2.8 -6" fill="none" stroke="#bcbcbc" stroke-width="0.8" opacity="0.55"/>
<path d="M574.2 249.3q-0.2 -3 -3.9 -3.2" fill="none" stroke="#bcbcbc" stroke-width="0.8" opacity="0.55"/>
<path d="M464.3 303q-3.5 3.1 -0.4 7.8" fill="none" stroke="#bcbcbc" stroke-width="0.8" opacity="0.55"/>
<path d="M440.6 414.9q3 3.6 7.7 0.6" fill="none" stroke="#bcbcbc" stroke-width="0.8" opacity="0.55"/>
<path d="M569.4 193.1q-3.3 1.4 -2.1 5.7" fill="none" stroke="#bcbcbc" stroke-width="0.8" opacity="0.55"/>
<path d="M430.5 273.6q3.3 2.4 6.7 -1.2" fill="none" stroke="#bcbcbc" stroke-width="0.8" opacity="0.55"/>
<path d="M468.3 255.4q1.7 4.5 7.2 3.2" fill="none" stroke="#bcbcbc" stroke-width="0.8" opacity="0.55"/>
<path d="M512.9 342.3q0.6 4.7 6.3 4.8" fill="none" stroke="#bcbcbc" stroke-width="0.8" opacity="0.55"/>
<path d="M414.6 311.1q-2.3 4.8 3 8.3" fill="none" stroke="#bcbcbc" stroke-width="0.8" opacity="0.55"/>
<path d="M442.8 222.1q-2.7 1 -1.9 4.4" fill="none" stroke="#bcbcbc" stroke-width="0.8" opacity="0.55"/>
<path d="M541.3 266.7q1.9 -4.1 -2.6 -7" fill="none" stroke="#bcbcbc" stroke-width="0.8" opacity="0.55"/>
<path d="M454.1 318.1q-3.6 1.1 -2.9 5.6" fill="none" stroke="#bcbcbc" stroke-width="0.8" opacity="0.55"/>
<path d="M428.7 377.4q-2.8 -2.6 -6.3 0.4" fill="none" stroke="#bcbcbc" stroke-width="0.8" opacity="0.55"/>
<path d="M500.6 386q-0.7 5.1 5.3 6.8" fill="none" stroke="#bcbcbc" stroke-width="0.8" opacity="0.55"/>
<path d="M457 329.4q2.2 -4 -2.2 -7.3" fill="none" stroke="#bcbcbc" stroke-width="0.8" opacity="0.55"/>
<path d="M459.9 320.1q1.8 -4.3 -3 -7.2" fill="none" stroke="#bcbcbc" stroke-width="0.8" opacity="0.55"/>
<path d="M520.4 336.8q-2.9 -2.3 -6.1 0.9" fill="none" stroke="#bcbcbc" stroke-width="0.8" opacity="0.55"/>
<path d="M478.2 342.2q1.7 -2.9 -1.6 -5.4" fill="none" stroke="#bcbcbc" stroke-width="0.8" opacity="0.55"/>
<path d="M413.8 403.3q-2.7 0.9 -2 4.3" fill="none" stroke="#bcbcbc" stroke-width="0.8" opacity="0.55"/>
<path d="M409.6 311.8q-1.4 4.8 4.1 7.3" fill="none" stroke="#bcbcbc" stroke-width="0.8" opacity="0.55"/>
<path d="M473.9 384.1q3.5 1 5.3 -3.1" fill="none" stroke="#bcbcbc" stroke-width="0.8" opacity="0.55"/>
<path d="M413.2 375.3q2.1 4.5 7.8 2.7" fill="none" stroke="#bcbcbc" stroke-width="0.8" opacity="0.55"/>
<path d="M400.1 212.3q-1.1 5.2 4.9 7.3" fill="none" stroke="#bcbcbc" stroke-width="0.8" opacity="0.55"/>
<path d="M447.9 412q4.9 0.4 6.2 -5.3" fill="none" stroke="#bcbcbc" stroke-width="0.8" opacity="0.55"/>
<path d="M443.2 384.7q2.9 -3.6 -0.9 -7.6" fill="none" stroke="#bcbcbc" stroke-width="0.8" opacity="0.55"/>
<path d="M543.6 236q-1.7 -2.7 -5.2 -1.2" fill="none" stroke="#bcbcbc" stroke-width="0.8" opacity="0.55"/>
<path d="M538.6 389.6q-2.5 -3.1 -6.5 -0.6" fill="none" stroke="#bcbcbc" stroke-width="0.8" opacity="0.55"/>
<path d="M452.2 358.8q-1.2 -3.1 -5.2 -2.1" fill="none" stroke="#bcbcbc" stroke-width="0.8" opacity="0.55"/>
<path d="M488.2 311.8q1.1 3.6 5.5 2.9" fill="none" stroke="#bcbcbc" stroke-width="0.8" opacity="0.55"/>
<path d="M553.3 307.7q-0.6 2.4 2.2 3.5" fill="none" stroke="#bcbcbc" stroke-width="0.8" opacity="0.55"/>
<path d="M463.5 239.1q-3.6 -1.6 -6.2 2.5" fill="none" stroke="#bcbcbc" stroke-width="0.8" opacity="0.55"/>
<path d="M420.4 334.2q3.8 -1.3 2.8 -6.1" fill="none" stroke="#bcbcbc" stroke-width="0.8" opacity="0.55"/>
<path d="M416.8 311.7q3.5 -1.4 2.4 -5.9" fill="none" stroke="#bcbcbc" stroke-width="0.8" opacity="0.55"/>
<path d="M502.6 284q-3.6 0.7 -3.4 5.1" fill="none" stroke="#bcbcbc" stroke-width="0.8" opacity="0.55"/>
<path d="M427.1 231.1q-1.2 -2.4 -4.2 -1.3" fill="none" stroke="#bcbcbc" stroke-width="0.8" opacity="0.55"/>
<path d="M549.5 246.7q-1.7 3.7 2.4 6.4" fill="none" stroke="#bcbcbc" stroke-width="0.8" opacity="0.55"/>
<path d="M513.5 390.8q-0.3 -4.8 -6.1 -5.2" fill="none" stroke="#bcbcbc" stroke-width="0.8" opacity="0.55"/>
<path d="M527.4 395.2q2 -3.4 -1.8 -6.3" fill="none" stroke="#bcbcbc" stroke-width="0.8" opacity="0.55"/>
<path d="M402.7 294.4q-2.2 3 1 6.1" fill="none" stroke="#bcbcbc" stroke-width="0.8" opacity="0.55"/>
<path d="M513.7 325.1q3 0.4 4 -3.1" fill="none" stroke="#bcbcbc" stroke-width="0.8" opacity="0.55"/>
<path d="M570.8 267.6q2 4.8 8.1 3.1" fill="none" stroke="#bcbcbc" stroke-width="0.8" opacity="0.55"/>
<path d="M528.4 416.4q-2.4 -4.5 -8.1 -2.3" fill="none" stroke="#bcbcbc" stroke-width="0.8" opacity="0.55"/>
<path d="M467.6 289.2q4.6 0.2 5.6 -5.2" fill="none" stroke="#bcbcbc" stroke-width="0.8" opacity="0.55"/>
<path d="M476.5 217.2q-2.2 2.1 -0.1 5.1" fill="none" stroke="#bcbcbc" stroke-width="0.8" opacity="0.55"/>
<path d="M560.3 378.2q-0.6 -3.8 -5.3 -3.7" fill="none" stroke="#bcbcbc" stroke-width="0.8" opacity="0.55"/>
<path d="M515.4 281.1q3.7 -1.2 2.8 -5.8" fill="none" stroke="#bcbcbc" stroke-width="0.8" opacity="0.55"/>
<path d="M435.2 323.3q-1.7 3.7 2.5 6.3" fill="none" stroke="#bcbcbc" stroke-width="0.8" opacity="0.55"/>
<path d="M500.4 265.1q3.1 0.6 4.4 -3" fill="none" stroke="#bcbcbc" stroke-width="0.8" opacity="0.55"/>
<path d="M533.5 421.5q-4.1 -1.1 -6.1 3.7" fill="none" stroke="#bcbcbc" stroke-width="0.8" opacity="0.55"/>
<path d="M401.1 231.2q2.2 -1.6 0.6 -4.4" fill="none" stroke="#bcbcbc" stroke-width="0.8" opacity="0.55"/>
<path d="M544 327.9q2.6 3.1 6.7 0.6" fill="none" stroke="#bcbcbc" stroke-width="0.8" opacity="0.55"/>
<path d="M550 222.7q-1.2 3.2 2.4 5.2" fill="none" stroke="#bcbcbc" stroke-width="0.8" opacity="0.55"/>
<path d="M425.1 303.9q-0 4.7 5.5 5.5" fill="none" stroke="#bcbcbc" stroke-width="0.8" opacity="0.55"/>
<path d="M525.1 268.4q-1.4 -4 -6.5 -2.9" fill="none" stroke="#bcbcbc" stroke-width="0.8" opacity="0.55"/>
<path d="M516 338.1q-3.1 3.3 0.3 7.6" fill="none" stroke="#bcbcbc" stroke-width="0.8" opacity="0.55"/>
<path d="M496 325.4q-3.2 -2 -6.1 1.5" fill="none" stroke="#bcbcbc" stroke-width="0.8" opacity="0.55"/>
<path d="M533 198q1.3 -2.7 -1.7 -4.6" fill="none" stroke="#bcbcbc" stroke-width="0.8" opacity="0.55"/>
<path d="M560 262.5q-3.1 1.6 -1.7 5.5" fill="none" stroke="#bcbcbc" stroke-width="0.8" opacity="0.55"/>
<path d="M411.9 205.9q-1.1 4.6 4.1 6.7" fill="none" stroke="#bcbcbc" stroke-width="0.8" opacity="0.55"/>
<path d="M457.7 306.7q4.3 -1.8 2.8 -7.3" fill="none" stroke="#bcbcbc" stroke-width="0.8" opacity="0.55"/>
<path d="M565.1 257.3q-4.6 -2.4 -8.2 2.7" fill="none" stroke="#bcbcbc" stroke-width="0.8" opacity="0.55"/>
<path d="M477.9 197.8q0.9 -5 -5 -6.9" fill="none" stroke="#bcbcbc" stroke-width="0.8" opacity="0.55"/>
<path d="M463.8 238.6q-2.4 1.2 -1.3 4.3" fill="none" stroke="#bcbcbc" stroke-width="0.8" opacity="0.55"/>
<path d="M545 377q-0.2 -3.9 -4.9 -4.3" fill="none" stroke="#bcbcbc" stroke-width="0.8" opacity="0.55"/>
<path d="M422.7 342.7q-2.6 1.8 -0.8 5.2" fill="none" stroke="#bcbcbc" stroke-width="0.8" opacity="0.55"/>
<path d="M452.2 368.6q4.9 1.5 7.6 -4.1" fill="none" stroke="#bcbcbc" stroke-width="0.8" opacity="0.55"/>
<path d="M509.5 236.8q0.4 3.6 4.8 3.8" fill="none" stroke="#bcbcbc" stroke-width="0.8" opacity="0.55"/>
<path d="M532.3 296.2q-0.5 -5.1 -6.7 -5.2" fill="none" stroke="#bcbcbc" stroke-width="0.8" opacity="0.55"/>
<path d="M506 327.6q-0.3 5.3 5.9 6.6" fill="none" stroke="#bcbcbc" stroke-width="0.8" opacity="0.55"/>
<path d="M557 277.2q2.5 -2.6 -0.2 -6.1" fill="none" stroke="#bcbcbc" stroke-width="0.8" opacity="0.55"/>
<path d="M533.8 296.9q3.3 2.9 7.3 -0.6" fill="none" stroke="#bcbcbc" stroke-width="0.8" opacity="0.55"/>
<path d="M480.8 304.7q2.5 -3.3 -1.1 -6.7" fill="none" stroke="#bcbcbc" stroke-width="0.8" opacity="0.55"/>
<path d="M452.4 317.6q5.2 0.3 6.4 -5.9" fill="none" stroke="#bcbcbc" stroke-width="0.8" opacity="0.55"/>
<path d="M508.1 300q1.8 1.9 4.4 0" fill="none" stroke="#bcbcbc" stroke-width="0.8" opacity="0.55"/>
<path d="M567.8 418.9q2.9 -3 -0.2 -7" fill="none" stroke="#bcbcbc" stroke-width="0.8" opacity="0.55"/>
<path d="M445.2 332.4q-0.7 2.7 2.5 3.9" fill="none" stroke="#bcbcbc" stroke-width="0.8" opacity="0.55"/>
<path d="M528.6 288.7q0.3 4.3 5.5 4.6" fill="none" stroke="#bcbcbc" stroke-width="0.8" opacity="0.55"/>
<path d="M525.8 336.6q-1.6 3.5 2.4 6" fill="none" stroke="#bcbcbc" stroke-width="0.8" opacity="0.55"/>
<path d="M544.1 232.3q4.5 -1 4 -6.5" fill="none" stroke="#bcbcbc" stroke-width="0.8" opacity="0.55"/>
<path d="M414.2 294.7q1.9 -3.1 -1.4 -5.8" fill="none" stroke="#bcbcbc" stroke-width="0.8" opacity="0.55"/>
</g>
<path d="M542.7 211.6Q545.4 211.6 547.9 210.5Q550.5 209.3 553.1 209.9Q555.8 210.5 558.4 210.8Q561.1 211.1 563.3 212.3Q565.5 213.6 567.5 214.9Q569.5 216.3 571.5 218.6Q573.5 220.9 574.1 223.9Q574.8 226.9 576.7 229.4Q578.7 231.9 578.3 235Q578 238 578.3 241Q578.5 244 579.3 247Q580.1 249.9 581 253.1Q581.9 256.3 580.3 259.1Q578.7 261.9 578.3 265Q578 268 578.1 271.1Q578.3 274.2 578.3 277.2Q578.3 280.2 577.5 282.7Q576.6 285.1 576.1 287.6Q575.5 290.1 576.2 292.6Q576.9 295.2 575.2 297.7Q573.4 300.1 575.1 302.5Q576.8 304.9 576.3 307.6Q575.8 310.4 576 313Q576.1 315.6 576.5 318.2Q576.8 320.9 577.5 323.4Q578.3 326 578.8 329.1Q579.4 332.2 578.1 335.1Q576.8 338 577.2 341Q577.6 344.1 577.5 347.1Q577.3 350.2 576.6 352.6Q575.8 355.1 575.7 357.6Q575.7 360.1 574.6 362.5Q573.5 364.9 573.1 367.4Q572.8 369.9 572.7 372.5Q572.6 375 573 377.7Q573.4 380.4 572.3 383.3Q571.1 386.2 570.2 389.1Q569.3 392.1 568.9 395.2Q568.6 398.3 567.6 401.4Q566.6 404.4 564.7 406.5Q562.8 408.5 561.8 411.1Q560.8 413.8 558.6 416.1Q556.4 418.5 553.7 418.5Q551 418.5 548 419.4Q544.9 420.2 544.6 417.7Q544.3 415.1 543.4 412.7Q542.4 410.3 542.3 407.8Q542.1 405.2 542.5 402.6Q542.8 400 541.3 397.7Q539.8 395.4 540.9 392.7Q541.9 389.9 541 387.5Q540.1 385.1 539.2 382.6Q538.3 380.1 539.2 377.5Q540.1 375 539.4 372.5Q538.8 370 539.4 367.5Q540 365 538.9 362.5Q537.8 360.1 537.5 357.6Q537.3 355.1 537.5 352.6Q537.7 350 537.1 347.6Q536.5 345.1 537.3 342.5Q538.1 340 537.4 337.5Q536.7 335.1 536.8 332.5Q536.8 329.9 537.1 327.4Q537.4 324.9 537.8 322.4Q538.3 319.9 537.9 317.4Q537.5 314.8 537.6 312.3Q537.7 309.8 538.7 307.3Q539.7 304.9 539.7 302.4Q539.6 299.9 540.8 297.5Q542.1 295.1 541.3 292.5Q540.5 289.9 540.7 287.4Q540.9 284.9 540.5 282.4Q540 279.9 540.4 277.4Q540.8 274.9 541.8 272.4Q542.8 270 542.8 267.5Q542.7 265 542.4 262.5Q542.1 259.9 543.3 257.5Q544.4 255 543.8 252.6Q543.3 250.1 543.4 247.3Q543.6 244.6 543.4 241.8Q543.2 239.1 543 236.4Q542.8 233.7 541.4 231.1Q540 228.5 540.7 225.6Q541.5 222.8 541 220.1Q540.5 217.4 540.2 214.6Q540 211.7 542.7 211.6Z" fill="#e3e3e3"/>
<path d="M512 230 C505 222 510 212 520 213" fill="none" stroke="#8c8c8c" stroke-width="1.9" stroke-linecap="round" stroke-linejoin="round"/>
<path d="M512 230 C505 222 510 212 520 213" fill="none" stroke="#f2f2f2" stroke-width="0.8" stroke-linecap="round" stroke-linejoin="round"/>
<path d="M560 212 C570 206 585 204 598 209" fill="none" stroke="#8c8c8c" stroke-width="1.9" stroke-linecap="round" stroke-linejoin="round"/>
<path d="M560 212 C570 206 585 204 598 209" fill="none" stroke="#f2f2f2" stroke-width="0.8" stroke-linecap="round" stroke-linejoin="round"/>
<path d="M565 218 C575 222 580 228 590 224 C598 220 602 230 596 236" fill="none" stroke="#8c8c8c" stroke-width="1.9" stroke-linecap="round" stroke-linejoin="round"/>
<path d="M565 218 C575 222 580 228 590 224 C598 220 602 230 596 236" fill="none" stroke="#f2f2f2" stroke-width="0.8" stroke-linecap="round" stroke-linejoin="round"/>
<path d="M580 240 C590 236 600 240 612 244 C625 248 630 240 640 250 C646 256 650 262 648 270" fill="none" stroke="#8c8c8c" stroke-width="1.9" stroke-linecap="round" stroke-linejoin="round"/>
<path d="M580 240 C590 236 600 240 612 244 C625 248 630 240 640 250 C646 256 650 262 648 270" fill="none" stroke="#f2f2f2" stroke-width="0.8" stroke-linecap="round" stroke-linejoin="round"/>
<path d="M600 300 C608 310 615 318 612 328" fill="none" stroke="#8c8c8c" stroke-width="1.9" stroke-linecap="round" stroke-linejoin="round"/>
<path d="M600 300 C608 310 615 318 612 328" fill="none" stroke="#f2f2f2" stroke-width="0.8" stroke-linecap="round" stroke-linejoin="round"/>
<path d="M585 330 C595 335 600 345 596 355 C592 365 600 372 598 380" fill="none" stroke="#8c8c8c" stroke-width="1.9" stroke-linecap="round" stroke-linejoin="round"/>
<path d="M585 330 C595 335 600 345 596 355 C592 365 600 372 598 380" fill="none" stroke="#f2f2f2" stroke-width="0.8" stroke-linecap="round" stroke-linejoin="round"/>
<path d="M570 400 C580 405 590 402 598 395" fill="none" stroke="#8c8c8c" stroke-width="1.9" stroke-linecap="round" stroke-linejoin="round"/>
<path d="M570 400 C580 405 590 402 598 395" fill="none" stroke="#f2f2f2" stroke-width="0.8" stroke-linecap="round" stroke-linejoin="round"/>
<path d="M560 410 C565 415 575 418 580 412" fill="none" stroke="#8c8c8c" stroke-width="1.9" stroke-linecap="round" stroke-linejoin="round"/>
<path d="M560 410 C565 415 575 418 580 412" fill="none" stroke="#f2f2f2" stroke-width="0.8" stroke-linecap="round" stroke-linejoin="round"/>
<path d="M612 250 C620 262 630 262 636 270" fill="none" stroke="#8c8c8c" stroke-width="1.9" stroke-linecap="round" stroke-linejoin="round"/>
<path d="M612 250 C620 262 630 262 636 270" fill="none" stroke="#f2f2f2" stroke-width="0.8" stroke-linecap="round" stroke-linejoin="round"/>
<path d="M630 300 C640 298 645 290 642 282" fill="none" stroke="#8c8c8c" stroke-width="1.9" stroke-linecap="round" stroke-linejoin="round"/>
<path d="M630 300 C640 298 645 290 642 282" fill="none" stroke="#f2f2f2" stroke-width="0.8" stroke-linecap="round" stroke-linejoin="round"/>
<path d="M545 262 C552 270 560 268 566 262" fill="none" stroke="#8c8c8c" stroke-width="1.9" stroke-linecap="round" stroke-linejoin="round"/>
<path d="M545 262 C552 270 560 268 566 262" fill="none" stroke="#f2f2f2" stroke-width="0.8" stroke-linecap="round" stroke-linejoin="round"/>
<path d="M550 305 C558 300 566 305 572 312" fill="none" stroke="#8c8c8c" stroke-width="1.9" stroke-linecap="round" stroke-linejoin="round"/>
<path d="M550 305 C558 300 566 305 572 312" fill="none" stroke="#f2f2f2" stroke-width="0.8" stroke-linecap="round" stroke-linejoin="round"/>
<path d="M575 300 C585 296 592 305 600 300" fill="none" stroke="#8c8c8c" stroke-width="1.9" stroke-linecap="round" stroke-linejoin="round"/>
<path d="M575 300 C585 296 592 305 600 300" fill="none" stroke="#f2f2f2" stroke-width="0.8" stroke-linecap="round" stroke-linejoin="round"/>
<path d="M540 340 C546 350 552 355 558 350" fill="none" stroke="#8c8c8c" stroke-width="1.9" stroke-linecap="round" stroke-linejoin="round"/>
<path d="M540 340 C546 350 552 355 558 350" fill="none" stroke="#f2f2f2" stroke-width="0.8" stroke-linecap="round" stroke-linejoin="round"/>
<path d="M600 280 C606 285 612 292 608 298" fill="none" stroke="#8c8c8c" stroke-width="1.9" stroke-linecap="round" stroke-linejoin="round"/>
<path d="M600 280 C606 285 612 292 608 298" fill="none" stroke="#f2f2f2" stroke-width="0.8" stroke-linecap="round" stroke-linejoin="round"/>
<path d="M620 310 C625 318 628 325 622 330 C616 335 610 340 612 350" fill="none" stroke="#8c8c8c" stroke-width="1.9" stroke-linecap="round" stroke-linejoin="round"/>
<path d="M620 310 C625 318 628 325 622 330 C616 335 610 340 612 350" fill="none" stroke="#f2f2f2" stroke-width="0.8" stroke-linecap="round" stroke-linejoin="round"/>
<path d="M533 212 C540 206 548 208 552 214" fill="none" stroke="#8c8c8c" stroke-width="1.9" stroke-linecap="round" stroke-linejoin="round"/>
<path d="M533 212 C540 206 548 208 552 214" fill="none" stroke="#f2f2f2" stroke-width="0.8" stroke-linecap="round" stroke-linejoin="round"/>
<path d="M585 205 C592 200 600 205 604 212 C608 220 615 222 620 230" fill="none" stroke="#8c8c8c" stroke-width="1.9" stroke-linecap="round" stroke-linejoin="round"/>
<path d="M585 205 C592 200 600 205 604 212 C608 220 615 222 620 230" fill="none" stroke="#f2f2f2" stroke-width="0.8" stroke-linecap="round" stroke-linejoin="round"/>
<path d="M574 262 C580 270 590 272 594 265" fill="none" stroke="#8c8c8c" stroke-width="1.9" stroke-linecap="round" stroke-linejoin="round"/>
<path d="M574 262 C580 270 590 272 594 265" fill="none" stroke="#f2f2f2" stroke-width="0.8" stroke-linecap="round" stroke-linejoin="round"/>
<path d="M560 355 C570 350 578 356 584 350" fill="none" stroke="#8c8c8c" stroke-width="1.9" stroke-linecap="round" stroke-linejoin="round"/>
<path d="M560 355 C570 350 578 356 584 350" fill="none" stroke="#f2f2f2" stroke-width="0.8" stroke-linecap="round" stroke-linejoin="round"/>
<path d="M590 312 C596 318 604 318 608 312" fill="none" stroke="#8c8c8c" stroke-width="1.9" stroke-linecap="round" stroke-linejoin="round"/>
<path d="M590 312 C596 318 604 318 608 312" fill="none" stroke="#f2f2f2" stroke-width="0.8" stroke-linecap="round" stroke-linejoin="round"/>
<path d="M575 375 C582 380 590 385 596 390" fill="none" stroke="#8c8c8c" stroke-width="1.9" stroke-linecap="round" stroke-linejoin="round"/>
<path d="M575 375 C582 380 590 385 596 390" fill="none" stroke="#f2f2f2" stroke-width="0.8" stroke-linecap="round" stroke-linejoin="round"/>
<path d="M548 385 C545 395 550 402 556 405" fill="none" stroke="#8c8c8c" stroke-width="1.9" stroke-linecap="round" stroke-linejoin="round"/>
<path d="M548 385 C545 395 550 402 556 405" fill="none" stroke="#f2f2f2" stroke-width="0.8" stroke-linecap="round" stroke-linejoin="round"/>
<path d="M549.6 212.1Q543 210.6 540.9 208.5Q538.9 208.4 535.9 208.2Q531.8 210.6 529.9 211" fill="none" stroke="#8c8c8c" stroke-width="1.7" stroke-linecap="round" stroke-linejoin="round"/>
<path d="M549.6 212.1Q543 210.6 540.9 208.5Q538.9 208.4 535.9 208.2Q531.8 210.6 529.9 211" fill="none" stroke="#f2f2f2" stroke-width="0.6" stroke-linecap="round" stroke-linejoin="round"/>
<path d="M508.8 236.7Q512.9 233.6 517 233.4Q518.8 231.7 519.7 227.5" fill="none" stroke="#8c8c8c" stroke-width="1.7" stroke-linecap="round" stroke-linejoin="round"/>
<path d="M508.8 236.7Q512.9 233.6 517 233.4Q518.8 231.7 519.7 227.5" fill="none" stroke="#f2f2f2" stroke-width="0.6" stroke-linecap="round" stroke-linejoin="round"/>
<path d="M581.2 290.5Q586.4 290.5 588.3 291.7Q595.6 289.7 597.5 290.8Q600.7 288 602.7 291" fill="none" stroke="#8c8c8c" stroke-width="1.7" stroke-linecap="round" stroke-linejoin="round"/>
<path d="M581.2 290.5Q586.4 290.5 588.3 291.7Q595.6 289.7 597.5 290.8Q600.7 288 602.7 291" fill="none" stroke="#f2f2f2" stroke-width="0.6" stroke-linecap="round" stroke-linejoin="round"/>
<path d="M597.7 285.9Q599.2 282.5 600 279.7Q598.8 276.9 599.3 271.7Q598.3 271.7 602 266.8Q604 260.5 602.1 260.3" fill="none" stroke="#8c8c8c" stroke-width="1.7" stroke-linecap="round" stroke-linejoin="round"/>
<path d="M597.7 285.9Q599.2 282.5 600 279.7Q598.8 276.9 599.3 271.7Q598.3 271.7 602 266.8Q604 260.5 602.1 260.3" fill="none" stroke="#f2f2f2" stroke-width="0.6" stroke-linecap="round" stroke-linejoin="round"/>
<path d="M571.9 352.3Q567 351.9 564.2 347.8Q561.9 346.5 555.5 350.2" fill="none" stroke="#8c8c8c" stroke-width="1.7" stroke-linecap="round" stroke-linejoin="round"/>
<path d="M571.9 352.3Q567 351.9 564.2 347.8Q561.9 346.5 555.5 350.2" fill="none" stroke="#f2f2f2" stroke-width="0.6" stroke-linecap="round" stroke-linejoin="round"/>
<path d="M529.4 346.8Q533.5 343.8 534.4 338.5Q529 332.1 529.2 332.6" fill="none" stroke="#8c8c8c" stroke-width="1.7" stroke-linecap="round" stroke-linejoin="round"/>
<path d="M529.4 346.8Q533.5 343.8 534.4 338.5Q529 332.1 529.2 332.6" fill="none" stroke="#f2f2f2" stroke-width="0.6" stroke-linecap="round" stroke-linejoin="round"/>
<path d="M574.9 383.5Q575.2 383.9 579.9 384.9Q585.5 391 584.6 391.2" fill="none" stroke="#8c8c8c" stroke-width="1.7" stroke-linecap="round" stroke-linejoin="round"/>
<path d="M574.9 383.5Q575.2 383.9 579.9 384.9Q585.5 391 584.6 391.2" fill="none" stroke="#f2f2f2" stroke-width="0.6" stroke-linecap="round" stroke-linejoin="round"/>
<path d="M580.8 350.4Q580.5 342.6 584.9 342.2Q583 335.9 583.4 333.3" fill="none" stroke="#8c8c8c" stroke-width="1.7" stroke-linecap="round" stroke-linejoin="round"/>
<path d="M580.8 350.4Q580.5 342.6 584.9 342.2Q583 335.9 583.4 333.3" fill="none" stroke="#f2f2f2" stroke-width="0.6" stroke-linecap="round" stroke-linejoin="round"/>
<path d="M585 304.3Q580.2 298.9 580 300.2Q577.1 301 570.5 300.3Q570 300 569.2 295.2Q569.3 293.9 565.1 292" fill="none" stroke="#8c8c8c" stroke-width="1.7" stroke-linecap="round" stroke-linejoin="round"/>
<path d="M585 304.3Q580.2 298.9 580 300.2Q577.1 301 570.5 300.3Q570 300 569.2 295.2Q569.3 293.9 565.1 292" fill="none" stroke="#f2f2f2" stroke-width="0.6" stroke-linecap="round" stroke-linejoin="round"/>
<path d="M632.3 270.3Q634.7 265.2 637 263.3Q640.9 264.8 645.4 264.4" fill="none" stroke="#8c8c8c" stroke-width="1.7" stroke-linecap="round" stroke-linejoin="round"/>
<path d="M632.3 270.3Q634.7 265.2 637 263.3Q640.9 264.8 645.4 264.4" fill="none" stroke="#f2f2f2" stroke-width="0.6" stroke-linecap="round" stroke-linejoin="round"/>
<path d="M522.4 341.3" fill="none" stroke="#8c8c8c" stroke-width="1.7" stroke-linecap="round" stroke-linejoin="round"/>
<path d="M522.4 341.3" fill="none" stroke="#f2f2f2" stroke-width="0.6" stroke-linecap="round" stroke-linejoin="round"/>
<path d="M563.3 208.5Q570.4 208.8 573.1 210.2" fill="none" stroke="#8c8c8c" stroke-width="1.7" stroke-linecap="round" stroke-linejoin="round"/>
<path d="M563.3 208.5Q570.4 208.8 573.1 210.2" fill="none" stroke="#f2f2f2" stroke-width="0.6" stroke-linecap="round" stroke-linejoin="round"/>
<path d="M584 316.9Q589.9 316.7 589.6 316.7Q593.9 315.8 593.6 319.7" fill="none" stroke="#8c8c8c" stroke-width="1.7" stroke-linecap="round" stroke-linejoin="round"/>
<path d="M584 316.9Q589.9 316.7 589.6 316.7Q593.9 315.8 593.6 319.7" fill="none" stroke="#f2f2f2" stroke-width="0.6" stroke-linecap="round" stroke-linejoin="round"/>
<path d="M585.9 329.3Q588.7 335 587.5 335.7Q586.4 341.4 590.1 342.8" fill="none" stroke="#8c8c8c" stroke-width="1.7" stroke-linecap="round" stroke-linejoin="round"/>
<path d="M585.9 329.3Q588.7 335 587.5 335.7Q586.4 341.4 590.1 342.8" fill="none" stroke="#f2f2f2" stroke-width="0.6" stroke-linecap="round" stroke-linejoin="round"/>
<path d="M569.8 320.9Q570.2 326.6 571.6 329.3Q572 330.5 573.8 334.8" fill="none" stroke="#8c8c8c" stroke-width="1.7" stroke-linecap="round" stroke-linejoin="round"/>
<path d="M569.8 320.9Q570.2 326.6 571.6 329.3Q572 330.5 573.8 334.8" fill="none" stroke="#f2f2f2" stroke-width="0.6" stroke-linecap="round" stroke-linejoin="round"/>
<path d="M564.6 231Q561.4 226 561.4 223Q557.7 217.5 558.2 217.2" fill="none" stroke="#8c8c8c" stroke-width="1.7" stroke-linecap="round" stroke-linejoin="round"/>
<path d="M564.6 231Q561.4 226 561.4 223Q557.7 217.5 558.2 217.2" fill="none" stroke="#f2f2f2" stroke-width="0.6" stroke-linecap="round" stroke-linejoin="round"/>
<path d="M555.1 364.3Q553 371.8 553.5 373.7Q556.1 374.4 556.1 378.5Q558.7 382.2 558.2 384.1" fill="none" stroke="#8c8c8c" stroke-width="1.7" stroke-linecap="round" stroke-linejoin="round"/>
<path d="M555.1 364.3Q553 371.8 553.5 373.7Q556.1 374.4 556.1 378.5Q558.7 382.2 558.2 384.1" fill="none" stroke="#f2f2f2" stroke-width="0.6" stroke-linecap="round" stroke-linejoin="round"/>
<path d="M572.1 311.4Q565.9 311.8 564.4 307.2Q560.7 300.9 560.3 298.6" fill="none" stroke="#8c8c8c" stroke-width="1.7" stroke-linecap="round" stroke-linejoin="round"/>
<path d="M572.1 311.4Q565.9 311.8 564.4 307.2Q560.7 300.9 560.3 298.6" fill="none" stroke="#f2f2f2" stroke-width="0.6" stroke-linecap="round" stroke-linejoin="round"/>
<path d="M607.7 235.4Q608.3 236.3 611.6 239.4Q615.1 240.8 616.8 241.5Q622.2 243.2 622.5 245.3Q629.7 246.2 629.9 247.9" fill="none" stroke="#8c8c8c" stroke-width="1.7" stroke-linecap="round" stroke-linejoin="round"/>
<path d="M607.7 235.4Q608.3 236.3 611.6 239.4Q615.1 240.8 616.8 241.5Q622.2 243.2 622.5 245.3Q629.7 246.2 629.9 247.9" fill="none" stroke="#f2f2f2" stroke-width="0.6" stroke-linecap="round" stroke-linejoin="round"/>
<path d="M605 297Q604.9 296.8 600.9 292.6Q595.6 286.1 594.6 286.6Q591.5 284.6 586.6 286.8Q583.1 289.2 583.2 292.3" fill="none" stroke="#8c8c8c" stroke-width="1.7" stroke-linecap="round" stroke-linejoin="round"/>
<path d="M605 297Q604.9 296.8 600.9 292.6Q595.6 286.1 594.6 286.6Q591.5 284.6 586.6 286.8Q583.1 289.2 583.2 292.3" fill="none" stroke="#f2f2f2" stroke-width="0.6" stroke-linecap="round" stroke-linejoin="round"/>
<path d="M615.2 280.9Q616.1 280.9 616.3 276Q617 271 612.5 272.5Q610.3 267.7 610.9 265.1Q610 261.2 614.3 258.6" fill="none" stroke="#8c8c8c" stroke-width="1.7" stroke-linecap="round" stroke-linejoin="round"/>
<path d="M615.2 280.9Q616.1 280.9 616.3 276Q617 271 612.5 272.5Q610.3 267.7 610.9 265.1Q610 261.2 614.3 258.6" fill="none" stroke="#f2f2f2" stroke-width="0.6" stroke-linecap="round" stroke-linejoin="round"/>
<path d="M619 231.1Q612 235.9 610.6 236Q606 238.3 607.6 242.3Q608.7 243.8 608 248.6Q610.9 252.9 612.5 254.9" fill="none" stroke="#8c8c8c" stroke-width="1.7" stroke-linecap="round" stroke-linejoin="round"/>
<path d="M619 231.1Q612 235.9 610.6 236Q606 238.3 607.6 242.3Q608.7 243.8 608 248.6Q610.9 252.9 612.5 254.9" fill="none" stroke="#f2f2f2" stroke-width="0.6" stroke-linecap="round" stroke-linejoin="round"/>
<path d="M530.5 259Q530.2 253.5 532.3 251Q529.6 245.8 532.2 243.5" fill="none" stroke="#8c8c8c" stroke-width="1.7" stroke-linecap="round" stroke-linejoin="round"/>
<path d="M530.5 259Q530.2 253.5 532.3 251Q529.6 245.8 532.2 243.5" fill="none" stroke="#f2f2f2" stroke-width="0.6" stroke-linecap="round" stroke-linejoin="round"/>
<path d="M513 209.6" fill="none" stroke="#8c8c8c" stroke-width="1.7" stroke-linecap="round" stroke-linejoin="round"/>
<path d="M513 209.6" fill="none" stroke="#f2f2f2" stroke-width="0.6" stroke-linecap="round" stroke-linejoin="round"/>
<path d="M580.5 332.6Q574.4 335.7 572.3 335.9Q570.2 340.6 565.8 339.4Q565.1 337.8 559.8 341.2" fill="none" stroke="#8c8c8c" stroke-width="1.7" stroke-linecap="round" stroke-linejoin="round"/>
<path d="M580.5 332.6Q574.4 335.7 572.3 335.9Q570.2 340.6 565.8 339.4Q565.1 337.8 559.8 341.2" fill="none" stroke="#f2f2f2" stroke-width="0.6" stroke-linecap="round" stroke-linejoin="round"/>
<path d="M558.5 288.9Q561.9 282.8 562 281.2Q565.9 277.5 567.5 274.6Q566.4 270.8 567.5 268.3Q564 267.7 566.2 262.4" fill="none" stroke="#8c8c8c" stroke-width="1.7" stroke-linecap="round" stroke-linejoin="round"/>
<path d="M558.5 288.9Q561.9 282.8 562 281.2Q565.9 277.5 567.5 274.6Q566.4 270.8 567.5 268.3Q564 267.7 566.2 262.4" fill="none" stroke="#f2f2f2" stroke-width="0.6" stroke-linecap="round" stroke-linejoin="round"/>
<path d="M557.5 390.9Q555.5 387.6 557.3 382.4Q560.7 377.1 562.1 374.4" fill="none" stroke="#8c8c8c" stroke-width="1.7" stroke-linecap="round" stroke-linejoin="round"/>
<path d="M557.5 390.9Q555.5 387.6 557.3 382.4Q560.7 377.1 562.1 374.4" fill="none" stroke="#f2f2f2" stroke-width="0.6" stroke-linecap="round" stroke-linejoin="round"/>
<path d="M519.7 216 L557.3 221.3 L557 223.1 L562 220 L558.1 215.6 L557.8 217.4 L520.3 212Z" fill="#c4c4c4" stroke="#7e7e7e" stroke-width="0.55" stroke-linejoin="round"/>
<path d="M516.2 238 L555.8 233.5 L556 235.3 L560 231 L555.1 227.7 L555.3 229.5 L515.8 234Z" fill="#c4c4c4" stroke="#7e7e7e" stroke-width="0.55" stroke-linejoin="round"/>
<path d="M540.5 227.9 L581.2 217.1 L581.6 218.8 L585 214 L579.7 211.5 L580.1 213.2 L539.5 224.1Z" fill="#c4c4c4" stroke="#7e7e7e" stroke-width="0.55" stroke-linejoin="round"/>
<path d="M575.2 247 L596.1 285 L594.5 285.9 L600 288 L601.2 282.2 L599.6 283.1 L578.8 245Z" fill="#c4c4c4" stroke="#7e7e7e" stroke-width="0.55" stroke-linejoin="round"/>
<path d="M568.3 254.1 L588.9 287.2 L587.4 288.2 L593 290 L593.9 284.2 L592.3 285.1 L571.7 251.9Z" fill="#c4c4c4" stroke="#7e7e7e" stroke-width="0.55" stroke-linejoin="round"/>
<path d="M583.3 246.9 L607.1 255.4 L606.5 257.1 L612 255 L609 249.9 L608.4 251.6 L584.7 243.1Z" fill="#c4c4c4" stroke="#7e7e7e" stroke-width="0.55" stroke-linejoin="round"/>
<path d="M599.7 260 L626.3 263.4 L626.1 265.2 L631 262 L627 257.7 L626.8 259.4 L600.3 256Z" fill="#c4c4c4" stroke="#7e7e7e" stroke-width="0.55" stroke-linejoin="round"/>
<path d="M555.5 299.9 L580.1 306.7 L579.7 308.5 L585 306 L581.7 301.1 L581.2 302.9 L556.5 296.1Z" fill="#c4c4c4" stroke="#7e7e7e" stroke-width="0.55" stroke-linejoin="round"/>
<path d="M571.5 319.9 L593.1 325.8 L592.7 327.5 L598 325 L594.6 320.2 L594.2 321.9 L572.5 316.1Z" fill="#c4c4c4" stroke="#7e7e7e" stroke-width="0.55" stroke-linejoin="round"/>
<path d="M553.2 352.9 L566.1 377 L564.5 377.8 L570 380 L571.2 374.2 L569.6 375.1 L556.8 351.1Z" fill="#c4c4c4" stroke="#7e7e7e" stroke-width="0.55" stroke-linejoin="round"/>
<path d="M602 332.4 L607 309.8 L608.7 310.2 L606 305 L601.3 308.6 L603.1 309 L598 331.6Z" fill="#c4c4c4" stroke="#7e7e7e" stroke-width="0.55" stroke-linejoin="round"/>
<ellipse cx="620" cy="275" rx="4.5" ry="3" fill="none" stroke="#707070" stroke-width="1.6"/>
<ellipse cx="620.8" cy="280.2" rx="4.5" ry="3" fill="none" stroke="#707070" stroke-width="1.6"/>
<ellipse cx="621.6" cy="285.4" rx="4.5" ry="3" fill="none" stroke="#707070" stroke-width="1.6"/>
<ellipse cx="622.4" cy="290.6" rx="4.5" ry="3" fill="none" stroke="#707070" stroke-width="1.6"/>
<ellipse cx="623.2" cy="295.8" rx="4.5" ry="3" fill="none" stroke="#707070" stroke-width="1.6"/>
<ellipse cx="624" cy="301" rx="4.5" ry="3" fill="none" stroke="#707070" stroke-width="1.6"/>
<path d="M643 265 C652 268 652 282 643 284 C636 284 636 270 643 265" fill="none" stroke="#8c8c8c" stroke-width="1.6" stroke-linecap="round" stroke-linejoin="round"/>
<path d="M643 265 C652 268 652 282 643 284 C636 284 636 270 643 265" fill="none" stroke="#f2f2f2" stroke-width="0.5" stroke-linecap="round" stroke-linejoin="round"/>
<path d="M516 297 C525 298 533 300 533 310 C533 318 532 326 535 334 C537 342 531 352 530 362 C529 372 524 380 520 388 C515 398 508 406 502 413" fill="none" stroke="#5a5a5a" stroke-width="5" stroke-linecap="round"/>
<path d="M516 297 C525 298 533 300 533 310 C533 318 532 326 535 334 C537 342 531 352 530 362 C529 372 524 380 520 388 C515 398 508 406 502 413" fill="none" stroke="#8a8a8a" stroke-width="5" stroke-dasharray="0.7 3.2" opacity="0.7"/>
<path d="M538.7 356.7 L551.6 380.7 L550.4 381.4 L555 384 L555.4 378.7 L554.2 379.3 L541.3 355.3Z" fill="#5a5a5a" stroke="#444" stroke-width="0.55" stroke-linejoin="round"/>
<path d="M546.7 352.7 L559.6 376.7 L558.4 377.4 L563 380 L563.4 374.7 L562.2 375.3 L549.3 351.3Z" fill="#666" stroke="#444" stroke-width="0.55" stroke-linejoin="round"/>
<path d="M560 373 L585 372 M540 392 C545 404 552 410 560 412 M522 372 C528 366 534 362 540 358 M512 330 C520 336 526 340 532 338" fill="none" stroke="#5a5a5a" stroke-width="2.8" stroke-linecap="round"/>
<circle cx="576" cy="361" r="4" fill="none" stroke="#5a5a5a" stroke-width="2.2"/>
<path d="M582 378 C590 376 592 388 586 390 C580 392 578 384 582 378" fill="none" stroke="#5a5a5a" stroke-width="2.8"/>
<path d="M545 250 L553 247 L551 256 Z" fill="#5a5a5a"/>
<path d="M512 300 C508 306 512 312 508 318" fill="none" stroke="#5a5a5a" stroke-width="2.2"/>
<circle cx="513" cy="238" r="3.1" fill="#2062ae" opacity="1"/>
<circle cx="513" cy="238" r="3.1" fill="url(#sph)" opacity="1"/>
<circle cx="514.5" cy="243" r="3.1" fill="#2062ae" opacity="1"/>
<circle cx="514.5" cy="243" r="3.1" fill="url(#sph)" opacity="1"/>
<circle cx="523" cy="243" r="3.1" fill="#2062ae" opacity="1"/>
<circle cx="523" cy="243" r="3.1" fill="url(#sph)" opacity="1"/>
<circle cx="528" cy="243" r="3.1" fill="#2062ae" opacity="1"/>
<circle cx="528" cy="243" r="3.1" fill="url(#sph)" opacity="1"/>
<circle cx="526" cy="247" r="3.1" fill="#2062ae" opacity="1"/>
<circle cx="526" cy="247" r="3.1" fill="url(#sph)" opacity="1"/>
<circle cx="559" cy="220" r="3.1" fill="#2062ae" opacity="1"/>
<circle cx="559" cy="220" r="3.1" fill="url(#sph)" opacity="1"/>
<circle cx="553" cy="223" r="3.1" fill="#2062ae" opacity="1"/>
<circle cx="553" cy="223" r="3.1" fill="url(#sph)" opacity="1"/>
<circle cx="564" cy="224" r="3.1" fill="#2062ae" opacity="1"/>
<circle cx="564" cy="224" r="3.1" fill="url(#sph)" opacity="1"/>
<circle cx="557" cy="226" r="3.1" fill="#2062ae" opacity="1"/>
<circle cx="557" cy="226" r="3.1" fill="url(#sph)" opacity="1"/>
<circle cx="561" cy="228" r="3.1" fill="#2062ae" opacity="1"/>
<circle cx="561" cy="228" r="3.1" fill="url(#sph)" opacity="1"/>
<circle cx="548" cy="230" r="3.1" fill="#2062ae" opacity="1"/>
<circle cx="548" cy="230" r="3.1" fill="url(#sph)" opacity="1"/>
<circle cx="553" cy="233" r="3.1" fill="#2062ae" opacity="1"/>
<circle cx="553" cy="233" r="3.1" fill="url(#sph)" opacity="1"/>
<circle cx="549" cy="236" r="3.1" fill="#2062ae" opacity="1"/>
<circle cx="549" cy="236" r="3.1" fill="url(#sph)" opacity="1"/>
<circle cx="552" cy="239" r="3.1" fill="#2062ae" opacity="1"/>
<circle cx="552" cy="239" r="3.1" fill="url(#sph)" opacity="1"/>
<circle cx="541" cy="253" r="2.6" fill="#d35ad8" opacity="1"/>
<circle cx="541" cy="253" r="2.6" fill="url(#sph)" opacity="1"/>
<circle cx="537" cy="254" r="2.6" fill="#d35ad8" opacity="1"/>
<circle cx="537" cy="254" r="2.6" fill="url(#sph)" opacity="1"/>
<circle cx="540" cy="257" r="2.6" fill="#d35ad8" opacity="1"/>
<circle cx="540" cy="257" r="2.6" fill="url(#sph)" opacity="1"/>
<circle cx="570.2" cy="273.6" r="3.1" fill="#d35ad8" opacity="1"/>
<circle cx="570.2" cy="273.6" r="3.1" fill="url(#sph)" opacity="1"/>
<circle cx="568.1" cy="274.7" r="3.1" fill="#d35ad8" opacity="1"/>
<circle cx="568.1" cy="274.7" r="3.1" fill="url(#sph)" opacity="1"/>
<circle cx="569.7" cy="274.7" r="3.1" fill="#d35ad8" opacity="1"/>
<circle cx="569.7" cy="274.7" r="3.1" fill="url(#sph)" opacity="1"/>
<circle cx="570.2" cy="275.5" r="3.1" fill="#d35ad8" opacity="1"/>
<circle cx="570.2" cy="275.5" r="3.1" fill="url(#sph)" opacity="1"/>
<circle cx="569.4" cy="275.5" r="3.1" fill="#d35ad8" opacity="1"/>
<circle cx="569.4" cy="275.5" r="3.1" fill="url(#sph)" opacity="1"/>
<circle cx="563.5" cy="276.5" r="3.1" fill="#d35ad8" opacity="1"/>
<circle cx="563.5" cy="276.5" r="3.1" fill="url(#sph)" opacity="1"/>
<circle cx="565.9" cy="277.7" r="3.1" fill="#d35ad8" opacity="1"/>
<circle cx="565.9" cy="277.7" r="3.1" fill="url(#sph)" opacity="1"/>
<circle cx="570" cy="280.7" r="3.1" fill="#d35ad8" opacity="1"/>
<circle cx="570" cy="280.7" r="3.1" fill="url(#sph)" opacity="1"/>
<circle cx="564.4" cy="280.8" r="3.1" fill="#d35ad8" opacity="1"/>
<circle cx="564.4" cy="280.8" r="3.1" fill="url(#sph)" opacity="1"/>
<circle cx="552.4" cy="290.5" r="3.1" fill="#d35ad8" opacity="1"/>
<circle cx="552.4" cy="290.5" r="3.1" fill="url(#sph)" opacity="1"/>
<circle cx="557.9" cy="290.9" r="3.1" fill="#d35ad8" opacity="1"/>
<circle cx="557.9" cy="290.9" r="3.1" fill="url(#sph)" opacity="1"/>
<circle cx="551.2" cy="291.6" r="3.1" fill="#d35ad8" opacity="1"/>
<circle cx="551.2" cy="291.6" r="3.1" fill="url(#sph)" opacity="1"/>
<circle cx="554.3" cy="292.2" r="3.1" fill="#d35ad8" opacity="1"/>
<circle cx="554.3" cy="292.2" r="3.1" fill="url(#sph)" opacity="1"/>
<circle cx="551" cy="292.6" r="3.1" fill="#d35ad8" opacity="1"/>
<circle cx="551" cy="292.6" r="3.1" fill="url(#sph)" opacity="1"/>
<circle cx="553.8" cy="293.1" r="3.1" fill="#d35ad8" opacity="1"/>
<circle cx="553.8" cy="293.1" r="3.1" fill="url(#sph)" opacity="1"/>
<circle cx="556.9" cy="293.3" r="3.1" fill="#d35ad8" opacity="1"/>
<circle cx="556.9" cy="293.3" r="3.1" fill="url(#sph)" opacity="1"/>
<circle cx="557.3" cy="294.3" r="3.1" fill="#d35ad8" opacity="1"/>
<circle cx="557.3" cy="294.3" r="3.1" fill="url(#sph)" opacity="1"/>
<circle cx="558.4" cy="294.5" r="3.1" fill="#d35ad8" opacity="1"/>
<circle cx="558.4" cy="294.5" r="3.1" fill="url(#sph)" opacity="1"/>
<circle cx="560.3" cy="294.5" r="3.1" fill="#d35ad8" opacity="1"/>
<circle cx="560.3" cy="294.5" r="3.1" fill="url(#sph)" opacity="1"/>
<circle cx="556.9" cy="295.1" r="3.1" fill="#d35ad8" opacity="1"/>
<circle cx="556.9" cy="295.1" r="3.1" fill="url(#sph)" opacity="1"/>
<circle cx="560.7" cy="295.2" r="3.1" fill="#d35ad8" opacity="1"/>
<circle cx="560.7" cy="295.2" r="3.1" fill="url(#sph)" opacity="1"/>
<circle cx="557.8" cy="295.5" r="3.1" fill="#d35ad8" opacity="1"/>
<circle cx="557.8" cy="295.5" r="3.1" fill="url(#sph)" opacity="1"/>
<circle cx="554.2" cy="295.6" r="3.1" fill="#d35ad8" opacity="1"/>
<circle cx="554.2" cy="295.6" r="3.1" fill="url(#sph)" opacity="1"/>
<circle cx="558" cy="298.4" r="3.1" fill="#d35ad8" opacity="1"/>
<circle cx="558" cy="298.4" r="3.1" fill="url(#sph)" opacity="1"/>
<circle cx="533.3" cy="277.3" r="3.1" fill="#1fe27c" opacity="1"/>
<circle cx="533.3" cy="277.3" r="3.1" fill="url(#sph)" opacity="1"/>
<circle cx="526.4" cy="278" r="3.1" fill="#1fe27c" opacity="1"/>
<circle cx="526.4" cy="278" r="3.1" fill="url(#sph)" opacity="1"/>
<circle cx="522.8" cy="278.6" r="3.1" fill="#1fe27c" opacity="1"/>
<circle cx="522.8" cy="278.6" r="3.1" fill="url(#sph)" opacity="1"/>
<circle cx="535.5" cy="278.6" r="3.1" fill="#1fe27c" opacity="1"/>
<circle cx="535.5" cy="278.6" r="3.1" fill="url(#sph)" opacity="1"/>
<circle cx="533.1" cy="279.8" r="3.1" fill="#1fe27c" opacity="1"/>
<circle cx="533.1" cy="279.8" r="3.1" fill="url(#sph)" opacity="1"/>
<circle cx="535.6" cy="280.8" r="3.1" fill="#1fe27c" opacity="1"/>
<circle cx="535.6" cy="280.8" r="3.1" fill="url(#sph)" opacity="1"/>
<circle cx="533.5" cy="283" r="3.1" fill="#1fe27c" opacity="1"/>
<circle cx="533.5" cy="283" r="3.1" fill="url(#sph)" opacity="1"/>
<circle cx="522.6" cy="283.1" r="3.1" fill="#1fe27c" opacity="1"/>
<circle cx="522.6" cy="283.1" r="3.1" fill="url(#sph)" opacity="1"/>
<circle cx="534" cy="283.6" r="3.1" fill="#1fe27c" opacity="1"/>
<circle cx="534" cy="283.6" r="3.1" fill="url(#sph)" opacity="1"/>
<circle cx="531.2" cy="284.6" r="3.1" fill="#1fe27c" opacity="1"/>
<circle cx="531.2" cy="284.6" r="3.1" fill="url(#sph)" opacity="1"/>
<circle cx="528.2" cy="285" r="3.1" fill="#1fe27c" opacity="1"/>
<circle cx="528.2" cy="285" r="3.1" fill="url(#sph)" opacity="1"/>
<circle cx="524.3" cy="285" r="3.1" fill="#1fe27c" opacity="1"/>
<circle cx="524.3" cy="285" r="3.1" fill="url(#sph)" opacity="1"/>
<circle cx="533.3" cy="285.2" r="3.1" fill="#1fe27c" opacity="1"/>
<circle cx="533.3" cy="285.2" r="3.1" fill="url(#sph)" opacity="1"/>
<circle cx="533.2" cy="285.3" r="3.1" fill="#1fe27c" opacity="1"/>
<circle cx="533.2" cy="285.3" r="3.1" fill="url(#sph)" opacity="1"/>
<circle cx="536.5" cy="286.1" r="3.1" fill="#1fe27c" opacity="1"/>
<circle cx="536.5" cy="286.1" r="3.1" fill="url(#sph)" opacity="1"/>
<circle cx="536.4" cy="288.1" r="3.1" fill="#1fe27c" opacity="1"/>
<circle cx="536.4" cy="288.1" r="3.1" fill="url(#sph)" opacity="1"/>
<circle cx="524.6" cy="288.9" r="3.1" fill="#1fe27c" opacity="1"/>
<circle cx="524.6" cy="288.9" r="3.1" fill="url(#sph)" opacity="1"/>
<circle cx="535.6" cy="289.4" r="3.1" fill="#1fe27c" opacity="1"/>
<circle cx="535.6" cy="289.4" r="3.1" fill="url(#sph)" opacity="1"/>
<circle cx="535.7" cy="290.4" r="3.1" fill="#1fe27c" opacity="1"/>
<circle cx="535.7" cy="290.4" r="3.1" fill="url(#sph)" opacity="1"/>
<circle cx="525.9" cy="290.5" r="3.1" fill="#1fe27c" opacity="1"/>
<circle cx="525.9" cy="290.5" r="3.1" fill="url(#sph)" opacity="1"/>
<circle cx="509.5" cy="303.7" r="3.1" fill="#e8981f" opacity="1"/>
<circle cx="509.5" cy="303.7" r="3.1" fill="url(#sph)" opacity="1"/>
<circle cx="511.5" cy="305.1" r="3.1" fill="#e8981f" opacity="1"/>
<circle cx="511.5" cy="305.1" r="3.1" fill="url(#sph)" opacity="1"/>
<circle cx="506.1" cy="305.5" r="3.1" fill="#e8981f" opacity="1"/>
<circle cx="506.1" cy="305.5" r="3.1" fill="url(#sph)" opacity="1"/>
<circle cx="512.6" cy="306.8" r="3.1" fill="#e8981f" opacity="1"/>
<circle cx="512.6" cy="306.8" r="3.1" fill="url(#sph)" opacity="1"/>
<circle cx="506.8" cy="307.3" r="3.1" fill="#e8981f" opacity="1"/>
<circle cx="506.8" cy="307.3" r="3.1" fill="url(#sph)" opacity="1"/>
<circle cx="514.6" cy="308.1" r="3.1" fill="#e8981f" opacity="1"/>
<circle cx="514.6" cy="308.1" r="3.1" fill="url(#sph)" opacity="1"/>
<circle cx="514.2" cy="308.1" r="3.1" fill="#e8981f" opacity="1"/>
<circle cx="514.2" cy="308.1" r="3.1" fill="url(#sph)" opacity="1"/>
<circle cx="518.6" cy="309.2" r="3.1" fill="#e8981f" opacity="1"/>
<circle cx="518.6" cy="309.2" r="3.1" fill="url(#sph)" opacity="1"/>
<circle cx="511.2" cy="309.8" r="3.1" fill="#e8981f" opacity="1"/>
<circle cx="511.2" cy="309.8" r="3.1" fill="url(#sph)" opacity="1"/>
<circle cx="508.5" cy="309.8" r="3.1" fill="#e8981f" opacity="1"/>
<circle cx="508.5" cy="309.8" r="3.1" fill="url(#sph)" opacity="1"/>
<circle cx="517.5" cy="309.9" r="3.1" fill="#e8981f" opacity="1"/>
<circle cx="517.5" cy="309.9" r="3.1" fill="url(#sph)" opacity="1"/>
<circle cx="513.2" cy="310.8" r="3.1" fill="#e8981f" opacity="1"/>
<circle cx="513.2" cy="310.8" r="3.1" fill="url(#sph)" opacity="1"/>
<circle cx="516.2" cy="310.9" r="3.1" fill="#e8981f" opacity="1"/>
<circle cx="516.2" cy="310.9" r="3.1" fill="url(#sph)" opacity="1"/>
<circle cx="512.7" cy="311.6" r="3.1" fill="#e8981f" opacity="1"/>
<circle cx="512.7" cy="311.6" r="3.1" fill="url(#sph)" opacity="1"/>
<circle cx="507.1" cy="313.1" r="3.1" fill="#e8981f" opacity="1"/>
<circle cx="507.1" cy="313.1" r="3.1" fill="url(#sph)" opacity="1"/>
<circle cx="519.8" cy="315.1" r="3.1" fill="#e8981f" opacity="1"/>
<circle cx="519.8" cy="315.1" r="3.1" fill="url(#sph)" opacity="1"/>
<circle cx="525.2" cy="316.7" r="3.1" fill="#e8981f" opacity="1"/>
<circle cx="525.2" cy="316.7" r="3.1" fill="url(#sph)" opacity="1"/>
<circle cx="520.1" cy="317" r="3.1" fill="#e8981f" opacity="1"/>
<circle cx="520.1" cy="317" r="3.1" fill="url(#sph)" opacity="1"/>
<circle cx="520.7" cy="319.5" r="3.1" fill="#e8981f" opacity="1"/>
<circle cx="520.7" cy="319.5" r="3.1" fill="url(#sph)" opacity="1"/>
<circle cx="518.4" cy="319.7" r="3.1" fill="#e8981f" opacity="1"/>
<circle cx="518.4" cy="319.7" r="3.1" fill="url(#sph)" opacity="1"/>
<circle cx="519.8" cy="320.4" r="3.1" fill="#e8981f" opacity="1"/>
<circle cx="519.8" cy="320.4" r="3.1" fill="url(#sph)" opacity="1"/>
<circle cx="525" cy="320.4" r="3.1" fill="#e8981f" opacity="1"/>
<circle cx="525" cy="320.4" r="3.1" fill="url(#sph)" opacity="1"/>
<circle cx="521.1" cy="321" r="3.1" fill="#e8981f" opacity="1"/>
<circle cx="521.1" cy="321" r="3.1" fill="url(#sph)" opacity="1"/>
<circle cx="518.7" cy="321.4" r="3.1" fill="#e8981f" opacity="1"/>
<circle cx="518.7" cy="321.4" r="3.1" fill="url(#sph)" opacity="1"/>
<circle cx="523.1" cy="322" r="3.1" fill="#e8981f" opacity="1"/>
<circle cx="523.1" cy="322" r="3.1" fill="url(#sph)" opacity="1"/>
<circle cx="524" cy="322.1" r="3.1" fill="#e8981f" opacity="1"/>
<circle cx="524" cy="322.1" r="3.1" fill="url(#sph)" opacity="1"/>
<circle cx="520.7" cy="322.7" r="3.1" fill="#e8981f" opacity="1"/>
<circle cx="520.7" cy="322.7" r="3.1" fill="url(#sph)" opacity="1"/>
<circle cx="519.8" cy="324.8" r="3.1" fill="#e8981f" opacity="1"/>
<circle cx="519.8" cy="324.8" r="3.1" fill="url(#sph)" opacity="1"/>
<circle cx="520.1" cy="327.9" r="3.1" fill="#e8981f" opacity="1"/>
<circle cx="520.1" cy="327.9" r="3.1" fill="url(#sph)" opacity="1"/>
<circle cx="526.3" cy="328.5" r="3.1" fill="#e8981f" opacity="1"/>
<circle cx="526.3" cy="328.5" r="3.1" fill="url(#sph)" opacity="1"/>
<circle cx="535.9" cy="312.8" r="3.1" fill="#1fe27c" opacity="1"/>
<circle cx="535.9" cy="312.8" r="3.1" fill="url(#sph)" opacity="1"/>
<circle cx="537.3" cy="313.3" r="3.1" fill="#1fe27c" opacity="1"/>
<circle cx="537.3" cy="313.3" r="3.1" fill="url(#sph)" opacity="1"/>
<circle cx="543.4" cy="315.5" r="3.1" fill="#1fe27c" opacity="1"/>
<circle cx="543.4" cy="315.5" r="3.1" fill="url(#sph)" opacity="1"/>
<circle cx="539.7" cy="316.3" r="3.1" fill="#1fe27c" opacity="1"/>
<circle cx="539.7" cy="316.3" r="3.1" fill="url(#sph)" opacity="1"/>
<circle cx="535.5" cy="317" r="3.1" fill="#1fe27c" opacity="1"/>
<circle cx="535.5" cy="317" r="3.1" fill="url(#sph)" opacity="1"/>
<circle cx="538.8" cy="317" r="3.1" fill="#1fe27c" opacity="1"/>
<circle cx="538.8" cy="317" r="3.1" fill="url(#sph)" opacity="1"/>
<circle cx="540.3" cy="317.7" r="3.1" fill="#1fe27c" opacity="1"/>
<circle cx="540.3" cy="317.7" r="3.1" fill="url(#sph)" opacity="1"/>
<circle cx="535.8" cy="318.5" r="3.1" fill="#1fe27c" opacity="1"/>
<circle cx="535.8" cy="318.5" r="3.1" fill="url(#sph)" opacity="1"/>
<circle cx="542.4" cy="318.8" r="3.1" fill="#1fe27c" opacity="1"/>
<circle cx="542.4" cy="318.8" r="3.1" fill="url(#sph)" opacity="1"/>
<circle cx="541.6" cy="320.9" r="3.1" fill="#1fe27c" opacity="1"/>
<circle cx="541.6" cy="320.9" r="3.1" fill="url(#sph)" opacity="1"/>
<circle cx="560.2" cy="321.6" r="3.1" fill="#1fe27c" opacity="1"/>
<circle cx="560.2" cy="321.6" r="3.1" fill="url(#sph)" opacity="1"/>
<circle cx="556.9" cy="325.3" r="3.1" fill="#1fe27c" opacity="1"/>
<circle cx="556.9" cy="325.3" r="3.1" fill="url(#sph)" opacity="1"/>
<circle cx="561" cy="325.6" r="3.1" fill="#1fe27c" opacity="1"/>
<circle cx="561" cy="325.6" r="3.1" fill="url(#sph)" opacity="1"/>
<circle cx="560.4" cy="325.9" r="3.1" fill="#1fe27c" opacity="1"/>
<circle cx="560.4" cy="325.9" r="3.1" fill="url(#sph)" opacity="1"/>
<circle cx="562.4" cy="327.2" r="3.1" fill="#1fe27c" opacity="1"/>
<circle cx="562.4" cy="327.2" r="3.1" fill="url(#sph)" opacity="1"/>
<circle cx="560.4" cy="327.9" r="3.1" fill="#1fe27c" opacity="1"/>
<circle cx="560.4" cy="327.9" r="3.1" fill="url(#sph)" opacity="1"/>
<circle cx="565.6" cy="328.3" r="3.1" fill="#1fe27c" opacity="1"/>
<circle cx="565.6" cy="328.3" r="3.1" fill="url(#sph)" opacity="1"/>
<circle cx="556.6" cy="329.2" r="3.1" fill="#1fe27c" opacity="1"/>
<circle cx="556.6" cy="329.2" r="3.1" fill="url(#sph)" opacity="1"/>
<circle cx="564.1" cy="331.3" r="3.1" fill="#1fe27c" opacity="1"/>
<circle cx="564.1" cy="331.3" r="3.1" fill="url(#sph)" opacity="1"/>
<circle cx="565" cy="331.5" r="3.1" fill="#1fe27c" opacity="1"/>
<circle cx="565" cy="331.5" r="3.1" fill="url(#sph)" opacity="1"/>
<circle cx="567.1" cy="331.5" r="3.1" fill="#1fe27c" opacity="1"/>
<circle cx="567.1" cy="331.5" r="3.1" fill="url(#sph)" opacity="1"/>
<circle cx="564.5" cy="332.3" r="3.1" fill="#1fe27c" opacity="1"/>
<circle cx="564.5" cy="332.3" r="3.1" fill="url(#sph)" opacity="1"/>
<circle cx="560" cy="332.4" r="3.1" fill="#1fe27c" opacity="1"/>
<circle cx="560" cy="332.4" r="3.1" fill="url(#sph)" opacity="1"/>
<circle cx="560.2" cy="336.8" r="3.1" fill="#1fe27c" opacity="1"/>
<circle cx="560.2" cy="336.8" r="3.1" fill="url(#sph)" opacity="1"/>
<circle cx="557.8" cy="338.6" r="3.1" fill="#1fe27c" opacity="1"/>
<circle cx="557.8" cy="338.6" r="3.1" fill="url(#sph)" opacity="1"/>
<circle cx="555.9" cy="339.6" r="3.1" fill="#1fe27c" opacity="1"/>
<circle cx="555.9" cy="339.6" r="3.1" fill="url(#sph)" opacity="1"/>
<circle cx="560.4" cy="340.2" r="3.1" fill="#1fe27c" opacity="1"/>
<circle cx="560.4" cy="340.2" r="3.1" fill="url(#sph)" opacity="1"/>
<circle cx="559.3" cy="341.6" r="3.1" fill="#1fe27c" opacity="1"/>
<circle cx="559.3" cy="341.6" r="3.1" fill="url(#sph)" opacity="1"/>
<circle cx="558.9" cy="341.8" r="3.1" fill="#1fe27c" opacity="1"/>
<circle cx="558.9" cy="341.8" r="3.1" fill="url(#sph)" opacity="1"/>
<circle cx="557.1" cy="342.8" r="3.1" fill="#1fe27c" opacity="1"/>
<circle cx="557.1" cy="342.8" r="3.1" fill="url(#sph)" opacity="1"/>
<circle cx="571.6" cy="335.5" r="3.1" fill="#d35ad8" opacity="1"/>
<circle cx="571.6" cy="335.5" r="3.1" fill="url(#sph)" opacity="1"/>
<circle cx="574.1" cy="337.7" r="3.1" fill="#d35ad8" opacity="1"/>
<circle cx="574.1" cy="337.7" r="3.1" fill="url(#sph)" opacity="1"/>
<circle cx="573.4" cy="340.1" r="3.1" fill="#d35ad8" opacity="1"/>
<circle cx="573.4" cy="340.1" r="3.1" fill="url(#sph)" opacity="1"/>
<circle cx="571.7" cy="340.8" r="3.1" fill="#d35ad8" opacity="1"/>
<circle cx="571.7" cy="340.8" r="3.1" fill="url(#sph)" opacity="1"/>
<circle cx="575.3" cy="341.3" r="3.1" fill="#d35ad8" opacity="1"/>
<circle cx="575.3" cy="341.3" r="3.1" fill="url(#sph)" opacity="1"/>
<circle cx="568.2" cy="341.5" r="3.1" fill="#d35ad8" opacity="1"/>
<circle cx="568.2" cy="341.5" r="3.1" fill="url(#sph)" opacity="1"/>
<circle cx="570.7" cy="342.4" r="3.1" fill="#d35ad8" opacity="1"/>
<circle cx="570.7" cy="342.4" r="3.1" fill="url(#sph)" opacity="1"/>
<circle cx="596.9" cy="370.9" r="3.1" fill="#d35ad8" opacity="1"/>
<circle cx="596.9" cy="370.9" r="3.1" fill="url(#sph)" opacity="1"/>
<circle cx="592" cy="371.4" r="3.1" fill="#d35ad8" opacity="1"/>
<circle cx="592" cy="371.4" r="3.1" fill="url(#sph)" opacity="1"/>
<circle cx="593.6" cy="371.6" r="3.1" fill="#d35ad8" opacity="1"/>
<circle cx="593.6" cy="371.6" r="3.1" fill="url(#sph)" opacity="1"/>
<circle cx="592.6" cy="371.8" r="3.1" fill="#d35ad8" opacity="1"/>
<circle cx="592.6" cy="371.8" r="3.1" fill="url(#sph)" opacity="1"/>
<circle cx="596.8" cy="371.9" r="3.1" fill="#d35ad8" opacity="1"/>
<circle cx="596.8" cy="371.9" r="3.1" fill="url(#sph)" opacity="1"/>
<circle cx="593.4" cy="372.9" r="3.1" fill="#d35ad8" opacity="1"/>
<circle cx="593.4" cy="372.9" r="3.1" fill="url(#sph)" opacity="1"/>
<circle cx="593.5" cy="373" r="3.1" fill="#d35ad8" opacity="1"/>
<circle cx="593.5" cy="373" r="3.1" fill="url(#sph)" opacity="1"/>
<circle cx="592.6" cy="374.5" r="3.1" fill="#d35ad8" opacity="1"/>
<circle cx="592.6" cy="374.5" r="3.1" fill="url(#sph)" opacity="1"/>
<circle cx="593" cy="374.8" r="3.1" fill="#d35ad8" opacity="1"/>
<circle cx="593" cy="374.8" r="3.1" fill="url(#sph)" opacity="1"/>
<circle cx="521.4" cy="383.8" r="3.1" fill="#d35ad8" opacity="0.8"/>
<circle cx="521.4" cy="383.8" r="3.1" fill="url(#sph)" opacity="0.8"/>
<circle cx="523.5" cy="385.9" r="3.1" fill="#d35ad8" opacity="0.8"/>
<circle cx="523.5" cy="385.9" r="3.1" fill="url(#sph)" opacity="0.8"/>
<circle cx="520.8" cy="386.9" r="3.1" fill="#d35ad8" opacity="0.8"/>
<circle cx="520.8" cy="386.9" r="3.1" fill="url(#sph)" opacity="0.8"/>
<circle cx="519.3" cy="387.1" r="3.1" fill="#d35ad8" opacity="0.8"/>
<circle cx="519.3" cy="387.1" r="3.1" fill="url(#sph)" opacity="0.8"/>
<circle cx="518.6" cy="387.7" r="3.1" fill="#d35ad8" opacity="0.8"/>
<circle cx="518.6" cy="387.7" r="3.1" fill="url(#sph)" opacity="0.8"/>
<circle cx="519.7" cy="387.9" r="3.1" fill="#d35ad8" opacity="0.8"/>
<circle cx="519.7" cy="387.9" r="3.1" fill="url(#sph)" opacity="0.8"/>
<circle cx="521.3" cy="389.2" r="3.1" fill="#d35ad8" opacity="0.8"/>
<circle cx="521.3" cy="389.2" r="3.1" fill="url(#sph)" opacity="0.8"/>
<circle cx="530" cy="348" r="3.1" fill="#e8981f" opacity="0.6"/>
<circle cx="530" cy="348" r="3.1" fill="url(#sph)" opacity="0.6"/>
<circle cx="531" cy="349.9" r="3.1" fill="#e8981f" opacity="0.6"/>
<circle cx="531" cy="349.9" r="3.1" fill="url(#sph)" opacity="0.6"/>
<circle cx="529.5" cy="350.3" r="3.1" fill="#e8981f" opacity="0.6"/>
<circle cx="529.5" cy="350.3" r="3.1" fill="url(#sph)" opacity="0.6"/>
<circle cx="530.3" cy="351.3" r="3.1" fill="#e8981f" opacity="0.6"/>
<circle cx="530.3" cy="351.3" r="3.1" fill="url(#sph)" opacity="0.6"/>
<circle cx="532.1" cy="351.4" r="3.1" fill="#e8981f" opacity="0.6"/>
<circle cx="532.1" cy="351.4" r="3.1" fill="url(#sph)" opacity="0.6"/>
<circle cx="533.2" cy="352.2" r="3.1" fill="#e8981f" opacity="0.6"/>
<circle cx="533.2" cy="352.2" r="3.1" fill="url(#sph)" opacity="0.6"/>
<circle cx="532.8" cy="352.2" r="3.1" fill="#e8981f" opacity="0.6"/>
<circle cx="532.8" cy="352.2" r="3.1" fill="url(#sph)" opacity="0.6"/>
<circle cx="528.6" cy="353" r="3.1" fill="#e8981f" opacity="0.6"/>
<circle cx="528.6" cy="353" r="3.1" fill="url(#sph)" opacity="0.6"/>
<circle cx="533.6" cy="353.7" r="3.1" fill="#e8981f" opacity="0.6"/>
<circle cx="533.6" cy="353.7" r="3.1" fill="url(#sph)" opacity="0.6"/>
</svg>
</body></html>
